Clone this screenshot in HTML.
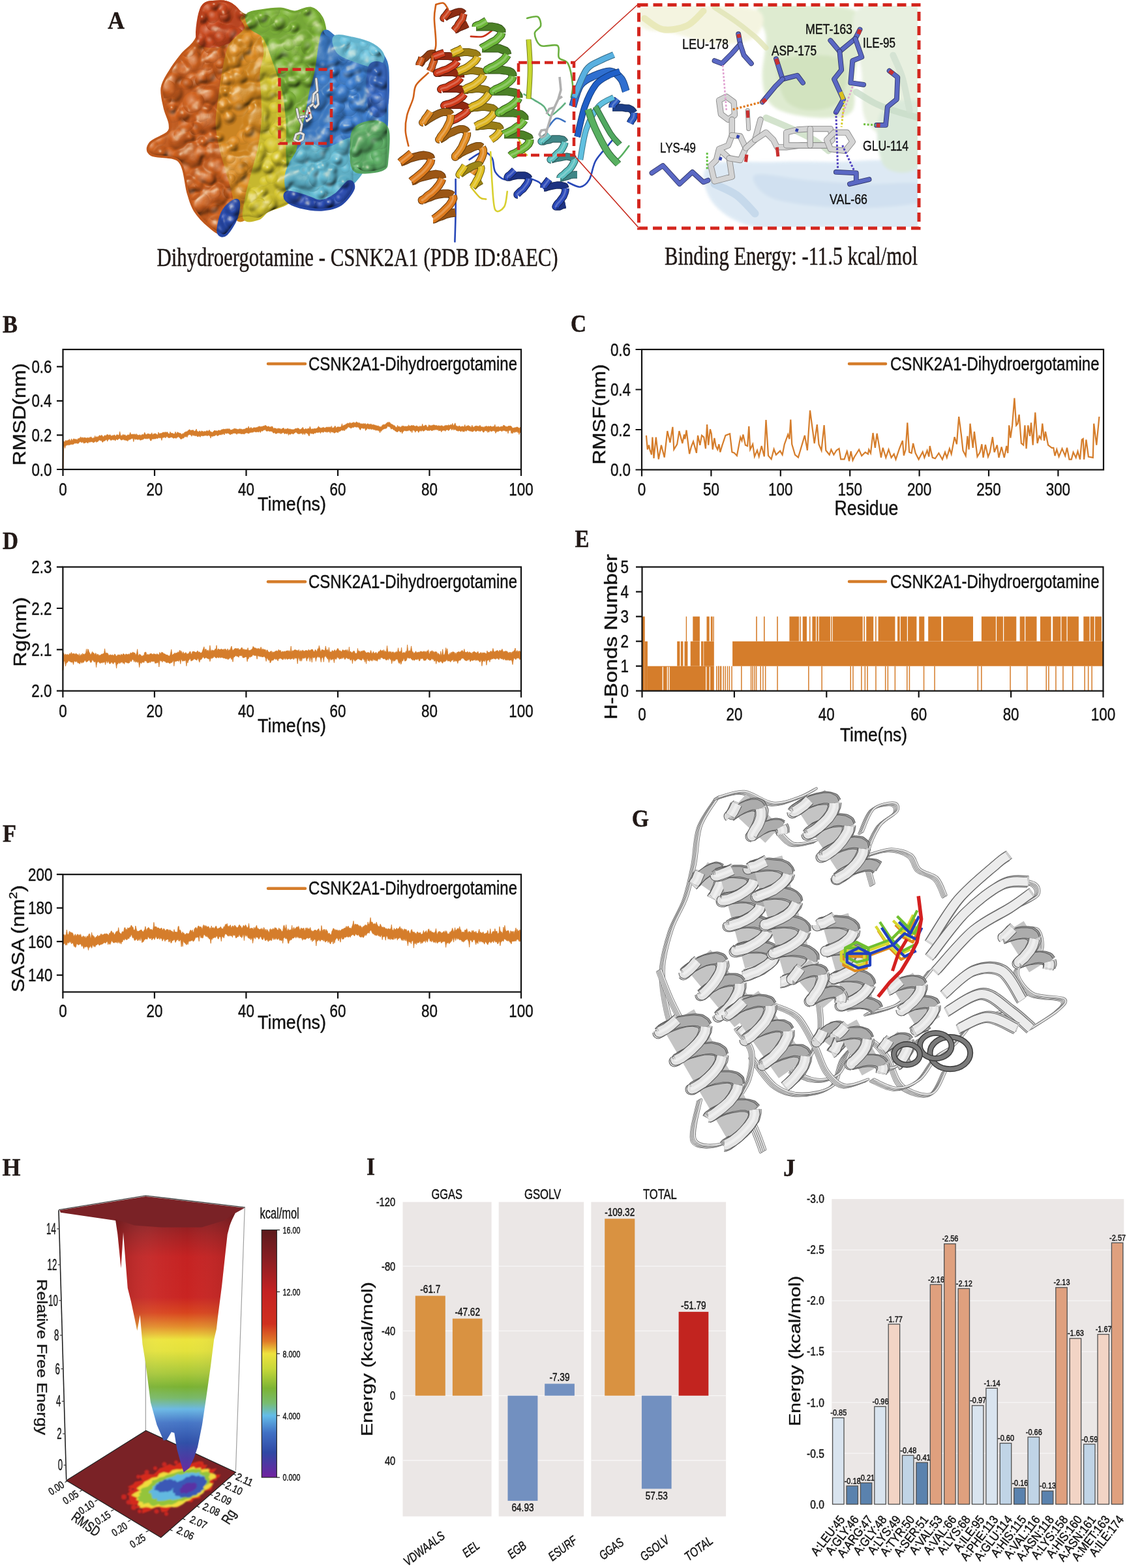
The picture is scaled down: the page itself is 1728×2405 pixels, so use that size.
<!DOCTYPE html>
<html><head><meta charset="utf-8"><title>Figure</title><style>html,body{margin:0;padding:0;background:#fff}svg{display:block}text{stroke:#151515;stroke-width:0.45px;stroke-linejoin:round}</style></head><body>
<svg width="1728" height="2405" viewBox="0 0 1728 2405">
<rect width="1728" height="2405" fill="#fff"/>
<text x="4.0" y="510.0" font-size="38" font-family="'Liberation Serif', 'Times New Roman', serif" fill="#231815" font-weight="bold" textLength="23.0" lengthAdjust="spacingAndGlyphs">B</text>
<path d="M97.6 676.7 98.6 677.7 99.6 677.4 100.6 675.3 101.6 676.4 102.6 675.5 103.6 676.0 104.6 675.1 105.6 675.1 106.6 673.6 107.6 676.5 108.6 676.1 109.6 672.9 110.6 675.2 111.6 675.4 112.6 673.1 113.6 673.1 114.6 673.8 115.6 674.1 116.6 673.3 117.6 674.4 118.6 674.5 119.6 672.6 120.6 673.1 121.6 672.0 122.6 672.2 123.6 669.9 124.6 672.8 125.6 670.8 126.6 671.0 127.6 672.5 128.6 670.9 129.6 671.3 130.6 671.6 131.6 671.4 132.6 672.1 133.6 671.7 134.6 671.2 135.6 671.6 136.6 672.2 137.6 670.6 138.6 671.3 139.6 669.8 140.6 672.0 141.6 671.8 142.6 672.7 143.6 671.1 144.7 671.9 145.7 668.4 146.7 671.3 147.7 670.3 148.7 669.4 149.7 670.9 150.7 669.6 151.7 668.6 152.7 667.7 153.7 668.3 154.7 668.7 155.7 667.3 156.7 668.1 157.7 669.6 158.7 670.2 159.7 668.6 160.7 667.7 161.7 668.3 162.7 668.2 163.7 666.7 164.7 666.7 165.7 666.7 166.7 668.2 167.7 667.2 168.7 666.6 169.7 668.2 170.7 668.4 171.7 668.8 172.7 667.5 173.7 668.4 174.7 667.1 175.7 667.0 176.7 669.1 177.7 668.8 178.7 666.9 179.7 666.8 180.7 667.1 181.7 667.9 182.7 666.8 183.7 661.9 184.7 667.0 185.7 668.9 186.7 667.7 187.7 668.2 188.7 666.1 189.7 667.4 190.7 667.3 191.7 666.7 192.8 668.5 193.8 668.4 194.8 667.9 195.8 667.0 196.8 666.8 197.8 667.8 198.8 666.1 199.8 663.3 200.8 667.1 201.8 666.1 202.8 666.1 203.8 666.2 204.8 666.5 205.8 665.4 206.8 666.8 207.8 666.9 208.8 665.2 209.8 667.7 210.8 666.6 211.8 667.8 212.8 667.6 213.8 667.2 214.8 666.7 215.8 668.6 216.8 667.4 217.8 666.3 218.8 666.5 219.8 666.9 220.8 665.7 221.8 663.2 222.8 665.5 223.8 666.4 224.8 666.8 225.8 665.5 226.8 665.3 227.8 665.4 228.8 665.8 229.8 666.2 230.8 666.0 231.8 666.1 232.8 663.7 233.8 667.0 234.8 666.4 235.8 665.3 236.8 665.5 237.8 664.9 238.8 665.2 239.8 666.0 240.8 666.5 241.9 667.3 242.9 662.9 243.9 665.8 244.9 664.7 245.9 664.7 246.9 665.0 247.9 664.3 248.9 664.1 249.9 662.9 250.9 663.1 251.9 664.1 252.9 662.5 253.9 663.0 254.9 663.4 255.9 662.7 256.9 662.9 257.9 665.0 258.9 665.3 259.9 665.7 260.9 662.3 261.9 664.4 262.9 664.3 263.9 664.5 264.9 664.8 265.9 665.2 266.9 665.8 267.9 665.3 268.9 662.2 269.9 664.8 270.9 665.3 271.9 662.6 272.9 663.8 273.9 663.6 274.9 664.4 275.9 664.5 276.9 664.6 277.9 666.0 278.9 666.2 279.9 665.4 280.9 664.6 281.9 665.5 282.9 662.9 283.9 663.2 284.9 662.0 285.9 662.3 286.9 661.8 287.9 661.0 288.9 660.0 290.0 658.9 291.0 659.1 292.0 660.6 293.0 659.9 294.0 660.1 295.0 660.1 296.0 659.5 297.0 660.4 298.0 662.1 299.0 660.8 300.0 660.9 301.0 658.0 302.0 661.5 303.0 661.4 304.0 663.0 305.0 661.5 306.0 660.9 307.0 661.6 308.0 662.7 309.0 660.7 310.0 661.9 311.0 661.3 312.0 662.9 313.0 661.4 314.0 661.7 315.0 662.2 316.0 661.4 317.0 660.7 318.0 660.6 319.0 661.9 320.0 660.5 321.0 659.4 322.0 661.2 323.0 662.6 324.0 662.1 325.0 663.5 326.0 663.1 327.0 662.1 328.0 661.1 329.0 660.0 330.0 661.0 331.0 660.8 332.0 660.9 333.0 661.1 334.0 661.2 335.0 659.9 336.0 659.9 337.0 660.7 338.0 660.2 339.1 659.5 340.1 658.8 341.1 659.1 342.1 658.3 343.1 658.2 344.1 658.6 345.1 658.5 346.1 657.9 347.1 658.4 348.1 657.6 349.1 658.3 350.1 657.6 351.1 658.4 352.1 657.5 353.1 659.8 354.1 659.6 355.1 659.3 356.1 659.6 357.1 658.1 358.1 658.9 359.1 657.0 360.1 657.9 361.1 657.5 362.1 658.0 363.1 658.2 364.1 658.5 365.1 659.0 366.1 658.2 367.1 657.9 368.1 657.9 369.1 658.2 370.1 658.1 371.1 658.8 372.1 658.9 373.1 658.5 374.1 658.3 375.1 658.1 376.1 658.3 377.1 656.5 378.1 657.1 379.1 656.4 380.1 657.2 381.1 653.9 382.1 656.4 383.1 657.5 384.1 656.1 385.1 655.4 386.1 657.3 387.2 657.1 388.2 656.5 389.2 655.7 390.2 656.1 391.2 656.0 392.2 656.0 393.2 655.9 394.2 655.0 395.2 656.3 396.2 654.0 397.2 654.6 398.2 653.6 399.2 654.7 400.2 655.1 401.2 653.9 402.2 654.4 403.2 653.7 404.2 653.5 405.2 653.4 406.2 652.4 407.2 652.5 408.2 653.2 409.2 653.8 410.2 654.8 411.2 653.8 412.2 654.0 413.2 655.4 414.2 654.5 415.2 655.3 416.2 654.2 417.2 653.8 418.2 655.1 419.2 657.6 420.2 656.6 421.2 657.0 422.2 657.1 423.2 656.9 424.2 657.9 425.2 658.3 426.2 656.7 427.2 657.4 428.2 657.7 429.2 657.0 430.2 658.4 431.2 658.2 432.2 658.1 433.2 657.0 434.2 656.8 435.3 656.7 436.3 658.7 437.3 659.0 438.3 657.4 439.3 658.6 440.3 657.6 441.3 656.8 442.3 658.1 443.3 658.5 444.3 657.7 445.3 658.4 446.3 658.7 447.3 658.8 448.3 658.9 449.3 658.9 450.3 658.9 451.3 658.6 452.3 657.6 453.3 657.6 454.3 657.2 455.3 657.4 456.3 656.6 457.3 657.1 458.3 657.2 459.3 658.7 460.3 658.7 461.3 658.2 462.3 657.4 463.3 657.2 464.3 655.2 465.3 658.0 466.3 658.3 467.3 659.0 468.3 657.4 469.3 657.6 470.3 658.5 471.3 658.1 472.3 657.0 473.3 657.5 474.3 657.4 475.3 654.1 476.3 657.1 477.3 658.5 478.3 658.1 479.3 657.8 480.3 658.3 481.3 657.3 482.3 657.6 483.3 657.5 484.4 657.5 485.4 657.2 486.4 656.4 487.4 655.9 488.4 653.7 489.4 655.9 490.4 655.6 491.4 656.6 492.4 656.8 493.4 656.1 494.4 656.3 495.4 655.2 496.4 655.8 497.4 656.2 498.4 656.6 499.4 656.0 500.4 654.9 501.4 655.6 502.4 655.2 503.4 654.9 504.4 655.7 505.4 655.1 506.4 654.7 507.4 656.5 508.4 653.4 509.4 656.5 510.4 656.5 511.4 655.8 512.4 655.9 513.4 653.4 514.4 653.8 515.4 657.2 516.4 655.3 517.4 654.9 518.4 654.8 519.4 654.9 520.4 655.0 521.4 655.1 522.4 654.7 523.4 653.9 524.4 649.8 525.4 654.1 526.4 652.8 527.4 652.1 528.4 652.0 529.4 651.9 530.4 650.3 531.4 650.9 532.5 648.9 533.5 649.4 534.5 649.2 535.5 649.6 536.5 647.9 537.5 648.8 538.5 649.8 539.5 648.5 540.5 648.4 541.5 648.5 542.5 647.3 543.5 648.9 544.5 648.8 545.5 648.2 546.5 646.8 547.5 648.0 548.5 648.0 549.5 649.4 550.5 647.9 551.5 649.5 552.5 649.3 553.5 650.6 554.5 649.8 555.5 650.0 556.5 650.7 557.5 649.2 558.5 650.4 559.5 649.8 560.5 649.7 561.5 651.9 562.5 650.4 563.5 649.9 564.5 650.1 565.5 650.9 566.5 650.7 567.5 651.2 568.5 649.9 569.5 651.0 570.5 651.7 571.5 651.5 572.5 651.2 573.5 651.7 574.5 652.0 575.5 652.2 576.5 652.7 577.5 652.8 578.5 653.4 579.5 653.1 580.5 653.2 581.6 654.9 582.6 654.0 583.6 654.9 584.6 654.8 585.6 652.9 586.6 651.9 587.6 651.0 588.6 651.7 589.6 651.1 590.6 651.3 591.6 649.9 592.6 649.1 593.6 648.4 594.6 647.4 595.6 648.2 596.6 647.2 597.6 648.0 598.6 649.1 599.6 650.5 600.6 650.5 601.6 651.2 602.6 651.4 603.6 652.9 604.6 652.5 605.6 653.3 606.6 655.5 607.6 655.0 608.6 655.9 609.6 652.3 610.6 654.6 611.6 654.4 612.6 653.9 613.6 655.7 614.6 654.8 615.6 654.7 616.6 652.8 617.6 654.2 618.6 652.9 619.6 654.2 620.6 654.2 621.6 653.7 622.6 654.3 623.6 654.0 624.6 653.8 625.6 654.3 626.6 651.7 627.6 654.1 628.6 653.3 629.7 653.4 630.7 652.6 631.7 652.6 632.7 653.2 633.7 652.1 634.7 653.3 635.7 653.4 636.7 653.9 637.7 653.7 638.7 653.0 639.7 653.2 640.7 655.1 641.7 654.1 642.7 655.3 643.7 653.1 644.7 654.6 645.7 653.6 646.7 654.5 647.7 650.2 648.7 653.7 649.7 653.6 650.7 653.5 651.7 652.0 652.7 652.2 653.7 652.2 654.7 654.9 655.7 655.2 656.7 654.3 657.7 651.5 658.7 652.9 659.7 652.6 660.7 653.1 661.7 652.8 662.7 652.4 663.7 652.2 664.7 651.7 665.7 652.0 666.7 652.0 667.7 653.0 668.7 652.4 669.7 652.4 670.7 653.9 671.7 652.7 672.7 652.9 673.7 653.5 674.7 652.8 675.7 654.1 676.7 652.6 677.8 653.1 678.8 653.4 679.8 654.2 680.8 653.7 681.8 653.1 682.8 652.2 683.8 653.1 684.8 652.2 685.8 652.6 686.8 653.0 687.8 651.4 688.8 652.4 689.8 652.5 690.8 651.4 691.8 651.0 692.8 653.2 693.8 649.3 694.8 652.3 695.8 652.8 696.8 650.8 697.8 648.8 698.8 652.1 699.8 653.8 700.8 653.4 701.8 654.1 702.8 654.4 703.8 653.1 704.8 653.3 705.8 654.9 706.8 654.5 707.8 654.0 708.8 654.3 709.8 653.7 710.8 654.9 711.8 653.9 712.8 651.4 713.8 655.1 714.8 654.0 715.8 653.0 716.8 654.1 717.8 652.2 718.8 653.3 719.8 654.0 720.8 653.7 721.8 655.7 722.8 655.0 723.8 652.1 724.8 655.1 725.8 654.8 726.9 655.4 727.9 653.8 728.9 653.5 729.9 653.4 730.9 653.1 731.9 654.0 732.9 653.8 733.9 653.9 734.9 654.1 735.9 652.1 736.9 654.0 737.9 654.8 738.9 655.0 739.9 654.5 740.9 656.1 741.9 654.4 742.9 655.7 743.9 653.7 744.9 654.6 745.9 653.1 746.9 655.2 747.9 654.2 748.9 653.4 749.9 654.6 750.9 654.1 751.9 653.6 752.9 653.9 753.9 654.5 754.9 654.9 755.9 654.0 756.9 654.2 757.9 653.9 758.9 651.2 759.9 656.0 760.9 654.3 761.9 655.1 762.9 655.0 763.9 653.7 764.9 654.7 765.9 655.5 766.9 654.8 767.9 654.8 768.9 653.8 769.9 654.6 770.9 654.3 771.9 652.0 772.9 652.7 773.9 652.9 775.0 653.7 776.0 654.7 777.0 654.3 778.0 655.1 779.0 653.7 780.0 653.4 781.0 653.5 782.0 653.4 783.0 653.4 784.0 654.0 785.0 655.4 786.0 656.4 787.0 657.1 788.0 655.8 789.0 656.3 790.0 656.0 791.0 655.4 792.0 655.3 793.0 655.1 794.0 655.3 795.0 656.2 796.0 656.9 797.0 656.6 798.0 655.0 799.0 656.1 799.0 662.6 798.0 663.4 797.0 663.2 796.0 666.5 795.0 662.4 794.0 663.7 793.0 661.5 792.0 662.2 791.0 663.0 790.0 661.2 789.0 663.7 788.0 661.9 787.0 663.1 786.0 665.0 785.0 663.0 784.0 664.7 783.0 659.1 782.0 660.7 781.0 659.7 780.0 660.8 779.0 664.8 778.0 660.6 777.0 661.3 776.0 661.4 775.0 661.2 773.9 660.1 772.9 660.8 771.9 660.2 770.9 659.9 769.9 661.7 768.9 661.5 767.9 660.3 766.9 660.5 765.9 660.5 764.9 661.3 763.9 661.8 762.9 661.8 761.9 661.7 760.9 662.6 759.9 664.5 758.9 660.6 757.9 661.5 756.9 660.4 755.9 660.6 754.9 661.2 753.9 661.2 752.9 662.0 751.9 660.5 750.9 659.9 749.9 662.9 748.9 660.6 747.9 663.4 746.9 660.2 745.9 661.6 744.9 660.5 743.9 660.2 742.9 661.3 741.9 662.9 740.9 663.0 739.9 661.3 738.9 660.3 737.9 659.8 736.9 661.6 735.9 661.5 734.9 660.6 733.9 661.4 732.9 660.4 731.9 659.9 730.9 661.4 729.9 661.6 728.9 661.8 727.9 659.7 726.9 660.6 725.8 661.4 724.8 661.9 723.8 662.1 722.8 661.4 721.8 660.8 720.8 661.6 719.8 660.6 718.8 660.5 717.8 660.0 716.8 659.2 715.8 660.6 714.8 661.4 713.8 660.8 712.8 659.7 711.8 662.4 710.8 661.3 709.8 662.4 708.8 660.4 707.8 660.5 706.8 662.2 705.8 661.2 704.8 660.7 703.8 660.4 702.8 661.4 701.8 660.8 700.8 660.5 699.8 660.4 698.8 659.0 697.8 658.8 696.8 658.6 695.8 659.9 694.8 657.6 693.8 658.2 692.8 659.9 691.8 657.4 690.8 657.4 689.8 658.6 688.8 659.2 687.8 660.7 686.8 659.5 685.8 658.9 684.8 659.4 683.8 659.6 682.8 661.4 681.8 660.1 680.8 660.0 679.8 660.1 678.8 660.1 677.8 660.8 676.7 662.7 675.7 659.2 674.7 661.0 673.7 659.7 672.7 661.1 671.7 658.8 670.7 659.4 669.7 659.2 668.7 658.4 667.7 659.6 666.7 658.4 665.7 659.9 664.7 659.3 663.7 660.1 662.7 660.4 661.7 660.6 660.7 659.8 659.7 659.5 658.7 660.5 657.7 660.2 656.7 660.1 655.7 660.6 654.7 659.9 653.7 659.6 652.7 659.0 651.7 659.7 650.7 660.8 649.7 660.9 648.7 661.4 647.7 659.7 646.7 660.3 645.7 661.7 644.7 660.2 643.7 660.2 642.7 661.9 641.7 663.4 640.7 661.0 639.7 660.4 638.7 660.9 637.7 661.0 636.7 663.2 635.7 660.1 634.7 660.7 633.7 659.6 632.7 660.0 631.7 663.7 630.7 660.3 629.7 661.8 628.6 660.4 627.6 659.8 626.6 660.1 625.6 661.0 624.6 660.4 623.6 661.1 622.6 660.9 621.6 660.7 620.6 660.6 619.6 659.9 618.6 662.0 617.6 662.4 616.6 665.1 615.6 661.2 614.6 662.7 613.6 662.7 612.6 661.0 611.6 660.7 610.6 661.4 609.6 662.4 608.6 662.4 607.6 662.1 606.6 661.0 605.6 661.0 604.6 658.9 603.6 659.6 602.6 658.6 601.6 657.3 600.6 657.7 599.6 658.2 598.6 655.5 597.6 655.2 596.6 653.9 595.6 654.6 594.6 653.6 593.6 654.9 592.6 657.0 591.6 657.0 590.6 657.7 589.6 657.2 588.6 658.2 587.6 658.0 586.6 659.3 585.6 659.4 584.6 661.6 583.6 660.3 582.6 663.9 581.6 660.8 580.5 660.8 579.5 660.1 578.5 660.2 577.5 659.2 576.5 660.5 575.5 659.5 574.5 658.8 573.5 659.6 572.5 658.0 571.5 658.7 570.5 657.5 569.5 658.9 568.5 658.3 567.5 656.9 566.5 658.4 565.5 657.8 564.5 657.9 563.5 656.2 562.5 658.5 561.5 658.8 560.5 660.5 559.5 656.4 558.5 657.1 557.5 657.1 556.5 657.6 555.5 656.3 554.5 656.5 553.5 657.5 552.5 659.5 551.5 658.5 550.5 656.2 549.5 655.7 548.5 654.2 547.5 655.6 546.5 655.0 545.5 654.8 544.5 654.9 543.5 654.3 542.5 655.4 541.5 655.8 540.5 655.3 539.5 656.1 538.5 656.7 537.5 656.8 536.5 655.8 535.5 655.6 534.5 654.8 533.5 655.1 532.5 656.8 531.4 657.3 530.4 658.8 529.4 657.5 528.4 661.0 527.4 659.0 526.4 660.3 525.4 660.1 524.4 659.9 523.4 659.5 522.4 661.0 521.4 661.3 520.4 661.9 519.4 661.4 518.4 663.8 517.4 663.0 516.4 663.0 515.4 662.2 514.4 663.5 513.4 663.5 512.4 664.4 511.4 663.5 510.4 662.4 509.4 663.0 508.4 662.7 507.4 661.5 506.4 664.4 505.4 661.3 504.4 662.8 503.4 661.9 502.4 662.2 501.4 663.4 500.4 661.9 499.4 662.3 498.4 662.6 497.4 661.5 496.4 662.8 495.4 663.6 494.4 662.5 493.4 662.7 492.4 662.5 491.4 664.7 490.4 662.2 489.4 662.9 488.4 663.2 487.4 663.2 486.4 663.6 485.4 663.0 484.4 663.8 483.3 664.5 482.3 664.0 481.3 664.7 480.3 666.0 479.3 665.0 478.3 664.4 477.3 665.5 476.3 663.8 475.3 664.2 474.3 668.5 473.3 668.2 472.3 665.3 471.3 665.3 470.3 664.0 469.3 664.1 468.3 664.1 467.3 666.7 466.3 664.5 465.3 664.6 464.3 666.7 463.3 663.9 462.3 664.9 461.3 664.6 460.3 664.2 459.3 666.0 458.3 664.0 457.3 666.0 456.3 664.2 455.3 664.2 454.3 662.8 453.3 662.8 452.3 663.9 451.3 664.1 450.3 665.4 449.3 665.7 448.3 665.2 447.3 664.7 446.3 665.5 445.3 666.1 444.3 666.3 443.3 664.9 442.3 667.6 441.3 663.5 440.3 665.2 439.3 665.4 438.3 664.8 437.3 664.7 436.3 665.7 435.3 663.8 434.2 663.4 433.2 664.1 432.2 663.9 431.2 665.3 430.2 665.2 429.2 663.5 428.2 664.4 427.2 663.9 426.2 663.8 425.2 664.2 424.2 665.1 423.2 665.0 422.2 665.1 421.2 663.1 420.2 664.1 419.2 664.2 418.2 663.0 417.2 661.5 416.2 661.7 415.2 661.3 414.2 661.3 413.2 661.7 412.2 661.0 411.2 660.7 410.2 661.2 409.2 661.2 408.2 661.1 407.2 659.6 406.2 658.8 405.2 659.8 404.2 659.2 403.2 660.9 402.2 661.3 401.2 660.6 400.2 661.8 399.2 663.5 398.2 660.5 397.2 662.3 396.2 663.0 395.2 661.9 394.2 662.2 393.2 663.0 392.2 662.0 391.2 662.9 390.2 661.4 389.2 662.4 388.2 662.8 387.2 663.3 386.1 662.7 385.1 663.5 384.1 663.1 383.1 663.4 382.1 664.5 381.1 665.1 380.1 664.1 379.1 664.2 378.1 663.7 377.1 664.0 376.1 664.4 375.1 665.4 374.1 666.0 373.1 664.9 372.1 665.3 371.1 665.6 370.1 665.0 369.1 665.7 368.1 664.0 367.1 665.0 366.1 664.8 365.1 664.5 364.1 664.8 363.1 666.3 362.1 664.8 361.1 664.8 360.1 664.4 359.1 664.1 358.1 664.7 357.1 664.2 356.1 665.8 355.1 665.7 354.1 665.3 353.1 667.0 352.1 665.8 351.1 665.1 350.1 664.7 349.1 664.1 348.1 664.5 347.1 665.1 346.1 664.6 345.1 663.8 344.1 667.0 343.1 664.8 342.1 665.6 341.1 666.5 340.1 665.5 339.1 667.2 338.0 666.5 337.0 666.5 336.0 667.1 335.0 667.7 334.0 668.1 333.0 668.6 332.0 666.6 331.0 667.1 330.0 668.0 329.0 668.2 328.0 668.8 327.0 668.5 326.0 669.6 325.0 668.9 324.0 668.9 323.0 672.1 322.0 668.4 321.0 668.5 320.0 667.3 319.0 668.1 318.0 668.2 317.0 668.3 316.0 667.6 315.0 668.0 314.0 667.9 313.0 667.9 312.0 669.0 311.0 667.5 310.0 669.1 309.0 667.8 308.0 668.2 307.0 670.4 306.0 669.2 305.0 668.3 304.0 669.8 303.0 669.7 302.0 669.1 301.0 667.3 300.0 669.0 299.0 667.4 298.0 668.6 297.0 667.6 296.0 667.9 295.0 666.3 294.0 669.3 293.0 667.3 292.0 666.9 291.0 666.6 290.0 666.2 288.9 667.6 287.9 667.8 286.9 670.8 285.9 668.5 284.9 670.2 283.9 669.8 282.9 669.5 281.9 671.8 280.9 672.1 279.9 671.8 278.9 673.1 277.9 673.2 276.9 673.4 275.9 671.7 274.9 670.9 273.9 669.8 272.9 670.1 271.9 671.1 270.9 670.9 269.9 672.6 268.9 671.4 267.9 671.4 266.9 672.1 265.9 672.2 264.9 671.4 263.9 670.7 262.9 670.7 261.9 670.0 260.9 671.4 259.9 671.4 258.9 670.9 257.9 671.7 256.9 669.7 255.9 669.7 254.9 669.8 253.9 672.0 252.9 669.7 251.9 671.1 250.9 670.8 249.9 671.2 248.9 671.2 247.9 675.4 246.9 671.2 245.9 671.5 244.9 672.0 243.9 671.2 242.9 671.2 241.9 672.7 240.8 672.3 239.8 671.9 238.8 673.1 237.8 672.9 236.8 673.0 235.8 673.3 234.8 673.1 233.8 673.5 232.8 672.9 231.8 676.0 230.8 675.9 229.8 673.7 228.8 672.0 227.8 672.4 226.8 672.5 225.8 673.2 224.8 672.6 223.8 673.1 222.8 673.0 221.8 671.9 220.8 673.0 219.8 673.7 218.8 673.9 217.8 674.6 216.8 674.5 215.8 674.9 214.8 675.2 213.8 673.8 212.8 673.6 211.8 674.6 210.8 674.0 209.8 673.8 208.8 673.2 207.8 674.4 206.8 673.1 205.8 672.8 204.8 677.5 203.8 672.1 202.8 672.7 201.8 672.7 200.8 673.1 199.8 674.1 198.8 673.9 197.8 674.8 196.8 674.2 195.8 676.8 194.8 675.1 193.8 675.5 192.8 675.4 191.7 674.5 190.7 675.2 189.7 674.3 188.7 673.7 187.7 674.7 186.7 674.8 185.7 675.1 184.7 673.9 183.7 672.2 182.7 673.0 181.7 672.9 180.7 674.4 179.7 674.7 178.7 673.5 177.7 674.2 176.7 676.2 175.7 674.1 174.7 674.7 173.7 674.8 172.7 674.1 171.7 674.8 170.7 675.1 169.7 675.4 168.7 674.1 167.7 673.1 166.7 674.2 165.7 674.2 164.7 677.1 163.7 674.3 162.7 674.3 161.7 675.4 160.7 676.1 159.7 676.4 158.7 676.0 157.7 678.3 156.7 678.0 155.7 675.0 154.7 676.3 153.7 675.2 152.7 675.0 151.7 675.0 150.7 676.6 149.7 677.7 148.7 677.2 147.7 678.5 146.7 676.5 145.7 677.4 144.7 678.1 143.6 678.8 142.6 678.7 141.6 677.5 140.6 678.1 139.6 677.0 138.6 678.0 137.6 678.4 136.6 677.5 135.6 678.7 134.6 680.0 133.6 678.7 132.6 678.2 131.6 678.5 130.6 679.5 129.6 679.0 128.6 680.2 127.6 678.5 126.6 677.3 125.6 679.2 124.6 678.0 123.6 677.8 122.6 677.6 121.6 678.5 120.6 679.8 119.6 680.3 118.6 680.1 117.6 679.8 116.6 679.7 115.6 680.1 114.6 679.5 113.6 680.8 112.6 681.3 111.6 681.2 110.6 681.9 109.6 681.3 108.6 681.6 107.6 682.1 106.6 682.6 105.6 682.1 104.6 682.9 103.6 682.2 102.6 682.8 101.6 683.3 100.6 683.2 99.6 687.5 98.6 683.9 97.6 684.2Z" fill="#d57d2b" stroke="#d57d2b" stroke-width="0.8" stroke-linejoin="round"/>
<path d="M96.5 720.0 96.9 699.0 97.2 685.8 97.9 680.6" fill="none" stroke="#d57d2b" stroke-width="2.0" stroke-linejoin="round"/>
<rect x="96.5" y="536.0" width="702.5" height="184.0" fill="none" stroke="#111" stroke-width="2.2"/>
<path d="M96.5 720.0V730.0M237.0 720.0V730.0M377.5 720.0V730.0M518.0 720.0V730.0M658.5 720.0V730.0M799.0 720.0V730.0M96.5 720.0H87.0M96.5 667.4H87.0M96.5 614.9H87.0M96.5 562.3H87.0" stroke="#111" stroke-width="2.2" fill="none"/>
<text x="96.5" y="760.0" font-size="28" font-family="'Liberation Sans', Arial, sans-serif" fill="#111" text-anchor="middle" textLength="12.5" lengthAdjust="spacingAndGlyphs">0</text>
<text x="237.0" y="760.0" font-size="28" font-family="'Liberation Sans', Arial, sans-serif" fill="#111" text-anchor="middle" textLength="24.9" lengthAdjust="spacingAndGlyphs">20</text>
<text x="377.5" y="760.0" font-size="28" font-family="'Liberation Sans', Arial, sans-serif" fill="#111" text-anchor="middle" textLength="24.9" lengthAdjust="spacingAndGlyphs">40</text>
<text x="518.0" y="760.0" font-size="28" font-family="'Liberation Sans', Arial, sans-serif" fill="#111" text-anchor="middle" textLength="24.9" lengthAdjust="spacingAndGlyphs">60</text>
<text x="658.5" y="760.0" font-size="28" font-family="'Liberation Sans', Arial, sans-serif" fill="#111" text-anchor="middle" textLength="24.9" lengthAdjust="spacingAndGlyphs">80</text>
<text x="799.0" y="760.0" font-size="28" font-family="'Liberation Sans', Arial, sans-serif" fill="#111" text-anchor="middle" textLength="37.4" lengthAdjust="spacingAndGlyphs">100</text>
<text x="79.5" y="729.5" font-size="28" font-family="'Liberation Sans', Arial, sans-serif" fill="#111" text-anchor="end" textLength="31.1" lengthAdjust="spacingAndGlyphs">0.0</text>
<text x="79.5" y="676.9" font-size="28" font-family="'Liberation Sans', Arial, sans-serif" fill="#111" text-anchor="end" textLength="31.1" lengthAdjust="spacingAndGlyphs">0.2</text>
<text x="79.5" y="624.4" font-size="28" font-family="'Liberation Sans', Arial, sans-serif" fill="#111" text-anchor="end" textLength="31.1" lengthAdjust="spacingAndGlyphs">0.4</text>
<text x="79.5" y="571.8" font-size="28" font-family="'Liberation Sans', Arial, sans-serif" fill="#111" text-anchor="end" textLength="31.1" lengthAdjust="spacingAndGlyphs">0.6</text>
<line x1="411" y1="558" x2="468" y2="558" stroke="#d57d2b" stroke-width="4.5" stroke-linecap="round"/>
<text x="473.0" y="568.0" font-size="29" font-family="'Liberation Sans', Arial, sans-serif" fill="#111" textLength="320.0" lengthAdjust="spacingAndGlyphs">CSNK2A1-Dihydroergotamine</text>
<text x="395.0" y="783.0" font-size="29.5" font-family="'Liberation Sans', Arial, sans-serif" fill="#111" textLength="105.0" lengthAdjust="spacingAndGlyphs">Time(ns)</text>
<text font-size="31" font-family="'Liberation Sans', Arial, sans-serif" fill="#111" text-anchor="middle" textLength="157.0" lengthAdjust="spacingAndGlyphs" transform="translate(39.0 635.5) rotate(-90) scale(1 0.87)">RMSD(nm)</text>
<text x="875.0" y="508.6" font-size="38" font-family="'Liberation Serif', 'Times New Roman', serif" fill="#231815" font-weight="bold" textLength="24.0" lengthAdjust="spacingAndGlyphs">C</text>
<path d="M990.9 667.9 992.8 689.5 995.0 682.7 996.3 689.5 999.0 697.5 1000.4 670.6 1002.5 702.9 1005.8 670.6 1009.8 704.3 1013.9 682.7 1018.7 701.6 1023.3 661.1 1027.4 678.7 1031.4 654.9 1033.3 689.5 1038.2 681.4 1041.4 661.1 1046.3 680.0 1049.0 666.5 1050.3 673.3 1052.5 659.8 1057.1 696.2 1059.8 685.4 1063.0 677.3 1067.9 694.8 1070.0 667.9 1073.3 682.7 1076.0 667.9 1079.2 670.6 1081.9 688.1 1084.1 651.1 1086.2 682.7 1088.9 658.4 1090.8 665.2 1092.7 689.5 1095.4 671.9 1097.5 684.1 1100.2 689.5 1102.4 681.4 1104.3 693.5 1107.0 684.1 1112.4 667.9 1119.1 665.2 1122.4 693.5 1125.9 694.8 1129.9 698.9 1135.3 670.6 1137.5 676.0 1139.4 666.5 1142.9 682.7 1146.1 684.1 1148.3 653.8 1150.2 689.5 1154.2 681.4 1156.9 700.2 1161.0 690.8 1163.7 700.2 1167.7 684.1 1171.8 700.2 1174.5 644.1 1178.0 698.9 1182.6 704.3 1186.6 688.9 1189.9 697.5 1196.1 691.6 1199.6 697.5 1202.8 681.4 1208.2 666.5 1210.4 673.3 1212.3 643.6 1214.2 681.4 1219.0 697.5 1223.9 701.6 1233.9 667.9 1237.9 690.8 1242.0 629.5 1248.7 680.0 1252.8 651.1 1255.5 681.4 1259.5 690.8 1263.6 652.2 1266.3 690.8 1271.7 697.5 1274.4 689.5 1278.4 697.5 1282.5 690.8 1286.5 688.1 1289.2 704.3 1294.6 704.3 1298.7 692.2 1299.2 693.6 1302.0 707.4 1304.7 692.3 1307.5 706.0 1310.2 700.5 1317.1 689.5 1321.2 699.1 1326.7 693.6 1330.9 696.4 1332.2 689.5 1335.0 695.0 1338.5 664.0 1341.8 686.8 1344.6 664.8 1348.7 688.1 1350.9 701.9 1353.7 686.8 1358.3 701.9 1362.5 689.5 1366.6 701.9 1370.7 696.4 1373.5 704.6 1379.0 688.1 1383.9 675.8 1385.8 698.6 1388.6 689.5 1391.3 648.3 1394.1 693.6 1397.6 695.0 1400.1 679.9 1403.7 695.0 1408.6 704.6 1414.7 693.1 1417.4 701.9 1421.6 690.9 1424.3 700.5 1425.7 684.0 1429.8 701.9 1433.9 703.3 1439.4 695.0 1444.9 704.6 1449.0 693.6 1451.8 701.9 1455.9 688.1 1458.7 696.4 1463.6 670.3 1466.9 681.3 1470.2 639.2 1473.8 666.2 1476.5 690.9 1480.7 699.1 1483.4 668.9 1485.6 689.5 1487.5 649.7 1491.7 686.8 1493.9 662.0 1498.5 700.5 1502.6 693.6 1505.4 681.3 1507.6 701.9 1510.9 682.1 1515.0 700.5 1517.8 693.6 1521.9 670.3 1524.6 693.6 1528.8 682.6 1531.5 701.9 1535.6 685.4 1539.8 701.9 1543.3 684.0 1545.3 695.0 1547.2 652.4 1549.4 671.7 1552.1 652.4 1555.4 610.6 1558.2 652.4 1560.4 649.7 1562.6 635.9 1565.9 679.9 1569.2 682.6 1571.4 652.4 1573.6 688.1 1576.3 652.4 1579.1 668.9 1581.0 648.3 1583.7 682.6 1587.3 632.6 1590.6 679.9 1593.4 668.9 1596.1 673.0 1598.3 649.7 1601.1 675.8 1603.0 662.0 1607.1 682.6 1612.6 686.8 1615.3 686.8 1617.5 699.1 1620.3 689.5 1623.6 700.5 1628.5 688.1 1633.2 699.1 1636.0 686.8 1639.5 704.6 1642.8 704.6 1645.6 693.6 1649.7 701.9 1652.5 692.3 1656.0 704.6 1658.8 674.4 1660.7 673.0 1662.1 704.6 1665.4 674.4 1668.9 700.5 1675.8 701.9 1677.2 649.7 1681.3 682.6 1685.4 639.2" fill="none" stroke="#d57d2b" stroke-width="2.2" stroke-linejoin="miter"/>
<rect x="984.0" y="536.0" width="708.0" height="184.5" fill="none" stroke="#111" stroke-width="2.2"/>
<path d="M984.0 720.5V730.5M1090.4 720.5V730.5M1196.8 720.5V730.5M1303.2 720.5V730.5M1409.6 720.5V730.5M1516.0 720.5V730.5M1622.4 720.5V730.5M984.0 720.5H974.5M984.0 659.0H974.5M984.0 597.5H974.5M984.0 536.0H974.5" stroke="#111" stroke-width="2.2" fill="none"/>
<text x="984.0" y="760.0" font-size="28" font-family="'Liberation Sans', Arial, sans-serif" fill="#111" text-anchor="middle" textLength="12.5" lengthAdjust="spacingAndGlyphs">0</text>
<text x="1090.4" y="760.0" font-size="28" font-family="'Liberation Sans', Arial, sans-serif" fill="#111" text-anchor="middle" textLength="24.9" lengthAdjust="spacingAndGlyphs">50</text>
<text x="1196.8" y="760.0" font-size="28" font-family="'Liberation Sans', Arial, sans-serif" fill="#111" text-anchor="middle" textLength="37.4" lengthAdjust="spacingAndGlyphs">100</text>
<text x="1303.2" y="760.0" font-size="28" font-family="'Liberation Sans', Arial, sans-serif" fill="#111" text-anchor="middle" textLength="37.4" lengthAdjust="spacingAndGlyphs">150</text>
<text x="1409.6" y="760.0" font-size="28" font-family="'Liberation Sans', Arial, sans-serif" fill="#111" text-anchor="middle" textLength="37.4" lengthAdjust="spacingAndGlyphs">200</text>
<text x="1516.0" y="760.0" font-size="28" font-family="'Liberation Sans', Arial, sans-serif" fill="#111" text-anchor="middle" textLength="37.4" lengthAdjust="spacingAndGlyphs">250</text>
<text x="1622.4" y="760.0" font-size="28" font-family="'Liberation Sans', Arial, sans-serif" fill="#111" text-anchor="middle" textLength="37.4" lengthAdjust="spacingAndGlyphs">300</text>
<text x="967.0" y="730.0" font-size="28" font-family="'Liberation Sans', Arial, sans-serif" fill="#111" text-anchor="end" textLength="31.1" lengthAdjust="spacingAndGlyphs">0.0</text>
<text x="967.0" y="668.5" font-size="28" font-family="'Liberation Sans', Arial, sans-serif" fill="#111" text-anchor="end" textLength="31.1" lengthAdjust="spacingAndGlyphs">0.2</text>
<text x="967.0" y="607.0" font-size="28" font-family="'Liberation Sans', Arial, sans-serif" fill="#111" text-anchor="end" textLength="31.1" lengthAdjust="spacingAndGlyphs">0.4</text>
<text x="967.0" y="545.5" font-size="28" font-family="'Liberation Sans', Arial, sans-serif" fill="#111" text-anchor="end" textLength="31.1" lengthAdjust="spacingAndGlyphs">0.6</text>
<line x1="1302" y1="558" x2="1358" y2="558" stroke="#d57d2b" stroke-width="4.5" stroke-linecap="round"/>
<text x="1365.0" y="567.5" font-size="29" font-family="'Liberation Sans', Arial, sans-serif" fill="#111" textLength="320.5" lengthAdjust="spacingAndGlyphs">CSNK2A1-Dihydroergotamine</text>
<text x="1279.6" y="789.9" font-size="31" font-family="'Liberation Sans', Arial, sans-serif" fill="#111" textLength="97.7" lengthAdjust="spacingAndGlyphs">Residue</text>
<text font-size="31" font-family="'Liberation Sans', Arial, sans-serif" fill="#111" text-anchor="middle" textLength="154.0" lengthAdjust="spacingAndGlyphs" transform="translate(928.0 635.5) rotate(-90) scale(1 0.87)">RMSF(nm)</text>
<text x="4.0" y="841.8" font-size="38" font-family="'Liberation Serif', 'Times New Roman', serif" fill="#231815" font-weight="bold" textLength="24.0" lengthAdjust="spacingAndGlyphs">D</text>
<path d="M97.5 1001.5 98.5 1003.8 99.5 1005.4 100.5 1003.0 101.5 1003.8 102.5 1005.2 103.5 1003.2 104.5 1004.6 105.5 1004.9 106.5 1002.2 107.5 1003.7 108.5 1002.0 109.5 1000.5 110.5 1004.4 111.5 1002.3 112.5 1002.8 113.5 1002.2 114.5 1003.3 115.5 1004.0 116.5 1001.8 117.5 1003.6 118.5 1003.7 119.5 1004.1 120.5 1006.2 121.5 1002.5 122.5 1006.7 123.5 1005.1 124.5 1003.4 125.5 1005.9 126.5 1001.9 127.5 1003.9 128.5 1003.0 129.5 1004.3 130.5 1002.4 131.5 1002.2 132.5 995.5 133.5 1002.9 134.5 995.5 135.5 996.2 136.5 1000.2 137.5 1000.9 138.5 1004.3 139.5 1003.4 140.5 1002.0 141.6 999.5 142.6 1001.7 143.6 1001.3 144.6 1002.8 145.6 1004.5 146.6 1001.6 147.6 1002.9 148.6 1005.5 149.6 1003.2 150.6 1003.7 151.6 1005.7 152.6 1004.9 153.6 1005.1 154.6 1004.5 155.6 1003.2 156.6 1003.4 157.6 1002.9 158.6 1002.6 159.6 1001.8 160.6 994.9 161.6 1002.0 162.6 1001.5 163.6 1001.7 164.6 1001.7 165.6 1002.5 166.6 1005.6 167.6 1004.8 168.6 1004.8 169.6 1003.9 170.6 1005.0 171.6 1004.9 172.6 1004.2 173.6 1004.9 174.6 1005.9 175.6 1003.3 176.6 1003.5 177.6 1006.0 178.6 1006.3 179.6 1006.1 180.6 1004.1 181.6 1004.9 182.6 1003.9 183.6 1004.6 184.6 1005.8 185.6 1003.2 186.7 1004.0 187.7 1005.2 188.7 1002.7 189.7 1002.9 190.7 1003.6 191.7 1005.6 192.7 1003.2 193.7 1003.2 194.7 1003.7 195.7 1004.0 196.7 1003.5 197.7 1002.9 198.7 1004.4 199.7 1001.8 200.7 1001.1 201.7 1002.0 202.7 1001.5 203.7 999.9 204.7 1000.9 205.7 1001.5 206.7 1001.1 207.7 1004.4 208.7 1004.1 209.7 1001.3 210.7 995.7 211.7 1004.9 212.7 1005.6 213.7 1003.2 214.7 1004.1 215.7 1004.2 216.7 1006.5 217.7 1006.0 218.7 1006.2 219.7 1005.0 220.7 1005.5 221.7 1000.8 222.7 1000.4 223.7 1000.1 224.7 1003.5 225.7 1004.7 226.7 1003.2 227.7 1004.3 228.7 1004.5 229.7 1002.8 230.7 1003.1 231.7 1002.0 232.8 1003.6 233.8 1003.4 234.8 1004.0 235.8 1002.4 236.8 1003.2 237.8 1003.5 238.8 1003.4 239.8 1004.2 240.8 1002.5 241.8 1003.7 242.8 1004.1 243.8 1004.5 244.8 1000.6 245.8 1002.6 246.8 1002.2 247.8 1000.3 248.8 1000.7 249.8 1001.1 250.8 1002.5 251.8 1002.8 252.8 1003.1 253.8 1003.5 254.8 1004.5 255.8 1004.5 256.8 1004.5 257.8 1006.1 258.8 1005.8 259.8 1006.3 260.8 1005.1 261.8 1000.7 262.8 996.1 263.8 1004.4 264.8 1004.6 265.8 1003.1 266.8 1003.2 267.8 1001.3 268.8 1002.8 269.8 1001.4 270.8 1001.8 271.8 1001.5 272.8 999.7 273.8 1001.6 274.8 999.3 275.8 997.1 276.8 1000.4 277.9 998.5 278.9 1001.0 279.9 1002.9 280.9 999.7 281.9 1003.0 282.9 1001.6 283.9 1002.5 284.9 1000.6 285.9 1002.2 286.9 1003.6 287.9 1002.5 288.9 1003.1 289.9 1001.2 290.9 999.5 291.9 999.2 292.9 1003.0 293.9 1003.2 294.9 999.8 295.9 999.1 296.9 999.4 297.9 999.6 298.9 1000.0 299.9 1000.7 300.9 1000.4 301.9 1000.0 302.9 998.0 303.9 1000.0 304.9 1000.4 305.9 999.9 306.9 1000.6 307.9 1001.8 308.9 1001.3 309.9 1000.0 310.9 997.1 311.9 994.5 312.9 991.9 313.9 998.7 314.9 995.7 315.9 995.5 316.9 998.0 317.9 998.2 318.9 996.8 319.9 1000.1 320.9 997.4 321.9 989.9 323.0 997.3 324.0 999.2 325.0 996.7 326.0 997.7 327.0 997.9 328.0 997.8 329.0 997.4 330.0 995.1 331.0 996.2 332.0 989.8 333.0 998.4 334.0 996.0 335.0 994.9 336.0 996.6 337.0 996.1 338.0 996.6 339.0 995.2 340.0 995.9 341.0 996.3 342.0 996.7 343.0 995.5 344.0 997.8 345.0 995.0 346.0 995.7 347.0 996.7 348.0 998.5 349.0 995.0 350.0 997.3 351.0 998.3 352.0 996.2 353.0 997.2 354.0 993.4 355.0 991.1 356.0 996.0 357.0 998.1 358.0 996.5 359.0 996.0 360.0 994.6 361.0 995.2 362.0 994.3 363.0 995.2 364.0 995.5 365.0 994.0 366.0 996.3 367.0 996.3 368.1 996.2 369.1 995.7 370.1 993.5 371.1 993.3 372.1 995.4 373.1 996.8 374.1 995.3 375.1 997.0 376.1 996.8 377.1 996.3 378.1 996.9 379.1 996.8 380.1 993.6 381.1 997.8 382.1 997.8 383.1 997.4 384.1 997.3 385.1 996.4 386.1 996.0 387.1 994.6 388.1 991.4 389.1 992.7 390.1 993.6 391.1 994.3 392.1 993.7 393.1 994.7 394.1 995.5 395.1 994.4 396.1 995.3 397.1 994.4 398.1 996.3 399.1 995.0 400.1 992.4 401.1 995.3 402.1 997.2 403.1 994.9 404.1 996.5 405.1 996.0 406.1 996.5 407.1 996.4 408.1 1000.5 409.1 996.9 410.1 997.0 411.1 999.8 412.1 999.7 413.1 1000.8 414.2 999.4 415.2 998.9 416.2 998.6 417.2 1001.9 418.2 999.5 419.2 1000.8 420.2 1000.2 421.2 999.5 422.2 998.9 423.2 998.4 424.2 998.2 425.2 998.4 426.2 999.4 427.2 996.2 428.2 997.9 429.2 998.1 430.2 997.4 431.2 1001.1 432.2 999.4 433.2 998.9 434.2 1000.2 435.2 999.1 436.2 998.9 437.2 999.7 438.2 998.5 439.2 998.8 440.2 998.0 441.2 997.9 442.2 999.8 443.2 997.6 444.2 999.4 445.2 998.8 446.2 991.1 447.2 1001.0 448.2 997.9 449.2 998.2 450.2 998.3 451.2 996.9 452.2 996.8 453.2 996.7 454.2 997.4 455.2 997.7 456.2 997.5 457.2 999.1 458.2 996.3 459.3 999.4 460.3 998.7 461.3 997.4 462.3 999.8 463.3 997.8 464.3 996.9 465.3 998.5 466.3 998.7 467.3 999.1 468.3 997.5 469.3 997.8 470.3 997.7 471.3 998.1 472.3 998.8 473.3 996.0 474.3 997.9 475.3 998.0 476.3 997.0 477.3 996.2 478.3 996.3 479.3 996.1 480.3 998.3 481.3 999.5 482.3 999.3 483.3 996.3 484.3 997.3 485.3 999.8 486.3 997.9 487.3 994.7 488.3 996.1 489.3 990.2 490.3 994.2 491.3 998.8 492.3 999.3 493.3 996.6 494.3 996.6 495.3 996.9 496.3 997.2 497.3 997.8 498.3 997.3 499.3 990.9 500.3 996.5 501.3 997.6 502.3 996.1 503.3 1000.5 504.4 992.9 505.4 999.8 506.4 1000.0 507.4 999.7 508.4 1000.6 509.4 997.4 510.4 998.4 511.4 999.3 512.4 997.4 513.4 996.5 514.4 999.4 515.4 997.8 516.4 997.0 517.4 994.7 518.4 994.7 519.4 996.9 520.4 998.2 521.4 997.9 522.4 998.4 523.4 999.7 524.4 998.5 525.4 996.6 526.4 997.2 527.4 997.7 528.4 997.8 529.4 997.2 530.4 996.6 531.4 999.3 532.4 996.2 533.4 998.7 534.4 1000.4 535.4 992.2 536.4 1000.9 537.4 999.0 538.4 1000.1 539.4 1001.2 540.4 1000.4 541.4 999.2 542.4 998.4 543.4 998.8 544.4 1001.8 545.4 1002.3 546.4 1002.0 547.4 1002.3 548.4 994.5 549.5 1000.1 550.5 997.9 551.5 999.2 552.5 1000.7 553.5 998.4 554.5 999.1 555.5 999.1 556.5 997.7 557.5 998.4 558.5 997.6 559.5 999.0 560.5 1000.2 561.5 1001.0 562.5 1001.6 563.5 1000.7 564.5 1000.5 565.5 1001.0 566.5 1001.7 567.5 1001.4 568.5 997.5 569.5 1000.4 570.5 1003.1 571.5 1001.2 572.5 999.2 573.5 1002.2 574.5 1001.8 575.5 1002.1 576.5 1000.0 577.5 1002.4 578.5 1002.6 579.5 1001.1 580.5 999.3 581.5 999.3 582.5 998.5 583.5 996.6 584.5 998.3 585.5 998.6 586.5 997.2 587.5 999.6 588.5 996.4 589.5 1000.7 590.5 998.2 591.5 1000.0 592.5 999.5 593.5 990.4 594.5 997.8 595.6 1000.8 596.6 1000.2 597.6 998.8 598.6 1001.0 599.6 999.3 600.6 1002.2 601.6 1000.1 602.6 999.7 603.6 1000.4 604.6 1002.6 605.6 1000.2 606.6 1001.6 607.6 999.1 608.6 1000.4 609.6 999.4 610.6 993.7 611.6 1000.2 612.6 999.9 613.6 998.8 614.6 1000.6 615.6 993.2 616.6 1002.6 617.6 1001.3 618.6 1000.9 619.6 1000.6 620.6 1001.4 621.6 1000.9 622.6 998.5 623.6 1000.8 624.6 988.9 625.6 997.9 626.6 999.4 627.6 997.6 628.6 999.2 629.6 997.1 630.6 990.9 631.6 997.8 632.6 1000.5 633.6 999.9 634.6 1003.1 635.6 1001.1 636.6 1000.4 637.6 998.7 638.6 1001.5 639.6 1000.4 640.7 1001.0 641.7 999.8 642.7 1000.9 643.7 999.9 644.7 998.7 645.7 999.7 646.7 999.1 647.7 1000.0 648.7 1000.0 649.7 998.8 650.7 998.9 651.7 1000.9 652.7 998.8 653.7 1001.4 654.7 998.4 655.7 999.0 656.7 996.6 657.7 1002.2 658.7 1003.1 659.7 998.9 660.7 999.8 661.7 998.4 662.7 997.8 663.7 1000.6 664.7 998.9 665.7 1001.4 666.7 999.8 667.7 999.8 668.7 999.7 669.7 1000.1 670.7 1004.4 671.7 1001.6 672.7 1002.9 673.7 1004.0 674.7 1005.5 675.7 998.9 676.7 1005.9 677.7 1003.8 678.7 995.8 679.7 1003.3 680.7 1004.6 681.7 1004.0 682.7 1000.1 683.7 993.6 684.7 1000.3 685.8 994.9 686.8 1002.8 687.8 1004.6 688.8 1003.9 689.8 1001.4 690.8 1003.8 691.8 1000.2 692.8 1001.4 693.8 999.9 694.8 999.5 695.8 1000.6 696.8 1000.6 697.8 1003.9 698.8 1001.2 699.8 1003.9 700.8 1000.4 701.8 1000.4 702.8 999.8 703.8 999.4 704.8 1000.8 705.8 999.5 706.8 999.8 707.8 998.0 708.8 997.5 709.8 999.3 710.8 1000.3 711.8 995.5 712.8 1000.1 713.8 1000.6 714.8 1000.6 715.8 1000.7 716.8 999.1 717.8 1001.5 718.8 1000.9 719.8 999.7 720.8 1000.7 721.8 1001.6 722.8 1001.2 723.8 1003.4 724.8 1000.0 725.8 1000.7 726.8 998.9 727.8 1000.1 728.8 1000.6 729.8 1000.9 730.8 1001.8 731.9 1000.3 732.9 999.2 733.9 1002.6 734.9 1002.6 735.9 1001.6 736.9 1001.0 737.9 1000.7 738.9 1003.2 739.9 1001.1 740.9 1001.0 741.9 1001.8 742.9 1000.9 743.9 1001.6 744.9 1002.5 745.9 1003.0 746.9 998.2 747.9 1000.7 748.9 1000.4 749.9 1000.4 750.9 1000.9 751.9 999.0 752.9 998.5 753.9 1000.4 754.9 998.4 755.9 994.5 756.9 998.1 757.9 1000.1 758.9 999.9 759.9 998.6 760.9 998.5 761.9 998.0 762.9 997.5 763.9 999.3 764.9 999.8 765.9 997.1 766.9 999.5 767.9 997.5 768.9 998.1 769.9 995.4 770.9 998.1 771.9 1000.7 772.9 999.0 773.9 999.6 774.9 998.3 775.9 999.3 777.0 998.7 778.0 999.5 779.0 1001.0 780.0 1002.3 781.0 1000.0 782.0 1002.2 783.0 1000.0 784.0 1003.0 785.0 1000.4 786.0 999.4 787.0 1000.0 788.0 998.0 789.0 997.5 790.0 994.0 791.0 1000.2 792.0 999.1 793.0 997.6 794.0 1000.4 795.0 999.0 796.0 998.4 797.0 999.1 798.0 999.4 799.0 1000.8 799.0 1011.6 798.0 1010.5 797.0 1011.8 796.0 1010.2 795.0 1008.8 794.0 1009.3 793.0 1009.5 792.0 1009.2 791.0 1011.8 790.0 1010.8 789.0 1009.6 788.0 1009.6 787.0 1013.2 786.0 1019.4 785.0 1014.1 784.0 1012.3 783.0 1012.0 782.0 1013.0 781.0 1013.0 780.0 1011.5 779.0 1012.8 778.0 1010.9 777.0 1013.0 775.9 1011.6 774.9 1012.7 773.9 1010.9 772.9 1009.7 771.9 1012.3 770.9 1011.1 769.9 1009.6 768.9 1010.9 767.9 1010.3 766.9 1008.8 765.9 1009.6 764.9 1011.9 763.9 1010.6 762.9 1009.4 761.9 1010.5 760.9 1008.7 759.9 1011.3 758.9 1010.7 757.9 1010.2 756.9 1009.5 755.9 1010.8 754.9 1010.5 753.9 1010.1 752.9 1012.0 751.9 1011.0 750.9 1015.4 749.9 1011.7 748.9 1012.4 747.9 1012.9 746.9 1012.9 745.9 1020.2 744.9 1012.6 743.9 1011.8 742.9 1014.9 741.9 1012.9 740.9 1013.7 739.9 1015.4 738.9 1021.5 737.9 1011.6 736.9 1013.5 735.9 1015.5 734.9 1014.4 733.9 1012.2 732.9 1013.4 731.9 1012.1 730.8 1011.9 729.8 1013.6 728.8 1011.6 727.8 1012.3 726.8 1012.2 725.8 1012.5 724.8 1013.4 723.8 1013.0 722.8 1011.7 721.8 1014.3 720.8 1014.6 719.8 1011.2 718.8 1011.3 717.8 1012.8 716.8 1011.6 715.8 1013.7 714.8 1013.1 713.8 1013.2 712.8 1012.4 711.8 1011.6 710.8 1009.7 709.8 1010.1 708.8 1009.3 707.8 1010.3 706.8 1011.1 705.8 1013.1 704.8 1012.4 703.8 1013.2 702.8 1013.4 701.8 1017.5 700.8 1013.8 699.8 1013.4 698.8 1014.5 697.8 1012.4 696.8 1013.9 695.8 1015.2 694.8 1011.2 693.8 1012.7 692.8 1013.0 691.8 1013.3 690.8 1015.5 689.8 1014.0 688.8 1013.7 687.8 1013.4 686.8 1014.3 685.8 1012.7 684.7 1011.1 683.7 1014.0 682.7 1013.7 681.7 1015.3 680.7 1014.0 679.7 1015.0 678.7 1017.2 677.7 1016.5 676.7 1014.4 675.7 1014.5 674.7 1013.8 673.7 1016.1 672.7 1015.8 671.7 1014.9 670.7 1013.5 669.7 1013.5 668.7 1018.3 667.7 1012.2 666.7 1013.8 665.7 1014.2 664.7 1010.4 663.7 1011.9 662.7 1010.2 661.7 1009.9 660.7 1012.5 659.7 1012.2 658.7 1013.2 657.7 1010.9 656.7 1012.0 655.7 1009.8 654.7 1009.9 653.7 1011.3 652.7 1012.9 651.7 1012.7 650.7 1013.2 649.7 1012.8 648.7 1010.4 647.7 1009.8 646.7 1010.4 645.7 1010.3 644.7 1009.8 643.7 1013.4 642.7 1013.7 641.7 1010.7 640.7 1010.4 639.6 1011.9 638.6 1011.6 637.6 1011.0 636.6 1011.8 635.6 1012.7 634.6 1012.9 633.6 1010.7 632.6 1013.0 631.6 1011.3 630.6 1010.9 629.6 1009.1 628.6 1008.9 627.6 1010.2 626.6 1008.9 625.6 1009.2 624.6 1008.1 623.6 1011.5 622.6 1013.4 621.6 1013.8 620.6 1014.0 619.6 1010.1 618.6 1010.6 617.6 1013.9 616.6 1012.0 615.6 1017.0 614.6 1019.1 613.6 1013.8 612.6 1017.5 611.6 1017.1 610.6 1014.6 609.6 1011.0 608.6 1010.9 607.6 1011.3 606.6 1011.1 605.6 1013.7 604.6 1012.8 603.6 1014.5 602.6 1011.4 601.6 1014.3 600.6 1018.1 599.6 1011.1 598.6 1011.8 597.6 1010.2 596.6 1008.9 595.6 1012.4 594.5 1010.0 593.5 1012.3 592.5 1012.2 591.5 1012.3 590.5 1010.3 589.5 1010.3 588.5 1010.4 587.5 1010.6 586.5 1009.4 585.5 1008.4 584.5 1009.0 583.5 1008.6 582.5 1011.9 581.5 1009.5 580.5 1011.1 579.5 1010.9 578.5 1014.3 577.5 1011.7 576.5 1013.9 575.5 1012.2 574.5 1011.4 573.5 1013.2 572.5 1010.5 571.5 1011.9 570.5 1014.2 569.5 1012.3 568.5 1013.1 567.5 1011.1 566.5 1014.5 565.5 1012.3 564.5 1013.8 563.5 1010.2 562.5 1011.2 561.5 1018.2 560.5 1010.4 559.5 1015.5 558.5 1011.1 557.5 1012.0 556.5 1009.3 555.5 1010.5 554.5 1012.9 553.5 1012.3 552.5 1012.1 551.5 1011.8 550.5 1010.5 549.5 1010.8 548.4 1010.2 547.4 1011.5 546.4 1012.3 545.4 1012.7 544.4 1014.3 543.4 1012.8 542.4 1011.3 541.4 1011.0 540.4 1017.8 539.4 1010.3 538.4 1012.0 537.4 1012.9 536.4 1011.5 535.4 1009.4 534.4 1010.6 533.4 1010.5 532.4 1009.7 531.4 1008.8 530.4 1008.9 529.4 1011.2 528.4 1011.2 527.4 1008.3 526.4 1008.1 525.4 1010.3 524.4 1007.8 523.4 1010.5 522.4 1010.0 521.4 1010.4 520.4 1011.3 519.4 1008.3 518.4 1009.4 517.4 1006.9 516.4 1009.3 515.4 1011.4 514.4 1010.7 513.4 1009.4 512.4 1016.6 511.4 1011.6 510.4 1010.2 509.4 1011.8 508.4 1010.9 507.4 1012.7 506.4 1009.3 505.4 1011.4 504.4 1016.2 503.3 1009.1 502.3 1011.2 501.3 1008.5 500.3 1008.3 499.3 1005.3 498.3 1007.3 497.3 1007.4 496.3 1015.3 495.3 1008.0 494.3 1008.7 493.3 1008.9 492.3 1015.6 491.3 1010.4 490.3 1007.5 489.3 1007.8 488.3 1008.3 487.3 1006.1 486.3 1008.2 485.3 1009.4 484.3 1014.4 483.3 1007.2 482.3 1008.5 481.3 1009.1 480.3 1008.8 479.3 1007.3 478.3 1015.9 477.3 1009.8 476.3 1008.4 475.3 1014.6 474.3 1009.2 473.3 1006.8 472.3 1010.3 471.3 1009.1 470.3 1014.1 469.3 1009.6 468.3 1007.7 467.3 1009.6 466.3 1008.9 465.3 1010.3 464.3 1008.4 463.3 1010.5 462.3 1014.2 461.3 1009.3 460.3 1014.2 459.3 1011.8 458.2 1008.2 457.2 1009.8 456.2 1018.1 455.2 1009.7 454.2 1009.0 453.2 1010.2 452.2 1007.9 451.2 1010.2 450.2 1011.7 449.2 1008.5 448.2 1010.6 447.2 1010.1 446.2 1010.8 445.2 1011.5 444.2 1009.3 443.2 1010.8 442.2 1010.2 441.2 1011.0 440.2 1011.5 439.2 1009.5 438.2 1009.9 437.2 1011.7 436.2 1009.2 435.2 1010.1 434.2 1011.6 433.2 1012.0 432.2 1009.9 431.2 1010.6 430.2 1009.8 429.2 1009.3 428.2 1010.7 427.2 1010.2 426.2 1013.8 425.2 1012.3 424.2 1010.1 423.2 1011.4 422.2 1011.3 421.2 1009.4 420.2 1011.0 419.2 1012.4 418.2 1013.0 417.2 1012.6 416.2 1012.9 415.2 1015.5 414.2 1016.9 413.1 1010.9 412.1 1013.0 411.1 1011.6 410.1 1009.6 409.1 1009.5 408.1 1014.4 407.1 1009.3 406.1 1008.0 405.1 1006.4 404.1 1007.5 403.1 1007.8 402.1 1007.3 401.1 1007.8 400.1 1006.3 399.1 1007.4 398.1 1006.8 397.1 1005.9 396.1 1006.4 395.1 1004.8 394.1 1011.0 393.1 1005.0 392.1 1006.1 391.1 1004.7 390.1 1005.7 389.1 1004.9 388.1 1003.9 387.1 1005.3 386.1 1007.0 385.1 1006.9 384.1 1007.6 383.1 1008.2 382.1 1006.5 381.1 1010.4 380.1 1010.0 379.1 1014.7 378.1 1008.3 377.1 1007.2 376.1 1007.7 375.1 1008.3 374.1 1008.6 373.1 1008.9 372.1 1008.5 371.1 1004.3 370.1 1006.2 369.1 1005.6 368.1 1005.4 367.0 1005.4 366.0 1008.3 365.0 1007.0 364.0 1006.3 363.0 1006.9 362.0 1005.2 361.0 1006.0 360.0 1007.1 359.0 1007.7 358.0 1008.6 357.0 1015.2 356.0 1009.1 355.0 1011.6 354.0 1009.4 353.0 1007.6 352.0 1009.9 351.0 1010.1 350.0 1011.5 349.0 1011.3 348.0 1009.2 347.0 1010.8 346.0 1010.1 345.0 1009.7 344.0 1009.2 343.0 1009.1 342.0 1009.4 341.0 1008.1 340.0 1008.6 339.0 1007.8 338.0 1009.3 337.0 1006.9 336.0 1008.7 335.0 1009.2 334.0 1008.1 333.0 1007.7 332.0 1009.4 331.0 1008.8 330.0 1008.5 329.0 1007.5 328.0 1006.5 327.0 1009.0 326.0 1008.4 325.0 1010.2 324.0 1008.3 323.0 1010.4 321.9 1014.6 320.9 1009.6 319.9 1011.1 318.9 1009.9 317.9 1009.8 316.9 1009.4 315.9 1008.0 314.9 1009.2 313.9 1010.1 312.9 1009.5 311.9 1007.3 310.9 1008.4 309.9 1009.6 308.9 1011.1 307.9 1012.0 306.9 1011.4 305.9 1015.8 304.9 1013.2 303.9 1010.0 302.9 1009.9 301.9 1012.8 300.9 1012.0 299.9 1011.7 298.9 1010.9 297.9 1010.5 296.9 1011.3 295.9 1012.6 294.9 1012.7 293.9 1013.6 292.9 1013.8 291.9 1010.6 290.9 1009.9 289.9 1012.5 288.9 1012.9 287.9 1016.7 286.9 1013.1 285.9 1021.6 284.9 1013.5 283.9 1012.3 282.9 1014.0 281.9 1013.0 280.9 1013.7 279.9 1014.3 278.9 1012.4 277.9 1010.8 276.8 1018.3 275.8 1012.9 274.8 1012.0 273.8 1014.6 272.8 1013.5 271.8 1013.5 270.8 1014.2 269.8 1014.1 268.8 1014.8 267.8 1013.7 266.8 1021.7 265.8 1012.5 264.8 1014.4 263.8 1016.0 262.8 1016.4 261.8 1016.2 260.8 1017.8 259.8 1017.2 258.8 1016.8 257.8 1015.7 256.8 1016.6 255.8 1016.0 254.8 1016.6 253.8 1014.9 252.8 1014.5 251.8 1014.1 250.8 1013.9 249.8 1013.3 248.8 1015.8 247.8 1013.0 246.8 1014.2 245.8 1011.7 244.8 1014.7 243.8 1023.0 242.8 1014.1 241.8 1016.8 240.8 1015.7 239.8 1017.2 238.8 1016.8 237.8 1017.4 236.8 1014.1 235.8 1014.5 234.8 1014.2 233.8 1014.7 232.8 1014.3 231.7 1014.1 230.7 1016.4 229.7 1014.0 228.7 1016.4 227.7 1016.2 226.7 1016.6 225.7 1016.8 224.7 1014.3 223.7 1013.7 222.7 1014.1 221.7 1013.1 220.7 1016.5 219.7 1014.9 218.7 1016.2 217.7 1015.2 216.7 1017.8 215.7 1015.8 214.7 1017.5 213.7 1023.6 212.7 1016.5 211.7 1014.5 210.7 1016.4 209.7 1014.2 208.7 1015.1 207.7 1015.8 206.7 1011.9 205.7 1015.3 204.7 1012.3 203.7 1011.7 202.7 1011.0 201.7 1014.4 200.7 1014.6 199.7 1012.3 198.7 1016.4 197.7 1016.7 196.7 1017.3 195.7 1016.6 194.7 1016.8 193.7 1015.9 192.7 1015.8 191.7 1014.4 190.7 1018.7 189.7 1016.1 188.7 1017.4 187.7 1015.8 186.7 1015.0 185.6 1016.5 184.6 1015.3 183.6 1018.1 182.6 1016.3 181.6 1016.6 180.6 1018.8 179.6 1017.1 178.6 1025.1 177.6 1017.8 176.6 1015.5 175.6 1015.6 174.6 1016.5 173.6 1018.4 172.6 1016.9 171.6 1016.1 170.6 1015.4 169.6 1017.3 168.6 1018.2 167.6 1017.5 166.6 1014.8 165.6 1014.2 164.6 1017.1 163.6 1013.8 162.6 1014.2 161.6 1019.6 160.6 1014.8 159.6 1015.5 158.6 1016.4 157.6 1014.9 156.6 1017.2 155.6 1016.0 154.6 1016.2 153.6 1017.8 152.6 1016.2 151.6 1015.8 150.6 1014.1 149.6 1016.0 148.6 1016.6 147.6 1023.6 146.6 1014.9 145.6 1014.8 144.6 1015.8 143.6 1014.2 142.6 1012.9 141.6 1011.4 140.5 1015.0 139.5 1016.3 138.5 1015.8 137.5 1013.1 136.5 1012.5 135.5 1013.2 134.5 1014.5 133.5 1014.2 132.5 1015.8 131.5 1014.1 130.5 1012.7 129.5 1013.5 128.5 1015.4 127.5 1016.4 126.5 1015.0 125.5 1017.3 124.5 1015.7 123.5 1015.1 122.5 1018.3 121.5 1017.7 120.5 1016.6 119.5 1017.1 118.5 1015.6 117.5 1013.6 116.5 1015.3 115.5 1014.9 114.5 1013.9 113.5 1014.4 112.5 1019.4 111.5 1015.6 110.5 1015.5 109.5 1015.9 108.5 1015.4 107.5 1014.6 106.5 1014.3 105.5 1013.6 104.5 1014.1 103.5 1015.9 102.5 1016.6 101.5 1017.4 100.5 1021.9 99.5 1014.0 98.5 1014.2 97.5 1013.0Z" fill="#d57d2b" stroke="#d57d2b" stroke-width="0.8" stroke-linejoin="round"/>
<path d="M96.4 1028.0 97.5 1012.2" fill="none" stroke="#d57d2b" stroke-width="2.0" stroke-linejoin="round"/>
<rect x="96.4" y="869.6" width="702.6" height="190.1" fill="none" stroke="#111" stroke-width="2.2"/>
<path d="M96.4 1059.7V1069.7M236.9 1059.7V1069.7M377.4 1059.7V1069.7M518.0 1059.7V1069.7M658.5 1059.7V1069.7M799.0 1059.7V1069.7M96.4 1059.7H86.9M96.4 996.3H86.9M96.4 933.0H86.9M96.4 869.6H86.9" stroke="#111" stroke-width="2.2" fill="none"/>
<text x="96.4" y="1099.7" font-size="28" font-family="'Liberation Sans', Arial, sans-serif" fill="#111" text-anchor="middle" textLength="12.5" lengthAdjust="spacingAndGlyphs">0</text>
<text x="236.9" y="1099.7" font-size="28" font-family="'Liberation Sans', Arial, sans-serif" fill="#111" text-anchor="middle" textLength="24.9" lengthAdjust="spacingAndGlyphs">20</text>
<text x="377.4" y="1099.7" font-size="28" font-family="'Liberation Sans', Arial, sans-serif" fill="#111" text-anchor="middle" textLength="24.9" lengthAdjust="spacingAndGlyphs">40</text>
<text x="518.0" y="1099.7" font-size="28" font-family="'Liberation Sans', Arial, sans-serif" fill="#111" text-anchor="middle" textLength="24.9" lengthAdjust="spacingAndGlyphs">60</text>
<text x="658.5" y="1099.7" font-size="28" font-family="'Liberation Sans', Arial, sans-serif" fill="#111" text-anchor="middle" textLength="24.9" lengthAdjust="spacingAndGlyphs">80</text>
<text x="799.0" y="1099.7" font-size="28" font-family="'Liberation Sans', Arial, sans-serif" fill="#111" text-anchor="middle" textLength="37.4" lengthAdjust="spacingAndGlyphs">100</text>
<text x="79.4" y="1069.2" font-size="28" font-family="'Liberation Sans', Arial, sans-serif" fill="#111" text-anchor="end" textLength="31.1" lengthAdjust="spacingAndGlyphs">2.0</text>
<text x="79.4" y="1005.8" font-size="28" font-family="'Liberation Sans', Arial, sans-serif" fill="#111" text-anchor="end" textLength="31.1" lengthAdjust="spacingAndGlyphs">2.1</text>
<text x="79.4" y="942.5" font-size="28" font-family="'Liberation Sans', Arial, sans-serif" fill="#111" text-anchor="end" textLength="31.1" lengthAdjust="spacingAndGlyphs">2.2</text>
<text x="79.4" y="879.1" font-size="28" font-family="'Liberation Sans', Arial, sans-serif" fill="#111" text-anchor="end" textLength="31.1" lengthAdjust="spacingAndGlyphs">2.3</text>
<line x1="411" y1="892.3" x2="468" y2="892.3" stroke="#d57d2b" stroke-width="4.5" stroke-linecap="round"/>
<text x="473.0" y="902.3" font-size="29" font-family="'Liberation Sans', Arial, sans-serif" fill="#111" textLength="320.0" lengthAdjust="spacingAndGlyphs">CSNK2A1-Dihydroergotamine</text>
<text x="395.0" y="1122.7" font-size="29.5" font-family="'Liberation Sans', Arial, sans-serif" fill="#111" textLength="105.0" lengthAdjust="spacingAndGlyphs">Time(ns)</text>
<text font-size="31" font-family="'Liberation Sans', Arial, sans-serif" fill="#111" text-anchor="middle" textLength="106.7" lengthAdjust="spacingAndGlyphs" transform="translate(40.0 969.3) rotate(-90) scale(1 0.87)">Rg(nm)</text>
<text x="881.6" y="839.0" font-size="38" font-family="'Liberation Serif', 'Times New Roman', serif" fill="#231815" font-weight="bold" textLength="22.0" lengthAdjust="spacingAndGlyphs">E</text>
<g fill="#d57d2b"><rect x="984.5" y="945.6" width="4.2" height="114.1"/><rect x="988.7" y="983.7" width="4.2" height="76.0"/><rect x="993.0" y="1021.7" width="101.8" height="38.0"/><rect x="1123.1" y="983.7" width="568.4" height="38.0"/><rect x="1038.2" y="983.7" width="4.2" height="38.0"/><rect x="1043.9" y="983.7" width="3.5" height="38.0"/><rect x="1051.7" y="945.6" width="1.4" height="38.0"/><rect x="1049.5" y="983.7" width="4.9" height="38.0"/><rect x="1058.7" y="983.7" width="14.1" height="38.0"/><rect x="1062.3" y="945.6" width="10.6" height="38.0"/><rect x="1075.0" y="983.7" width="3.5" height="38.0"/><rect x="1079.2" y="983.7" width="15.6" height="38.0"/><rect x="1083.5" y="945.6" width="4.2" height="38.0"/><rect x="1089.8" y="945.6" width="2.8" height="38.0"/><rect x="1093.4" y="945.6" width="1.4" height="38.0"/><rect x="1098.2" y="1021.7" width="1.6" height="38.0"/><rect x="1101.1" y="1021.7" width="1.6" height="38.0"/><rect x="1103.9" y="1021.7" width="1.6" height="38.0"/><rect x="1159.2" y="945.6" width="1.6" height="38.0"/><rect x="1171.0" y="945.6" width="1.6" height="38.0"/><rect x="1191.2" y="945.6" width="1.6" height="38.0"/><rect x="1226.2" y="945.6" width="1.6" height="38.0"/><rect x="1240.9" y="945.6" width="1.6" height="38.0"/><rect x="1274.0" y="945.6" width="1.6" height="38.0"/><rect x="1324.4" y="945.6" width="1.6" height="38.0"/><rect x="1342.1" y="945.6" width="1.6" height="38.0"/><rect x="1210.4" y="945.6" width="14.7" height="38.0"/><rect x="1230.7" y="945.6" width="6.3" height="38.0"/><rect x="1245.4" y="945.6" width="27.6" height="38.0"/><rect x="1276.7" y="945.6" width="46.0" height="38.0"/><rect x="1328.2" y="945.6" width="11.0" height="38.0"/><rect x="1346.6" y="945.6" width="25.8" height="38.0"/><rect x="1376.0" y="945.6" width="29.4" height="38.0"/><rect x="1409.2" y="945.6" width="8.1" height="38.0"/><rect x="1423.2" y="945.6" width="19.9" height="38.0"/><rect x="1446.0" y="945.6" width="46.0" height="38.0"/><rect x="1504.9" y="945.6" width="53.4" height="38.0"/><rect x="1563.7" y="945.6" width="25.8" height="38.0"/><rect x="1595.0" y="945.6" width="16.6" height="38.0"/><rect x="1614.2" y="945.6" width="39.7" height="38.0"/><rect x="1661.3" y="945.6" width="27.6" height="38.0"/><rect x="1121.3" y="1021.7" width="1.5" height="38.0"/><rect x="1136.1" y="1021.7" width="1.5" height="38.0"/><rect x="1150.8" y="1021.7" width="1.5" height="38.0"/><rect x="1153.4" y="1021.7" width="1.5" height="38.0"/><rect x="1156.3" y="1021.7" width="1.5" height="38.0"/><rect x="1158.9" y="1021.7" width="1.5" height="38.0"/><rect x="1165.5" y="1021.7" width="1.5" height="38.0"/><rect x="1169.2" y="1021.7" width="1.5" height="38.0"/><rect x="1172.9" y="1021.7" width="1.5" height="38.0"/><rect x="1191.3" y="1021.7" width="1.5" height="38.0"/><rect x="1239.1" y="1021.7" width="1.5" height="38.0"/><rect x="1259.4" y="1021.7" width="1.5" height="38.0"/><rect x="1303.5" y="1021.7" width="1.5" height="38.0"/><rect x="1307.2" y="1021.7" width="1.5" height="38.0"/><rect x="1320.1" y="1021.7" width="1.5" height="38.0"/><rect x="1325.6" y="1021.7" width="1.5" height="38.0"/><rect x="1329.3" y="1021.7" width="1.5" height="38.0"/><rect x="1342.2" y="1021.7" width="1.5" height="38.0"/><rect x="1356.9" y="1021.7" width="1.5" height="38.0"/><rect x="1360.6" y="1021.7" width="1.5" height="38.0"/><rect x="1371.6" y="1021.7" width="1.5" height="38.0"/><rect x="1390.0" y="1021.7" width="1.5" height="38.0"/><rect x="1393.7" y="1021.7" width="1.5" height="38.0"/><rect x="1415.8" y="1021.7" width="1.5" height="38.0"/><rect x="1432.3" y="1021.7" width="1.5" height="38.0"/><rect x="1498.6" y="1021.7" width="1.5" height="38.0"/><rect x="1504.1" y="1021.7" width="1.5" height="38.0"/><rect x="1548.3" y="1021.7" width="1.5" height="38.0"/><rect x="1574.0" y="1021.7" width="1.5" height="38.0"/><rect x="1603.5" y="1021.7" width="1.5" height="38.0"/><rect x="1607.2" y="1021.7" width="1.5" height="38.0"/><rect x="1618.2" y="1021.7" width="1.5" height="38.0"/><rect x="1629.2" y="1021.7" width="1.5" height="38.0"/><rect x="1644.0" y="1021.7" width="1.5" height="38.0"/><rect x="1662.4" y="1021.7" width="1.5" height="38.0"/><rect x="1667.9" y="1021.7" width="1.5" height="38.0"/><rect x="1673.4" y="1021.7" width="1.5" height="38.0"/><rect x="1101.1" y="1021.7" width="1.5" height="38.0"/><rect x="1104.8" y="1021.7" width="1.5" height="38.0"/><rect x="1108.5" y="1021.7" width="1.5" height="38.0"/><rect x="1111.4" y="1021.7" width="1.5" height="38.0"/><rect x="1114.7" y="1021.7" width="1.5" height="38.0"/><rect x="1117.7" y="1021.7" width="1.5" height="38.0"/></g>
<g fill="#fff"><rect x="1250.9" y="945.1" width="1.2" height="38.3"/><rect x="1254.6" y="945.1" width="1.2" height="38.3"/><rect x="1379.7" y="945.1" width="1.2" height="38.3"/><rect x="1390.8" y="945.1" width="1.2" height="38.3"/><rect x="1526.9" y="945.1" width="1.2" height="38.3"/><rect x="1538.0" y="945.1" width="1.2" height="38.3"/><rect x="1571.1" y="945.1" width="1.2" height="38.3"/><rect x="1626.3" y="945.1" width="1.2" height="38.3"/><rect x="1635.5" y="945.1" width="1.2" height="38.3"/><rect x="1670.5" y="945.1" width="1.2" height="38.3"/><rect x="1677.8" y="945.1" width="1.2" height="38.3"/></g>
<g fill="#fff"><rect x="1015.6" y="1022.7" width="1.3" height="36.0"/><rect x="1022.7" y="1022.7" width="1.3" height="36.0"/><rect x="1025.5" y="1022.7" width="1.3" height="36.0"/><rect x="1082.1" y="1022.7" width="1.3" height="36.0"/><rect x="1087.7" y="1022.7" width="1.3" height="36.0"/></g>
<rect x="984.5" y="869.6" width="707.0" height="190.1" fill="none" stroke="#111" stroke-width="2.2"/>
<path d="M984.5 1059.7V1069.7M1125.9 1059.7V1069.7M1267.3 1059.7V1069.7M1408.7 1059.7V1069.7M1550.1 1059.7V1069.7M1691.5 1059.7V1069.7M984.5 1059.7H975.0M984.5 1021.7H975.0M984.5 983.7H975.0M984.5 945.6H975.0M984.5 907.6H975.0M984.5 869.6H975.0" stroke="#111" stroke-width="2.2" fill="none"/>
<text x="984.5" y="1104.7" font-size="28" font-family="'Liberation Sans', Arial, sans-serif" fill="#111" text-anchor="middle" textLength="12.5" lengthAdjust="spacingAndGlyphs">0</text>
<text x="1125.9" y="1104.7" font-size="28" font-family="'Liberation Sans', Arial, sans-serif" fill="#111" text-anchor="middle" textLength="24.9" lengthAdjust="spacingAndGlyphs">20</text>
<text x="1267.3" y="1104.7" font-size="28" font-family="'Liberation Sans', Arial, sans-serif" fill="#111" text-anchor="middle" textLength="24.9" lengthAdjust="spacingAndGlyphs">40</text>
<text x="1408.7" y="1104.7" font-size="28" font-family="'Liberation Sans', Arial, sans-serif" fill="#111" text-anchor="middle" textLength="24.9" lengthAdjust="spacingAndGlyphs">60</text>
<text x="1550.1" y="1104.7" font-size="28" font-family="'Liberation Sans', Arial, sans-serif" fill="#111" text-anchor="middle" textLength="24.9" lengthAdjust="spacingAndGlyphs">80</text>
<text x="1691.5" y="1104.7" font-size="28" font-family="'Liberation Sans', Arial, sans-serif" fill="#111" text-anchor="middle" textLength="37.4" lengthAdjust="spacingAndGlyphs">100</text>
<text x="964.0" y="1069.2" font-size="28" font-family="'Liberation Sans', Arial, sans-serif" fill="#111" text-anchor="end" textLength="12.5" lengthAdjust="spacingAndGlyphs">0</text>
<text x="964.0" y="1031.2" font-size="28" font-family="'Liberation Sans', Arial, sans-serif" fill="#111" text-anchor="end" textLength="12.5" lengthAdjust="spacingAndGlyphs">1</text>
<text x="964.0" y="993.2" font-size="28" font-family="'Liberation Sans', Arial, sans-serif" fill="#111" text-anchor="end" textLength="12.5" lengthAdjust="spacingAndGlyphs">2</text>
<text x="964.0" y="955.1" font-size="28" font-family="'Liberation Sans', Arial, sans-serif" fill="#111" text-anchor="end" textLength="12.5" lengthAdjust="spacingAndGlyphs">3</text>
<text x="964.0" y="917.1" font-size="28" font-family="'Liberation Sans', Arial, sans-serif" fill="#111" text-anchor="end" textLength="12.5" lengthAdjust="spacingAndGlyphs">4</text>
<text x="964.0" y="879.1" font-size="28" font-family="'Liberation Sans', Arial, sans-serif" fill="#111" text-anchor="end" textLength="12.5" lengthAdjust="spacingAndGlyphs">5</text>
<line x1="1302" y1="892" x2="1358" y2="892" stroke="#d57d2b" stroke-width="4.5" stroke-linecap="round"/>
<text x="1365.0" y="901.5" font-size="29" font-family="'Liberation Sans', Arial, sans-serif" fill="#111" textLength="320.5" lengthAdjust="spacingAndGlyphs">CSNK2A1-Dihydroergotamine</text>
<text x="1288.0" y="1136.7" font-size="29.5" font-family="'Liberation Sans', Arial, sans-serif" fill="#111" textLength="103.0" lengthAdjust="spacingAndGlyphs">Time(ns)</text>
<text font-size="31" font-family="'Liberation Sans', Arial, sans-serif" fill="#111" text-anchor="middle" textLength="253.7" lengthAdjust="spacingAndGlyphs" transform="translate(946.0 977.0) rotate(-90) scale(1 0.87)">H-Bonds Number</text>
<text x="4.0" y="1291.0" font-size="38" font-family="'Liberation Serif', 'Times New Roman', serif" fill="#231815" font-weight="bold" textLength="21.0" lengthAdjust="spacingAndGlyphs">F</text>
<path d="M96.4 1433.2 97.4 1434.0 98.4 1433.1 99.4 1435.5 100.4 1434.2 101.4 1432.5 102.4 1426.0 103.4 1432.5 104.4 1434.0 105.4 1432.3 106.4 1428.2 107.4 1430.4 108.4 1429.4 109.4 1430.9 110.5 1430.5 111.5 1431.2 112.5 1434.0 113.5 1436.4 114.5 1434.1 115.5 1432.7 116.5 1436.1 117.5 1435.1 118.5 1432.9 119.5 1433.0 120.5 1435.6 121.5 1433.5 122.5 1435.3 123.5 1432.7 124.5 1436.1 125.5 1437.5 126.5 1437.2 127.5 1435.3 128.5 1436.1 129.5 1438.5 130.5 1435.8 131.5 1439.3 132.5 1437.7 133.5 1435.5 134.5 1436.7 135.5 1434.9 136.5 1432.4 137.6 1432.4 138.6 1439.3 139.6 1437.7 140.6 1430.2 141.6 1436.0 142.6 1434.5 143.6 1436.7 144.6 1436.5 145.6 1439.5 146.6 1437.9 147.6 1436.6 148.6 1437.1 149.6 1434.1 150.6 1436.6 151.6 1435.8 152.6 1435.1 153.6 1435.3 154.6 1432.5 155.6 1432.6 156.6 1434.8 157.6 1433.3 158.6 1433.9 159.6 1432.5 160.6 1432.0 161.6 1433.2 162.6 1431.8 163.6 1432.4 164.7 1432.5 165.7 1434.0 166.7 1434.7 167.7 1431.2 168.7 1432.1 169.7 1429.6 170.7 1427.7 171.7 1429.0 172.7 1432.1 173.7 1430.1 174.7 1432.6 175.7 1433.5 176.7 1432.1 177.7 1429.5 178.7 1429.1 179.7 1427.8 180.7 1429.7 181.7 1422.7 182.7 1429.2 183.7 1431.1 184.7 1431.7 185.7 1432.7 186.7 1430.4 187.7 1428.6 188.7 1429.3 189.7 1428.8 190.7 1423.2 191.8 1422.6 192.8 1427.2 193.8 1424.8 194.8 1427.2 195.8 1422.8 196.8 1424.2 197.8 1423.5 198.8 1422.6 199.8 1423.1 200.8 1419.7 201.8 1419.4 202.8 1422.5 203.8 1421.8 204.8 1425.7 205.8 1426.6 206.8 1426.6 207.8 1420.0 208.8 1423.9 209.8 1428.5 210.8 1427.9 211.8 1428.6 212.8 1428.3 213.8 1427.5 214.8 1427.1 215.8 1426.3 216.8 1426.0 217.8 1428.1 218.9 1428.7 219.9 1429.3 220.9 1426.8 221.9 1425.7 222.9 1420.9 223.9 1425.0 224.9 1428.1 225.9 1424.2 226.9 1423.3 227.9 1422.4 228.9 1423.8 229.9 1426.0 230.9 1425.7 231.9 1425.1 232.9 1426.3 233.9 1427.2 234.9 1423.7 235.9 1414.6 236.9 1422.0 237.9 1421.3 238.9 1421.3 239.9 1421.6 240.9 1423.7 241.9 1423.1 242.9 1423.1 243.9 1423.7 244.9 1424.7 246.0 1424.8 247.0 1423.4 248.0 1423.5 249.0 1426.7 250.0 1426.1 251.0 1424.0 252.0 1425.1 253.0 1426.8 254.0 1428.3 255.0 1425.8 256.0 1425.6 257.0 1426.0 258.0 1425.8 259.0 1429.4 260.0 1425.9 261.0 1426.7 262.0 1427.2 263.0 1428.6 264.0 1428.2 265.0 1429.5 266.0 1430.4 267.0 1425.6 268.0 1429.5 269.0 1429.4 270.0 1429.6 271.0 1430.0 272.1 1429.5 273.1 1421.2 274.1 1420.5 275.1 1428.2 276.1 1426.0 277.1 1427.9 278.1 1431.0 279.1 1432.3 280.1 1429.2 281.1 1431.5 282.1 1431.1 283.1 1433.7 284.1 1432.8 285.1 1433.2 286.1 1431.4 287.1 1431.3 288.1 1433.2 289.1 1431.7 290.1 1431.4 291.1 1428.3 292.1 1426.3 293.1 1427.3 294.1 1429.3 295.1 1426.3 296.1 1429.6 297.1 1430.2 298.1 1424.4 299.2 1423.8 300.2 1422.2 301.2 1423.6 302.2 1425.8 303.2 1421.8 304.2 1420.0 305.2 1420.6 306.2 1422.2 307.2 1421.5 308.2 1421.6 309.2 1423.3 310.2 1426.2 311.2 1420.5 312.2 1418.5 313.2 1421.7 314.2 1419.2 315.2 1421.8 316.2 1419.8 317.2 1422.0 318.2 1421.7 319.2 1420.9 320.2 1421.5 321.2 1425.5 322.2 1422.8 323.2 1426.2 324.2 1420.0 325.2 1424.0 326.3 1422.7 327.3 1422.7 328.3 1424.9 329.3 1423.0 330.3 1421.6 331.3 1420.0 332.3 1422.6 333.3 1424.8 334.3 1424.6 335.3 1423.4 336.3 1423.6 337.3 1422.7 338.3 1421.3 339.3 1423.2 340.3 1424.8 341.3 1424.3 342.3 1424.6 343.3 1420.9 344.3 1422.8 345.3 1418.4 346.3 1417.3 347.3 1418.7 348.3 1416.5 349.3 1421.2 350.3 1420.5 351.3 1421.5 352.3 1419.6 353.4 1418.7 354.4 1422.9 355.4 1422.5 356.4 1420.0 357.4 1420.3 358.4 1423.1 359.4 1419.3 360.4 1419.5 361.4 1421.0 362.4 1421.8 363.4 1423.2 364.4 1422.2 365.4 1421.9 366.4 1418.9 367.4 1418.5 368.4 1420.5 369.4 1420.7 370.4 1423.6 371.4 1423.4 372.4 1421.4 373.4 1419.1 374.4 1420.9 375.4 1420.9 376.4 1418.4 377.4 1419.9 378.4 1422.3 379.4 1422.7 380.5 1422.2 381.5 1416.4 382.5 1423.7 383.5 1424.8 384.5 1423.5 385.5 1423.6 386.5 1424.0 387.5 1423.7 388.5 1426.9 389.5 1422.0 390.5 1424.9 391.5 1423.1 392.5 1421.2 393.5 1419.2 394.5 1424.2 395.5 1423.9 396.5 1424.5 397.5 1425.4 398.5 1425.8 399.5 1424.5 400.5 1425.7 401.5 1423.5 402.5 1425.8 403.5 1426.6 404.5 1422.4 405.5 1424.5 406.5 1427.9 407.6 1425.0 408.6 1429.0 409.6 1425.6 410.6 1427.2 411.6 1429.0 412.6 1430.8 413.6 1426.1 414.6 1424.3 415.6 1427.2 416.6 1425.3 417.6 1426.2 418.6 1423.8 419.6 1425.9 420.6 1424.6 421.6 1422.5 422.6 1423.7 423.6 1423.4 424.6 1425.7 425.6 1426.3 426.6 1426.9 427.6 1423.1 428.6 1425.4 429.6 1424.9 430.6 1425.7 431.6 1428.5 432.6 1428.5 433.6 1428.3 434.7 1420.7 435.7 1418.8 436.7 1422.9 437.7 1425.2 438.7 1418.4 439.7 1426.1 440.7 1428.3 441.7 1424.4 442.7 1426.8 443.7 1426.8 444.7 1426.0 445.7 1426.4 446.7 1425.7 447.7 1419.3 448.7 1427.9 449.7 1424.2 450.7 1422.2 451.7 1426.2 452.7 1424.0 453.7 1423.2 454.7 1421.9 455.7 1421.5 456.7 1423.1 457.7 1420.4 458.7 1423.3 459.7 1426.5 460.7 1425.7 461.8 1423.0 462.8 1424.5 463.8 1424.5 464.8 1424.1 465.8 1423.2 466.8 1427.3 467.8 1427.2 468.8 1423.0 469.8 1426.1 470.8 1422.8 471.8 1424.5 472.8 1425.2 473.8 1423.8 474.8 1426.4 475.8 1422.5 476.8 1427.2 477.8 1427.2 478.8 1428.8 479.8 1427.9 480.8 1428.4 481.8 1426.8 482.8 1426.5 483.8 1426.6 484.8 1427.1 485.8 1428.2 486.8 1426.0 487.8 1425.1 488.9 1424.5 489.9 1430.5 490.9 1427.6 491.9 1429.4 492.9 1419.6 493.9 1425.6 494.9 1428.9 495.9 1426.1 496.9 1425.1 497.9 1426.0 498.9 1429.6 499.9 1425.3 500.9 1427.8 501.9 1427.6 502.9 1432.2 503.9 1432.0 504.9 1430.9 505.9 1432.9 506.9 1433.7 507.9 1433.2 508.9 1428.4 509.9 1426.7 510.9 1424.1 511.9 1424.1 512.9 1427.4 513.9 1425.4 514.9 1427.2 516.0 1426.5 517.0 1426.0 518.0 1427.8 519.0 1428.1 520.0 1426.2 521.0 1428.4 522.0 1427.0 523.0 1427.1 524.0 1425.3 525.0 1425.0 526.0 1425.5 527.0 1424.1 528.0 1423.9 529.0 1423.2 530.0 1423.2 531.0 1420.5 532.0 1423.8 533.0 1421.3 534.0 1420.3 535.0 1422.5 536.0 1423.9 537.0 1422.9 538.0 1424.6 539.0 1423.3 540.0 1420.4 541.0 1417.5 542.0 1412.5 543.1 1420.8 544.1 1417.5 545.1 1417.2 546.1 1418.6 547.1 1417.5 548.1 1418.2 549.1 1418.5 550.1 1419.7 551.1 1421.8 552.1 1419.5 553.1 1420.8 554.1 1421.6 555.1 1424.4 556.1 1421.5 557.1 1421.7 558.1 1419.9 559.1 1420.6 560.1 1418.2 561.1 1420.0 562.1 1418.7 563.1 1421.0 564.1 1414.2 565.1 1417.7 566.1 1417.5 567.1 1413.6 568.1 1407.4 569.1 1415.1 570.2 1414.1 571.2 1414.7 572.2 1418.3 573.2 1416.7 574.2 1417.2 575.2 1416.5 576.2 1418.9 577.2 1414.3 578.2 1417.8 579.2 1419.6 580.2 1421.1 581.2 1420.9 582.2 1421.3 583.2 1417.2 584.2 1419.6 585.2 1421.5 586.2 1422.8 587.2 1421.6 588.2 1423.4 589.2 1421.8 590.2 1422.9 591.2 1425.0 592.2 1424.1 593.2 1424.5 594.2 1425.9 595.2 1424.0 596.2 1424.6 597.3 1425.3 598.3 1424.6 599.3 1424.9 600.3 1418.2 601.3 1425.8 602.3 1426.6 603.3 1427.5 604.3 1423.6 605.3 1425.9 606.3 1425.7 607.3 1425.1 608.3 1423.3 609.3 1426.0 610.3 1424.3 611.3 1424.5 612.3 1422.6 613.3 1421.0 614.3 1425.7 615.3 1423.5 616.3 1426.5 617.3 1424.7 618.3 1428.4 619.3 1426.0 620.3 1424.6 621.3 1426.5 622.3 1425.1 623.3 1426.3 624.4 1429.6 625.4 1427.4 626.4 1427.0 627.4 1429.4 628.4 1432.1 629.4 1430.9 630.4 1426.6 631.4 1425.5 632.4 1429.5 633.4 1429.3 634.4 1430.0 635.4 1429.4 636.4 1431.8 637.4 1431.2 638.4 1433.5 639.4 1429.6 640.4 1429.2 641.4 1431.2 642.4 1430.9 643.4 1430.9 644.4 1430.0 645.4 1432.8 646.4 1433.1 647.4 1432.6 648.4 1431.4 649.4 1427.2 650.5 1431.5 651.5 1429.7 652.5 1429.1 653.5 1427.4 654.5 1431.1 655.5 1430.6 656.5 1425.7 657.5 1424.7 658.5 1427.7 659.5 1429.2 660.5 1427.2 661.5 1429.6 662.5 1429.7 663.5 1430.1 664.5 1430.0 665.5 1431.8 666.5 1429.8 667.5 1428.7 668.5 1424.2 669.5 1430.9 670.5 1433.7 671.5 1429.9 672.5 1429.4 673.5 1428.0 674.5 1430.1 675.5 1428.9 676.5 1431.9 677.6 1430.4 678.6 1430.9 679.6 1429.1 680.6 1428.4 681.6 1431.5 682.6 1427.5 683.6 1431.0 684.6 1427.7 685.6 1431.1 686.6 1432.8 687.6 1431.9 688.6 1433.0 689.6 1429.5 690.6 1430.2 691.6 1427.9 692.6 1427.7 693.6 1423.5 694.6 1426.1 695.6 1429.6 696.6 1427.9 697.6 1422.8 698.6 1428.4 699.6 1426.2 700.6 1425.9 701.6 1424.0 702.6 1423.8 703.6 1426.6 704.7 1421.1 705.7 1425.6 706.7 1426.1 707.7 1430.6 708.7 1429.5 709.7 1429.5 710.7 1429.6 711.7 1430.5 712.7 1426.4 713.7 1426.8 714.7 1426.6 715.7 1424.4 716.7 1428.2 717.7 1431.8 718.7 1428.9 719.7 1428.4 720.7 1429.5 721.7 1430.0 722.7 1430.9 723.7 1427.0 724.7 1429.8 725.7 1426.8 726.7 1431.1 727.7 1429.1 728.7 1431.2 729.7 1428.2 730.7 1431.4 731.8 1431.1 732.8 1432.2 733.8 1428.6 734.8 1425.3 735.8 1432.2 736.8 1429.6 737.8 1430.3 738.8 1432.0 739.8 1430.4 740.8 1429.2 741.8 1432.5 742.8 1431.9 743.8 1432.3 744.8 1431.5 745.8 1430.8 746.8 1431.5 747.8 1427.1 748.8 1431.7 749.8 1432.7 750.8 1431.3 751.8 1424.6 752.8 1432.5 753.8 1432.8 754.8 1429.9 755.8 1428.5 756.8 1428.5 757.8 1429.4 758.9 1424.4 759.9 1428.5 760.9 1429.0 761.9 1427.9 762.9 1433.1 763.9 1431.2 764.9 1431.4 765.9 1421.2 766.9 1427.2 767.9 1429.4 768.9 1429.0 769.9 1431.7 770.9 1430.2 771.9 1422.0 772.9 1428.2 773.9 1419.4 774.9 1425.6 775.9 1428.9 776.9 1427.8 777.9 1428.1 778.9 1427.1 779.9 1427.5 780.9 1432.4 781.9 1431.9 782.9 1427.5 783.9 1430.1 784.9 1428.3 786.0 1429.9 787.0 1428.2 788.0 1432.7 789.0 1428.7 790.0 1427.0 791.0 1423.2 792.0 1430.2 793.0 1425.3 794.0 1427.7 795.0 1428.2 796.0 1427.6 797.0 1425.9 798.0 1429.3 799.0 1427.0 799.0 1440.5 798.0 1443.2 797.0 1444.1 796.0 1443.9 795.0 1441.9 794.0 1440.4 793.0 1441.0 792.0 1441.2 791.0 1443.8 790.0 1442.1 789.0 1443.9 788.0 1443.1 787.0 1444.2 786.0 1443.2 784.9 1444.4 783.9 1447.9 782.9 1445.3 781.9 1445.3 780.9 1443.6 779.9 1442.3 778.9 1443.6 777.9 1442.6 776.9 1443.1 775.9 1441.1 774.9 1441.3 773.9 1440.1 772.9 1439.9 771.9 1444.1 770.9 1442.8 769.9 1442.8 768.9 1444.6 767.9 1445.1 766.9 1450.6 765.9 1443.9 764.9 1444.0 763.9 1447.1 762.9 1447.8 761.9 1444.6 760.9 1444.5 759.9 1445.3 758.9 1443.0 757.8 1442.6 756.8 1446.1 755.8 1442.8 754.8 1444.5 753.8 1443.9 752.8 1446.5 751.8 1445.3 750.8 1443.8 749.8 1445.1 748.8 1446.6 747.8 1449.2 746.8 1447.4 745.8 1446.1 744.8 1444.2 743.8 1444.9 742.8 1448.2 741.8 1446.1 740.8 1445.3 739.8 1444.6 738.8 1445.1 737.8 1443.5 736.8 1443.2 735.8 1445.3 734.8 1443.3 733.8 1441.6 732.8 1447.5 731.8 1445.8 730.7 1444.9 729.7 1448.9 728.7 1444.8 727.7 1440.8 726.7 1441.9 725.7 1440.6 724.7 1444.2 723.7 1445.2 722.7 1442.1 721.7 1442.4 720.7 1441.1 719.7 1452.8 718.7 1444.5 717.7 1442.7 716.7 1440.3 715.7 1440.0 714.7 1441.9 713.7 1440.8 712.7 1443.2 711.7 1443.2 710.7 1445.2 709.7 1442.8 708.7 1444.5 707.7 1442.3 706.7 1442.0 705.7 1440.7 704.7 1442.1 703.6 1440.2 702.6 1439.0 701.6 1441.0 700.6 1438.3 699.6 1439.8 698.6 1442.6 697.6 1438.6 696.6 1438.4 695.6 1445.1 694.6 1439.6 693.6 1439.0 692.6 1443.5 691.6 1443.5 690.6 1445.7 689.6 1445.7 688.6 1447.9 687.6 1445.2 686.6 1446.2 685.6 1446.8 684.6 1446.3 683.6 1453.2 682.6 1444.4 681.6 1444.1 680.6 1444.1 679.6 1444.3 678.6 1444.1 677.6 1445.9 676.5 1446.5 675.5 1443.1 674.5 1444.3 673.5 1444.5 672.5 1444.8 671.5 1445.1 670.5 1447.1 669.5 1445.2 668.5 1443.1 667.5 1446.4 666.5 1444.5 665.5 1445.1 664.5 1445.3 663.5 1442.6 662.5 1442.6 661.5 1444.9 660.5 1441.9 659.5 1444.0 658.5 1439.7 657.5 1439.4 656.5 1440.1 655.5 1445.2 654.5 1443.0 653.5 1441.0 652.5 1445.7 651.5 1441.6 650.5 1444.1 649.4 1443.3 648.4 1445.2 647.4 1446.7 646.4 1444.2 645.4 1447.6 644.4 1443.9 643.4 1443.7 642.4 1446.0 641.4 1445.5 640.4 1446.6 639.4 1444.6 638.4 1448.8 637.4 1445.0 636.4 1447.7 635.4 1444.4 634.4 1454.1 633.4 1443.3 632.4 1442.9 631.4 1443.4 630.4 1447.7 629.4 1444.2 628.4 1445.4 627.4 1444.2 626.4 1443.4 625.4 1450.6 624.4 1443.9 623.3 1443.1 622.3 1439.1 621.3 1443.2 620.3 1441.0 619.3 1439.8 618.3 1443.0 617.3 1439.7 616.3 1442.5 615.3 1440.9 614.3 1439.0 613.3 1437.9 612.3 1438.5 611.3 1440.1 610.3 1438.8 609.3 1442.1 608.3 1437.7 607.3 1438.8 606.3 1439.0 605.3 1440.7 604.3 1436.5 603.3 1440.9 602.3 1441.2 601.3 1440.0 600.3 1440.7 599.3 1438.5 598.3 1441.4 597.3 1440.4 596.2 1438.9 595.2 1440.7 594.2 1437.3 593.2 1435.2 592.2 1436.5 591.2 1442.2 590.2 1436.2 589.2 1436.3 588.2 1437.3 587.2 1435.7 586.2 1441.4 585.2 1434.1 584.2 1434.9 583.2 1437.2 582.2 1436.2 581.2 1434.4 580.2 1435.7 579.2 1432.4 578.2 1434.6 577.2 1434.8 576.2 1434.9 575.2 1433.7 574.2 1434.2 573.2 1431.5 572.2 1432.7 571.2 1431.6 570.2 1429.6 569.1 1426.9 568.1 1426.8 567.1 1428.0 566.1 1431.6 565.1 1430.6 564.1 1430.7 563.1 1431.7 562.1 1433.3 561.1 1435.2 560.1 1432.2 559.1 1434.9 558.1 1436.5 557.1 1438.3 556.1 1437.4 555.1 1435.9 554.1 1437.6 553.1 1437.1 552.1 1437.1 551.1 1436.1 550.1 1434.0 549.1 1433.6 548.1 1434.7 547.1 1434.2 546.1 1433.2 545.1 1431.8 544.1 1435.1 543.1 1435.5 542.0 1433.4 541.0 1433.9 540.0 1433.4 539.0 1434.9 538.0 1435.2 537.0 1437.7 536.0 1435.8 535.0 1436.8 534.0 1437.5 533.0 1437.2 532.0 1435.4 531.0 1437.3 530.0 1437.4 529.0 1437.6 528.0 1437.2 527.0 1440.3 526.0 1439.9 525.0 1440.8 524.0 1437.6 523.0 1438.9 522.0 1445.2 521.0 1439.0 520.0 1440.0 519.0 1443.2 518.0 1440.4 517.0 1438.4 516.0 1439.1 514.9 1440.6 513.9 1441.9 512.9 1446.4 511.9 1440.9 510.9 1448.0 509.9 1441.5 508.9 1445.1 507.9 1443.5 506.9 1447.9 505.9 1447.1 504.9 1444.8 503.9 1442.8 502.9 1445.7 501.9 1441.9 500.9 1443.5 499.9 1443.4 498.9 1445.2 497.9 1443.4 496.9 1440.6 495.9 1443.5 494.9 1440.9 493.9 1442.0 492.9 1440.7 491.9 1441.9 490.9 1443.8 489.9 1442.3 488.9 1441.1 487.8 1442.6 486.8 1443.7 485.8 1441.5 484.8 1450.8 483.8 1441.6 482.8 1440.9 481.8 1440.5 480.8 1442.9 479.8 1441.0 478.8 1444.4 477.8 1439.6 476.8 1442.3 475.8 1436.8 474.8 1438.9 473.8 1437.9 472.8 1439.8 471.8 1438.3 470.8 1438.7 469.8 1439.0 468.8 1440.7 467.8 1441.1 466.8 1440.2 465.8 1441.0 464.8 1438.5 463.8 1442.3 462.8 1439.6 461.8 1438.6 460.7 1438.4 459.7 1438.3 458.7 1439.2 457.7 1436.5 456.7 1438.4 455.7 1436.2 454.7 1437.1 453.7 1439.1 452.7 1436.4 451.7 1437.1 450.7 1438.8 449.7 1438.9 448.7 1438.9 447.7 1439.5 446.7 1441.9 445.7 1440.5 444.7 1442.7 443.7 1441.2 442.7 1447.1 441.7 1446.8 440.7 1441.5 439.7 1440.0 438.7 1438.7 437.7 1440.1 436.7 1437.6 435.7 1438.6 434.7 1439.1 433.6 1447.0 432.6 1440.3 431.6 1442.7 430.6 1442.6 429.6 1441.2 428.6 1442.5 427.6 1439.0 426.6 1439.8 425.6 1441.1 424.6 1441.0 423.6 1438.5 422.6 1439.7 421.6 1441.3 420.6 1438.3 419.6 1441.4 418.6 1438.5 417.6 1438.0 416.6 1442.6 415.6 1442.4 414.6 1441.1 413.6 1442.7 412.6 1441.5 411.6 1444.3 410.6 1443.2 409.6 1440.7 408.6 1441.6 407.6 1442.5 406.5 1442.7 405.5 1438.9 404.5 1437.0 403.5 1440.7 402.5 1441.4 401.5 1440.5 400.5 1437.8 399.5 1436.6 398.5 1437.2 397.5 1439.9 396.5 1440.4 395.5 1437.9 394.5 1437.5 393.5 1438.0 392.5 1435.7 391.5 1440.3 390.5 1438.5 389.5 1437.0 388.5 1440.7 387.5 1446.8 386.5 1438.4 385.5 1439.3 384.5 1441.6 383.5 1438.1 382.5 1440.1 381.5 1438.5 380.5 1438.6 379.4 1436.2 378.4 1433.5 377.4 1436.4 376.4 1434.1 375.4 1433.8 374.4 1442.7 373.4 1432.9 372.4 1434.0 371.4 1437.3 370.4 1438.5 369.4 1435.5 368.4 1437.0 367.4 1433.4 366.4 1434.1 365.4 1437.0 364.4 1436.2 363.4 1437.7 362.4 1438.5 361.4 1438.6 360.4 1433.6 359.4 1434.7 358.4 1434.6 357.4 1433.6 356.4 1437.8 355.4 1434.4 354.4 1435.9 353.4 1433.8 352.3 1436.1 351.3 1433.6 350.3 1436.0 349.3 1435.7 348.3 1434.3 347.3 1433.0 346.3 1432.5 345.3 1432.5 344.3 1434.7 343.3 1438.8 342.3 1437.6 341.3 1436.7 340.3 1436.3 339.3 1443.9 338.3 1437.0 337.3 1437.0 336.3 1436.0 335.3 1439.8 334.3 1440.2 333.3 1437.1 332.3 1435.1 331.3 1436.7 330.3 1438.5 329.3 1437.6 328.3 1437.9 327.3 1439.1 326.3 1438.2 325.2 1441.3 324.2 1438.9 323.2 1447.1 322.2 1440.5 321.2 1440.1 320.2 1439.4 319.2 1437.1 318.2 1437.5 317.2 1434.4 316.2 1436.8 315.2 1435.5 314.2 1434.7 313.2 1433.1 312.2 1434.5 311.2 1438.6 310.2 1438.9 309.2 1437.2 308.2 1438.7 307.2 1435.2 306.2 1434.8 305.2 1443.9 304.2 1438.0 303.2 1437.3 302.2 1437.2 301.2 1438.4 300.2 1437.1 299.2 1439.5 298.1 1442.0 297.1 1443.6 296.1 1444.0 295.1 1442.1 294.1 1442.3 293.1 1443.2 292.1 1442.8 291.1 1444.2 290.1 1442.6 289.1 1444.7 288.1 1448.7 287.1 1445.1 286.1 1449.3 285.1 1448.4 284.1 1446.5 283.1 1446.3 282.1 1445.1 281.1 1442.0 280.1 1451.7 279.1 1443.9 278.1 1452.1 277.1 1442.1 276.1 1441.4 275.1 1443.6 274.1 1443.2 273.1 1439.7 272.1 1441.9 271.0 1441.5 270.0 1443.4 269.0 1445.5 268.0 1442.0 267.0 1440.5 266.0 1442.1 265.0 1442.8 264.0 1442.4 263.0 1445.9 262.0 1446.5 261.0 1440.3 260.0 1444.3 259.0 1445.0 258.0 1440.7 257.0 1440.3 256.0 1440.7 255.0 1441.9 254.0 1440.8 253.0 1443.9 252.0 1441.3 251.0 1439.1 250.0 1441.0 249.0 1443.3 248.0 1439.8 247.0 1439.3 246.0 1438.5 244.9 1441.0 243.9 1437.4 242.9 1439.2 241.9 1439.9 240.9 1440.0 239.9 1437.5 238.9 1436.3 237.9 1439.1 236.9 1441.3 235.9 1437.9 234.9 1439.6 233.9 1439.7 232.9 1442.0 231.9 1438.3 230.9 1439.4 229.9 1440.1 228.9 1438.8 227.9 1437.8 226.9 1436.2 225.9 1440.6 224.9 1440.4 223.9 1439.7 222.9 1440.4 221.9 1441.1 220.9 1442.0 219.9 1444.6 218.9 1443.8 217.8 1445.9 216.8 1440.0 215.8 1437.3 214.8 1443.1 213.8 1439.6 212.8 1441.3 211.8 1442.7 210.8 1442.7 209.8 1439.1 208.8 1441.1 207.8 1441.2 206.8 1442.8 205.8 1441.4 204.8 1437.3 203.8 1439.0 202.8 1436.9 201.8 1433.5 200.8 1434.4 199.8 1437.2 198.8 1435.9 197.8 1439.8 196.8 1439.2 195.8 1439.6 194.8 1441.5 193.8 1441.3 192.8 1440.6 191.8 1439.2 190.7 1442.3 189.7 1441.1 188.7 1441.3 187.7 1444.9 186.7 1443.9 185.7 1448.1 184.7 1444.0 183.7 1447.2 182.7 1444.8 181.7 1444.3 180.7 1446.7 179.7 1443.2 178.7 1446.2 177.7 1444.9 176.7 1445.1 175.7 1445.8 174.7 1446.2 173.7 1445.7 172.7 1444.9 171.7 1442.4 170.7 1444.1 169.7 1446.5 168.7 1448.7 167.7 1447.9 166.7 1445.4 165.7 1449.0 164.7 1443.8 163.6 1444.5 162.6 1445.6 161.6 1447.0 160.6 1445.7 159.6 1445.8 158.6 1446.8 157.6 1447.7 156.6 1447.9 155.6 1448.5 154.6 1448.4 153.6 1449.0 152.6 1450.1 151.6 1449.5 150.6 1447.5 149.6 1447.9 148.6 1449.3 147.6 1449.2 146.6 1450.5 145.6 1452.7 144.6 1450.8 143.6 1451.9 142.6 1448.4 141.6 1451.3 140.6 1454.3 139.6 1451.9 138.6 1450.2 137.6 1453.3 136.5 1452.1 135.5 1457.4 134.5 1452.0 133.5 1452.4 132.5 1451.1 131.5 1453.0 130.5 1452.2 129.5 1451.9 128.5 1455.3 127.5 1452.4 126.5 1449.1 125.5 1451.9 124.5 1449.0 123.5 1448.1 122.5 1447.7 121.5 1449.0 120.5 1449.6 119.5 1448.4 118.5 1448.2 117.5 1447.0 116.5 1452.1 115.5 1453.3 114.5 1451.2 113.5 1451.7 112.5 1448.3 111.5 1446.0 110.5 1446.3 109.4 1447.9 108.4 1442.9 107.4 1445.7 106.4 1443.0 105.4 1446.9 104.4 1445.3 103.4 1446.3 102.4 1449.9 101.4 1447.5 100.4 1449.9 99.4 1446.2 98.4 1447.4 97.4 1448.3 96.4 1447.9Z" fill="#d57d2b" stroke="#d57d2b" stroke-width="0.8" stroke-linejoin="round"/>
<rect x="96.4" y="1341.2" width="702.6" height="180.3" fill="none" stroke="#111" stroke-width="2.2"/>
<path d="M96.4 1521.5V1531.5M236.9 1521.5V1531.5M377.4 1521.5V1531.5M518.0 1521.5V1531.5M658.5 1521.5V1531.5M799.0 1521.5V1531.5M96.4 1495.7H86.9M96.4 1444.2H86.9M96.4 1392.7H86.9M96.4 1341.2H86.9" stroke="#111" stroke-width="2.2" fill="none"/>
<text x="96.4" y="1560.0" font-size="28" font-family="'Liberation Sans', Arial, sans-serif" fill="#111" text-anchor="middle" textLength="12.5" lengthAdjust="spacingAndGlyphs">0</text>
<text x="236.9" y="1560.0" font-size="28" font-family="'Liberation Sans', Arial, sans-serif" fill="#111" text-anchor="middle" textLength="24.9" lengthAdjust="spacingAndGlyphs">20</text>
<text x="377.4" y="1560.0" font-size="28" font-family="'Liberation Sans', Arial, sans-serif" fill="#111" text-anchor="middle" textLength="24.9" lengthAdjust="spacingAndGlyphs">40</text>
<text x="518.0" y="1560.0" font-size="28" font-family="'Liberation Sans', Arial, sans-serif" fill="#111" text-anchor="middle" textLength="24.9" lengthAdjust="spacingAndGlyphs">60</text>
<text x="658.5" y="1560.0" font-size="28" font-family="'Liberation Sans', Arial, sans-serif" fill="#111" text-anchor="middle" textLength="24.9" lengthAdjust="spacingAndGlyphs">80</text>
<text x="799.0" y="1560.0" font-size="28" font-family="'Liberation Sans', Arial, sans-serif" fill="#111" text-anchor="middle" textLength="37.4" lengthAdjust="spacingAndGlyphs">100</text>
<text x="80.4" y="1505.2" font-size="28" font-family="'Liberation Sans', Arial, sans-serif" fill="#111" text-anchor="end" textLength="37.4" lengthAdjust="spacingAndGlyphs">140</text>
<text x="80.4" y="1453.7" font-size="28" font-family="'Liberation Sans', Arial, sans-serif" fill="#111" text-anchor="end" textLength="37.4" lengthAdjust="spacingAndGlyphs">160</text>
<text x="80.4" y="1402.2" font-size="28" font-family="'Liberation Sans', Arial, sans-serif" fill="#111" text-anchor="end" textLength="37.4" lengthAdjust="spacingAndGlyphs">180</text>
<text x="80.4" y="1350.7" font-size="28" font-family="'Liberation Sans', Arial, sans-serif" fill="#111" text-anchor="end" textLength="37.4" lengthAdjust="spacingAndGlyphs">200</text>
<line x1="411" y1="1362.7" x2="468" y2="1362.7" stroke="#d57d2b" stroke-width="4.5" stroke-linecap="round"/>
<text x="473.0" y="1371.8" font-size="29" font-family="'Liberation Sans', Arial, sans-serif" fill="#111" textLength="320.0" lengthAdjust="spacingAndGlyphs">CSNK2A1-Dihydroergotamine</text>
<text x="395.0" y="1578.0" font-size="29.5" font-family="'Liberation Sans', Arial, sans-serif" fill="#111" textLength="105.0" lengthAdjust="spacingAndGlyphs">Time(ns)</text>
<text font-size="31" font-family="'Liberation Sans', Arial, sans-serif" fill="#111" transform="translate(36.5 1522) rotate(-90) scale(1 0.87)">SASA (nm<tspan font-size="20" dy="-12">2</tspan><tspan dy="12">)</tspan></text>
<text x="562.0" y="1802.0" font-size="38" font-family="'Liberation Serif', 'Times New Roman', serif" fill="#231815" font-weight="bold" textLength="13.0" lengthAdjust="spacingAndGlyphs">I</text>
<rect x="617.5" y="1843.6" width="136.1" height="482.2" fill="#ebe7e6"/>
<line x1="617.5" x2="753.6" y1="1942.1" y2="1942.1" stroke="#f7f6f6" stroke-width="1.3"/>
<line x1="617.5" x2="753.6" y1="2041.4" y2="2041.4" stroke="#f7f6f6" stroke-width="1.3"/>
<line x1="617.5" x2="753.6" y1="2140.7" y2="2140.7" stroke="#f7f6f6" stroke-width="1.3"/>
<line x1="617.5" x2="753.6" y1="2240.0" y2="2240.0" stroke="#f7f6f6" stroke-width="1.3"/>
<text x="661.5" y="1839.2" font-size="22.5" font-family="'Liberation Sans', Arial, sans-serif" fill="#111" textLength="47.5" lengthAdjust="spacingAndGlyphs">GGAS</text>
<rect x="764.7" y="1843.6" width="130.5" height="482.2" fill="#ebe7e6"/>
<line x1="764.7" x2="895.2" y1="1942.1" y2="1942.1" stroke="#f7f6f6" stroke-width="1.3"/>
<line x1="764.7" x2="895.2" y1="2041.4" y2="2041.4" stroke="#f7f6f6" stroke-width="1.3"/>
<line x1="764.7" x2="895.2" y1="2140.7" y2="2140.7" stroke="#f7f6f6" stroke-width="1.3"/>
<line x1="764.7" x2="895.2" y1="2240.0" y2="2240.0" stroke="#f7f6f6" stroke-width="1.3"/>
<text x="803.9" y="1839.2" font-size="22.5" font-family="'Liberation Sans', Arial, sans-serif" fill="#111" textLength="56.3" lengthAdjust="spacingAndGlyphs">GSOLV</text>
<rect x="906.3" y="1843.6" width="206.8" height="482.2" fill="#ebe7e6"/>
<line x1="906.3" x2="1113.1" y1="1942.1" y2="1942.1" stroke="#f7f6f6" stroke-width="1.3"/>
<line x1="906.3" x2="1113.1" y1="2041.4" y2="2041.4" stroke="#f7f6f6" stroke-width="1.3"/>
<line x1="906.3" x2="1113.1" y1="2140.7" y2="2140.7" stroke="#f7f6f6" stroke-width="1.3"/>
<line x1="906.3" x2="1113.1" y1="2240.0" y2="2240.0" stroke="#f7f6f6" stroke-width="1.3"/>
<text x="986.0" y="1839.2" font-size="22.5" font-family="'Liberation Sans', Arial, sans-serif" fill="#111" textLength="51.7" lengthAdjust="spacingAndGlyphs">TOTAL</text>
<rect x="636.8" y="1987.5" width="46.0" height="153.2" fill="#d99241"/>
<text x="659.8" y="1983.2" font-size="17" font-family="'Liberation Sans', Arial, sans-serif" fill="#111" text-anchor="middle" textLength="31.0" lengthAdjust="spacingAndGlyphs">-61.7</text>
<rect x="693.9" y="2022.5" width="45.6" height="118.2" fill="#d99241"/>
<text x="716.7" y="2018.2" font-size="17" font-family="'Liberation Sans', Arial, sans-serif" fill="#111" text-anchor="middle" textLength="38.6" lengthAdjust="spacingAndGlyphs">-47.62</text>
<rect x="778.5" y="2140.7" width="45.9" height="161.2" fill="#7290c0"/>
<text x="801.5" y="2318.4" font-size="17" font-family="'Liberation Sans', Arial, sans-serif" fill="#111" text-anchor="middle" textLength="34.0" lengthAdjust="spacingAndGlyphs">64.93</text>
<rect x="835.2" y="2122.4" width="45.7" height="18.3" fill="#7290c0"/>
<text x="858.0" y="2118.1" font-size="17" font-family="'Liberation Sans', Arial, sans-serif" fill="#111" text-anchor="middle" textLength="31.0" lengthAdjust="spacingAndGlyphs">-7.39</text>
<rect x="927.2" y="1869.3" width="46.1" height="271.4" fill="#d99241"/>
<text x="950.2" y="1865.0" font-size="17" font-family="'Liberation Sans', Arial, sans-serif" fill="#111" text-anchor="middle" textLength="46.1" lengthAdjust="spacingAndGlyphs">-109.32</text>
<rect x="983.9" y="2140.7" width="45.7" height="142.8" fill="#7290c0"/>
<text x="1006.8" y="2300.0" font-size="17" font-family="'Liberation Sans', Arial, sans-serif" fill="#111" text-anchor="middle" textLength="34.0" lengthAdjust="spacingAndGlyphs">57.53</text>
<rect x="1040.6" y="2012.1" width="45.7" height="128.6" fill="#c2241f"/>
<text x="1063.4" y="2007.8" font-size="17" font-family="'Liberation Sans', Arial, sans-serif" fill="#111" text-anchor="middle" textLength="38.6" lengthAdjust="spacingAndGlyphs">-51.79</text>
<text x="606.3" y="1850.1" font-size="18.7" font-family="'Liberation Sans', Arial, sans-serif" fill="#111" text-anchor="end" textLength="29.6" lengthAdjust="spacingAndGlyphs">-120</text>
<text x="606.3" y="1948.6" font-size="18.7" font-family="'Liberation Sans', Arial, sans-serif" fill="#111" text-anchor="end" textLength="21.3" lengthAdjust="spacingAndGlyphs">-80</text>
<text x="606.3" y="2047.9" font-size="18.7" font-family="'Liberation Sans', Arial, sans-serif" fill="#111" text-anchor="end" textLength="21.3" lengthAdjust="spacingAndGlyphs">-40</text>
<text x="606.3" y="2147.2" font-size="18.7" font-family="'Liberation Sans', Arial, sans-serif" fill="#111" text-anchor="end" textLength="8.2" lengthAdjust="spacingAndGlyphs">0</text>
<text x="606.3" y="2246.5" font-size="18.7" font-family="'Liberation Sans', Arial, sans-serif" fill="#111" text-anchor="end" textLength="16.4" lengthAdjust="spacingAndGlyphs">40</text>
<text font-size="30" font-family="'Liberation Sans', Arial, sans-serif" fill="#111" text-anchor="middle" textLength="237.0" lengthAdjust="spacingAndGlyphs" transform="translate(570.5 2084.5) rotate(-90) scale(1 0.78)">Energy (kcal/mol)</text>
<text x="625.1" y="2402.5" font-size="19.5" font-family="'Liberation Sans', Arial, sans-serif" font-style="italic" fill="#111" textLength="73" lengthAdjust="spacingAndGlyphs" transform="rotate(-37 625.1 2402.5)">VDWAALS</text>
<text x="715.3" y="2389.5" font-size="19.5" font-family="'Liberation Sans', Arial, sans-serif" font-style="italic" fill="#111" textLength="27" lengthAdjust="spacingAndGlyphs" transform="rotate(-37 715.3 2389.5)">EEL</text>
<text x="784.5" y="2391.5" font-size="19.5" font-family="'Liberation Sans', Arial, sans-serif" font-style="italic" fill="#111" textLength="30" lengthAdjust="spacingAndGlyphs" transform="rotate(-37 784.5 2391.5)">EGB</text>
<text x="847.0" y="2395.1" font-size="19.5" font-family="'Liberation Sans', Arial, sans-serif" font-style="italic" fill="#111" textLength="48.8" lengthAdjust="spacingAndGlyphs" transform="rotate(-37 847.0 2395.1)">ESURF</text>
<text x="925.0" y="2393.3" font-size="19.5" font-family="'Liberation Sans', Arial, sans-serif" font-style="italic" fill="#111" textLength="41" lengthAdjust="spacingAndGlyphs" transform="rotate(-37 925.0 2393.3)">GGAS</text>
<text x="987.7" y="2395.1" font-size="19.5" font-family="'Liberation Sans', Arial, sans-serif" font-style="italic" fill="#111" textLength="50" lengthAdjust="spacingAndGlyphs" transform="rotate(-37 987.7 2395.1)">GSOLV</text>
<text x="1055.8" y="2395.1" font-size="19.5" font-family="'Liberation Sans', Arial, sans-serif" font-style="italic" fill="#111" textLength="48.6" lengthAdjust="spacingAndGlyphs" transform="rotate(-37 1055.8 2395.1)">TOTAL</text>
<text x="1201.0" y="1803.5" font-size="38" font-family="'Liberation Serif', 'Times New Roman', serif" fill="#231815" font-weight="bold" textLength="18.5" lengthAdjust="spacingAndGlyphs">J</text>
<rect x="1275.3" y="1839.1" width="448.0" height="468.1" fill="#ebe7e6"/>
<line x1="1275.3" x2="1723.3" y1="2229.2" y2="2229.2" stroke="#f7f6f6" stroke-width="1.3"/>
<line x1="1275.3" x2="1723.3" y1="2151.2" y2="2151.2" stroke="#f7f6f6" stroke-width="1.3"/>
<line x1="1275.3" x2="1723.3" y1="2073.1" y2="2073.1" stroke="#f7f6f6" stroke-width="1.3"/>
<line x1="1275.3" x2="1723.3" y1="1995.1" y2="1995.1" stroke="#f7f6f6" stroke-width="1.3"/>
<line x1="1275.3" x2="1723.3" y1="1917.1" y2="1917.1" stroke="#f7f6f6" stroke-width="1.3"/>
<rect x="1276.6" y="2174.6" width="17.4" height="132.6" fill="#d9e4ef" stroke="#505050" stroke-width="1.3"/>
<text x="1285.8" y="2171.1" font-size="12.6" font-family="'Liberation Sans', Arial, sans-serif" fill="#111" text-anchor="middle" textLength="25.0" lengthAdjust="spacingAndGlyphs">-0.85</text>
<text x="1296.3" y="2331" font-size="19" font-family="'Liberation Sans', Arial, sans-serif" fill="#111" text-anchor="end" textLength="71.6" lengthAdjust="spacingAndGlyphs" transform="rotate(-52 1296.3 2331)">A:LEU:45</text>
<rect x="1298.0" y="2279.1" width="17.4" height="28.1" fill="#5a82ae" stroke="#505050" stroke-width="1.3"/>
<text x="1307.2" y="2275.6" font-size="12.6" font-family="'Liberation Sans', Arial, sans-serif" fill="#111" text-anchor="middle" textLength="25.0" lengthAdjust="spacingAndGlyphs">-0.18</text>
<text x="1317.7" y="2331" font-size="19" font-family="'Liberation Sans', Arial, sans-serif" fill="#111" text-anchor="end" textLength="70.3" lengthAdjust="spacingAndGlyphs" transform="rotate(-52 1317.7 2331)">A:GLY:46</text>
<rect x="1319.4" y="2274.4" width="17.4" height="32.8" fill="#5a82ae" stroke="#505050" stroke-width="1.3"/>
<text x="1328.6" y="2270.9" font-size="12.6" font-family="'Liberation Sans', Arial, sans-serif" fill="#111" text-anchor="middle" textLength="25.0" lengthAdjust="spacingAndGlyphs">-0.21</text>
<text x="1339.1" y="2331" font-size="19" font-family="'Liberation Sans', Arial, sans-serif" fill="#111" text-anchor="end" textLength="75.3" lengthAdjust="spacingAndGlyphs" transform="rotate(-52 1339.1 2331)">A:ARG:47</text>
<rect x="1340.8" y="2157.4" width="17.4" height="149.8" fill="#d9e4ef" stroke="#505050" stroke-width="1.3"/>
<text x="1350.0" y="2153.9" font-size="12.6" font-family="'Liberation Sans', Arial, sans-serif" fill="#111" text-anchor="middle" textLength="25.0" lengthAdjust="spacingAndGlyphs">-0.96</text>
<text x="1360.5" y="2331" font-size="19" font-family="'Liberation Sans', Arial, sans-serif" fill="#111" text-anchor="end" textLength="70.3" lengthAdjust="spacingAndGlyphs" transform="rotate(-52 1360.5 2331)">A:GLY:48</text>
<rect x="1362.2" y="2031.0" width="17.4" height="276.2" fill="#f2d4c5" stroke="#505050" stroke-width="1.3"/>
<text x="1371.4" y="2027.5" font-size="12.6" font-family="'Liberation Sans', Arial, sans-serif" fill="#111" text-anchor="middle" textLength="25.0" lengthAdjust="spacingAndGlyphs">-1.77</text>
<text x="1381.9" y="2331" font-size="19" font-family="'Liberation Sans', Arial, sans-serif" fill="#111" text-anchor="end" textLength="69.4" lengthAdjust="spacingAndGlyphs" transform="rotate(-52 1381.9 2331)">A:LYS:49</text>
<rect x="1383.5" y="2232.3" width="17.4" height="74.9" fill="#c0d4e6" stroke="#505050" stroke-width="1.3"/>
<text x="1392.8" y="2228.8" font-size="12.6" font-family="'Liberation Sans', Arial, sans-serif" fill="#111" text-anchor="middle" textLength="25.0" lengthAdjust="spacingAndGlyphs">-0.48</text>
<text x="1403.2" y="2331" font-size="19" font-family="'Liberation Sans', Arial, sans-serif" fill="#111" text-anchor="end" textLength="72.5" lengthAdjust="spacingAndGlyphs" transform="rotate(-52 1403.2 2331)">A:TYR:50</text>
<rect x="1404.9" y="2243.2" width="17.4" height="64.0" fill="#5a82ae" stroke="#505050" stroke-width="1.3"/>
<text x="1414.1" y="2239.7" font-size="12.6" font-family="'Liberation Sans', Arial, sans-serif" fill="#111" text-anchor="middle" textLength="25.0" lengthAdjust="spacingAndGlyphs">-0.41</text>
<text x="1424.6" y="2331" font-size="19" font-family="'Liberation Sans', Arial, sans-serif" fill="#111" text-anchor="end" textLength="73.4" lengthAdjust="spacingAndGlyphs" transform="rotate(-52 1424.6 2331)">A:SER:51</text>
<rect x="1426.3" y="1970.2" width="17.4" height="337.0" fill="#dfa07e" stroke="#505050" stroke-width="1.3"/>
<text x="1435.5" y="1966.7" font-size="12.6" font-family="'Liberation Sans', Arial, sans-serif" fill="#111" text-anchor="middle" textLength="25.0" lengthAdjust="spacingAndGlyphs">-2.16</text>
<text x="1446.0" y="2331" font-size="19" font-family="'Liberation Sans', Arial, sans-serif" fill="#111" text-anchor="end" textLength="69.4" lengthAdjust="spacingAndGlyphs" transform="rotate(-52 1446.0 2331)">A:VAL:53</text>
<rect x="1447.7" y="1907.8" width="17.4" height="399.4" fill="#dfa07e" stroke="#505050" stroke-width="1.3"/>
<text x="1456.9" y="1904.3" font-size="12.6" font-family="'Liberation Sans', Arial, sans-serif" fill="#111" text-anchor="middle" textLength="25.0" lengthAdjust="spacingAndGlyphs">-2.56</text>
<text x="1467.4" y="2331" font-size="19" font-family="'Liberation Sans', Arial, sans-serif" fill="#111" text-anchor="end" textLength="69.4" lengthAdjust="spacingAndGlyphs" transform="rotate(-52 1467.4 2331)">A:VAL:66</text>
<rect x="1469.1" y="1976.4" width="17.4" height="330.8" fill="#dfa07e" stroke="#505050" stroke-width="1.3"/>
<text x="1478.3" y="1972.9" font-size="12.6" font-family="'Liberation Sans', Arial, sans-serif" fill="#111" text-anchor="middle" textLength="25.0" lengthAdjust="spacingAndGlyphs">-2.12</text>
<text x="1488.8" y="2331" font-size="19" font-family="'Liberation Sans', Arial, sans-serif" fill="#111" text-anchor="end" textLength="69.4" lengthAdjust="spacingAndGlyphs" transform="rotate(-52 1488.8 2331)">A:LYS:68</text>
<rect x="1490.5" y="2155.8" width="17.4" height="151.4" fill="#d9e4ef" stroke="#505050" stroke-width="1.3"/>
<text x="1499.7" y="2152.3" font-size="12.6" font-family="'Liberation Sans', Arial, sans-serif" fill="#111" text-anchor="middle" textLength="25.0" lengthAdjust="spacingAndGlyphs">-0.97</text>
<text x="1510.2" y="2331" font-size="19" font-family="'Liberation Sans', Arial, sans-serif" fill="#111" text-anchor="end" textLength="64.1" lengthAdjust="spacingAndGlyphs" transform="rotate(-52 1510.2 2331)">A:ILE:95</text>
<rect x="1511.9" y="2129.3" width="17.4" height="177.9" fill="#d9e4ef" stroke="#505050" stroke-width="1.3"/>
<text x="1521.1" y="2125.8" font-size="12.6" font-family="'Liberation Sans', Arial, sans-serif" fill="#111" text-anchor="middle" textLength="25.0" lengthAdjust="spacingAndGlyphs">-1.14</text>
<text x="1531.6" y="2331" font-size="19" font-family="'Liberation Sans', Arial, sans-serif" fill="#111" text-anchor="end" textLength="81.5" lengthAdjust="spacingAndGlyphs" transform="rotate(-52 1531.6 2331)">A:PHE:113</text>
<rect x="1533.3" y="2213.6" width="17.4" height="93.6" fill="#c0d4e6" stroke="#505050" stroke-width="1.3"/>
<text x="1542.5" y="2210.1" font-size="12.6" font-family="'Liberation Sans', Arial, sans-serif" fill="#111" text-anchor="middle" textLength="25.0" lengthAdjust="spacingAndGlyphs">-0.60</text>
<text x="1553.0" y="2331" font-size="19" font-family="'Liberation Sans', Arial, sans-serif" fill="#111" text-anchor="end" textLength="81.5" lengthAdjust="spacingAndGlyphs" transform="rotate(-52 1553.0 2331)">A:GLU:114</text>
<rect x="1554.7" y="2282.2" width="17.4" height="25.0" fill="#5a82ae" stroke="#505050" stroke-width="1.3"/>
<text x="1563.9" y="2278.7" font-size="12.6" font-family="'Liberation Sans', Arial, sans-serif" fill="#111" text-anchor="middle" textLength="25.0" lengthAdjust="spacingAndGlyphs">-0.16</text>
<text x="1574.4" y="2331" font-size="19" font-family="'Liberation Sans', Arial, sans-serif" fill="#111" text-anchor="end" textLength="75.0" lengthAdjust="spacingAndGlyphs" transform="rotate(-52 1574.4 2331)">A:HIS:115</text>
<rect x="1576.1" y="2204.2" width="17.4" height="103.0" fill="#c0d4e6" stroke="#505050" stroke-width="1.3"/>
<text x="1585.3" y="2200.7" font-size="12.6" font-family="'Liberation Sans', Arial, sans-serif" fill="#111" text-anchor="middle" textLength="25.0" lengthAdjust="spacingAndGlyphs">-0.66</text>
<text x="1595.8" y="2331" font-size="19" font-family="'Liberation Sans', Arial, sans-serif" fill="#111" text-anchor="end" textLength="77.5" lengthAdjust="spacingAndGlyphs" transform="rotate(-52 1595.8 2331)">A:VAL:116</text>
<rect x="1597.4" y="2286.9" width="17.4" height="20.3" fill="#5a82ae" stroke="#505050" stroke-width="1.3"/>
<text x="1606.6" y="2283.4" font-size="12.6" font-family="'Liberation Sans', Arial, sans-serif" fill="#111" text-anchor="middle" textLength="25.0" lengthAdjust="spacingAndGlyphs">-0.13</text>
<text x="1617.1" y="2331" font-size="19" font-family="'Liberation Sans', Arial, sans-serif" fill="#111" text-anchor="end" textLength="81.5" lengthAdjust="spacingAndGlyphs" transform="rotate(-52 1617.1 2331)">A:ASN:118</text>
<rect x="1618.8" y="1974.8" width="17.4" height="332.4" fill="#dfa07e" stroke="#505050" stroke-width="1.3"/>
<text x="1628.0" y="1971.3" font-size="12.6" font-family="'Liberation Sans', Arial, sans-serif" fill="#111" text-anchor="middle" textLength="25.0" lengthAdjust="spacingAndGlyphs">-2.13</text>
<text x="1638.5" y="2331" font-size="19" font-family="'Liberation Sans', Arial, sans-serif" fill="#111" text-anchor="end" textLength="78.7" lengthAdjust="spacingAndGlyphs" transform="rotate(-52 1638.5 2331)">A:LYS:158</text>
<rect x="1640.2" y="2052.9" width="17.4" height="254.3" fill="#f2d4c5" stroke="#505050" stroke-width="1.3"/>
<text x="1649.4" y="2049.4" font-size="12.6" font-family="'Liberation Sans', Arial, sans-serif" fill="#111" text-anchor="middle" textLength="25.0" lengthAdjust="spacingAndGlyphs">-1.63</text>
<text x="1659.9" y="2331" font-size="19" font-family="'Liberation Sans', Arial, sans-serif" fill="#111" text-anchor="end" textLength="76.2" lengthAdjust="spacingAndGlyphs" transform="rotate(-52 1659.9 2331)">A:HIS:160</text>
<rect x="1661.6" y="2215.1" width="17.4" height="92.1" fill="#c0d4e6" stroke="#505050" stroke-width="1.3"/>
<text x="1670.8" y="2211.6" font-size="12.6" font-family="'Liberation Sans', Arial, sans-serif" fill="#111" text-anchor="middle" textLength="25.0" lengthAdjust="spacingAndGlyphs">-0.59</text>
<text x="1681.3" y="2331" font-size="19" font-family="'Liberation Sans', Arial, sans-serif" fill="#111" text-anchor="end" textLength="82.7" lengthAdjust="spacingAndGlyphs" transform="rotate(-52 1681.3 2331)">A:ASN:161</text>
<rect x="1683.0" y="2046.6" width="17.4" height="260.6" fill="#f2d4c5" stroke="#505050" stroke-width="1.3"/>
<text x="1692.2" y="2043.1" font-size="12.6" font-family="'Liberation Sans', Arial, sans-serif" fill="#111" text-anchor="middle" textLength="25.0" lengthAdjust="spacingAndGlyphs">-1.67</text>
<text x="1702.7" y="2331" font-size="19" font-family="'Liberation Sans', Arial, sans-serif" fill="#111" text-anchor="end" textLength="81.8" lengthAdjust="spacingAndGlyphs" transform="rotate(-52 1702.7 2331)">A:MET:163</text>
<rect x="1704.4" y="1906.2" width="17.4" height="401.0" fill="#dfa07e" stroke="#505050" stroke-width="1.3"/>
<text x="1713.6" y="1902.7" font-size="12.6" font-family="'Liberation Sans', Arial, sans-serif" fill="#111" text-anchor="middle" textLength="25.0" lengthAdjust="spacingAndGlyphs">-2.57</text>
<text x="1724.1" y="2331" font-size="19" font-family="'Liberation Sans', Arial, sans-serif" fill="#111" text-anchor="end" textLength="73.4" lengthAdjust="spacingAndGlyphs" transform="rotate(-52 1724.1 2331)">A:ILE:174</text>
<text x="1263.8" y="2313.5" font-size="18.3" font-family="'Liberation Sans', Arial, sans-serif" fill="#111" text-anchor="end" textLength="21.6" lengthAdjust="spacingAndGlyphs">0.0</text>
<text x="1263.8" y="2235.5" font-size="18.3" font-family="'Liberation Sans', Arial, sans-serif" fill="#111" text-anchor="end" textLength="26.8" lengthAdjust="spacingAndGlyphs">-0.5</text>
<text x="1263.8" y="2157.5" font-size="18.3" font-family="'Liberation Sans', Arial, sans-serif" fill="#111" text-anchor="end" textLength="26.8" lengthAdjust="spacingAndGlyphs">-1.0</text>
<text x="1263.8" y="2079.4" font-size="18.3" font-family="'Liberation Sans', Arial, sans-serif" fill="#111" text-anchor="end" textLength="26.8" lengthAdjust="spacingAndGlyphs">-1.5</text>
<text x="1263.8" y="2001.4" font-size="18.3" font-family="'Liberation Sans', Arial, sans-serif" fill="#111" text-anchor="end" textLength="26.8" lengthAdjust="spacingAndGlyphs">-2.0</text>
<text x="1263.8" y="1923.4" font-size="18.3" font-family="'Liberation Sans', Arial, sans-serif" fill="#111" text-anchor="end" textLength="26.8" lengthAdjust="spacingAndGlyphs">-2.5</text>
<text x="1263.8" y="1845.4" font-size="18.3" font-family="'Liberation Sans', Arial, sans-serif" fill="#111" text-anchor="end" textLength="26.8" lengthAdjust="spacingAndGlyphs">-3.0</text>
<text font-size="29" font-family="'Liberation Sans', Arial, sans-serif" fill="#111" text-anchor="middle" textLength="230.8" lengthAdjust="spacingAndGlyphs" transform="translate(1226.5 2072.2) rotate(-90) scale(1 0.8)">Energy (kcal/mol)</text>
<text x="165.2" y="43.9" font-size="38" font-family="'Liberation Serif', 'Times New Roman', serif" fill="#231815" font-weight="bold" textLength="25.7" lengthAdjust="spacingAndGlyphs">A</text>
<defs><radialGradient id="gsr" cx="0.4" cy="0.35" r="0.65"><stop offset="0" stop-color="#dd8d5d"/><stop offset="0.45" stop-color="#d0601e"/><stop offset="0.9" stop-color="#b7541a"/><stop offset="1" stop-color="#d0601e" stop-opacity="0"/></radialGradient><radialGradient id="gst" cx="0.4" cy="0.35" r="0.65"><stop offset="0" stop-color="#d77a5c"/><stop offset="0.45" stop-color="#c8461c"/><stop offset="0.9" stop-color="#b03e19"/><stop offset="1" stop-color="#c8461c" stop-opacity="0"/></radialGradient><radialGradient id="gso" cx="0.4" cy="0.35" r="0.65"><stop offset="0" stop-color="#e7ac60"/><stop offset="0.45" stop-color="#de8c22"/><stop offset="0.9" stop-color="#c37b1e"/><stop offset="1" stop-color="#de8c22" stop-opacity="0"/></radialGradient><radialGradient id="gsy" cx="0.4" cy="0.35" r="0.65"><stop offset="0" stop-color="#e3d769"/><stop offset="0.45" stop-color="#d8c82e"/><stop offset="0.9" stop-color="#beb028"/><stop offset="1" stop-color="#d8c82e" stop-opacity="0"/></radialGradient><radialGradient id="gsg" cx="0.4" cy="0.35" r="0.65"><stop offset="0" stop-color="#a1c96e"/><stop offset="0.45" stop-color="#7cb436"/><stop offset="0.9" stop-color="#6d9e30"/><stop offset="1" stop-color="#7cb436" stop-opacity="0"/></radialGradient><radialGradient id="gsb" cx="0.4" cy="0.35" r="0.65"><stop offset="0" stop-color="#73a2dd"/><stop offset="0.45" stop-color="#3c7ed0"/><stop offset="0.9" stop-color="#356fb7"/><stop offset="1" stop-color="#3c7ed0" stop-opacity="0"/></radialGradient><radialGradient id="gsc" cx="0.4" cy="0.35" r="0.65"><stop offset="0" stop-color="#8ecfe1"/><stop offset="0.45" stop-color="#62bcd6"/><stop offset="0.9" stop-color="#56a5bc"/><stop offset="1" stop-color="#62bcd6" stop-opacity="0"/></radialGradient><radialGradient id="gsc2" cx="0.4" cy="0.35" r="0.65"><stop offset="0" stop-color="#95d5e9"/><stop offset="0.45" stop-color="#6cc4e0"/><stop offset="0.9" stop-color="#5facc5"/><stop offset="1" stop-color="#6cc4e0" stop-opacity="0"/></radialGradient><radialGradient id="gsgr" cx="0.4" cy="0.35" r="0.65"><stop offset="0" stop-color="#8ac691"/><stop offset="0.45" stop-color="#5cb066"/><stop offset="0.9" stop-color="#519b5a"/><stop offset="1" stop-color="#5cb066" stop-opacity="0"/></radialGradient><radialGradient id="gsdb" cx="0.4" cy="0.35" r="0.65"><stop offset="0" stop-color="#667ec9"/><stop offset="0.45" stop-color="#2a4cb4"/><stop offset="0.9" stop-color="#25439e"/><stop offset="1" stop-color="#2a4cb4" stop-opacity="0"/></radialGradient><radialGradient id="gsdb2" cx="0.4" cy="0.35" r="0.65"><stop offset="0" stop-color="#667ec9"/><stop offset="0.45" stop-color="#2a4cb4"/><stop offset="0.9" stop-color="#25439e"/><stop offset="1" stop-color="#2a4cb4" stop-opacity="0"/></radialGradient><radialGradient id="gsdb3" cx="0.4" cy="0.35" r="0.65"><stop offset="0" stop-color="#7195d7"/><stop offset="0.45" stop-color="#3a6cc8"/><stop offset="0.9" stop-color="#335fb0"/><stop offset="1" stop-color="#3a6cc8" stop-opacity="0"/></radialGradient><filter id="soft" x="-5%" y="-5%" width="110%" height="110%"><feGaussianBlur stdDeviation="0.7"/></filter></defs>
<path d="M311.0 12.0 C316.2 2.8 326.5 4.7 334.0 4.0 C341.5 3.3 348.7 5.0 356.0 8.0 C363.3 11.0 370.7 20.3 378.0 22.0 C385.3 23.7 391.3 19.2 400.0 18.0 C408.7 16.8 421.3 14.7 430.0 15.0 C438.7 15.3 444.3 20.2 452.0 20.0 C459.7 19.8 469.3 12.7 476.0 14.0 C482.7 15.3 488.3 21.7 492.0 28.0 C495.7 34.3 494.3 47.0 498.0 52.0 C501.7 57.0 507.0 56.0 514.0 58.0 C521.0 60.0 530.5 61.8 540.0 64.0 C549.5 66.2 563.3 67.3 571.0 71.0 C578.7 74.7 582.3 79.8 586.0 86.0 C589.7 92.2 591.8 95.7 593.0 108.0 C594.2 120.3 593.0 137.2 593.0 160.0 C593.0 182.8 594.0 228.7 593.0 245.0 C592.0 261.3 592.5 255.0 587.0 258.0 C581.5 261.0 567.3 263.0 560.0 263.0 C552.7 263.0 546.3 253.5 543.0 258.0 C539.7 262.5 543.5 281.0 540.0 290.0 C536.5 299.0 529.5 307.0 522.0 312.0 C514.5 317.0 505.3 319.3 495.0 320.0 C484.7 320.7 468.5 317.3 460.0 316.0 C451.5 314.7 448.7 312.0 444.0 312.0 C439.3 312.0 437.7 313.7 432.0 316.0 C426.3 318.3 416.0 323.0 410.0 326.0 C404.0 329.0 401.0 333.0 396.0 334.0 C391.0 335.0 385.3 331.7 380.0 332.0 C374.7 332.3 369.7 331.7 364.0 336.0 C358.3 340.3 350.7 354.7 346.0 358.0 C341.3 361.3 340.0 358.0 336.0 356.0 C332.0 354.0 328.0 351.7 322.0 346.0 C316.0 340.3 305.3 330.3 300.0 322.0 C294.7 313.7 294.0 308.7 290.0 296.0 C286.0 283.3 285.5 256.0 276.0 246.0 C266.5 236.0 240.3 240.3 233.0 236.0 C225.7 231.7 227.8 225.2 232.0 220.0 C236.2 214.8 253.0 210.0 258.0 205.0 C263.0 200.0 262.7 196.7 262.0 190.0 C261.3 183.3 256.0 174.2 254.0 165.0 C252.0 155.8 248.7 144.2 250.0 135.0 C251.3 125.8 257.0 118.3 262.0 110.0 C267.0 101.7 273.2 93.5 280.0 85.0 C286.8 76.5 297.8 71.2 303.0 59.0 C308.2 46.8 305.8 21.2 311.0 12.0 Z" fill="#a9782a"/>
<g filter="url(#soft)">
<clipPath id="csr"><path d="M303.0 59.0 C308.2 46.8 305.8 21.2 311.0 12.0 C316.2 2.8 326.8 4.7 334.0 4.0 C341.2 3.3 347.7 4.0 354.0 8.0 C360.3 12.0 368.0 21.8 372.0 28.0 C376.0 34.2 380.7 38.0 378.0 45.0 C375.3 52.0 361.3 59.2 356.0 70.0 C350.7 80.8 348.7 96.7 346.0 110.0 C343.3 123.3 341.7 136.7 340.0 150.0 C338.3 163.3 335.0 176.7 336.0 190.0 C337.0 203.3 342.7 217.0 346.0 230.0 C349.3 243.0 352.7 256.3 356.0 268.0 C359.3 279.7 365.3 289.7 366.0 300.0 C366.7 310.3 364.0 320.7 360.0 330.0 C356.0 339.3 348.3 353.3 342.0 356.0 C335.7 358.7 329.0 351.7 322.0 346.0 C315.0 340.3 305.3 330.3 300.0 322.0 C294.7 313.7 294.0 308.7 290.0 296.0 C286.0 283.3 285.5 256.0 276.0 246.0 C266.5 236.0 240.3 240.3 233.0 236.0 C225.7 231.7 227.8 225.2 232.0 220.0 C236.2 214.8 253.0 210.0 258.0 205.0 C263.0 200.0 262.7 196.7 262.0 190.0 C261.3 183.3 256.0 174.2 254.0 165.0 C252.0 155.8 248.7 144.2 250.0 135.0 C251.3 125.8 257.0 118.3 262.0 110.0 C267.0 101.7 273.2 93.5 280.0 85.0 C286.8 76.5 297.8 71.2 303.0 59.0 Z"/></clipPath>
<path d="M303.0 59.0 C308.2 46.8 305.8 21.2 311.0 12.0 C316.2 2.8 326.8 4.7 334.0 4.0 C341.2 3.3 347.7 4.0 354.0 8.0 C360.3 12.0 368.0 21.8 372.0 28.0 C376.0 34.2 380.7 38.0 378.0 45.0 C375.3 52.0 361.3 59.2 356.0 70.0 C350.7 80.8 348.7 96.7 346.0 110.0 C343.3 123.3 341.7 136.7 340.0 150.0 C338.3 163.3 335.0 176.7 336.0 190.0 C337.0 203.3 342.7 217.0 346.0 230.0 C349.3 243.0 352.7 256.3 356.0 268.0 C359.3 279.7 365.3 289.7 366.0 300.0 C366.7 310.3 364.0 320.7 360.0 330.0 C356.0 339.3 348.3 353.3 342.0 356.0 C335.7 358.7 329.0 351.7 322.0 346.0 C315.0 340.3 305.3 330.3 300.0 322.0 C294.7 313.7 294.0 308.7 290.0 296.0 C286.0 283.3 285.5 256.0 276.0 246.0 C266.5 236.0 240.3 240.3 233.0 236.0 C225.7 231.7 227.8 225.2 232.0 220.0 C236.2 214.8 253.0 210.0 258.0 205.0 C263.0 200.0 262.7 196.7 262.0 190.0 C261.3 183.3 256.0 174.2 254.0 165.0 C252.0 155.8 248.7 144.2 250.0 135.0 C251.3 125.8 257.0 118.3 262.0 110.0 C267.0 101.7 273.2 93.5 280.0 85.0 C286.8 76.5 297.8 71.2 303.0 59.0 Z" fill="#bf581c" stroke="#bf581c" stroke-width="7" stroke-linejoin="round"/>
<g clip-path="url(#csr)" fill="url(#gsr)"><circle cx="344.1" cy="273.5" r="9.3"/><circle cx="354.2" cy="71.6" r="16.2"/><circle cx="316.6" cy="117.9" r="15.7"/><circle cx="323.5" cy="47.3" r="13.2"/><circle cx="310.5" cy="170.9" r="9.7"/><circle cx="323.6" cy="158.4" r="8.9"/><circle cx="265.7" cy="126.9" r="16.0"/><circle cx="312.7" cy="92.6" r="15.7"/><circle cx="354.1" cy="27.3" r="11.9"/><circle cx="245.2" cy="215.8" r="10.7"/><circle cx="320.8" cy="161.3" r="13.2"/><circle cx="354.2" cy="269.5" r="14.3"/><circle cx="304.5" cy="170.2" r="8.3"/><circle cx="305.4" cy="327.2" r="16.3"/><circle cx="336.3" cy="111.6" r="9.5"/><circle cx="314.2" cy="175.7" r="14.5"/><circle cx="265.6" cy="159.7" r="10.7"/><circle cx="305.3" cy="133.3" r="10.1"/><circle cx="296.3" cy="154.8" r="9.3"/><circle cx="251.6" cy="136.5" r="14.7"/><circle cx="302.8" cy="300.0" r="14.9"/><circle cx="255.9" cy="132.1" r="10.1"/><circle cx="313.0" cy="183.2" r="13.5"/><circle cx="316.3" cy="81.7" r="13.9"/><circle cx="252.9" cy="152.5" r="10.4"/><circle cx="297.6" cy="202.4" r="15.4"/><circle cx="302.9" cy="216.7" r="9.1"/><circle cx="278.2" cy="128.6" r="9.9"/><circle cx="335.8" cy="259.7" r="16.9"/><circle cx="353.4" cy="296.4" r="14.2"/><circle cx="342.2" cy="215.1" r="11.4"/><circle cx="298.4" cy="205.6" r="11.7"/><circle cx="324.8" cy="218.6" r="15.9"/><circle cx="353.3" cy="289.0" r="11.3"/><circle cx="322.9" cy="111.4" r="10.8"/><circle cx="286.1" cy="261.3" r="15.5"/><circle cx="337.1" cy="51.6" r="13.5"/><circle cx="329.3" cy="80.2" r="15.5"/><circle cx="335.0" cy="121.2" r="14.3"/><circle cx="351.2" cy="28.4" r="11.3"/><circle cx="285.4" cy="166.2" r="11.6"/><circle cx="295.6" cy="124.4" r="13.4"/><circle cx="256.6" cy="137.6" r="14.4"/><circle cx="329.8" cy="123.2" r="13.2"/><circle cx="291.1" cy="86.6" r="14.7"/><circle cx="302.2" cy="294.6" r="14.9"/><circle cx="348.6" cy="268.4" r="8.8"/><circle cx="318.6" cy="97.6" r="11.8"/><circle cx="340.9" cy="103.8" r="14.9"/><circle cx="301.3" cy="129.1" r="12.9"/><circle cx="267.8" cy="209.8" r="10.6"/><circle cx="274.5" cy="206.3" r="8.3"/><circle cx="306.3" cy="188.6" r="11.5"/><circle cx="331.3" cy="345.7" r="14.7"/><circle cx="301.0" cy="197.7" r="10.1"/><circle cx="349.5" cy="300.3" r="15.9"/><circle cx="285.3" cy="191.5" r="12.4"/><circle cx="321.5" cy="290.8" r="13.2"/><circle cx="303.0" cy="317.7" r="11.7"/><circle cx="342.0" cy="111.1" r="13.2"/><circle cx="286.6" cy="129.3" r="9.8"/><circle cx="313.9" cy="160.2" r="15.0"/><circle cx="351.1" cy="73.0" r="9.8"/><circle cx="319.4" cy="151.3" r="15.8"/><circle cx="293.5" cy="173.0" r="16.4"/><circle cx="299.2" cy="95.8" r="15.1"/><circle cx="316.1" cy="304.4" r="12.3"/><circle cx="308.6" cy="123.8" r="9.6"/><circle cx="337.9" cy="98.0" r="8.1"/><circle cx="306.5" cy="310.1" r="15.5"/><circle cx="289.8" cy="76.9" r="11.9"/><circle cx="323.4" cy="226.5" r="9.0"/><circle cx="282.4" cy="105.3" r="11.7"/><circle cx="356.4" cy="320.0" r="11.7"/><circle cx="321.9" cy="57.7" r="8.7"/><circle cx="320.6" cy="85.3" r="12.2"/><circle cx="353.1" cy="47.3" r="15.3"/><circle cx="310.5" cy="177.5" r="10.3"/><circle cx="352.9" cy="295.2" r="10.5"/><circle cx="329.9" cy="297.0" r="9.2"/><circle cx="261.4" cy="240.4" r="14.9"/><circle cx="313.4" cy="277.8" r="16.3"/><circle cx="327.8" cy="62.5" r="16.5"/><circle cx="336.7" cy="66.4" r="8.9"/><circle cx="267.3" cy="176.7" r="13.1"/><circle cx="310.8" cy="63.5" r="9.9"/><circle cx="334.6" cy="324.5" r="15.4"/><circle cx="296.9" cy="157.8" r="17.0"/><circle cx="324.1" cy="69.6" r="13.6"/><circle cx="234.1" cy="225.7" r="9.6"/><circle cx="351.0" cy="276.3" r="12.9"/><circle cx="325.8" cy="88.9" r="8.9"/><circle cx="361.8" cy="317.5" r="9.8"/><circle cx="296.7" cy="297.2" r="11.0"/><circle cx="331.6" cy="326.3" r="12.9"/><circle cx="310.5" cy="236.4" r="13.7"/></g>
<clipPath id="cst"><path d="M304.0 58.0 C302.2 48.3 306.0 21.0 311.0 12.0 C316.0 3.0 326.8 4.7 334.0 4.0 C341.2 3.3 347.7 4.0 354.0 8.0 C360.3 12.0 368.0 21.8 372.0 28.0 C376.0 34.2 381.3 39.3 378.0 45.0 C374.7 50.7 361.3 57.8 352.0 62.0 C342.7 66.2 330.0 70.7 322.0 70.0 C314.0 69.3 305.8 67.7 304.0 58.0 Z"/></clipPath>
<path d="M304.0 58.0 C302.2 48.3 306.0 21.0 311.0 12.0 C316.0 3.0 326.8 4.7 334.0 4.0 C341.2 3.3 347.7 4.0 354.0 8.0 C360.3 12.0 368.0 21.8 372.0 28.0 C376.0 34.2 381.3 39.3 378.0 45.0 C374.7 50.7 361.3 57.8 352.0 62.0 C342.7 66.2 330.0 70.7 322.0 70.0 C314.0 69.3 305.8 67.7 304.0 58.0 Z" fill="#b8401a" stroke="#b8401a" stroke-width="7" stroke-linejoin="round"/>
<g clip-path="url(#cst)" fill="url(#gst)"><circle cx="336.3" cy="59.5" r="9.0"/><circle cx="321.9" cy="18.7" r="11.9"/><circle cx="343.9" cy="25.4" r="15.0"/><circle cx="319.3" cy="49.5" r="14.6"/><circle cx="343.3" cy="10.7" r="14.3"/><circle cx="323.4" cy="68.2" r="9.8"/><circle cx="320.6" cy="14.4" r="10.8"/><circle cx="342.8" cy="58.6" r="7.2"/><circle cx="328.0" cy="35.6" r="12.6"/><circle cx="372.1" cy="47.4" r="8.9"/><circle cx="308.9" cy="58.9" r="7.6"/><circle cx="360.0" cy="56.7" r="14.9"/><circle cx="322.7" cy="63.3" r="9.1"/><circle cx="336.8" cy="57.7" r="9.4"/><circle cx="339.9" cy="13.3" r="9.0"/><circle cx="326.9" cy="25.7" r="10.7"/></g>
<clipPath id="cso"><path d="M372.0 28.0 C373.3 27.8 380.7 40.0 386.0 44.0 C391.3 48.0 400.0 45.7 404.0 52.0 C408.0 58.3 410.0 70.7 410.0 82.0 C410.0 93.3 404.0 107.0 404.0 120.0 C404.0 133.0 408.7 146.7 410.0 160.0 C411.3 173.3 413.0 186.7 412.0 200.0 C411.0 213.3 406.3 226.7 404.0 240.0 C401.7 253.3 400.3 268.7 398.0 280.0 C395.7 291.3 393.3 299.3 390.0 308.0 C386.7 316.7 382.3 327.7 378.0 332.0 C373.7 336.3 367.0 339.3 364.0 334.0 C361.0 328.7 362.3 311.7 360.0 300.0 C357.7 288.3 353.3 276.0 350.0 264.0 C346.7 252.0 342.7 240.3 340.0 228.0 C337.3 215.7 334.3 203.0 334.0 190.0 C333.7 177.0 336.3 163.3 338.0 150.0 C339.7 136.7 341.3 123.3 344.0 110.0 C346.7 96.7 348.3 80.8 354.0 70.0 C359.7 59.2 375.0 52.0 378.0 45.0 C381.0 38.0 370.7 28.2 372.0 28.0 Z"/></clipPath>
<path d="M372.0 28.0 C373.3 27.8 380.7 40.0 386.0 44.0 C391.3 48.0 400.0 45.7 404.0 52.0 C408.0 58.3 410.0 70.7 410.0 82.0 C410.0 93.3 404.0 107.0 404.0 120.0 C404.0 133.0 408.7 146.7 410.0 160.0 C411.3 173.3 413.0 186.7 412.0 200.0 C411.0 213.3 406.3 226.7 404.0 240.0 C401.7 253.3 400.3 268.7 398.0 280.0 C395.7 291.3 393.3 299.3 390.0 308.0 C386.7 316.7 382.3 327.7 378.0 332.0 C373.7 336.3 367.0 339.3 364.0 334.0 C361.0 328.7 362.3 311.7 360.0 300.0 C357.7 288.3 353.3 276.0 350.0 264.0 C346.7 252.0 342.7 240.3 340.0 228.0 C337.3 215.7 334.3 203.0 334.0 190.0 C333.7 177.0 336.3 163.3 338.0 150.0 C339.7 136.7 341.3 123.3 344.0 110.0 C346.7 96.7 348.3 80.8 354.0 70.0 C359.7 59.2 375.0 52.0 378.0 45.0 C381.0 38.0 370.7 28.2 372.0 28.0 Z" fill="#cc811f" stroke="#cc811f" stroke-width="7" stroke-linejoin="round"/>
<g clip-path="url(#cso)" fill="url(#gso)"><circle cx="359.9" cy="251.0" r="11.6"/><circle cx="362.7" cy="157.2" r="9.2"/><circle cx="378.7" cy="262.8" r="10.4"/><circle cx="378.7" cy="250.8" r="10.4"/><circle cx="362.7" cy="140.2" r="8.2"/><circle cx="406.7" cy="101.8" r="10.3"/><circle cx="374.3" cy="210.7" r="12.4"/><circle cx="387.3" cy="207.0" r="13.7"/><circle cx="352.4" cy="182.9" r="11.0"/><circle cx="370.8" cy="161.4" r="9.0"/><circle cx="381.2" cy="61.7" r="11.7"/><circle cx="384.1" cy="168.2" r="7.9"/><circle cx="357.8" cy="74.5" r="7.4"/><circle cx="356.4" cy="275.3" r="14.2"/><circle cx="344.7" cy="232.1" r="12.5"/><circle cx="377.3" cy="305.4" r="8.7"/><circle cx="382.8" cy="208.6" r="11.8"/><circle cx="351.2" cy="115.5" r="8.1"/><circle cx="342.6" cy="159.1" r="8.8"/><circle cx="384.6" cy="201.5" r="10.1"/><circle cx="361.4" cy="78.6" r="9.8"/><circle cx="403.5" cy="123.9" r="13.3"/><circle cx="392.5" cy="80.5" r="11.0"/><circle cx="361.9" cy="154.2" r="11.7"/><circle cx="392.0" cy="240.1" r="8.1"/><circle cx="369.1" cy="327.0" r="10.5"/><circle cx="359.0" cy="217.7" r="9.3"/><circle cx="390.8" cy="210.0" r="14.9"/><circle cx="388.8" cy="275.1" r="13.4"/><circle cx="374.3" cy="91.8" r="11.2"/><circle cx="405.5" cy="187.2" r="8.8"/><circle cx="376.4" cy="293.7" r="13.1"/><circle cx="386.3" cy="84.8" r="13.2"/><circle cx="379.2" cy="281.3" r="14.8"/><circle cx="365.7" cy="110.1" r="8.5"/><circle cx="370.6" cy="258.9" r="11.0"/><circle cx="394.7" cy="52.6" r="9.9"/><circle cx="368.6" cy="167.9" r="12.9"/><circle cx="407.1" cy="162.4" r="8.0"/><circle cx="354.1" cy="274.0" r="7.4"/><circle cx="401.6" cy="97.1" r="10.1"/><circle cx="353.8" cy="244.1" r="7.5"/><circle cx="390.4" cy="277.2" r="8.5"/><circle cx="346.6" cy="125.1" r="14.0"/></g>
<clipPath id="csy"><path d="M404.0 52.0 C406.0 52.0 415.3 70.0 420.0 80.0 C424.7 90.0 428.3 100.0 432.0 112.0 C435.7 124.0 439.7 137.3 442.0 152.0 C444.3 166.7 443.7 184.0 446.0 200.0 C448.3 216.0 455.0 233.0 456.0 248.0 C457.0 263.0 454.7 279.7 452.0 290.0 C449.3 300.3 447.0 304.7 440.0 310.0 C433.0 315.3 417.3 318.0 410.0 322.0 C402.7 326.0 401.7 332.0 396.0 334.0 C390.3 336.0 378.7 339.7 376.0 334.0 C373.3 328.3 378.0 311.0 380.0 300.0 C382.0 289.0 385.0 279.7 388.0 268.0 C391.0 256.3 395.3 243.0 398.0 230.0 C400.7 217.0 403.0 203.3 404.0 190.0 C405.0 176.7 404.3 163.0 404.0 150.0 C403.7 137.0 401.3 123.7 402.0 112.0 C402.7 100.3 407.7 90.0 408.0 80.0 C408.3 70.0 402.0 52.0 404.0 52.0 Z"/></clipPath>
<path d="M404.0 52.0 C406.0 52.0 415.3 70.0 420.0 80.0 C424.7 90.0 428.3 100.0 432.0 112.0 C435.7 124.0 439.7 137.3 442.0 152.0 C444.3 166.7 443.7 184.0 446.0 200.0 C448.3 216.0 455.0 233.0 456.0 248.0 C457.0 263.0 454.7 279.7 452.0 290.0 C449.3 300.3 447.0 304.7 440.0 310.0 C433.0 315.3 417.3 318.0 410.0 322.0 C402.7 326.0 401.7 332.0 396.0 334.0 C390.3 336.0 378.7 339.7 376.0 334.0 C373.3 328.3 378.0 311.0 380.0 300.0 C382.0 289.0 385.0 279.7 388.0 268.0 C391.0 256.3 395.3 243.0 398.0 230.0 C400.7 217.0 403.0 203.3 404.0 190.0 C405.0 176.7 404.3 163.0 404.0 150.0 C403.7 137.0 401.3 123.7 402.0 112.0 C402.7 100.3 407.7 90.0 408.0 80.0 C408.3 70.0 402.0 52.0 404.0 52.0 Z" fill="#c7b82a" stroke="#c7b82a" stroke-width="7" stroke-linejoin="round"/>
<g clip-path="url(#csy)" fill="url(#gsy)"><circle cx="412.5" cy="204.6" r="13.9"/><circle cx="406.7" cy="187.8" r="15.3"/><circle cx="391.9" cy="300.0" r="13.3"/><circle cx="400.2" cy="227.7" r="8.5"/><circle cx="419.5" cy="148.1" r="9.9"/><circle cx="405.9" cy="278.7" r="8.8"/><circle cx="428.9" cy="296.4" r="9.0"/><circle cx="438.3" cy="218.7" r="13.2"/><circle cx="439.2" cy="191.8" r="13.3"/><circle cx="436.7" cy="177.0" r="13.2"/><circle cx="421.1" cy="199.0" r="8.2"/><circle cx="416.1" cy="316.7" r="8.2"/><circle cx="392.1" cy="308.4" r="11.9"/><circle cx="422.7" cy="124.1" r="13.6"/><circle cx="426.5" cy="197.2" r="10.2"/><circle cx="394.1" cy="297.8" r="10.0"/><circle cx="400.8" cy="317.8" r="11.1"/><circle cx="420.5" cy="200.1" r="7.9"/><circle cx="406.9" cy="307.2" r="11.3"/><circle cx="413.7" cy="236.9" r="7.4"/><circle cx="437.3" cy="168.8" r="13.3"/><circle cx="448.8" cy="269.9" r="8.2"/><circle cx="399.0" cy="310.9" r="7.5"/><circle cx="416.8" cy="273.4" r="9.6"/><circle cx="441.5" cy="198.3" r="13.3"/><circle cx="405.2" cy="184.8" r="13.8"/><circle cx="443.2" cy="257.0" r="11.4"/><circle cx="440.7" cy="261.8" r="12.0"/><circle cx="412.2" cy="87.5" r="14.5"/><circle cx="384.1" cy="301.7" r="10.8"/><circle cx="429.6" cy="207.0" r="12.0"/><circle cx="412.9" cy="253.2" r="13.5"/><circle cx="395.5" cy="240.6" r="10.1"/><circle cx="433.0" cy="301.4" r="8.6"/><circle cx="428.6" cy="145.0" r="7.4"/><circle cx="421.1" cy="165.7" r="9.4"/><circle cx="391.0" cy="322.1" r="12.7"/><circle cx="417.3" cy="223.2" r="12.7"/><circle cx="396.1" cy="319.8" r="13.3"/><circle cx="425.6" cy="242.2" r="10.1"/></g>
<clipPath id="csg"><path d="M380.0 24.0 C382.3 20.0 391.7 19.5 400.0 18.0 C408.3 16.5 421.3 14.7 430.0 15.0 C438.7 15.3 444.3 20.2 452.0 20.0 C459.7 19.8 469.3 12.7 476.0 14.0 C482.7 15.3 488.3 21.7 492.0 28.0 C495.7 34.3 496.7 43.3 498.0 52.0 C499.3 60.7 501.7 70.0 500.0 80.0 C498.3 90.0 493.0 100.3 488.0 112.0 C483.0 123.7 474.0 135.3 470.0 150.0 C466.0 164.7 466.3 183.7 464.0 200.0 C461.7 216.3 459.0 236.7 456.0 248.0 C453.0 259.3 448.3 269.7 446.0 268.0 C443.7 266.3 442.7 251.0 442.0 238.0 C441.3 225.0 443.0 206.3 442.0 190.0 C441.0 173.7 439.7 156.7 436.0 140.0 C432.3 123.3 425.0 104.0 420.0 90.0 C415.0 76.0 411.7 64.0 406.0 56.0 C400.3 48.0 390.3 47.3 386.0 42.0 C381.7 36.7 377.7 28.0 380.0 24.0 Z"/></clipPath>
<path d="M380.0 24.0 C382.3 20.0 391.7 19.5 400.0 18.0 C408.3 16.5 421.3 14.7 430.0 15.0 C438.7 15.3 444.3 20.2 452.0 20.0 C459.7 19.8 469.3 12.7 476.0 14.0 C482.7 15.3 488.3 21.7 492.0 28.0 C495.7 34.3 496.7 43.3 498.0 52.0 C499.3 60.7 501.7 70.0 500.0 80.0 C498.3 90.0 493.0 100.3 488.0 112.0 C483.0 123.7 474.0 135.3 470.0 150.0 C466.0 164.7 466.3 183.7 464.0 200.0 C461.7 216.3 459.0 236.7 456.0 248.0 C453.0 259.3 448.3 269.7 446.0 268.0 C443.7 266.3 442.7 251.0 442.0 238.0 C441.3 225.0 443.0 206.3 442.0 190.0 C441.0 173.7 439.7 156.7 436.0 140.0 C432.3 123.3 425.0 104.0 420.0 90.0 C415.0 76.0 411.7 64.0 406.0 56.0 C400.3 48.0 390.3 47.3 386.0 42.0 C381.7 36.7 377.7 28.0 380.0 24.0 Z" fill="#72a632" stroke="#72a632" stroke-width="7" stroke-linejoin="round"/>
<g clip-path="url(#csg)" fill="url(#gsg)"><circle cx="465.6" cy="186.7" r="14.8"/><circle cx="492.6" cy="86.5" r="14.5"/><circle cx="471.6" cy="22.4" r="9.2"/><circle cx="456.1" cy="150.4" r="11.8"/><circle cx="461.6" cy="108.8" r="9.6"/><circle cx="458.7" cy="69.7" r="13.0"/><circle cx="403.1" cy="38.7" r="12.8"/><circle cx="454.8" cy="145.2" r="14.8"/><circle cx="429.9" cy="23.1" r="12.8"/><circle cx="479.6" cy="27.9" r="15.5"/><circle cx="424.0" cy="45.3" r="9.9"/><circle cx="470.0" cy="77.0" r="13.5"/><circle cx="439.0" cy="154.5" r="15.7"/><circle cx="421.0" cy="72.4" r="13.3"/><circle cx="458.5" cy="61.5" r="10.5"/><circle cx="402.5" cy="36.3" r="16.6"/><circle cx="452.4" cy="92.6" r="9.0"/><circle cx="429.5" cy="21.1" r="9.4"/><circle cx="440.1" cy="74.0" r="11.0"/><circle cx="447.4" cy="241.9" r="8.7"/><circle cx="436.3" cy="118.2" r="14.1"/><circle cx="476.0" cy="107.7" r="12.5"/><circle cx="439.1" cy="86.7" r="16.4"/><circle cx="495.6" cy="85.2" r="16.2"/><circle cx="472.9" cy="124.9" r="11.3"/><circle cx="406.9" cy="25.6" r="12.3"/><circle cx="492.5" cy="63.3" r="14.2"/><circle cx="462.5" cy="169.6" r="8.9"/><circle cx="413.9" cy="17.1" r="16.2"/><circle cx="464.0" cy="115.6" r="9.6"/><circle cx="426.4" cy="105.5" r="9.7"/><circle cx="443.4" cy="22.1" r="14.7"/><circle cx="422.2" cy="39.3" r="9.9"/><circle cx="448.1" cy="254.6" r="15.8"/><circle cx="496.4" cy="71.3" r="8.4"/><circle cx="447.3" cy="47.0" r="10.7"/><circle cx="491.9" cy="50.3" r="15.4"/><circle cx="441.7" cy="186.4" r="9.3"/><circle cx="431.5" cy="101.9" r="13.0"/><circle cx="439.8" cy="42.5" r="8.1"/><circle cx="474.4" cy="72.2" r="13.0"/><circle cx="455.2" cy="93.5" r="8.9"/><circle cx="462.6" cy="111.4" r="14.6"/><circle cx="412.8" cy="25.5" r="14.0"/><circle cx="447.4" cy="203.6" r="9.3"/><circle cx="432.9" cy="33.7" r="11.8"/><circle cx="407.3" cy="33.2" r="10.1"/><circle cx="443.7" cy="68.8" r="10.0"/></g>
<clipPath id="csb"><path d="M496.0 52.0 C500.7 43.3 506.7 55.8 514.0 58.0 C521.3 60.2 530.5 62.7 540.0 65.0 C549.5 67.3 563.3 68.5 571.0 72.0 C578.7 75.5 582.3 80.0 586.0 86.0 C589.7 92.0 592.0 95.7 593.0 108.0 C594.0 120.3 592.5 144.7 592.0 160.0 C591.5 175.3 592.8 191.7 590.0 200.0 C587.2 208.3 581.7 207.5 575.0 210.0 C568.3 212.5 557.5 210.0 550.0 215.0 C542.5 220.0 535.0 230.8 530.0 240.0 C525.0 249.2 525.8 262.3 520.0 270.0 C514.2 277.7 503.3 284.0 495.0 286.0 C486.7 288.0 476.8 285.3 470.0 282.0 C463.2 278.7 456.0 274.7 454.0 266.0 C452.0 257.3 455.3 244.0 458.0 230.0 C460.7 216.0 466.7 197.0 470.0 182.0 C473.3 167.0 475.3 152.0 478.0 140.0 C480.7 128.0 483.0 124.7 486.0 110.0 C489.0 95.3 491.3 60.7 496.0 52.0 Z"/></clipPath>
<path d="M496.0 52.0 C500.7 43.3 506.7 55.8 514.0 58.0 C521.3 60.2 530.5 62.7 540.0 65.0 C549.5 67.3 563.3 68.5 571.0 72.0 C578.7 75.5 582.3 80.0 586.0 86.0 C589.7 92.0 592.0 95.7 593.0 108.0 C594.0 120.3 592.5 144.7 592.0 160.0 C591.5 175.3 592.8 191.7 590.0 200.0 C587.2 208.3 581.7 207.5 575.0 210.0 C568.3 212.5 557.5 210.0 550.0 215.0 C542.5 220.0 535.0 230.8 530.0 240.0 C525.0 249.2 525.8 262.3 520.0 270.0 C514.2 277.7 503.3 284.0 495.0 286.0 C486.7 288.0 476.8 285.3 470.0 282.0 C463.2 278.7 456.0 274.7 454.0 266.0 C452.0 257.3 455.3 244.0 458.0 230.0 C460.7 216.0 466.7 197.0 470.0 182.0 C473.3 167.0 475.3 152.0 478.0 140.0 C480.7 128.0 483.0 124.7 486.0 110.0 C489.0 95.3 491.3 60.7 496.0 52.0 Z" fill="#3774bf" stroke="#3774bf" stroke-width="7" stroke-linejoin="round"/>
<g clip-path="url(#csb)" fill="url(#gsb)"><circle cx="486.0" cy="127.7" r="12.8"/><circle cx="546.2" cy="97.7" r="10.1"/><circle cx="536.8" cy="226.7" r="9.2"/><circle cx="567.5" cy="98.0" r="8.7"/><circle cx="510.9" cy="229.2" r="8.4"/><circle cx="512.6" cy="127.4" r="8.9"/><circle cx="578.3" cy="170.5" r="10.0"/><circle cx="523.1" cy="170.5" r="9.6"/><circle cx="545.3" cy="153.7" r="12.4"/><circle cx="530.2" cy="169.6" r="13.3"/><circle cx="526.8" cy="141.4" r="12.6"/><circle cx="504.0" cy="235.3" r="12.5"/><circle cx="496.2" cy="123.4" r="9.0"/><circle cx="524.7" cy="118.7" r="10.7"/><circle cx="550.5" cy="122.1" r="8.6"/><circle cx="539.8" cy="179.5" r="12.8"/><circle cx="574.3" cy="159.5" r="11.1"/><circle cx="523.8" cy="251.4" r="10.9"/><circle cx="481.3" cy="153.8" r="11.4"/><circle cx="529.9" cy="78.0" r="14.2"/><circle cx="512.4" cy="231.0" r="10.8"/><circle cx="538.2" cy="94.3" r="10.2"/><circle cx="523.2" cy="220.1" r="13.5"/><circle cx="569.4" cy="176.5" r="14.7"/><circle cx="493.7" cy="248.7" r="11.1"/><circle cx="506.1" cy="199.2" r="11.1"/><circle cx="510.0" cy="234.0" r="12.3"/><circle cx="521.7" cy="261.6" r="12.2"/><circle cx="525.5" cy="92.8" r="8.0"/><circle cx="496.1" cy="101.1" r="7.8"/><circle cx="479.8" cy="171.9" r="13.4"/><circle cx="502.6" cy="269.2" r="8.1"/><circle cx="503.0" cy="211.8" r="9.8"/><circle cx="532.8" cy="205.5" r="11.0"/><circle cx="538.5" cy="200.6" r="13.9"/><circle cx="569.9" cy="181.6" r="13.1"/><circle cx="565.8" cy="163.6" r="7.8"/><circle cx="535.8" cy="167.1" r="13.3"/><circle cx="479.5" cy="253.1" r="8.4"/><circle cx="572.0" cy="93.5" r="10.5"/><circle cx="465.9" cy="246.2" r="10.0"/><circle cx="547.9" cy="101.9" r="12.6"/><circle cx="533.3" cy="118.0" r="13.8"/><circle cx="517.7" cy="164.3" r="11.6"/><circle cx="550.1" cy="115.2" r="12.0"/><circle cx="554.1" cy="72.9" r="15.2"/><circle cx="541.7" cy="139.7" r="7.7"/><circle cx="576.5" cy="97.4" r="9.5"/><circle cx="539.0" cy="129.1" r="9.6"/><circle cx="590.2" cy="152.3" r="8.2"/><circle cx="533.8" cy="192.3" r="14.5"/><circle cx="510.4" cy="105.8" r="13.8"/><circle cx="477.8" cy="175.8" r="14.6"/><circle cx="576.7" cy="182.9" r="15.0"/><circle cx="579.5" cy="187.6" r="13.4"/><circle cx="557.0" cy="69.3" r="11.2"/><circle cx="546.5" cy="159.7" r="11.9"/><circle cx="546.9" cy="185.7" r="9.2"/><circle cx="503.0" cy="207.9" r="11.9"/><circle cx="531.7" cy="80.5" r="14.8"/></g>
<clipPath id="csc"><path d="M452.0 242.0 C457.0 234.0 462.0 224.0 470.0 222.0 C478.0 220.0 488.3 231.3 500.0 230.0 C511.7 228.7 530.0 214.0 540.0 214.0 C550.0 214.0 557.5 222.3 560.0 230.0 C562.5 237.7 558.3 251.7 555.0 260.0 C551.7 268.3 545.8 273.3 540.0 280.0 C534.2 286.7 528.2 295.0 520.0 300.0 C511.8 305.0 499.3 309.7 491.0 310.0 C482.7 310.3 477.7 304.3 470.0 302.0 C462.3 299.7 450.0 301.3 445.0 296.0 C440.0 290.7 438.8 279.0 440.0 270.0 C441.2 261.0 447.0 250.0 452.0 242.0 Z"/></clipPath>
<path d="M452.0 242.0 C457.0 234.0 462.0 224.0 470.0 222.0 C478.0 220.0 488.3 231.3 500.0 230.0 C511.7 228.7 530.0 214.0 540.0 214.0 C550.0 214.0 557.5 222.3 560.0 230.0 C562.5 237.7 558.3 251.7 555.0 260.0 C551.7 268.3 545.8 273.3 540.0 280.0 C534.2 286.7 528.2 295.0 520.0 300.0 C511.8 305.0 499.3 309.7 491.0 310.0 C482.7 310.3 477.7 304.3 470.0 302.0 C462.3 299.7 450.0 301.3 445.0 296.0 C440.0 290.7 438.8 279.0 440.0 270.0 C441.2 261.0 447.0 250.0 452.0 242.0 Z" fill="#5aadc5" stroke="#5aadc5" stroke-width="7" stroke-linejoin="round"/>
<g clip-path="url(#csc)" fill="url(#gsc)"><circle cx="489.2" cy="253.7" r="7.3"/><circle cx="458.7" cy="238.1" r="12.7"/><circle cx="500.1" cy="302.0" r="8.0"/><circle cx="518.0" cy="290.3" r="10.4"/><circle cx="494.7" cy="275.9" r="13.1"/><circle cx="445.0" cy="295.1" r="11.6"/><circle cx="538.9" cy="241.4" r="7.3"/><circle cx="507.0" cy="287.3" r="11.0"/><circle cx="530.2" cy="258.7" r="7.8"/><circle cx="491.2" cy="232.2" r="8.5"/><circle cx="519.2" cy="290.2" r="10.1"/><circle cx="481.2" cy="293.5" r="8.1"/><circle cx="486.9" cy="296.7" r="12.1"/><circle cx="555.8" cy="235.7" r="7.7"/><circle cx="480.6" cy="283.3" r="12.1"/><circle cx="521.1" cy="244.2" r="14.6"/><circle cx="484.4" cy="226.0" r="8.5"/><circle cx="491.0" cy="259.2" r="7.8"/><circle cx="471.8" cy="251.7" r="7.5"/><circle cx="496.6" cy="238.7" r="11.3"/><circle cx="545.7" cy="260.3" r="9.8"/><circle cx="488.6" cy="273.5" r="15.1"/><circle cx="467.6" cy="262.6" r="8.1"/><circle cx="520.6" cy="291.2" r="12.1"/></g>
<clipPath id="csc2"><path d="M514.0 58.0 C517.3 54.7 530.5 58.0 540.0 60.0 C549.5 62.0 563.3 65.7 571.0 70.0 C578.7 74.3 585.2 81.0 586.0 86.0 C586.8 91.0 582.8 99.0 576.0 100.0 C569.2 101.0 554.3 95.3 545.0 92.0 C535.7 88.7 525.2 85.7 520.0 80.0 C514.8 74.3 510.7 61.3 514.0 58.0 Z"/></clipPath>
<path d="M514.0 58.0 C517.3 54.7 530.5 58.0 540.0 60.0 C549.5 62.0 563.3 65.7 571.0 70.0 C578.7 74.3 585.2 81.0 586.0 86.0 C586.8 91.0 582.8 99.0 576.0 100.0 C569.2 101.0 554.3 95.3 545.0 92.0 C535.7 88.7 525.2 85.7 520.0 80.0 C514.8 74.3 510.7 61.3 514.0 58.0 Z" fill="#63b4ce" stroke="#63b4ce" stroke-width="7" stroke-linejoin="round"/>
<g clip-path="url(#csc2)" fill="url(#gsc2)"><circle cx="535.9" cy="80.4" r="8.4"/><circle cx="538.2" cy="74.8" r="10.6"/><circle cx="557.9" cy="67.3" r="6.8"/><circle cx="561.7" cy="86.5" r="10.3"/><circle cx="574.5" cy="93.6" r="10.1"/><circle cx="575.4" cy="76.5" r="10.5"/><circle cx="538.9" cy="83.5" r="8.9"/><circle cx="529.6" cy="63.1" r="9.2"/></g>
<clipPath id="csgr"><path d="M545.0 198.0 C550.8 191.0 567.0 187.7 575.0 188.0 C583.0 188.3 590.2 190.5 593.0 200.0 C595.8 209.5 593.0 235.3 592.0 245.0 C591.0 254.7 592.3 255.0 587.0 258.0 C581.7 261.0 567.3 263.0 560.0 263.0 C552.7 263.0 546.3 263.5 543.0 258.0 C539.7 252.5 539.7 240.0 540.0 230.0 C540.3 220.0 539.2 205.0 545.0 198.0 Z"/></clipPath>
<path d="M545.0 198.0 C550.8 191.0 567.0 187.7 575.0 188.0 C583.0 188.3 590.2 190.5 593.0 200.0 C595.8 209.5 593.0 235.3 592.0 245.0 C591.0 254.7 592.3 255.0 587.0 258.0 C581.7 261.0 567.3 263.0 560.0 263.0 C552.7 263.0 546.3 263.5 543.0 258.0 C539.7 252.5 539.7 240.0 540.0 230.0 C540.3 220.0 539.2 205.0 545.0 198.0 Z" fill="#55a25e" stroke="#55a25e" stroke-width="7" stroke-linejoin="round"/>
<g clip-path="url(#csgr)" fill="url(#gsgr)"><circle cx="561.5" cy="198.4" r="12.1"/><circle cx="587.8" cy="224.1" r="15.0"/><circle cx="581.3" cy="196.1" r="9.0"/><circle cx="585.9" cy="219.6" r="10.4"/><circle cx="547.9" cy="258.4" r="10.2"/><circle cx="556.8" cy="196.0" r="13.1"/><circle cx="572.6" cy="244.0" r="12.1"/><circle cx="577.4" cy="238.4" r="8.7"/><circle cx="580.0" cy="246.7" r="8.2"/><circle cx="544.0" cy="240.7" r="13.4"/><circle cx="545.8" cy="233.0" r="9.4"/><circle cx="575.3" cy="219.3" r="12.5"/></g>
<clipPath id="csdb"><path d="M442.0 296.0 C447.0 295.5 461.8 300.7 470.0 303.0 C478.2 305.3 483.5 310.5 491.0 310.0 C498.5 309.5 507.7 305.0 515.0 300.0 C522.3 295.0 530.8 281.7 535.0 280.0 C539.2 278.3 542.2 284.7 540.0 290.0 C537.8 295.3 529.5 307.0 522.0 312.0 C514.5 317.0 505.3 319.3 495.0 320.0 C484.7 320.7 469.2 318.3 460.0 316.0 C450.8 313.7 443.0 309.3 440.0 306.0 C437.0 302.7 437.0 296.5 442.0 296.0 Z"/></clipPath>
<path d="M442.0 296.0 C447.0 295.5 461.8 300.7 470.0 303.0 C478.2 305.3 483.5 310.5 491.0 310.0 C498.5 309.5 507.7 305.0 515.0 300.0 C522.3 295.0 530.8 281.7 535.0 280.0 C539.2 278.3 542.2 284.7 540.0 290.0 C537.8 295.3 529.5 307.0 522.0 312.0 C514.5 317.0 505.3 319.3 495.0 320.0 C484.7 320.7 469.2 318.3 460.0 316.0 C450.8 313.7 443.0 309.3 440.0 306.0 C437.0 302.7 437.0 296.5 442.0 296.0 Z" fill="#2746a6" stroke="#2746a6" stroke-width="7" stroke-linejoin="round"/>
<g clip-path="url(#csdb)" fill="url(#gsdb)"><circle cx="494.6" cy="312.3" r="7.0"/><circle cx="523.4" cy="294.3" r="10.9"/><circle cx="485.3" cy="312.3" r="7.4"/><circle cx="515.5" cy="312.1" r="10.6"/><circle cx="519.8" cy="311.1" r="11.6"/><circle cx="519.9" cy="303.9" r="6.4"/><circle cx="462.8" cy="309.5" r="11.6"/><circle cx="491.4" cy="314.9" r="9.0"/><circle cx="471.5" cy="306.4" r="5.7"/><circle cx="506.6" cy="311.3" r="6.6"/></g>
<clipPath id="csdb2"><path d="M350.0 316.0 C354.0 312.2 362.2 306.0 364.0 309.0 C365.8 312.0 364.0 325.8 361.0 334.0 C358.0 342.2 350.2 354.3 346.0 358.0 C341.8 361.7 337.0 360.3 336.0 356.0 C335.0 351.7 337.7 338.7 340.0 332.0 C342.3 325.3 346.0 319.8 350.0 316.0 Z"/></clipPath>
<path d="M350.0 316.0 C354.0 312.2 362.2 306.0 364.0 309.0 C365.8 312.0 364.0 325.8 361.0 334.0 C358.0 342.2 350.2 354.3 346.0 358.0 C341.8 361.7 337.0 360.3 336.0 356.0 C335.0 351.7 337.7 338.7 340.0 332.0 C342.3 325.3 346.0 319.8 350.0 316.0 Z" fill="#2746a6" stroke="#2746a6" stroke-width="7" stroke-linejoin="round"/>
<g clip-path="url(#csdb2)" fill="url(#gsdb2)"><circle cx="341.5" cy="333.4" r="7.8"/><circle cx="356.7" cy="338.8" r="7.7"/><circle cx="357.2" cy="321.8" r="7.3"/><circle cx="352.9" cy="315.2" r="9.9"/></g>
<clipPath id="csdb3"><path d="M570.0 100.0 C574.2 95.8 586.2 96.7 590.0 105.0 C593.8 113.3 593.8 138.3 593.0 150.0 C592.2 161.7 588.8 171.7 585.0 175.0 C581.2 178.3 573.3 177.5 570.0 170.0 C566.7 162.5 565.0 141.7 565.0 130.0 C565.0 118.3 565.8 104.2 570.0 100.0 Z"/></clipPath>
<path d="M570.0 100.0 C574.2 95.8 586.2 96.7 590.0 105.0 C593.8 113.3 593.8 138.3 593.0 150.0 C592.2 161.7 588.8 171.7 585.0 175.0 C581.2 178.3 573.3 177.5 570.0 170.0 C566.7 162.5 565.0 141.7 565.0 130.0 C565.0 118.3 565.8 104.2 570.0 100.0 Z" fill="#3563b8" stroke="#3563b8" stroke-width="7" stroke-linejoin="round"/>
<g clip-path="url(#csdb3)" fill="url(#gsdb3)"><circle cx="585.6" cy="163.2" r="11.2"/><circle cx="572.3" cy="139.5" r="9.7"/><circle cx="570.4" cy="155.6" r="7.3"/><circle cx="584.0" cy="148.3" r="7.5"/><circle cx="576.9" cy="151.3" r="9.1"/><circle cx="573.5" cy="170.4" r="7.8"/></g>
</g>
<defs><clipPath id="silclip"><path d="M311.0 12.0 C316.2 2.8 326.5 4.7 334.0 4.0 C341.5 3.3 348.7 5.0 356.0 8.0 C363.3 11.0 370.7 20.3 378.0 22.0 C385.3 23.7 391.3 19.2 400.0 18.0 C408.7 16.8 421.3 14.7 430.0 15.0 C438.7 15.3 444.3 20.2 452.0 20.0 C459.7 19.8 469.3 12.7 476.0 14.0 C482.7 15.3 488.3 21.7 492.0 28.0 C495.7 34.3 494.3 47.0 498.0 52.0 C501.7 57.0 507.0 56.0 514.0 58.0 C521.0 60.0 530.5 61.8 540.0 64.0 C549.5 66.2 563.3 67.3 571.0 71.0 C578.7 74.7 582.3 79.8 586.0 86.0 C589.7 92.2 591.8 95.7 593.0 108.0 C594.2 120.3 593.0 137.2 593.0 160.0 C593.0 182.8 594.0 228.7 593.0 245.0 C592.0 261.3 592.5 255.0 587.0 258.0 C581.5 261.0 567.3 263.0 560.0 263.0 C552.7 263.0 546.3 253.5 543.0 258.0 C539.7 262.5 543.5 281.0 540.0 290.0 C536.5 299.0 529.5 307.0 522.0 312.0 C514.5 317.0 505.3 319.3 495.0 320.0 C484.7 320.7 468.5 317.3 460.0 316.0 C451.5 314.7 448.7 312.0 444.0 312.0 C439.3 312.0 437.7 313.7 432.0 316.0 C426.3 318.3 416.0 323.0 410.0 326.0 C404.0 329.0 401.0 333.0 396.0 334.0 C391.0 335.0 385.3 331.7 380.0 332.0 C374.7 332.3 369.7 331.7 364.0 336.0 C358.3 340.3 350.7 354.7 346.0 358.0 C341.3 361.3 340.0 358.0 336.0 356.0 C332.0 354.0 328.0 351.7 322.0 346.0 C316.0 340.3 305.3 330.3 300.0 322.0 C294.7 313.7 294.0 308.7 290.0 296.0 C286.0 283.3 285.5 256.0 276.0 246.0 C266.5 236.0 240.3 240.3 233.0 236.0 C225.7 231.7 227.8 225.2 232.0 220.0 C236.2 214.8 253.0 210.0 258.0 205.0 C263.0 200.0 262.7 196.7 262.0 190.0 C261.3 183.3 256.0 174.2 254.0 165.0 C252.0 155.8 248.7 144.2 250.0 135.0 C251.3 125.8 257.0 118.3 262.0 110.0 C267.0 101.7 273.2 93.5 280.0 85.0 C286.8 76.5 297.8 71.2 303.0 59.0 C308.2 46.8 305.8 21.2 311.0 12.0 Z"/></clipPath><radialGradient id="hgt"><stop offset="0" stop-color="#fff" stop-opacity="1"/><stop offset="0.7" stop-color="#fff" stop-opacity="0.55"/><stop offset="1" stop-color="#fff" stop-opacity="0"/></radialGradient><filter id="sdiff" x="220" y="0" width="385" height="370" filterUnits="userSpaceOnUse"><feGaussianBlur in="SourceAlpha" stdDeviation="2.2" result="b"/><feDiffuseLighting in="b" surfaceScale="5.5" diffuseConstant="1.2" lighting-color="#fff" result="d"><feDistantLight azimuth="235" elevation="55"/></feDiffuseLighting></filter><filter id="sspec" x="220" y="0" width="385" height="370" filterUnits="userSpaceOnUse"><feGaussianBlur in="SourceAlpha" stdDeviation="2.2" result="b"/><feSpecularLighting in="b" surfaceScale="5.5" specularConstant="0.9" specularExponent="25" lighting-color="#fff8e0" result="s"><feDistantLight azimuth="235" elevation="50"/></feSpecularLighting><feComposite in="s" in2="SourceAlpha" operator="in"/></filter></defs>
<g clip-path="url(#silclip)" style="mix-blend-mode:multiply"><g filter="url(#sdiff)"><path d="M311.0 12.0 C316.2 2.8 326.5 4.7 334.0 4.0 C341.5 3.3 348.7 5.0 356.0 8.0 C363.3 11.0 370.7 20.3 378.0 22.0 C385.3 23.7 391.3 19.2 400.0 18.0 C408.7 16.8 421.3 14.7 430.0 15.0 C438.7 15.3 444.3 20.2 452.0 20.0 C459.7 19.8 469.3 12.7 476.0 14.0 C482.7 15.3 488.3 21.7 492.0 28.0 C495.7 34.3 494.3 47.0 498.0 52.0 C501.7 57.0 507.0 56.0 514.0 58.0 C521.0 60.0 530.5 61.8 540.0 64.0 C549.5 66.2 563.3 67.3 571.0 71.0 C578.7 74.7 582.3 79.8 586.0 86.0 C589.7 92.2 591.8 95.7 593.0 108.0 C594.2 120.3 593.0 137.2 593.0 160.0 C593.0 182.8 594.0 228.7 593.0 245.0 C592.0 261.3 592.5 255.0 587.0 258.0 C581.5 261.0 567.3 263.0 560.0 263.0 C552.7 263.0 546.3 253.5 543.0 258.0 C539.7 262.5 543.5 281.0 540.0 290.0 C536.5 299.0 529.5 307.0 522.0 312.0 C514.5 317.0 505.3 319.3 495.0 320.0 C484.7 320.7 468.5 317.3 460.0 316.0 C451.5 314.7 448.7 312.0 444.0 312.0 C439.3 312.0 437.7 313.7 432.0 316.0 C426.3 318.3 416.0 323.0 410.0 326.0 C404.0 329.0 401.0 333.0 396.0 334.0 C391.0 335.0 385.3 331.7 380.0 332.0 C374.7 332.3 369.7 331.7 364.0 336.0 C358.3 340.3 350.7 354.7 346.0 358.0 C341.3 361.3 340.0 358.0 336.0 356.0 C332.0 354.0 328.0 351.7 322.0 346.0 C316.0 340.3 305.3 330.3 300.0 322.0 C294.7 313.7 294.0 308.7 290.0 296.0 C286.0 283.3 285.5 256.0 276.0 246.0 C266.5 236.0 240.3 240.3 233.0 236.0 C225.7 231.7 227.8 225.2 232.0 220.0 C236.2 214.8 253.0 210.0 258.0 205.0 C263.0 200.0 262.7 196.7 262.0 190.0 C261.3 183.3 256.0 174.2 254.0 165.0 C252.0 155.8 248.7 144.2 250.0 135.0 C251.3 125.8 257.0 118.3 262.0 110.0 C267.0 101.7 273.2 93.5 280.0 85.0 C286.8 76.5 297.8 71.2 303.0 59.0 C308.2 46.8 305.8 21.2 311.0 12.0 Z" fill="#fff" fill-opacity="0.25"/><g fill="url(#hgt)"><circle cx="378" cy="75" r="9"/><circle cx="322" cy="273" r="10"/><circle cx="370" cy="246" r="12"/><circle cx="571" cy="177" r="11"/><circle cx="453" cy="81" r="16"/><circle cx="367" cy="141" r="14"/><circle cx="287" cy="238" r="15"/><circle cx="354" cy="339" r="12"/><circle cx="512" cy="170" r="11"/><circle cx="329" cy="7" r="9"/><circle cx="589" cy="193" r="12"/><circle cx="557" cy="218" r="17"/><circle cx="361" cy="80" r="16"/><circle cx="290" cy="284" r="13"/><circle cx="470" cy="17" r="7"/><circle cx="403" cy="294" r="8"/><circle cx="386" cy="34" r="10"/><circle cx="421" cy="75" r="15"/><circle cx="325" cy="147" r="15"/><circle cx="360" cy="250" r="16"/><circle cx="448" cy="269" r="13"/><circle cx="379" cy="38" r="8"/><circle cx="435" cy="277" r="15"/><circle cx="529" cy="70" r="8"/><circle cx="336" cy="211" r="7"/><circle cx="310" cy="145" r="15"/><circle cx="376" cy="151" r="11"/><circle cx="565" cy="259" r="11"/><circle cx="392" cy="114" r="14"/><circle cx="468" cy="114" r="16"/><circle cx="492" cy="81" r="15"/><circle cx="475" cy="92" r="10"/><circle cx="324" cy="182" r="16"/><circle cx="325" cy="316" r="11"/><circle cx="470" cy="220" r="10"/><circle cx="477" cy="218" r="17"/><circle cx="473" cy="160" r="11"/><circle cx="552" cy="126" r="14"/><circle cx="302" cy="239" r="9"/><circle cx="463" cy="237" r="14"/><circle cx="545" cy="86" r="16"/><circle cx="357" cy="146" r="8"/><circle cx="344" cy="242" r="14"/><circle cx="292" cy="282" r="11"/><circle cx="306" cy="269" r="14"/><circle cx="401" cy="192" r="13"/><circle cx="460" cy="275" r="15"/><circle cx="270" cy="113" r="13"/><circle cx="579" cy="152" r="11"/><circle cx="444" cy="108" r="15"/><circle cx="376" cy="65" r="12"/><circle cx="393" cy="305" r="14"/><circle cx="297" cy="93" r="10"/><circle cx="370" cy="297" r="16"/><circle cx="405" cy="320" r="16"/><circle cx="404" cy="64" r="8"/><circle cx="318" cy="167" r="7"/><circle cx="351" cy="179" r="10"/><circle cx="497" cy="206" r="12"/><circle cx="461" cy="210" r="11"/><circle cx="292" cy="212" r="7"/><circle cx="315" cy="271" r="9"/><circle cx="391" cy="250" r="11"/><circle cx="294" cy="102" r="11"/><circle cx="434" cy="74" r="13"/><circle cx="485" cy="235" r="15"/><circle cx="494" cy="296" r="9"/><circle cx="465" cy="63" r="16"/><circle cx="491" cy="222" r="15"/><circle cx="453" cy="124" r="8"/><circle cx="356" cy="225" r="9"/><circle cx="368" cy="245" r="8"/><circle cx="519" cy="87" r="11"/><circle cx="511" cy="136" r="10"/><circle cx="341" cy="60" r="16"/><circle cx="339" cy="48" r="11"/><circle cx="258" cy="129" r="13"/><circle cx="347" cy="122" r="10"/><circle cx="526" cy="220" r="12"/><circle cx="544" cy="106" r="11"/><circle cx="314" cy="190" r="17"/><circle cx="309" cy="233" r="9"/><circle cx="437" cy="158" r="13"/><circle cx="340" cy="354" r="10"/><circle cx="441" cy="156" r="7"/><circle cx="464" cy="182" r="16"/><circle cx="444" cy="125" r="8"/><circle cx="413" cy="86" r="13"/><circle cx="307" cy="307" r="11"/><circle cx="305" cy="287" r="8"/><circle cx="498" cy="92" r="15"/><circle cx="325" cy="235" r="14"/><circle cx="414" cy="312" r="12"/><circle cx="317" cy="190" r="14"/><circle cx="384" cy="190" r="8"/><circle cx="322" cy="276" r="10"/><circle cx="300" cy="285" r="7"/><circle cx="338" cy="99" r="16"/><circle cx="324" cy="208" r="10"/><circle cx="494" cy="44" r="10"/><circle cx="283" cy="112" r="10"/><circle cx="452" cy="300" r="11"/><circle cx="362" cy="117" r="11"/><circle cx="426" cy="280" r="7"/><circle cx="296" cy="83" r="13"/><circle cx="389" cy="249" r="17"/><circle cx="365" cy="154" r="16"/><circle cx="327" cy="256" r="15"/><circle cx="331" cy="90" r="16"/><circle cx="311" cy="119" r="8"/><circle cx="548" cy="224" r="9"/><circle cx="392" cy="161" r="7"/><circle cx="370" cy="265" r="10"/><circle cx="486" cy="155" r="16"/><circle cx="450" cy="193" r="16"/><circle cx="270" cy="105" r="15"/><circle cx="396" cy="177" r="17"/><circle cx="435" cy="229" r="16"/><circle cx="301" cy="317" r="14"/><circle cx="521" cy="81" r="14"/><circle cx="336" cy="301" r="15"/><circle cx="487" cy="41" r="15"/><circle cx="503" cy="141" r="8"/><circle cx="329" cy="190" r="10"/><circle cx="331" cy="48" r="14"/><circle cx="531" cy="93" r="11"/><circle cx="553" cy="216" r="9"/><circle cx="343" cy="163" r="12"/><circle cx="461" cy="167" r="8"/><circle cx="351" cy="50" r="12"/><circle cx="454" cy="217" r="8"/><circle cx="433" cy="281" r="13"/><circle cx="354" cy="282" r="11"/><circle cx="264" cy="166" r="8"/><circle cx="512" cy="110" r="8"/><circle cx="496" cy="255" r="9"/><circle cx="432" cy="231" r="8"/><circle cx="534" cy="109" r="10"/><circle cx="247" cy="234" r="10"/><circle cx="428" cy="128" r="10"/><circle cx="525" cy="226" r="13"/><circle cx="450" cy="201" r="14"/><circle cx="537" cy="193" r="7"/><circle cx="451" cy="126" r="8"/><circle cx="577" cy="202" r="15"/><circle cx="294" cy="120" r="17"/><circle cx="481" cy="261" r="10"/><circle cx="473" cy="125" r="9"/><circle cx="265" cy="142" r="16"/><circle cx="429" cy="136" r="13"/><circle cx="565" cy="96" r="16"/><circle cx="586" cy="129" r="8"/><circle cx="365" cy="115" r="9"/><circle cx="277" cy="239" r="10"/><circle cx="569" cy="148" r="8"/><circle cx="471" cy="276" r="16"/><circle cx="430" cy="193" r="8"/><circle cx="380" cy="200" r="10"/><circle cx="389" cy="140" r="15"/><circle cx="357" cy="321" r="9"/><circle cx="467" cy="181" r="10"/><circle cx="257" cy="130" r="17"/><circle cx="360" cy="266" r="17"/><circle cx="395" cy="232" r="15"/><circle cx="411" cy="258" r="9"/><circle cx="588" cy="157" r="16"/><circle cx="430" cy="106" r="13"/><circle cx="510" cy="260" r="7"/><circle cx="322" cy="143" r="11"/><circle cx="506" cy="275" r="10"/><circle cx="358" cy="319" r="14"/><circle cx="529" cy="194" r="9"/><circle cx="382" cy="244" r="9"/><circle cx="324" cy="302" r="11"/><circle cx="578" cy="111" r="7"/><circle cx="486" cy="86" r="16"/><circle cx="549" cy="256" r="7"/><circle cx="423" cy="83" r="10"/><circle cx="374" cy="146" r="16"/><circle cx="367" cy="63" r="9"/><circle cx="399" cy="102" r="15"/><circle cx="459" cy="263" r="9"/><circle cx="437" cy="249" r="7"/><circle cx="376" cy="241" r="9"/><circle cx="578" cy="79" r="8"/><circle cx="511" cy="192" r="10"/><circle cx="310" cy="27" r="9"/><circle cx="459" cy="92" r="17"/><circle cx="289" cy="91" r="11"/><circle cx="576" cy="125" r="9"/><circle cx="402" cy="80" r="17"/><circle cx="390" cy="183" r="17"/><circle cx="387" cy="313" r="11"/><circle cx="332" cy="344" r="13"/><circle cx="284" cy="205" r="14"/><circle cx="281" cy="175" r="11"/><circle cx="298" cy="247" r="12"/><circle cx="447" cy="194" r="13"/><circle cx="513" cy="175" r="17"/><circle cx="558" cy="165" r="8"/><circle cx="409" cy="139" r="16"/><circle cx="345" cy="25" r="9"/><circle cx="560" cy="156" r="12"/><circle cx="504" cy="311" r="8"/><circle cx="445" cy="71" r="17"/><circle cx="510" cy="94" r="10"/><circle cx="311" cy="218" r="9"/><circle cx="399" cy="173" r="15"/><circle cx="357" cy="323" r="9"/><circle cx="309" cy="314" r="16"/><circle cx="334" cy="292" r="11"/><circle cx="299" cy="243" r="10"/><circle cx="341" cy="232" r="13"/><circle cx="425" cy="36" r="8"/><circle cx="364" cy="124" r="10"/><circle cx="347" cy="267" r="16"/><circle cx="565" cy="142" r="13"/><circle cx="315" cy="113" r="16"/><circle cx="426" cy="35" r="12"/><circle cx="517" cy="245" r="8"/><circle cx="372" cy="118" r="9"/><circle cx="321" cy="301" r="13"/><circle cx="522" cy="144" r="15"/><circle cx="301" cy="99" r="14"/><circle cx="401" cy="25" r="10"/><circle cx="360" cy="96" r="10"/><circle cx="318" cy="92" r="11"/><circle cx="273" cy="216" r="15"/><circle cx="296" cy="230" r="14"/><circle cx="346" cy="140" r="8"/><circle cx="512" cy="80" r="11"/><circle cx="416" cy="103" r="17"/><circle cx="549" cy="162" r="9"/><circle cx="504" cy="188" r="14"/><circle cx="515" cy="77" r="13"/><circle cx="491" cy="66" r="17"/><circle cx="330" cy="304" r="7"/><circle cx="527" cy="280" r="9"/><circle cx="371" cy="21" r="9"/><circle cx="303" cy="168" r="16"/><circle cx="360" cy="248" r="14"/><circle cx="343" cy="19" r="9"/><circle cx="304" cy="186" r="10"/><circle cx="467" cy="221" r="8"/><circle cx="542" cy="151" r="9"/><circle cx="305" cy="65" r="11"/><circle cx="319" cy="299" r="15"/><circle cx="425" cy="244" r="11"/><circle cx="452" cy="223" r="14"/><circle cx="583" cy="188" r="8"/><circle cx="503" cy="270" r="15"/><circle cx="451" cy="42" r="8"/><circle cx="545" cy="231" r="9"/><circle cx="317" cy="314" r="8"/><circle cx="443" cy="273" r="10"/><circle cx="474" cy="315" r="13"/><circle cx="416" cy="93" r="8"/><circle cx="288" cy="280" r="10"/><circle cx="356" cy="242" r="9"/><circle cx="332" cy="83" r="12"/></g></g></g>
<g clip-path="url(#silclip)" opacity="0.7"><g filter="url(#sspec)"><path d="M311.0 12.0 C316.2 2.8 326.5 4.7 334.0 4.0 C341.5 3.3 348.7 5.0 356.0 8.0 C363.3 11.0 370.7 20.3 378.0 22.0 C385.3 23.7 391.3 19.2 400.0 18.0 C408.7 16.8 421.3 14.7 430.0 15.0 C438.7 15.3 444.3 20.2 452.0 20.0 C459.7 19.8 469.3 12.7 476.0 14.0 C482.7 15.3 488.3 21.7 492.0 28.0 C495.7 34.3 494.3 47.0 498.0 52.0 C501.7 57.0 507.0 56.0 514.0 58.0 C521.0 60.0 530.5 61.8 540.0 64.0 C549.5 66.2 563.3 67.3 571.0 71.0 C578.7 74.7 582.3 79.8 586.0 86.0 C589.7 92.2 591.8 95.7 593.0 108.0 C594.2 120.3 593.0 137.2 593.0 160.0 C593.0 182.8 594.0 228.7 593.0 245.0 C592.0 261.3 592.5 255.0 587.0 258.0 C581.5 261.0 567.3 263.0 560.0 263.0 C552.7 263.0 546.3 253.5 543.0 258.0 C539.7 262.5 543.5 281.0 540.0 290.0 C536.5 299.0 529.5 307.0 522.0 312.0 C514.5 317.0 505.3 319.3 495.0 320.0 C484.7 320.7 468.5 317.3 460.0 316.0 C451.5 314.7 448.7 312.0 444.0 312.0 C439.3 312.0 437.7 313.7 432.0 316.0 C426.3 318.3 416.0 323.0 410.0 326.0 C404.0 329.0 401.0 333.0 396.0 334.0 C391.0 335.0 385.3 331.7 380.0 332.0 C374.7 332.3 369.7 331.7 364.0 336.0 C358.3 340.3 350.7 354.7 346.0 358.0 C341.3 361.3 340.0 358.0 336.0 356.0 C332.0 354.0 328.0 351.7 322.0 346.0 C316.0 340.3 305.3 330.3 300.0 322.0 C294.7 313.7 294.0 308.7 290.0 296.0 C286.0 283.3 285.5 256.0 276.0 246.0 C266.5 236.0 240.3 240.3 233.0 236.0 C225.7 231.7 227.8 225.2 232.0 220.0 C236.2 214.8 253.0 210.0 258.0 205.0 C263.0 200.0 262.7 196.7 262.0 190.0 C261.3 183.3 256.0 174.2 254.0 165.0 C252.0 155.8 248.7 144.2 250.0 135.0 C251.3 125.8 257.0 118.3 262.0 110.0 C267.0 101.7 273.2 93.5 280.0 85.0 C286.8 76.5 297.8 71.2 303.0 59.0 C308.2 46.8 305.8 21.2 311.0 12.0 Z" fill="#fff" fill-opacity="0.25"/><g fill="url(#hgt)"><circle cx="378" cy="75" r="9"/><circle cx="322" cy="273" r="10"/><circle cx="370" cy="246" r="12"/><circle cx="571" cy="177" r="11"/><circle cx="453" cy="81" r="16"/><circle cx="367" cy="141" r="14"/><circle cx="287" cy="238" r="15"/><circle cx="354" cy="339" r="12"/><circle cx="512" cy="170" r="11"/><circle cx="329" cy="7" r="9"/><circle cx="589" cy="193" r="12"/><circle cx="557" cy="218" r="17"/><circle cx="361" cy="80" r="16"/><circle cx="290" cy="284" r="13"/><circle cx="470" cy="17" r="7"/><circle cx="403" cy="294" r="8"/><circle cx="386" cy="34" r="10"/><circle cx="421" cy="75" r="15"/><circle cx="325" cy="147" r="15"/><circle cx="360" cy="250" r="16"/><circle cx="448" cy="269" r="13"/><circle cx="379" cy="38" r="8"/><circle cx="435" cy="277" r="15"/><circle cx="529" cy="70" r="8"/><circle cx="336" cy="211" r="7"/><circle cx="310" cy="145" r="15"/><circle cx="376" cy="151" r="11"/><circle cx="565" cy="259" r="11"/><circle cx="392" cy="114" r="14"/><circle cx="468" cy="114" r="16"/><circle cx="492" cy="81" r="15"/><circle cx="475" cy="92" r="10"/><circle cx="324" cy="182" r="16"/><circle cx="325" cy="316" r="11"/><circle cx="470" cy="220" r="10"/><circle cx="477" cy="218" r="17"/><circle cx="473" cy="160" r="11"/><circle cx="552" cy="126" r="14"/><circle cx="302" cy="239" r="9"/><circle cx="463" cy="237" r="14"/><circle cx="545" cy="86" r="16"/><circle cx="357" cy="146" r="8"/><circle cx="344" cy="242" r="14"/><circle cx="292" cy="282" r="11"/><circle cx="306" cy="269" r="14"/><circle cx="401" cy="192" r="13"/><circle cx="460" cy="275" r="15"/><circle cx="270" cy="113" r="13"/><circle cx="579" cy="152" r="11"/><circle cx="444" cy="108" r="15"/><circle cx="376" cy="65" r="12"/><circle cx="393" cy="305" r="14"/><circle cx="297" cy="93" r="10"/><circle cx="370" cy="297" r="16"/><circle cx="405" cy="320" r="16"/><circle cx="404" cy="64" r="8"/><circle cx="318" cy="167" r="7"/><circle cx="351" cy="179" r="10"/><circle cx="497" cy="206" r="12"/><circle cx="461" cy="210" r="11"/><circle cx="292" cy="212" r="7"/><circle cx="315" cy="271" r="9"/><circle cx="391" cy="250" r="11"/><circle cx="294" cy="102" r="11"/><circle cx="434" cy="74" r="13"/><circle cx="485" cy="235" r="15"/><circle cx="494" cy="296" r="9"/><circle cx="465" cy="63" r="16"/><circle cx="491" cy="222" r="15"/><circle cx="453" cy="124" r="8"/><circle cx="356" cy="225" r="9"/><circle cx="368" cy="245" r="8"/><circle cx="519" cy="87" r="11"/><circle cx="511" cy="136" r="10"/><circle cx="341" cy="60" r="16"/><circle cx="339" cy="48" r="11"/><circle cx="258" cy="129" r="13"/><circle cx="347" cy="122" r="10"/><circle cx="526" cy="220" r="12"/><circle cx="544" cy="106" r="11"/><circle cx="314" cy="190" r="17"/><circle cx="309" cy="233" r="9"/><circle cx="437" cy="158" r="13"/><circle cx="340" cy="354" r="10"/><circle cx="441" cy="156" r="7"/><circle cx="464" cy="182" r="16"/><circle cx="444" cy="125" r="8"/><circle cx="413" cy="86" r="13"/><circle cx="307" cy="307" r="11"/><circle cx="305" cy="287" r="8"/><circle cx="498" cy="92" r="15"/><circle cx="325" cy="235" r="14"/><circle cx="414" cy="312" r="12"/><circle cx="317" cy="190" r="14"/><circle cx="384" cy="190" r="8"/><circle cx="322" cy="276" r="10"/><circle cx="300" cy="285" r="7"/><circle cx="338" cy="99" r="16"/><circle cx="324" cy="208" r="10"/><circle cx="494" cy="44" r="10"/><circle cx="283" cy="112" r="10"/><circle cx="452" cy="300" r="11"/><circle cx="362" cy="117" r="11"/><circle cx="426" cy="280" r="7"/><circle cx="296" cy="83" r="13"/><circle cx="389" cy="249" r="17"/><circle cx="365" cy="154" r="16"/><circle cx="327" cy="256" r="15"/><circle cx="331" cy="90" r="16"/><circle cx="311" cy="119" r="8"/><circle cx="548" cy="224" r="9"/><circle cx="392" cy="161" r="7"/><circle cx="370" cy="265" r="10"/><circle cx="486" cy="155" r="16"/><circle cx="450" cy="193" r="16"/><circle cx="270" cy="105" r="15"/><circle cx="396" cy="177" r="17"/><circle cx="435" cy="229" r="16"/><circle cx="301" cy="317" r="14"/><circle cx="521" cy="81" r="14"/><circle cx="336" cy="301" r="15"/><circle cx="487" cy="41" r="15"/><circle cx="503" cy="141" r="8"/><circle cx="329" cy="190" r="10"/><circle cx="331" cy="48" r="14"/><circle cx="531" cy="93" r="11"/><circle cx="553" cy="216" r="9"/><circle cx="343" cy="163" r="12"/><circle cx="461" cy="167" r="8"/><circle cx="351" cy="50" r="12"/><circle cx="454" cy="217" r="8"/><circle cx="433" cy="281" r="13"/><circle cx="354" cy="282" r="11"/><circle cx="264" cy="166" r="8"/><circle cx="512" cy="110" r="8"/><circle cx="496" cy="255" r="9"/><circle cx="432" cy="231" r="8"/><circle cx="534" cy="109" r="10"/><circle cx="247" cy="234" r="10"/><circle cx="428" cy="128" r="10"/><circle cx="525" cy="226" r="13"/><circle cx="450" cy="201" r="14"/><circle cx="537" cy="193" r="7"/><circle cx="451" cy="126" r="8"/><circle cx="577" cy="202" r="15"/><circle cx="294" cy="120" r="17"/><circle cx="481" cy="261" r="10"/><circle cx="473" cy="125" r="9"/><circle cx="265" cy="142" r="16"/><circle cx="429" cy="136" r="13"/><circle cx="565" cy="96" r="16"/><circle cx="586" cy="129" r="8"/><circle cx="365" cy="115" r="9"/><circle cx="277" cy="239" r="10"/><circle cx="569" cy="148" r="8"/><circle cx="471" cy="276" r="16"/><circle cx="430" cy="193" r="8"/><circle cx="380" cy="200" r="10"/><circle cx="389" cy="140" r="15"/><circle cx="357" cy="321" r="9"/><circle cx="467" cy="181" r="10"/><circle cx="257" cy="130" r="17"/><circle cx="360" cy="266" r="17"/><circle cx="395" cy="232" r="15"/><circle cx="411" cy="258" r="9"/><circle cx="588" cy="157" r="16"/><circle cx="430" cy="106" r="13"/><circle cx="510" cy="260" r="7"/><circle cx="322" cy="143" r="11"/><circle cx="506" cy="275" r="10"/><circle cx="358" cy="319" r="14"/><circle cx="529" cy="194" r="9"/><circle cx="382" cy="244" r="9"/><circle cx="324" cy="302" r="11"/><circle cx="578" cy="111" r="7"/><circle cx="486" cy="86" r="16"/><circle cx="549" cy="256" r="7"/><circle cx="423" cy="83" r="10"/><circle cx="374" cy="146" r="16"/><circle cx="367" cy="63" r="9"/><circle cx="399" cy="102" r="15"/><circle cx="459" cy="263" r="9"/><circle cx="437" cy="249" r="7"/><circle cx="376" cy="241" r="9"/><circle cx="578" cy="79" r="8"/><circle cx="511" cy="192" r="10"/><circle cx="310" cy="27" r="9"/><circle cx="459" cy="92" r="17"/><circle cx="289" cy="91" r="11"/><circle cx="576" cy="125" r="9"/><circle cx="402" cy="80" r="17"/><circle cx="390" cy="183" r="17"/><circle cx="387" cy="313" r="11"/><circle cx="332" cy="344" r="13"/><circle cx="284" cy="205" r="14"/><circle cx="281" cy="175" r="11"/><circle cx="298" cy="247" r="12"/><circle cx="447" cy="194" r="13"/><circle cx="513" cy="175" r="17"/><circle cx="558" cy="165" r="8"/><circle cx="409" cy="139" r="16"/><circle cx="345" cy="25" r="9"/><circle cx="560" cy="156" r="12"/><circle cx="504" cy="311" r="8"/><circle cx="445" cy="71" r="17"/><circle cx="510" cy="94" r="10"/><circle cx="311" cy="218" r="9"/><circle cx="399" cy="173" r="15"/><circle cx="357" cy="323" r="9"/><circle cx="309" cy="314" r="16"/><circle cx="334" cy="292" r="11"/><circle cx="299" cy="243" r="10"/><circle cx="341" cy="232" r="13"/><circle cx="425" cy="36" r="8"/><circle cx="364" cy="124" r="10"/><circle cx="347" cy="267" r="16"/><circle cx="565" cy="142" r="13"/><circle cx="315" cy="113" r="16"/><circle cx="426" cy="35" r="12"/><circle cx="517" cy="245" r="8"/><circle cx="372" cy="118" r="9"/><circle cx="321" cy="301" r="13"/><circle cx="522" cy="144" r="15"/><circle cx="301" cy="99" r="14"/><circle cx="401" cy="25" r="10"/><circle cx="360" cy="96" r="10"/><circle cx="318" cy="92" r="11"/><circle cx="273" cy="216" r="15"/><circle cx="296" cy="230" r="14"/><circle cx="346" cy="140" r="8"/><circle cx="512" cy="80" r="11"/><circle cx="416" cy="103" r="17"/><circle cx="549" cy="162" r="9"/><circle cx="504" cy="188" r="14"/><circle cx="515" cy="77" r="13"/><circle cx="491" cy="66" r="17"/><circle cx="330" cy="304" r="7"/><circle cx="527" cy="280" r="9"/><circle cx="371" cy="21" r="9"/><circle cx="303" cy="168" r="16"/><circle cx="360" cy="248" r="14"/><circle cx="343" cy="19" r="9"/><circle cx="304" cy="186" r="10"/><circle cx="467" cy="221" r="8"/><circle cx="542" cy="151" r="9"/><circle cx="305" cy="65" r="11"/><circle cx="319" cy="299" r="15"/><circle cx="425" cy="244" r="11"/><circle cx="452" cy="223" r="14"/><circle cx="583" cy="188" r="8"/><circle cx="503" cy="270" r="15"/><circle cx="451" cy="42" r="8"/><circle cx="545" cy="231" r="9"/><circle cx="317" cy="314" r="8"/><circle cx="443" cy="273" r="10"/><circle cx="474" cy="315" r="13"/><circle cx="416" cy="93" r="8"/><circle cx="288" cy="280" r="10"/><circle cx="356" cy="242" r="9"/><circle cx="332" cy="83" r="12"/></g></g></g>
<path d="M484.8 121.1 L486.6 139.2 L480.9 144.3 L479.6 159.8 L483.5 164.9 L488.1 159.8 L486.6 144.3" fill="none" stroke="#6a6a6a" stroke-width="4.6" stroke-linejoin="round" stroke-linecap="round"/>
<path d="M484.8 121.1 L486.6 139.2 L480.9 144.3 L479.6 159.8 L483.5 164.9 L488.1 159.8 L486.6 144.3" fill="none" stroke="#e2e2e2" stroke-width="3.0" stroke-linejoin="round" stroke-linecap="round"/>
<path d="M479.6 159.8 L473.2 164.9 L469.3 177.8 L457.7 180.4 L462.9 190.7 L460.3 203.6" fill="none" stroke="#6a6a6a" stroke-width="4.6" stroke-linejoin="round" stroke-linecap="round"/>
<path d="M479.6 159.8 L473.2 164.9 L469.3 177.8 L457.7 180.4 L462.9 190.7 L460.3 203.6" fill="none" stroke="#e2e2e2" stroke-width="3.0" stroke-linejoin="round" stroke-linecap="round"/>
<path d="M473.2 164.9 L477.1 180.4 L470.6 185.6 L469.3 177.8" fill="none" stroke="#6a6a6a" stroke-width="4.6" stroke-linejoin="round" stroke-linecap="round"/>
<path d="M473.2 164.9 L477.1 180.4 L470.6 185.6 L469.3 177.8" fill="none" stroke="#e2e2e2" stroke-width="3.0" stroke-linejoin="round" stroke-linecap="round"/>
<path d="M460.3 203.6 L453.9 206.2 L451.3 213.9 L457.7 217.8 L464.2 213.9 L465.5 206.2 L460.3 203.6" fill="none" stroke="#6a6a6a" stroke-width="4.6" stroke-linejoin="round" stroke-linecap="round"/>
<path d="M460.3 203.6 L453.9 206.2 L451.3 213.9 L457.7 217.8 L464.2 213.9 L465.5 206.2 L460.3 203.6" fill="none" stroke="#e2e2e2" stroke-width="3.0" stroke-linejoin="round" stroke-linecap="round"/>
<path d="M457.7 180.4 L455.2 167.5" fill="none" stroke="#6a6a6a" stroke-width="4.6" stroke-linejoin="round" stroke-linecap="round"/>
<path d="M457.7 180.4 L455.2 167.5" fill="none" stroke="#e2e2e2" stroke-width="3.0" stroke-linejoin="round" stroke-linecap="round"/>
<circle cx="470.1" cy="181.7" r="1.6" fill="#2838c0"/><circle cx="465.5" cy="170.6" r="1.6" fill="#d02020"/><circle cx="474.5" cy="173.2" r="1.5" fill="#d02020"/>
<rect x="428.5" y="106.5" width="79.5" height="113.5" fill="none" stroke="#d4261e" stroke-width="4.5" stroke-dasharray="13 7"/>
<path d="M668.3 7.0 C670.2 6.6 676.8 3.5 679.9 4.7 C683.0 5.8 685.8 12.4 686.9 14.0" fill="none" stroke="#d06018" stroke-width="2.6" stroke-linecap="round"/>
<path d="M668.3 7.0 C667.9 10.5 665.9 17.5 665.9 28.0 C665.9 38.5 669.1 59.8 668.3 69.9 C667.5 80.0 662.4 85.5 661.3 88.6" fill="none" stroke="#d06018" stroke-width="2.6" stroke-linecap="round"/>
<path d="M656.6 111.9 C653.5 115.0 641.9 123.9 638.0 130.5 C634.1 137.1 635.6 143.7 633.3 151.5 C631.0 159.3 625.9 169.0 624.0 177.2 C622.0 185.3 621.3 192.7 621.7 200.5 C622.0 208.2 625.5 219.9 626.3 223.8" fill="none" stroke="#d06018" stroke-width="2.6" stroke-linecap="round"/>
<path d="M721.9 55.9 C725.0 55.9 735.1 57.5 740.5 55.9 C746.0 54.4 752.2 48.2 754.5 46.6" fill="none" stroke="#c83018" stroke-width="2.6" stroke-linecap="round"/>
<path d="M698.6 275.1 C698.6 283.6 698.8 310.4 698.6 326.3 C698.4 342.3 697.6 363.2 697.4 370.6" fill="none" stroke="#2848b8" stroke-width="2.6" stroke-linecap="round"/>
<path d="M719.6 244.8 C723.1 242.8 734.7 233.5 740.5 233.1 C746.4 232.7 751.4 237.4 754.5 242.4 C757.6 247.5 756.1 258.0 759.2 263.4 C762.3 268.8 768.5 274.3 773.2 275.1 C777.8 275.8 784.8 269.2 787.2 268.1" fill="none" stroke="#2848b8" stroke-width="2.6" stroke-linecap="round"/>
<path d="M810.5 272.7 C813.2 273.9 822.9 277.0 826.8 279.7 C830.7 282.4 832.6 287.5 833.8 289.0" fill="none" stroke="#2848b8" stroke-width="2.6" stroke-linecap="round"/>
<path d="M871.1 279.7 C874.2 280.9 884.3 287.5 889.7 286.7 C895.2 285.9 899.8 281.7 903.7 275.1 C907.6 268.5 908.4 255.6 913.0 247.1 C917.7 238.5 926.6 230.0 931.7 223.8 C936.7 217.6 941.4 212.1 943.3 209.8" fill="none" stroke="#2848b8" stroke-width="2.6" stroke-linecap="round"/>
<path d="M721.9 286.7 C724.2 289.4 732.0 299.9 735.9 303.0 C739.8 306.1 743.6 305.0 745.2 305.4" fill="none" stroke="#d8c828" stroke-width="2.6" stroke-linecap="round"/>
<path d="M752.2 233.1 C752.6 240.9 753.4 265.0 754.5 279.7 C755.7 294.5 756.1 315.5 759.2 321.7 C762.3 327.9 770.1 321.7 773.2 317.0 C776.3 312.4 777.1 297.6 777.8 293.7" fill="none" stroke="#d8d030" stroke-width="2.6" stroke-linecap="round"/>
<path d="M773.2 200.5 C776.3 201.6 786.8 202.0 791.8 207.5 C796.9 212.9 800.8 228.0 803.5 233.1 C806.2 238.2 807.4 237.0 808.1 237.8" fill="none" stroke="#d8d030" stroke-width="2.6" stroke-linecap="round"/>
<path d="M808.1 28.0 C810.9 27.6 821.0 23.7 824.5 25.6 C827.9 27.6 829.9 35.4 829.1 39.6 C828.3 43.9 819.8 46.2 819.8 51.3 C819.8 56.3 823.3 66.8 829.1 69.9 C834.9 73.0 850.1 66.8 854.8 69.9 C859.4 73.0 854.4 83.9 857.1 88.6 C859.8 93.2 867.6 90.9 871.1 97.9 C874.6 104.9 877.3 122.0 878.1 130.5 C878.8 139.1 876.1 146.1 875.7 149.2" fill="none" stroke="#6cb040" stroke-width="2.6" stroke-linecap="round"/>
<path d="M803.5 144.5 C806.2 146.1 814.7 150.7 819.8 153.8 C824.8 157.0 829.9 159.3 833.8 163.2 C837.7 167.1 839.2 176.4 843.1 177.2 C847.0 177.9 853.2 170.9 857.1 167.8 C861.0 164.7 864.9 160.1 866.4 158.5" fill="none" stroke="#60b080" stroke-width="2.6" stroke-linecap="round"/>
<path d="M838.4 198.1 C840.8 195.4 847.8 183.8 852.4 181.8 C857.1 179.9 864.1 185.7 866.4 186.5" fill="none" stroke="#3a70c0" stroke-width="2.6" stroke-linecap="round"/>
<path d="M931.7 233.1 C934.0 235.0 940.2 246.3 945.7 244.8 C951.1 243.2 961.2 227.3 964.3 223.8" fill="none" stroke="#58b060" stroke-width="2.6" stroke-linecap="round"/>
<path d="M681 28 L682 27 L685 25 L689 23 L694 21 L699 19 L703 18 L707 18 L709 19 L711 21" fill="none" stroke="#5a1d0d" stroke-width="11.4" stroke-linejoin="round" stroke-linecap="butt"/>
<path d="M681 28 L682 27 L685 25 L689 23 L694 21 L699 19 L703 18 L707 18 L709 19 L711 21" fill="none" stroke="#8c2d14" stroke-width="9.4" stroke-linejoin="round" stroke-linecap="butt"/>
<path d="M696 47 L697 46 L700 45 L703 43 L708 41 L713 39 L717 37" fill="none" stroke="#5a1d0d" stroke-width="11.4" stroke-linejoin="round" stroke-linecap="butt"/>
<path d="M696 47 L697 46 L700 45 L703 43 L708 41 L713 39 L717 37" fill="none" stroke="#8c2d14" stroke-width="9.4" stroke-linejoin="round" stroke-linecap="butt"/>
<path d="M689 16 L686 20 L683 24 L681 26 L680 28 L681 28" fill="none" stroke="#5a1d0d" stroke-width="11.4" stroke-linejoin="round" stroke-linecap="butt"/>
<path d="M689 16 L686 20 L683 24 L681 26 L680 28 L681 28" fill="none" stroke="#c8401c" stroke-width="9.4" stroke-linejoin="round" stroke-linecap="butt"/>
<path d="M689 16 L686 20 L683 24 L681 26 L680 28 L681 28" fill="none" stroke="#de8c77" stroke-width="2.8" stroke-linejoin="round" opacity="0.6"/>
<path d="M711 21 L710 25 L709 29 L706 33 L703 37 L701 41 L698 44 L697 46 L696 47" fill="none" stroke="#5a1d0d" stroke-width="11.4" stroke-linejoin="round" stroke-linecap="butt"/>
<path d="M711 21 L710 25 L709 29 L706 33 L703 37 L701 41 L698 44 L697 46 L696 47" fill="none" stroke="#c8401c" stroke-width="9.4" stroke-linejoin="round" stroke-linecap="butt"/>
<path d="M711 21 L710 25 L709 29 L706 33 L703 37 L701 41 L698 44 L697 46 L696 47" fill="none" stroke="#de8c77" stroke-width="2.8" stroke-linejoin="round" opacity="0.6"/>
<path d="M643 100 L644 98 L646 96 L648 92 L652 89 L655 86 L658 83 L661 82 L664 82 L665 84" fill="none" stroke="#5e280c" stroke-width="11.4" stroke-linejoin="round" stroke-linecap="butt"/>
<path d="M643 100 L644 98 L646 96 L648 92 L652 89 L655 86 L658 83 L661 82 L664 82 L665 84" fill="none" stroke="#923e12" stroke-width="9.4" stroke-linejoin="round" stroke-linecap="butt"/>
<path d="M647 88 L646 92 L644 96 L643 98 L643 100 L643 100" fill="none" stroke="#5e280c" stroke-width="11.4" stroke-linejoin="round" stroke-linecap="butt"/>
<path d="M647 88 L646 92 L644 96 L643 98 L643 100 L643 100" fill="none" stroke="#d0581a" stroke-width="9.4" stroke-linejoin="round" stroke-linecap="butt"/>
<path d="M647 88 L646 92 L644 96 L643 98 L643 100 L643 100" fill="none" stroke="#e39b76" stroke-width="2.8" stroke-linejoin="round" opacity="0.6"/>
<path d="M665 84 L666 87 L666 91 L665 95 L663 100 L662 104 L660 107 L659 109" fill="none" stroke="#5e280c" stroke-width="11.4" stroke-linejoin="round" stroke-linecap="butt"/>
<path d="M665 84 L666 87 L666 91 L665 95 L663 100 L662 104 L660 107 L659 109" fill="none" stroke="#d0581a" stroke-width="9.4" stroke-linejoin="round" stroke-linecap="butt"/>
<path d="M665 84 L666 87 L666 91 L665 95 L663 100 L662 104 L660 107 L659 109" fill="none" stroke="#e39b76" stroke-width="2.8" stroke-linejoin="round" opacity="0.6"/>
<path d="M665 87 L667 87 L671 86 L676 86 L682 86 L688 86 L694 87 L698 89 L700 91 L701 94" fill="none" stroke="#5d1a0c" stroke-width="12.2" stroke-linejoin="round" stroke-linecap="butt"/>
<path d="M665 87 L667 87 L671 86 L676 86 L682 86 L688 86 L694 87 L698 89 L700 91 L701 94" fill="none" stroke="#912912" stroke-width="10.2" stroke-linejoin="round" stroke-linecap="butt"/>
<path d="M671 112 L673 112 L677 111 L683 111 L689 111 L695 111 L700 112 L704 114 L706 116 L706 119" fill="none" stroke="#5d1a0c" stroke-width="12.2" stroke-linejoin="round" stroke-linecap="butt"/>
<path d="M671 112 L673 112 L677 111 L683 111 L689 111 L695 111 L700 112 L704 114 L706 116 L706 119" fill="none" stroke="#912912" stroke-width="10.2" stroke-linejoin="round" stroke-linecap="butt"/>
<path d="M677 137 L679 136 L684 136 L689 136 L695 136 L701 136 L706 137 L710 139 L712 142 L712 144" fill="none" stroke="#5d1a0c" stroke-width="12.2" stroke-linejoin="round" stroke-linecap="butt"/>
<path d="M677 137 L679 136 L684 136 L689 136 L695 136 L701 136 L706 137 L710 139 L712 142 L712 144" fill="none" stroke="#912912" stroke-width="10.2" stroke-linejoin="round" stroke-linecap="butt"/>
<path d="M682 162 L685 161 L690 161 L695 161 L702 161 L707 161 L712 163 L716 165 L717 167" fill="none" stroke="#5d1a0c" stroke-width="12.2" stroke-linejoin="round" stroke-linecap="butt"/>
<path d="M682 162 L685 161 L690 161 L695 161 L702 161 L707 161 L712 163 L716 165 L717 167" fill="none" stroke="#912912" stroke-width="10.2" stroke-linejoin="round" stroke-linecap="butt"/>
<path d="M681 81 L675 83 L670 85 L667 86 L665 87 L665 87" fill="none" stroke="#5d1a0c" stroke-width="12.2" stroke-linejoin="round" stroke-linecap="butt"/>
<path d="M681 81 L675 83 L670 85 L667 86 L665 87 L665 87" fill="none" stroke="#cf3a1a" stroke-width="10.2" stroke-linejoin="round" stroke-linecap="butt"/>
<path d="M681 81 L675 83 L670 85 L667 86 L665 87 L665 87" fill="none" stroke="#e28976" stroke-width="3.0" stroke-linejoin="round" opacity="0.6"/>
<path d="M701 94 L699 97 L696 100 L691 103 L686 106 L680 108 L675 110 L672 111 L670 112 L671 112" fill="none" stroke="#5d1a0c" stroke-width="12.2" stroke-linejoin="round" stroke-linecap="butt"/>
<path d="M701 94 L699 97 L696 100 L691 103 L686 106 L680 108 L675 110 L672 111 L670 112 L671 112" fill="none" stroke="#cf3a1a" stroke-width="10.2" stroke-linejoin="round" stroke-linecap="butt"/>
<path d="M701 94 L699 97 L696 100 L691 103 L686 106 L680 108 L675 110 L672 111 L670 112 L671 112" fill="none" stroke="#e28976" stroke-width="3.0" stroke-linejoin="round" opacity="0.6"/>
<path d="M706 119 L704 122 L701 125 L696 128 L690 131 L685 134 L680 135 L677 136 L676 137 L677 137" fill="none" stroke="#5d1a0c" stroke-width="12.2" stroke-linejoin="round" stroke-linecap="butt"/>
<path d="M706 119 L704 122 L701 125 L696 128 L690 131 L685 134 L680 135 L677 136 L676 137 L677 137" fill="none" stroke="#cf3a1a" stroke-width="10.2" stroke-linejoin="round" stroke-linecap="butt"/>
<path d="M706 119 L704 122 L701 125 L696 128 L690 131 L685 134 L680 135 L677 136 L676 137 L677 137" fill="none" stroke="#e28976" stroke-width="3.0" stroke-linejoin="round" opacity="0.6"/>
<path d="M712 144 L709 148 L705 151 L701 154 L695 157 L690 159 L685 160 L682 161 L681 162 L682 162" fill="none" stroke="#5d1a0c" stroke-width="12.2" stroke-linejoin="round" stroke-linecap="butt"/>
<path d="M712 144 L709 148 L705 151 L701 154 L695 157 L690 159 L685 160 L682 161 L681 162 L682 162" fill="none" stroke="#cf3a1a" stroke-width="10.2" stroke-linejoin="round" stroke-linecap="butt"/>
<path d="M712 144 L709 148 L705 151 L701 154 L695 157 L690 159 L685 160 L682 161 L681 162 L682 162" fill="none" stroke="#e28976" stroke-width="3.0" stroke-linejoin="round" opacity="0.6"/>
<path d="M717 167 L717 170 L714 173 L710 176 L705 179 L700 182 L695 184 L690 186 L688 186" fill="none" stroke="#5d1a0c" stroke-width="12.2" stroke-linejoin="round" stroke-linecap="butt"/>
<path d="M717 167 L717 170 L714 173 L710 176 L705 179 L700 182 L695 184 L690 186 L688 186" fill="none" stroke="#cf3a1a" stroke-width="10.2" stroke-linejoin="round" stroke-linecap="butt"/>
<path d="M717 167 L717 170 L714 173 L710 176 L705 179 L700 182 L695 184 L690 186 L688 186" fill="none" stroke="#e28976" stroke-width="3.0" stroke-linejoin="round" opacity="0.6"/>
<path d="M693 82 L695 82 L699 81 L705 81 L711 80 L718 80 L723 81 L728 82 L731 84 L732 87" fill="none" stroke="#63510e" stroke-width="12.2" stroke-linejoin="round" stroke-linecap="butt"/>
<path d="M693 82 L695 82 L699 81 L705 81 L711 80 L718 80 L723 81 L728 82 L731 84 L732 87" fill="none" stroke="#9a7e16" stroke-width="10.2" stroke-linejoin="round" stroke-linecap="butt"/>
<path d="M702 110 L704 110 L708 109 L714 109 L720 108 L726 108 L732 109 L737 110 L740 112 L741 115" fill="none" stroke="#63510e" stroke-width="12.2" stroke-linejoin="round" stroke-linecap="butt"/>
<path d="M702 110 L704 110 L708 109 L714 109 L720 108 L726 108 L732 109 L737 110 L740 112 L741 115" fill="none" stroke="#9a7e16" stroke-width="10.2" stroke-linejoin="round" stroke-linecap="butt"/>
<path d="M711 138 L713 138 L717 137 L723 137 L729 136 L735 136 L741 137 L746 138 L749 140 L750 143" fill="none" stroke="#63510e" stroke-width="12.2" stroke-linejoin="round" stroke-linecap="butt"/>
<path d="M711 138 L713 138 L717 137 L723 137 L729 136 L735 136 L741 137 L746 138 L749 140 L750 143" fill="none" stroke="#9a7e16" stroke-width="10.2" stroke-linejoin="round" stroke-linecap="butt"/>
<path d="M720 166 L722 166 L726 165 L731 165 L738 164 L744 164 L750 165 L755 166 L758 168 L758 171" fill="none" stroke="#63510e" stroke-width="12.2" stroke-linejoin="round" stroke-linecap="butt"/>
<path d="M720 166 L722 166 L726 165 L731 165 L738 164 L744 164 L750 165 L755 166 L758 168 L758 171" fill="none" stroke="#9a7e16" stroke-width="10.2" stroke-linejoin="round" stroke-linecap="butt"/>
<path d="M729 194 L731 194 L735 193 L740 193 L747 192 L753 192 L759 193 L764 194 L766 196 L767 199" fill="none" stroke="#63510e" stroke-width="12.2" stroke-linejoin="round" stroke-linecap="butt"/>
<path d="M729 194 L731 194 L735 193 L740 193 L747 192 L753 192 L759 193 L764 194 L766 196 L767 199" fill="none" stroke="#9a7e16" stroke-width="10.2" stroke-linejoin="round" stroke-linecap="butt"/>
<path d="M709 74 L704 77 L699 79 L695 81 L693 82 L693 82" fill="none" stroke="#63510e" stroke-width="12.2" stroke-linejoin="round" stroke-linecap="butt"/>
<path d="M709 74 L704 77 L699 79 L695 81 L693 82 L693 82" fill="none" stroke="#dcb420" stroke-width="10.2" stroke-linejoin="round" stroke-linecap="butt"/>
<path d="M709 74 L704 77 L699 79 L695 81 L693 82 L693 82" fill="none" stroke="#ead279" stroke-width="3.0" stroke-linejoin="round" opacity="0.6"/>
<path d="M732 87 L731 90 L728 94 L723 98 L718 102 L713 105 L708 107 L704 109 L702 110 L702 110" fill="none" stroke="#63510e" stroke-width="12.2" stroke-linejoin="round" stroke-linecap="butt"/>
<path d="M732 87 L731 90 L728 94 L723 98 L718 102 L713 105 L708 107 L704 109 L702 110 L702 110" fill="none" stroke="#dcb420" stroke-width="10.2" stroke-linejoin="round" stroke-linecap="butt"/>
<path d="M732 87 L731 90 L728 94 L723 98 L718 102 L713 105 L708 107 L704 109 L702 110 L702 110" fill="none" stroke="#ead279" stroke-width="3.0" stroke-linejoin="round" opacity="0.6"/>
<path d="M741 115 L740 118 L737 122 L732 126 L727 130 L721 133 L716 135 L713 137 L711 138 L711 138" fill="none" stroke="#63510e" stroke-width="12.2" stroke-linejoin="round" stroke-linecap="butt"/>
<path d="M741 115 L740 118 L737 122 L732 126 L727 130 L721 133 L716 135 L713 137 L711 138 L711 138" fill="none" stroke="#dcb420" stroke-width="10.2" stroke-linejoin="round" stroke-linecap="butt"/>
<path d="M741 115 L740 118 L737 122 L732 126 L727 130 L721 133 L716 135 L713 137 L711 138 L711 138" fill="none" stroke="#ead279" stroke-width="3.0" stroke-linejoin="round" opacity="0.6"/>
<path d="M750 143 L748 146 L745 150 L741 154 L736 158 L730 161 L725 163 L722 165 L720 166 L720 166" fill="none" stroke="#63510e" stroke-width="12.2" stroke-linejoin="round" stroke-linecap="butt"/>
<path d="M750 143 L748 146 L745 150 L741 154 L736 158 L730 161 L725 163 L722 165 L720 166 L720 166" fill="none" stroke="#dcb420" stroke-width="10.2" stroke-linejoin="round" stroke-linecap="butt"/>
<path d="M750 143 L748 146 L745 150 L741 154 L736 158 L730 161 L725 163 L722 165 L720 166 L720 166" fill="none" stroke="#ead279" stroke-width="3.0" stroke-linejoin="round" opacity="0.6"/>
<path d="M758 171 L757 174 L754 178 L750 182 L745 186 L739 189 L734 191 L731 193 L729 194 L729 194" fill="none" stroke="#63510e" stroke-width="12.2" stroke-linejoin="round" stroke-linecap="butt"/>
<path d="M758 171 L757 174 L754 178 L750 182 L745 186 L739 189 L734 191 L731 193 L729 194 L729 194" fill="none" stroke="#dcb420" stroke-width="10.2" stroke-linejoin="round" stroke-linecap="butt"/>
<path d="M758 171 L757 174 L754 178 L750 182 L745 186 L739 189 L734 191 L731 193 L729 194 L729 194" fill="none" stroke="#ead279" stroke-width="3.0" stroke-linejoin="round" opacity="0.6"/>
<path d="M767 199 L766 202 L763 206 L759 210 L753 214" fill="none" stroke="#63510e" stroke-width="12.2" stroke-linejoin="round" stroke-linecap="butt"/>
<path d="M767 199 L766 202 L763 206 L759 210 L753 214" fill="none" stroke="#dcb420" stroke-width="10.2" stroke-linejoin="round" stroke-linecap="butt"/>
<path d="M767 199 L766 202 L763 206 L759 210 L753 214" fill="none" stroke="#ead279" stroke-width="3.0" stroke-linejoin="round" opacity="0.6"/>
<path d="M730 41 L733 41 L737 41 L742 41 L749 41 L755 41 L761 42 L766 44 L769 47 L769 50" fill="none" stroke="#315319" stroke-width="12.9" stroke-linejoin="round" stroke-linecap="butt"/>
<path d="M730 41 L733 41 L737 41 L742 41 L749 41 L755 41 L761 42 L766 44 L769 47 L769 50" fill="none" stroke="#4c8127" stroke-width="10.9" stroke-linejoin="round" stroke-linecap="butt"/>
<path d="M739 74 L742 74 L746 74 L752 74 L758 74 L765 74 L770 76 L775 78 L777 80 L778 84" fill="none" stroke="#315319" stroke-width="12.9" stroke-linejoin="round" stroke-linecap="butt"/>
<path d="M739 74 L742 74 L746 74 L752 74 L758 74 L765 74 L770 76 L775 78 L777 80 L778 84" fill="none" stroke="#4c8127" stroke-width="10.9" stroke-linejoin="round" stroke-linecap="butt"/>
<path d="M748 107 L751 107 L755 107 L761 107 L767 107 L774 108 L780 109 L784 111 L786 114 L786 117" fill="none" stroke="#315319" stroke-width="12.9" stroke-linejoin="round" stroke-linecap="butt"/>
<path d="M748 107 L751 107 L755 107 L761 107 L767 107 L774 108 L780 109 L784 111 L786 114 L786 117" fill="none" stroke="#4c8127" stroke-width="10.9" stroke-linejoin="round" stroke-linecap="butt"/>
<path d="M757 140 L760 140 L764 140 L770 140 L777 140 L783 141 L789 142 L793 144 L795 147 L795 150" fill="none" stroke="#315319" stroke-width="12.9" stroke-linejoin="round" stroke-linecap="butt"/>
<path d="M757 140 L760 140 L764 140 L770 140 L777 140 L783 141 L789 142 L793 144 L795 147 L795 150" fill="none" stroke="#4c8127" stroke-width="10.9" stroke-linejoin="round" stroke-linecap="butt"/>
<path d="M766 173 L769 173 L773 173 L779 173 L786 173 L792 174 L798 175 L802 178 L804 180 L804 184" fill="none" stroke="#315319" stroke-width="12.9" stroke-linejoin="round" stroke-linecap="butt"/>
<path d="M766 173 L769 173 L773 173 L779 173 L786 173 L792 174 L798 175 L802 178 L804 180 L804 184" fill="none" stroke="#4c8127" stroke-width="10.9" stroke-linejoin="round" stroke-linecap="butt"/>
<path d="M773 206 L774 206 L778 206 L783 206 L789 206 L795 206 L802 207 L807 209 L811 211 L812 214" fill="none" stroke="#315319" stroke-width="12.9" stroke-linejoin="round" stroke-linecap="butt"/>
<path d="M773 206 L774 206 L778 206 L783 206 L789 206 L795 206 L802 207 L807 209 L811 211 L812 214" fill="none" stroke="#4c8127" stroke-width="10.9" stroke-linejoin="round" stroke-linecap="butt"/>
<path d="M746 32 L741 35 L736 38 L732 39 L730 40 L730 41" fill="none" stroke="#315319" stroke-width="12.9" stroke-linejoin="round" stroke-linecap="butt"/>
<path d="M746 32 L741 35 L736 38 L732 39 L730 40 L730 41" fill="none" stroke="#6cb838" stroke-width="10.9" stroke-linejoin="round" stroke-linecap="butt"/>
<path d="M746 32 L741 35 L736 38 L732 39 L730 40 L730 41" fill="none" stroke="#a7d488" stroke-width="3.3" stroke-linejoin="round" opacity="0.6"/>
<path d="M769 50 L768 54 L764 58 L760 62 L754 65 L749 68 L744 71 L740 73 L739 74 L739 74" fill="none" stroke="#315319" stroke-width="12.9" stroke-linejoin="round" stroke-linecap="butt"/>
<path d="M769 50 L768 54 L764 58 L760 62 L754 65 L749 68 L744 71 L740 73 L739 74 L739 74" fill="none" stroke="#6cb838" stroke-width="10.9" stroke-linejoin="round" stroke-linecap="butt"/>
<path d="M769 50 L768 54 L764 58 L760 62 L754 65 L749 68 L744 71 L740 73 L739 74 L739 74" fill="none" stroke="#a7d488" stroke-width="3.3" stroke-linejoin="round" opacity="0.6"/>
<path d="M778 84 L776 87 L773 91 L768 95 L762 99 L757 102 L752 104 L749 106 L747 107 L748 107" fill="none" stroke="#315319" stroke-width="12.9" stroke-linejoin="round" stroke-linecap="butt"/>
<path d="M778 84 L776 87 L773 91 L768 95 L762 99 L757 102 L752 104 L749 106 L747 107 L748 107" fill="none" stroke="#6cb838" stroke-width="10.9" stroke-linejoin="round" stroke-linecap="butt"/>
<path d="M778 84 L776 87 L773 91 L768 95 L762 99 L757 102 L752 104 L749 106 L747 107 L748 107" fill="none" stroke="#a7d488" stroke-width="3.3" stroke-linejoin="round" opacity="0.6"/>
<path d="M786 117 L785 121 L781 125 L776 129 L771 132 L765 135 L760 137 L757 139 L756 140 L757 140" fill="none" stroke="#315319" stroke-width="12.9" stroke-linejoin="round" stroke-linecap="butt"/>
<path d="M786 117 L785 121 L781 125 L776 129 L771 132 L765 135 L760 137 L757 139 L756 140 L757 140" fill="none" stroke="#6cb838" stroke-width="10.9" stroke-linejoin="round" stroke-linecap="butt"/>
<path d="M786 117 L785 121 L781 125 L776 129 L771 132 L765 135 L760 137 L757 139 L756 140 L757 140" fill="none" stroke="#a7d488" stroke-width="3.3" stroke-linejoin="round" opacity="0.6"/>
<path d="M795 150 L793 154 L789 158 L784 162 L779 165 L773 168 L769 171 L766 172 L765 173 L766 173" fill="none" stroke="#315319" stroke-width="12.9" stroke-linejoin="round" stroke-linecap="butt"/>
<path d="M795 150 L793 154 L789 158 L784 162 L779 165 L773 168 L769 171 L766 172 L765 173 L766 173" fill="none" stroke="#6cb838" stroke-width="10.9" stroke-linejoin="round" stroke-linecap="butt"/>
<path d="M795 150 L793 154 L789 158 L784 162 L779 165 L773 168 L769 171 L766 172 L765 173 L766 173" fill="none" stroke="#a7d488" stroke-width="3.3" stroke-linejoin="round" opacity="0.6"/>
<path d="M804 184 L801 188 L797 192 L792 195 L787 199 L781 202 L777 204 L774 205 L773 206" fill="none" stroke="#315319" stroke-width="12.9" stroke-linejoin="round" stroke-linecap="butt"/>
<path d="M804 184 L801 188 L797 192 L792 195 L787 199 L781 202 L777 204 L774 205 L773 206" fill="none" stroke="#6cb838" stroke-width="10.9" stroke-linejoin="round" stroke-linecap="butt"/>
<path d="M804 184 L801 188 L797 192 L792 195 L787 199 L781 202 L777 204 L774 205 L773 206" fill="none" stroke="#a7d488" stroke-width="3.3" stroke-linejoin="round" opacity="0.6"/>
<path d="M812 214 L812 217 L810 221 L806 225 L800 229 L795 232 L790 235 L785 237 L783 239" fill="none" stroke="#315319" stroke-width="12.9" stroke-linejoin="round" stroke-linecap="butt"/>
<path d="M812 214 L812 217 L810 221 L806 225 L800 229 L795 232 L790 235 L785 237 L783 239" fill="none" stroke="#6cb838" stroke-width="10.9" stroke-linejoin="round" stroke-linecap="butt"/>
<path d="M812 214 L812 217 L810 221 L806 225 L800 229 L795 232 L790 235 L785 237 L783 239" fill="none" stroke="#a7d488" stroke-width="3.3" stroke-linejoin="round" opacity="0.6"/>
<path d="M649 188 L651 187 L655 184 L660 181 L667 177 L673 174 L679 172 L685 172 L689 173 L691 176" fill="none" stroke="#653e0e" stroke-width="12.2" stroke-linejoin="round" stroke-linecap="butt"/>
<path d="M649 188 L651 187 L655 184 L660 181 L667 177 L673 174 L679 172 L685 172 L689 173 L691 176" fill="none" stroke="#9d6116" stroke-width="10.2" stroke-linejoin="round" stroke-linecap="butt"/>
<path d="M674 214 L676 213 L681 210 L686 206 L693 203 L699 200 L705 198 L710 198 L714 200 L716 203" fill="none" stroke="#653e0e" stroke-width="12.2" stroke-linejoin="round" stroke-linecap="butt"/>
<path d="M674 214 L676 213 L681 210 L686 206 L693 203 L699 200 L705 198 L710 198 L714 200 L716 203" fill="none" stroke="#9d6116" stroke-width="10.2" stroke-linejoin="round" stroke-linecap="butt"/>
<path d="M699 240 L702 238 L706 235 L712 232 L719 229 L725 226 L731 224 L736 224 L739 226" fill="none" stroke="#653e0e" stroke-width="12.2" stroke-linejoin="round" stroke-linecap="butt"/>
<path d="M699 240 L702 238 L706 235 L712 232 L719 229 L725 226 L731 224 L736 224 L739 226" fill="none" stroke="#9d6116" stroke-width="10.2" stroke-linejoin="round" stroke-linecap="butt"/>
<path d="M660 171 L656 177 L652 182 L650 186 L648 188 L649 188" fill="none" stroke="#653e0e" stroke-width="12.2" stroke-linejoin="round" stroke-linecap="butt"/>
<path d="M660 171 L656 177 L652 182 L650 186 L648 188 L649 188" fill="none" stroke="#e08a20" stroke-width="10.2" stroke-linejoin="round" stroke-linecap="butt"/>
<path d="M660 171 L656 177 L652 182 L650 186 L648 188 L649 188" fill="none" stroke="#ecb979" stroke-width="3.0" stroke-linejoin="round" opacity="0.6"/>
<path d="M691 176 L691 180 L690 186 L687 192 L684 198 L680 204 L676 209 L674 213 L673 214 L674 214" fill="none" stroke="#653e0e" stroke-width="12.2" stroke-linejoin="round" stroke-linecap="butt"/>
<path d="M691 176 L691 180 L690 186 L687 192 L684 198 L680 204 L676 209 L674 213 L673 214 L674 214" fill="none" stroke="#e08a20" stroke-width="10.2" stroke-linejoin="round" stroke-linecap="butt"/>
<path d="M691 176 L691 180 L690 186 L687 192 L684 198 L680 204 L676 209 L674 213 L673 214 L674 214" fill="none" stroke="#ecb979" stroke-width="3.0" stroke-linejoin="round" opacity="0.6"/>
<path d="M716 203 L716 207 L714 213 L711 219 L708 226 L704 232 L701 236 L698 239 L698 241 L699 240" fill="none" stroke="#653e0e" stroke-width="12.2" stroke-linejoin="round" stroke-linecap="butt"/>
<path d="M716 203 L716 207 L714 213 L711 219 L708 226 L704 232 L701 236 L698 239 L698 241 L699 240" fill="none" stroke="#e08a20" stroke-width="10.2" stroke-linejoin="round" stroke-linecap="butt"/>
<path d="M716 203 L716 207 L714 213 L711 219 L708 226 L704 232 L701 236 L698 239 L698 241 L699 240" fill="none" stroke="#ecb979" stroke-width="3.0" stroke-linejoin="round" opacity="0.6"/>
<path d="M739 226 L741 230 L741 235 L739 241 L736 247 L732 253 L728 259 L725 263 L723 266" fill="none" stroke="#653e0e" stroke-width="12.2" stroke-linejoin="round" stroke-linecap="butt"/>
<path d="M739 226 L741 230 L741 235 L739 241 L736 247 L732 253 L728 259 L725 263 L723 266" fill="none" stroke="#e08a20" stroke-width="10.2" stroke-linejoin="round" stroke-linecap="butt"/>
<path d="M739 226 L741 230 L741 235 L739 241 L736 247 L732 253 L728 259 L725 263 L723 266" fill="none" stroke="#ecb979" stroke-width="3.0" stroke-linejoin="round" opacity="0.6"/>
<path d="M614 249 L617 248 L622 246 L628 243 L635 241 L643 239 L650 238 L656 239 L660 241 L661 244" fill="none" stroke="#64370d" stroke-width="12.9" stroke-linejoin="round" stroke-linecap="butt"/>
<path d="M614 249 L617 248 L622 246 L628 243 L635 241 L643 239 L650 238 L656 239 L660 241 L661 244" fill="none" stroke="#9b5514" stroke-width="10.9" stroke-linejoin="round" stroke-linecap="butt"/>
<path d="M631 278 L635 277 L640 274 L646 272 L654 270 L662 268 L668 267 L674 268 L677 270 L678 274" fill="none" stroke="#64370d" stroke-width="12.9" stroke-linejoin="round" stroke-linecap="butt"/>
<path d="M631 278 L635 277 L640 274 L646 272 L654 270 L662 268 L668 267 L674 268 L677 270 L678 274" fill="none" stroke="#9b5514" stroke-width="10.9" stroke-linejoin="round" stroke-linecap="butt"/>
<path d="M649 307 L652 305 L658 303 L665 300 L673 298 L680 297 L687 297 L691 298 L694 300" fill="none" stroke="#64370d" stroke-width="12.9" stroke-linejoin="round" stroke-linecap="butt"/>
<path d="M649 307 L652 305 L658 303 L665 300 L673 298 L680 297 L687 297 L691 298 L694 300" fill="none" stroke="#9b5514" stroke-width="10.9" stroke-linejoin="round" stroke-linecap="butt"/>
<path d="M664 336 L666 336 L670 334 L676 332 L683 329 L691 327 L698 326" fill="none" stroke="#64370d" stroke-width="12.9" stroke-linejoin="round" stroke-linecap="butt"/>
<path d="M664 336 L666 336 L670 334 L676 332 L683 329 L691 327 L698 326" fill="none" stroke="#9b5514" stroke-width="10.9" stroke-linejoin="round" stroke-linecap="butt"/>
<path d="M631 235 L625 240 L620 244 L616 247 L614 249 L614 249" fill="none" stroke="#64370d" stroke-width="12.9" stroke-linejoin="round" stroke-linecap="butt"/>
<path d="M631 235 L625 240 L620 244 L616 247 L614 249 L614 249" fill="none" stroke="#de7a1c" stroke-width="10.9" stroke-linejoin="round" stroke-linecap="butt"/>
<path d="M631 235 L625 240 L620 244 L616 247 L614 249 L614 249" fill="none" stroke="#ebaf77" stroke-width="3.3" stroke-linejoin="round" opacity="0.6"/>
<path d="M661 244 L660 249 L657 254 L652 260 L647 265 L641 270 L636 274 L632 277 L631 278 L631 278" fill="none" stroke="#64370d" stroke-width="12.9" stroke-linejoin="round" stroke-linecap="butt"/>
<path d="M661 244 L660 249 L657 254 L652 260 L647 265 L641 270 L636 274 L632 277 L631 278 L631 278" fill="none" stroke="#de7a1c" stroke-width="10.9" stroke-linejoin="round" stroke-linecap="butt"/>
<path d="M661 244 L660 249 L657 254 L652 260 L647 265 L641 270 L636 274 L632 277 L631 278 L631 278" fill="none" stroke="#ebaf77" stroke-width="3.3" stroke-linejoin="round" opacity="0.6"/>
<path d="M678 274 L676 279 L673 284 L668 290 L662 296 L656 300 L652 304 L649 306 L647 307 L649 307" fill="none" stroke="#64370d" stroke-width="12.9" stroke-linejoin="round" stroke-linecap="butt"/>
<path d="M678 274 L676 279 L673 284 L668 290 L662 296 L656 300 L652 304 L649 306 L647 307 L649 307" fill="none" stroke="#de7a1c" stroke-width="10.9" stroke-linejoin="round" stroke-linecap="butt"/>
<path d="M678 274 L676 279 L673 284 L668 290 L662 296 L656 300 L652 304 L649 306 L647 307 L649 307" fill="none" stroke="#ebaf77" stroke-width="3.3" stroke-linejoin="round" opacity="0.6"/>
<path d="M694 300 L695 304 L693 309 L689 315 L683 321 L678 326 L672 331 L668 334 L665 336 L664 336" fill="none" stroke="#64370d" stroke-width="12.9" stroke-linejoin="round" stroke-linecap="butt"/>
<path d="M694 300 L695 304 L693 309 L689 315 L683 321 L678 326 L672 331 L668 334 L665 336 L664 336" fill="none" stroke="#de7a1c" stroke-width="10.9" stroke-linejoin="round" stroke-linecap="butt"/>
<path d="M694 300 L695 304 L693 309 L689 315 L683 321 L678 326 L672 331 L668 334 L665 336 L664 336" fill="none" stroke="#ebaf77" stroke-width="3.3" stroke-linejoin="round" opacity="0.6"/>
<path d="M705 268 L706 267 L709 265 L713 262 L718 259 L723 256 L728 254 L732 253 L735 253 L737 255" fill="none" stroke="#65560e" stroke-width="11.4" stroke-linejoin="round" stroke-linecap="butt"/>
<path d="M705 268 L706 267 L709 265 L713 262 L718 259 L723 256 L728 254 L732 253 L735 253 L737 255" fill="none" stroke="#9d8616" stroke-width="9.4" stroke-linejoin="round" stroke-linecap="butt"/>
<path d="M725 287 L726 286 L729 283 L733 280 L738 277" fill="none" stroke="#65560e" stroke-width="11.4" stroke-linejoin="round" stroke-linecap="butt"/>
<path d="M725 287 L726 286 L729 283 L733 280 L738 277" fill="none" stroke="#9d8616" stroke-width="9.4" stroke-linejoin="round" stroke-linecap="butt"/>
<path d="M713 254 L710 259 L707 263 L705 266 L704 268 L705 268" fill="none" stroke="#65560e" stroke-width="11.4" stroke-linejoin="round" stroke-linecap="butt"/>
<path d="M713 254 L710 259 L707 263 L705 266 L704 268 L705 268" fill="none" stroke="#e0c020" stroke-width="9.4" stroke-linejoin="round" stroke-linecap="butt"/>
<path d="M713 254 L710 259 L707 263 L705 266 L704 268 L705 268" fill="none" stroke="#ecd979" stroke-width="2.8" stroke-linejoin="round" opacity="0.6"/>
<path d="M737 255 L738 258 L737 263 L735 268 L733 273 L730 278 L728 282 L726 285 L725 287 L725 287" fill="none" stroke="#65560e" stroke-width="11.4" stroke-linejoin="round" stroke-linecap="butt"/>
<path d="M737 255 L738 258 L737 263 L735 268 L733 273 L730 278 L728 282 L726 285 L725 287 L725 287" fill="none" stroke="#e0c020" stroke-width="9.4" stroke-linejoin="round" stroke-linecap="butt"/>
<path d="M737 255 L738 258 L737 263 L735 268 L733 273 L730 278 L728 282 L726 285 L725 287 L725 287" fill="none" stroke="#ecd979" stroke-width="2.8" stroke-linejoin="round" opacity="0.6"/>
<path d="M779 272 L781 272 L784 271 L789 270 L794 269 L799 269 L804 269 L807 270 L810 272 L811 274" fill="none" stroke="#132053" stroke-width="11.4" stroke-linejoin="round" stroke-linecap="butt"/>
<path d="M779 272 L781 272 L784 271 L789 270 L794 269 L799 269 L804 269 L807 270 L810 272 L811 274" fill="none" stroke="#1d3281" stroke-width="9.4" stroke-linejoin="round" stroke-linecap="butt"/>
<path d="M794 299" fill="none" stroke="#132053" stroke-width="11.4" stroke-linejoin="round" stroke-linecap="butt"/>
<path d="M794 299" fill="none" stroke="#1d3281" stroke-width="9.4" stroke-linejoin="round" stroke-linecap="butt"/>
<path d="M789 261 L785 265 L782 268 L779 270 L778 272 L779 272" fill="none" stroke="#132053" stroke-width="11.4" stroke-linejoin="round" stroke-linecap="butt"/>
<path d="M789 261 L785 265 L782 268 L779 270 L778 272 L779 272" fill="none" stroke="#2a48b8" stroke-width="9.4" stroke-linejoin="round" stroke-linecap="butt"/>
<path d="M789 261 L785 265 L782 268 L779 270 L778 272 L779 272" fill="none" stroke="#7f91d4" stroke-width="2.8" stroke-linejoin="round" opacity="0.6"/>
<path d="M811 274 L810 278 L808 282 L805 286 L802 290 L798 293 L795 296 L793 298 L793 299 L794 299" fill="none" stroke="#132053" stroke-width="11.4" stroke-linejoin="round" stroke-linecap="butt"/>
<path d="M811 274 L810 278 L808 282 L805 286 L802 290 L798 293 L795 296 L793 298 L793 299 L794 299" fill="none" stroke="#2a48b8" stroke-width="9.4" stroke-linejoin="round" stroke-linecap="butt"/>
<path d="M811 274 L810 278 L808 282 L805 286 L802 290 L798 293 L795 296 L793 298 L793 299 L794 299" fill="none" stroke="#7f91d4" stroke-width="2.8" stroke-linejoin="round" opacity="0.6"/>
<path d="M834 288 L836 288 L839 287 L843 286 L848 285 L854 284 L859 284 L863 285 L866 286 L867 289" fill="none" stroke="#132053" stroke-width="11.4" stroke-linejoin="round" stroke-linecap="butt"/>
<path d="M834 288 L836 288 L839 287 L843 286 L848 285 L854 284 L859 284 L863 285 L866 286 L867 289" fill="none" stroke="#1d3281" stroke-width="9.4" stroke-linejoin="round" stroke-linecap="butt"/>
<path d="M853 317 L855 317 L858 317 L862 315 L867 314" fill="none" stroke="#132053" stroke-width="11.4" stroke-linejoin="round" stroke-linecap="butt"/>
<path d="M853 317 L855 317 L858 317 L862 315 L867 314" fill="none" stroke="#1d3281" stroke-width="9.4" stroke-linejoin="round" stroke-linecap="butt"/>
<path d="M842 275 L839 279 L836 283 L834 285 L834 287 L834 288" fill="none" stroke="#132053" stroke-width="11.4" stroke-linejoin="round" stroke-linecap="butt"/>
<path d="M842 275 L839 279 L836 283 L834 285 L834 287 L834 288" fill="none" stroke="#2a48b8" stroke-width="9.4" stroke-linejoin="round" stroke-linecap="butt"/>
<path d="M842 275 L839 279 L836 283 L834 285 L834 287 L834 288" fill="none" stroke="#7f91d4" stroke-width="2.8" stroke-linejoin="round" opacity="0.6"/>
<path d="M867 289 L867 292 L866 296 L864 301 L861 305 L858 309 L855 312 L853 315 L852 317 L853 317" fill="none" stroke="#132053" stroke-width="11.4" stroke-linejoin="round" stroke-linecap="butt"/>
<path d="M867 289 L867 292 L866 296 L864 301 L861 305 L858 309 L855 312 L853 315 L852 317 L853 317" fill="none" stroke="#2a48b8" stroke-width="9.4" stroke-linejoin="round" stroke-linecap="butt"/>
<path d="M867 289 L867 292 L866 296 L864 301 L861 305 L858 309 L855 312 L853 315 L852 317 L853 317" fill="none" stroke="#7f91d4" stroke-width="2.8" stroke-linejoin="round" opacity="0.6"/>
<path d="M831 217 L833 217 L836 216 L842 215 L847 213 L853 213 L858 213 L863 214 L865 216 L866 218" fill="none" stroke="#295656" stroke-width="11.4" stroke-linejoin="round" stroke-linecap="butt"/>
<path d="M831 217 L833 217 L836 216 L842 215 L847 213 L853 213 L858 213 L863 214 L865 216 L866 218" fill="none" stroke="#408686" stroke-width="9.4" stroke-linejoin="round" stroke-linecap="butt"/>
<path d="M845 245 L848 244 L852 243 L858 242 L863 241 L869 240 L874 241 L878 242 L880 244" fill="none" stroke="#295656" stroke-width="11.4" stroke-linejoin="round" stroke-linecap="butt"/>
<path d="M845 245 L848 244 L852 243 L858 242 L863 241 L869 240 L874 241 L878 242 L880 244" fill="none" stroke="#408686" stroke-width="9.4" stroke-linejoin="round" stroke-linecap="butt"/>
<path d="M859 273 L860 273 L864 272 L868 271 L874 269 L880 268 L885 268" fill="none" stroke="#295656" stroke-width="11.4" stroke-linejoin="round" stroke-linecap="butt"/>
<path d="M859 273 L860 273 L864 272 L868 271 L874 269 L880 268 L885 268" fill="none" stroke="#408686" stroke-width="9.4" stroke-linejoin="round" stroke-linecap="butt"/>
<path d="M842 206 L838 210 L834 213 L832 215 L830 217 L831 217" fill="none" stroke="#295656" stroke-width="11.4" stroke-linejoin="round" stroke-linecap="butt"/>
<path d="M842 206 L838 210 L834 213 L832 215 L830 217 L831 217" fill="none" stroke="#5cc0c0" stroke-width="9.4" stroke-linejoin="round" stroke-linecap="butt"/>
<path d="M842 206 L838 210 L834 213 L832 215 L830 217 L831 217" fill="none" stroke="#9dd9d9" stroke-width="2.8" stroke-linejoin="round" opacity="0.6"/>
<path d="M866 218 L865 222 L863 226 L860 231 L855 235 L851 239 L848 242 L845 244 L844 245 L845 245" fill="none" stroke="#295656" stroke-width="11.4" stroke-linejoin="round" stroke-linecap="butt"/>
<path d="M866 218 L865 222 L863 226 L860 231 L855 235 L851 239 L848 242 L845 244 L844 245 L845 245" fill="none" stroke="#5cc0c0" stroke-width="9.4" stroke-linejoin="round" stroke-linecap="butt"/>
<path d="M866 218 L865 222 L863 226 L860 231 L855 235 L851 239 L848 242 L845 244 L844 245 L845 245" fill="none" stroke="#9dd9d9" stroke-width="2.8" stroke-linejoin="round" opacity="0.6"/>
<path d="M880 244 L881 247 L879 251 L876 256 L873 260 L868 264 L864 268 L861 270 L859 272 L859 273" fill="none" stroke="#295656" stroke-width="11.4" stroke-linejoin="round" stroke-linecap="butt"/>
<path d="M880 244 L881 247 L879 251 L876 256 L873 260 L868 264 L864 268 L861 270 L859 272 L859 273" fill="none" stroke="#5cc0c0" stroke-width="9.4" stroke-linejoin="round" stroke-linecap="butt"/>
<path d="M880 244 L881 247 L879 251 L876 256 L873 260 L868 264 L864 268 L861 270 L859 272 L859 273" fill="none" stroke="#9dd9d9" stroke-width="2.8" stroke-linejoin="round" opacity="0.6"/>
<path d="M939 165 L941 165 L944 165 L949 165 L954 165 L959 166 L964 166 L968 168 L970 170 L972 173" fill="none" stroke="#132856" stroke-width="11.4" stroke-linejoin="round" stroke-linecap="butt"/>
<path d="M939 165 L941 165 L944 165 L949 165 L954 165 L959 166 L964 166 L968 168 L970 170 L972 173" fill="none" stroke="#1d3e86" stroke-width="9.4" stroke-linejoin="round" stroke-linecap="butt"/>
<path d="M947 152 L944 156 L941 159 L939 162 L939 164 L939 165" fill="none" stroke="#132856" stroke-width="11.4" stroke-linejoin="round" stroke-linecap="butt"/>
<path d="M947 152 L944 156 L941 159 L939 162 L939 164 L939 165" fill="none" stroke="#2a58c0" stroke-width="9.4" stroke-linejoin="round" stroke-linecap="butt"/>
<path d="M947 152 L944 156 L941 159 L939 162 L939 164 L939 165" fill="none" stroke="#7f9bd9" stroke-width="2.8" stroke-linejoin="round" opacity="0.6"/>
<path d="M972 173 L972 177 L971 181 L968 185 L966 189" fill="none" stroke="#132856" stroke-width="11.4" stroke-linejoin="round" stroke-linecap="butt"/>
<path d="M972 173 L972 177 L971 181 L968 185 L966 189" fill="none" stroke="#2a58c0" stroke-width="9.4" stroke-linejoin="round" stroke-linecap="butt"/>
<path d="M972 173 L972 177 L971 181 L968 185 L966 189" fill="none" stroke="#7f9bd9" stroke-width="2.8" stroke-linejoin="round" opacity="0.6"/>
<path d="M878.1 163.2 C880.0 157.7 884.3 138.3 889.7 130.5 C895.2 122.8 902.9 120.0 910.7 116.6 C918.5 113.1 929.3 108.8 936.3 109.6 C943.3 110.3 948.8 116.2 952.7 121.2 C956.5 126.3 958.5 136.8 959.7 139.9" fill="none" stroke="#1c437d" stroke-width="12" stroke-linecap="butt"/>
<path d="M878.1 163.2 C880.0 157.7 884.3 138.3 889.7 130.5 C895.2 122.8 902.9 120.0 910.7 116.6 C918.5 113.1 929.3 108.8 936.3 109.6 C943.3 110.3 948.8 116.2 952.7 121.2 C956.5 126.3 958.5 136.8 959.7 139.9" fill="none" stroke="#2f6fd0" stroke-width="10" stroke-linecap="butt"/>
<path d="M880.4 149.2 C883.5 142.2 892.4 116.6 899.0 107.2 C905.6 97.9 913.0 97.1 920.0 93.2 C927.0 89.4 937.5 85.5 941.0 83.9" fill="none" stroke="#356a86" stroke-width="10" stroke-linecap="butt"/>
<path d="M880.4 149.2 C883.5 142.2 892.4 116.6 899.0 107.2 C905.6 97.9 913.0 97.1 920.0 93.2 C927.0 89.4 937.5 85.5 941.0 83.9" fill="none" stroke="#58b0e0" stroke-width="8" stroke-linecap="butt"/>
<path d="M885.1 209.8 C887.0 202.0 892.1 176.4 896.7 163.2 C901.4 150.0 907.2 138.3 913.0 130.5 C918.9 122.8 925.5 120.0 931.7 116.6 C937.9 113.1 947.2 110.7 950.3 109.6" fill="none" stroke="#133a78" stroke-width="10" stroke-linecap="butt"/>
<path d="M885.1 209.8 C887.0 202.0 892.1 176.4 896.7 163.2 C901.4 150.0 907.2 138.3 913.0 130.5 C918.9 122.8 925.5 120.0 931.7 116.6 C937.9 113.1 947.2 110.7 950.3 109.6" fill="none" stroke="#2060c8" stroke-width="8" stroke-linecap="butt"/>
<path d="M889.7 244.8 C891.3 237.0 894.4 211.7 899.0 198.1 C903.7 184.5 910.7 171.3 917.7 163.2 C924.7 155.0 937.1 151.5 941.0 149.2" fill="none" stroke="#3a7386" stroke-width="9" stroke-linecap="butt"/>
<path d="M889.7 244.8 C891.3 237.0 894.4 211.7 899.0 198.1 C903.7 184.5 910.7 171.3 917.7 163.2 C924.7 155.0 937.1 151.5 941.0 149.2" fill="none" stroke="#60c0e0" stroke-width="7" stroke-linecap="butt"/>
<path d="M901.4 167.8 C903.3 172.9 908.0 187.3 913.0 198.1 C918.1 209.0 925.9 224.2 931.7 233.1 C937.5 242.0 945.3 248.6 948.0 251.7" fill="none" stroke="#356a3a" stroke-width="11" stroke-linecap="butt"/>
<path d="M901.4 167.8 C903.3 172.9 908.0 187.3 913.0 198.1 C918.1 209.0 925.9 224.2 931.7 233.1 C937.5 242.0 945.3 248.6 948.0 251.7" fill="none" stroke="#58b060" stroke-width="9" stroke-linecap="butt"/>
<path d="M913.0 163.2 C916.9 170.2 930.1 195.4 936.3 205.1 C942.6 214.8 948.0 218.7 950.3 221.4" fill="none" stroke="#30653a" stroke-width="9" stroke-linecap="butt"/>
<path d="M913.0 163.2 C916.9 170.2 930.1 195.4 936.3 205.1 C942.6 214.8 948.0 218.7 950.3 221.4" fill="none" stroke="#50a860" stroke-width="7" stroke-linecap="butt"/>
<path d="M810.5 60.6 C810.9 68.0 812.8 89.7 812.8 104.9 C812.8 120.0 810.9 143.7 810.5 151.5" fill="none" stroke="#78821d" stroke-width="8" stroke-linecap="butt"/>
<path d="M810.5 60.6 C810.9 68.0 812.8 89.7 812.8 104.9 C812.8 120.0 810.9 143.7 810.5 151.5" fill="none" stroke="#c8d830" stroke-width="6" stroke-linecap="butt"/>
<g stroke="#b0b0b0" stroke-width="3.6" fill="none" stroke-linejoin="round"><path d="M858 118 L860 138 L856 152 L850 165 L845 178 L840 195 L836 208 M836 208 l-6 3 l-3 -5 l3 -6 l6 -1 l3 5 M850 165 l-8 2 l-4 8 M856 152 l6 -4"/></g>
<rect x="795" y="96" width="85" height="142" fill="none" stroke="#d4261e" stroke-width="4.5" stroke-dasharray="13 7"/>
<path d="M880 96 L979 6 M880 238 L979 349" stroke="#c82a1e" stroke-width="1.6" fill="none"/>
<defs><clipPath id="zbclip"><rect x="981" y="9" width="426" height="339"/></clipPath><filter id="zblur"><feGaussianBlur stdDeviation="2.2"/></filter></defs>
<g clip-path="url(#zbclip)">
<g filter="url(#zblur)" opacity="0.78">
<path d="M1163.2 11.3 C1174.5 3.3 1217.3 7.5 1242.2 8.5 C1267.2 9.4 1299.6 8.9 1312.8 16.9 C1326.0 24.9 1321.7 39.5 1321.3 56.4 C1320.8 73.4 1312.3 99.7 1310.0 118.5 C1307.6 137.4 1313.7 159.0 1307.2 169.3 C1300.6 179.7 1286.0 179.7 1270.5 180.6 C1254.9 181.6 1229.1 178.8 1214.0 175.0 C1199.0 171.2 1187.7 167.5 1180.2 158.1 C1172.6 148.6 1169.8 135.5 1168.9 118.5 C1167.9 101.6 1175.4 74.3 1174.5 56.4 C1173.6 38.6 1151.9 19.3 1163.2 11.3 Z" fill="#d6e6c4"/>
<path d="M1194.3 93.1 C1202.3 86.1 1226.7 85.1 1242.2 84.7 C1257.8 84.2 1278.0 84.7 1287.4 90.3 C1296.8 96.0 1299.2 107.3 1298.7 118.5 C1298.2 129.8 1294.0 149.6 1284.6 158.1 C1275.2 166.5 1254.9 169.3 1242.2 169.3 C1229.5 169.3 1216.4 165.1 1208.4 158.1 C1200.4 151.0 1196.6 137.8 1194.3 127.0 C1191.9 116.2 1186.3 100.2 1194.3 93.1 Z" fill="#c6dcae"/>
<path d="M1312.8 16.9 C1327.4 -0.0 1392.8 -18.8 1408.8 11.3 C1424.8 41.4 1415.4 163.7 1408.8 197.6 C1402.2 231.4 1382.9 216.9 1369.3 214.5 C1355.6 212.2 1334.9 200.4 1326.9 183.5 C1318.9 166.5 1323.6 140.7 1321.3 112.9 C1318.9 85.1 1298.2 33.9 1312.8 16.9 Z" fill="#e2ecd8"/>
<path d="M1087.0 254.0 C1102.5 243.7 1155.2 249.3 1185.8 248.4 C1216.4 247.4 1233.3 247.4 1270.5 248.4 C1307.6 249.3 1385.7 237.6 1408.8 254.0 C1431.8 270.5 1431.8 331.4 1408.8 347.2 C1385.7 362.9 1312.3 348.3 1270.5 348.6 C1228.6 348.8 1187.2 354.9 1157.6 348.6 C1127.9 342.2 1104.4 326.2 1092.7 310.5 C1080.9 294.7 1071.5 264.4 1087.0 254.0 Z" fill="#d4e4f2"/>
<path d="M1157.6 268.1 C1167.0 263.4 1214.0 274.2 1242.2 276.6 C1270.5 279.0 1299.2 281.3 1326.9 282.2 C1354.7 283.2 1395.1 277.5 1408.8 282.2 C1422.4 287.0 1427.1 304.4 1408.8 310.5 C1390.4 316.6 1335.9 319.9 1298.7 318.9 C1261.5 318.0 1209.3 313.3 1185.8 304.8 C1162.3 296.4 1148.2 272.8 1157.6 268.1 Z" fill="#c4d8ec"/>
<path d="M982.6 11.3 C997.2 5.6 1042.8 7.5 1072.9 8.5 C1103.0 9.4 1149.1 8.9 1163.2 16.9 C1177.3 24.9 1167.9 48.0 1157.6 56.4 C1147.2 64.9 1122.3 68.7 1101.1 67.7 C1080.0 66.8 1049.8 55.0 1030.6 50.8 C1011.3 46.6 993.4 48.9 985.4 42.3 C977.4 35.8 968.0 16.9 982.6 11.3 Z" fill="#f2f2d8"/>
<path d="M1349.5 175.0 C1358.4 159.0 1398.9 144.9 1408.8 158.1 C1418.7 171.2 1417.7 238.0 1408.8 254.0 C1399.8 270.0 1365.0 267.2 1355.1 254.0 C1345.3 240.9 1340.6 191.0 1349.5 175.0 Z" fill="#d0e4d0"/>
</g>
<path d="M988.2 28.2 C992.9 31.0 1005.6 43.3 1016.4 45.2 C1027.3 47.0 1042.8 44.2 1053.1 39.5 C1063.5 34.8 1074.3 20.7 1078.5 16.9" fill="none" stroke="#e6e6b0" stroke-width="10" stroke-linecap="round" opacity="0.8"/>
<path d="M1095.5 11.3 C1101.1 15.1 1119.0 26.3 1129.3 33.9 C1139.7 41.4 1150.0 49.9 1157.6 56.4 C1165.1 63.0 1171.7 70.6 1174.5 73.4" fill="none" stroke="#e0e4b4" stroke-width="8" stroke-linecap="round" opacity="0.8"/>
<path d="M1174.5 180.6 C1181.1 183.5 1201.8 191.9 1214.0 197.6 C1226.3 203.2 1238.5 208.9 1247.9 214.5 C1257.3 220.2 1266.7 228.6 1270.5 231.4" fill="none" stroke="#c8dcc0" stroke-width="10" stroke-linecap="round" opacity="0.8"/>
<path d="M1095.5 282.2 C1101.1 285.1 1119.0 291.7 1129.3 299.2 C1139.7 306.7 1152.9 322.7 1157.6 327.4" fill="none" stroke="#c0d4e8" stroke-width="12" stroke-linecap="round" opacity="0.8"/>
<path d="M1312.8 141.1 C1317.5 143.9 1331.6 153.4 1341.0 158.1 C1350.4 162.8 1358.0 165.6 1369.3 169.3 C1380.5 173.1 1402.2 178.8 1408.8 180.6" fill="none" stroke="#c8dcc8" stroke-width="10" stroke-linecap="round" opacity="0.8"/>
<path d="M1369.3 84.7 C1371.6 90.3 1379.1 104.4 1383.4 118.5 C1387.6 132.7 1392.8 160.9 1394.7 169.3" fill="none" stroke="#d0e0d0" stroke-width="10" stroke-linecap="round" opacity="0.8"/>
<path d="M1095.5 93.1 L1106.8 97.4 L1122.3 81.9 L1135.0 67.7 L1132.2 52.2" fill="none" stroke="#32396c" stroke-width="7.8" stroke-linejoin="round" stroke-linecap="round"/>
<path d="M1095.5 93.1 L1106.8 97.4 L1122.3 81.9 L1135.0 67.7 L1132.2 52.2" fill="none" stroke="#5a68c4" stroke-width="6" stroke-linejoin="round" stroke-linecap="round"/>
<path d="M1135.0 67.7 L1140.6 84.7 L1151.9 97.4" fill="none" stroke="#32396c" stroke-width="7.8" stroke-linejoin="round" stroke-linecap="round"/>
<path d="M1135.0 67.7 L1140.6 84.7 L1151.9 97.4" fill="none" stroke="#5a68c4" stroke-width="6" stroke-linejoin="round" stroke-linecap="round"/>
<path d="M1190.0 90.3 L1199.9 121.4 L1222.5 115.7 L1231.0 127.0" fill="none" stroke="#32396c" stroke-width="7.8" stroke-linejoin="round" stroke-linecap="round"/>
<path d="M1190.0 90.3 L1199.9 121.4 L1222.5 115.7 L1231.0 127.0" fill="none" stroke="#5a68c4" stroke-width="6" stroke-linejoin="round" stroke-linecap="round"/>
<path d="M1199.9 121.4 L1188.6 132.7 L1168.9 156.6" fill="none" stroke="#32396c" stroke-width="7.8" stroke-linejoin="round" stroke-linecap="round"/>
<path d="M1199.9 121.4 L1188.6 132.7 L1168.9 156.6" fill="none" stroke="#5a68c4" stroke-width="6" stroke-linejoin="round" stroke-linecap="round"/>
<path d="M1273.3 62.1 L1287.4 79.0 L1311.4 59.3 L1318.5 45.2" fill="none" stroke="#32396c" stroke-width="7.8" stroke-linejoin="round" stroke-linecap="round"/>
<path d="M1273.3 62.1 L1287.4 79.0 L1311.4 59.3 L1318.5 45.2" fill="none" stroke="#5a68c4" stroke-width="6" stroke-linejoin="round" stroke-linecap="round"/>
<path d="M1287.4 79.0 L1290.2 107.3 L1278.9 121.4 L1293.1 152.4 L1281.8 172.2" fill="none" stroke="#32396c" stroke-width="7.8" stroke-linejoin="round" stroke-linecap="round"/>
<path d="M1287.4 79.0 L1290.2 107.3 L1278.9 121.4 L1293.1 152.4 L1281.8 172.2" fill="none" stroke="#5a68c4" stroke-width="6" stroke-linejoin="round" stroke-linecap="round"/>
<path d="M1311.4 59.3 L1321.3 87.5 L1307.2 93.1 L1304.3 127.0 L1324.1 129.8" fill="none" stroke="#32396c" stroke-width="7.8" stroke-linejoin="round" stroke-linecap="round"/>
<path d="M1311.4 59.3 L1321.3 87.5 L1307.2 93.1 L1304.3 127.0 L1324.1 129.8" fill="none" stroke="#5a68c4" stroke-width="6" stroke-linejoin="round" stroke-linecap="round"/>
<path d="M1363.6 108.7 L1376.3 118.5 L1374.9 152.4 L1360.8 163.7 L1358.0 191.9 L1343.9 191.9" fill="none" stroke="#32396c" stroke-width="7.8" stroke-linejoin="round" stroke-linecap="round"/>
<path d="M1363.6 108.7 L1376.3 118.5 L1374.9 152.4 L1360.8 163.7 L1358.0 191.9 L1343.9 191.9" fill="none" stroke="#5a68c4" stroke-width="6" stroke-linejoin="round" stroke-linecap="round"/>
<path d="M1281.8 263.9 L1312.8 265.3 L1312.8 279.4 L1302.9 282.2 L1332.6 275.2" fill="none" stroke="#32396c" stroke-width="7.8" stroke-linejoin="round" stroke-linecap="round"/>
<path d="M1281.8 263.9 L1312.8 265.3 L1312.8 279.4 L1302.9 282.2 L1332.6 275.2" fill="none" stroke="#5a68c4" stroke-width="6" stroke-linejoin="round" stroke-linecap="round"/>
<path d="M999.5 265.3 L1016.4 254.0 L1041.9 282.2 L1061.6 263.9 L1078.5 279.4 L1085.6 276.6" fill="none" stroke="#32396c" stroke-width="7.8" stroke-linejoin="round" stroke-linecap="round"/>
<path d="M999.5 265.3 L1016.4 254.0 L1041.9 282.2 L1061.6 263.9 L1078.5 279.4 L1085.6 276.6" fill="none" stroke="#5a68c4" stroke-width="6" stroke-linejoin="round" stroke-linecap="round"/>
<path d="M1168.9 156.6 L1174.5 152.4" stroke="#c83030" stroke-width="6"/>
<path d="M1190.0 90.3 L1192.9 98.8 M1132.2 52.2 L1133.6 57.9 M1318.5 45.2 L1316.2 52.2 M1363.6 108.7 L1369.3 112.9 M1343.9 191.9 L1349.5 192.5" stroke="#c83030" stroke-width="6"/>
<path d="M1293.1 152.4 L1288.8 141.1" stroke="#d8c020" stroke-width="6"/>
<path d="M1102.5 153.8 L1113.8 148.2 L1125.1 156.6 L1126.5 176.4 L1116.6 183.5 L1105.4 175.0 L1102.5 153.8" fill="none" stroke="#8a8a8a" stroke-width="9.3" stroke-linejoin="round" stroke-linecap="round"/>
<path d="M1102.5 153.8 L1113.8 148.2 L1125.1 156.6 L1126.5 176.4 L1116.6 183.5 L1105.4 175.0 L1102.5 153.8" fill="none" stroke="#d4d4d4" stroke-width="7.5" stroke-linejoin="round" stroke-linecap="round"/>
<path d="M1122.3 183.5 L1122.3 207.5 L1116.6 223.0 L1102.5 228.6 L1098.3 245.6 L1089.8 254.0 L1095.5 278.0 L1122.3 271.0 L1118.1 242.7 L1102.5 228.6" fill="none" stroke="#8a8a8a" stroke-width="9.3" stroke-linejoin="round" stroke-linecap="round"/>
<path d="M1122.3 183.5 L1122.3 207.5 L1116.6 223.0 L1102.5 228.6 L1098.3 245.6 L1089.8 254.0 L1095.5 278.0 L1122.3 271.0 L1118.1 242.7 L1102.5 228.6" fill="none" stroke="#d4d4d4" stroke-width="7.5" stroke-linejoin="round" stroke-linecap="round"/>
<path d="M1122.3 207.5 L1135.0 208.9 L1143.5 227.2 L1135.0 245.6 L1118.1 242.7" fill="none" stroke="#8a8a8a" stroke-width="9.3" stroke-linejoin="round" stroke-linecap="round"/>
<path d="M1122.3 207.5 L1135.0 208.9 L1143.5 227.2 L1135.0 245.6 L1118.1 242.7" fill="none" stroke="#d4d4d4" stroke-width="7.5" stroke-linejoin="round" stroke-linecap="round"/>
<path d="M1143.5 227.2 L1157.6 214.5 L1166.0 183.5" fill="none" stroke="#8a8a8a" stroke-width="9.3" stroke-linejoin="round" stroke-linecap="round"/>
<path d="M1143.5 227.2 L1157.6 214.5 L1166.0 183.5" fill="none" stroke="#d4d4d4" stroke-width="7.5" stroke-linejoin="round" stroke-linecap="round"/>
<path d="M1157.6 214.5 L1174.5 203.2 L1185.8 214.5 L1191.4 225.8 L1205.6 225.8 L1228.1 223.0 L1242.2 223.0 L1267.6 223.0" fill="none" stroke="#8a8a8a" stroke-width="9.3" stroke-linejoin="round" stroke-linecap="round"/>
<path d="M1157.6 214.5 L1174.5 203.2 L1185.8 214.5 L1191.4 225.8 L1205.6 225.8 L1228.1 223.0 L1242.2 223.0 L1267.6 223.0" fill="none" stroke="#d4d4d4" stroke-width="7.5" stroke-linejoin="round" stroke-linecap="round"/>
<path d="M1205.6 203.2 L1222.5 199.0 L1242.2 197.6 L1273.3 197.6 L1276.1 214.5 L1267.6 223.0 L1236.6 223.0 L1205.6 223.0 L1205.6 203.2" fill="none" stroke="#8a8a8a" stroke-width="9.3" stroke-linejoin="round" stroke-linecap="round"/>
<path d="M1205.6 203.2 L1222.5 199.0 L1242.2 197.6 L1273.3 197.6 L1276.1 214.5 L1267.6 223.0 L1236.6 223.0 L1205.6 223.0 L1205.6 203.2" fill="none" stroke="#d4d4d4" stroke-width="7.5" stroke-linejoin="round" stroke-linecap="round"/>
<path d="M1242.2 197.6 L1242.2 223.0" fill="none" stroke="#8a8a8a" stroke-width="9.3" stroke-linejoin="round" stroke-linecap="round"/>
<path d="M1242.2 197.6 L1242.2 223.0" fill="none" stroke="#d4d4d4" stroke-width="7.5" stroke-linejoin="round" stroke-linecap="round"/>
<path d="M1267.6 214.5 L1278.9 203.2 L1298.7 203.2 L1307.2 217.3 L1295.9 231.4 L1273.3 228.6 L1267.6 214.5" fill="none" stroke="#8a8a8a" stroke-width="9.3" stroke-linejoin="round" stroke-linecap="round"/>
<path d="M1267.6 214.5 L1278.9 203.2 L1298.7 203.2 L1307.2 217.3 L1295.9 231.4 L1273.3 228.6 L1267.6 214.5" fill="none" stroke="#d4d4d4" stroke-width="7.5" stroke-linejoin="round" stroke-linecap="round"/>
<path d="M1146.3 169.3 L1147.7 197.6" fill="none" stroke="#8a8a8a" stroke-width="6.8" stroke-linejoin="round" stroke-linecap="round"/>
<path d="M1146.3 169.3 L1147.7 197.6" fill="none" stroke="#d4d4d4" stroke-width="5" stroke-linejoin="round" stroke-linecap="round"/>
<path d="M1146.3 169.3 L1146.8 180.6 M1143.5 248.4 L1144.9 237.1 M1191.4 225.8 L1192.9 239.9" stroke="#c83030" stroke-width="5"/>
<path d="M1129.3 208.9 L1133.6 210.3 M1102.5 242.7 L1106.8 244.1 M1219.7 199.0 L1223.9 200.4" stroke="#3040b0" stroke-width="5"/>
<path d="M1108.2 100.2 L1113.8 169.3" fill="none" stroke="#e0a0d0" stroke-width="2.6" stroke-dasharray="3 2.5"/>
<path d="M1123.7 167.9 L1167.5 156.6" fill="none" stroke="#e07818" stroke-width="3.2" stroke-dasharray="3 2.5"/>
<path d="M1084.2 234.3 L1084.2 259.7" fill="none" stroke="#60c040" stroke-width="3" stroke-dasharray="3 2.5"/>
<path d="M1324.1 190.5 L1342.4 191.9" fill="none" stroke="#70c040" stroke-width="3" stroke-dasharray="3 2.5"/>
<path d="M1307.2 132.7 L1290.2 180.6" fill="none" stroke="#e0a0d0" stroke-width="2.6" stroke-dasharray="3 2.5"/>
<path d="M1294.5 155.2 L1290.2 194.8" fill="none" stroke="#d8d030" stroke-width="3" stroke-dasharray="3 2.5"/>
<path d="M1281.8 172.2 L1284.6 259.7" fill="none" stroke="#5040c0" stroke-width="3" stroke-dasharray="3 2.5"/>
<path d="M1291.6 223.0 L1310.0 262.5" fill="none" stroke="#5040c0" stroke-width="3" stroke-dasharray="3 2.5"/>
</g>
<rect x="979.5" y="7.5" width="429.5" height="342.5" fill="none" stroke="#d4261e" stroke-width="5" stroke-dasharray="14 8"/>
<text x="1046.0" y="75.0" font-size="22" font-family="'Liberation Sans', 'DejaVu Sans', sans-serif" fill="#111" textLength="71.0" lengthAdjust="spacingAndGlyphs">LEU-178</text>
<text x="1183.0" y="85.0" font-size="22" font-family="'Liberation Sans', 'DejaVu Sans', sans-serif" fill="#111" textLength="69.0" lengthAdjust="spacingAndGlyphs">ASP-175</text>
<text x="1235.0" y="52.0" font-size="22" font-family="'Liberation Sans', 'DejaVu Sans', sans-serif" fill="#111" textLength="72.0" lengthAdjust="spacingAndGlyphs">MET-163</text>
<text x="1323.0" y="73.0" font-size="22" font-family="'Liberation Sans', 'DejaVu Sans', sans-serif" fill="#111" textLength="50.0" lengthAdjust="spacingAndGlyphs">ILE-95</text>
<text x="1323.0" y="231.0" font-size="22" font-family="'Liberation Sans', 'DejaVu Sans', sans-serif" fill="#111" textLength="70.0" lengthAdjust="spacingAndGlyphs">GLU-114</text>
<text x="1012.0" y="234.0" font-size="22" font-family="'Liberation Sans', 'DejaVu Sans', sans-serif" fill="#111" textLength="55.0" lengthAdjust="spacingAndGlyphs">LYS-49</text>
<text x="1272.0" y="313.0" font-size="22" font-family="'Liberation Sans', 'DejaVu Sans', sans-serif" fill="#111" textLength="58.0" lengthAdjust="spacingAndGlyphs">VAL-66</text>
<text x="240.5" y="407.5" font-size="41" font-family="'Liberation Serif', 'Times New Roman', serif" fill="#231815" textLength="615.0" lengthAdjust="spacingAndGlyphs">Dihydroergotamine - CSNK2A1 (PDB ID:8AEC)</text>
<text x="1019.0" y="406.4" font-size="41" font-family="'Liberation Serif', 'Times New Roman', serif" fill="#231815" textLength="388.0" lengthAdjust="spacingAndGlyphs">Binding Energy: -11.5 kcal/mol</text>
<text x="3.4" y="1803.0" font-size="38" font-family="'Liberation Serif', 'Times New Roman', serif" fill="#231815" font-weight="bold" textLength="28.0" lengthAdjust="spacingAndGlyphs">H</text>
<path d="M223.3 1836.0 L223.3 2194.0 M375.2 1852.8 L361.4 2255.8" stroke="#a0a0a0" stroke-width="1.2" fill="none"/>
<path d="M90.0 1856.3 L101.7 2269.6" stroke="#222" stroke-width="1.6" fill="none"/>
<path d="M101.7 2270.7 L223.7 2194.2 L361.4 2258.2 L246.7 2358.3 Z" fill="#7a2226" stroke="#222" stroke-width="1.3"/>
<g filter="url(#hblur)">
<path d="M323.8 2262.1 L338.2 2261.4 L336.3 2265.5 L325.6 2270.9 L328.5 2273.8 L325.3 2277.6 L325.6 2281.4 L323.9 2285.5 L308.8 2288.0 L303.5 2291.1 L308.3 2297.6 L297.6 2299.2 L294.1 2304.3 L281.9 2302.2 L278.0 2307.9 L271.6 2312.5 L263.7 2310.3 L255.9 2318.5 L247.9 2319.6 L244.9 2312.0 L239.0 2312.4 L228.5 2317.8 L217.8 2321.6 L218.4 2315.3 L215.6 2312.7 L208.1 2313.3 L210.6 2308.2 L204.2 2307.9 L197.7 2307.3 L194.5 2305.0 L198.3 2300.5 L197.8 2297.5 L198.2 2294.3 L194.5 2291.7 L199.3 2287.8 L206.4 2284.0 L195.2 2280.6 L203.9 2276.7 L207.1 2272.7 L218.4 2270.4 L213.9 2263.8 L222.1 2260.6 L235.3 2261.6 L239.9 2257.5 L244.8 2252.0 L252.4 2249.6 L260.0 2245.4 L267.3 2248.4 L275.8 2243.1 L282.7 2243.7 L287.1 2246.8 L296.0 2243.8 L305.5 2241.0 L311.5 2242.1 L312.5 2246.5 L318.5 2247.1 L313.5 2253.8 L320.2 2253.9 L332.9 2252.0 L327.9 2257.5 Z" fill="#d42a1e"/>
<circle cx="190" cy="2296" r="4" fill="#c82620"/>
<circle cx="197" cy="2304" r="3.5" fill="#c82620"/>
<circle cx="205" cy="2312" r="4" fill="#c82620"/>
<circle cx="214" cy="2318" r="3" fill="#c82620"/>
<circle cx="200" cy="2285" r="3" fill="#c82620"/>
<circle cx="212" cy="2265" r="3" fill="#c82620"/>
<circle cx="225" cy="2258" r="3.5" fill="#c82620"/>
<circle cx="238" cy="2252" r="3" fill="#c82620"/>
<circle cx="252" cy="2246" r="3.5" fill="#c82620"/>
<circle cx="270" cy="2243" r="3" fill="#c82620"/>
<circle cx="288" cy="2244" r="3" fill="#c82620"/>
<circle cx="305" cy="2248" r="3" fill="#c82620"/>
<circle cx="320" cy="2254" r="3" fill="#c82620"/>
<circle cx="330" cy="2268" r="3" fill="#c82620"/>
<circle cx="240" cy="2318" r="3.5" fill="#c82620"/>
<circle cx="255" cy="2322" r="3" fill="#c82620"/>
<path d="M330.7 2263.2 L331.1 2266.2 L320.3 2271.6 L319.9 2274.2 L327.1 2276.1 L323.8 2279.6 L320.2 2282.9 L313.3 2286.0 L312.3 2289.5 L307.9 2292.7 L302.8 2295.7 L294.9 2297.3 L291.2 2300.8 L285.3 2303.1 L280.4 2306.9 L274.4 2310.3 L267.5 2312.0 L261.1 2311.3 L255.0 2311.9 L249.6 2311.7 L245.1 2310.8 L240.0 2310.9 L232.2 2313.4 L228.4 2312.0 L223.5 2311.6 L214.7 2313.3 L214.7 2309.8 L211.3 2308.2 L212.6 2304.7 L213.4 2301.7 L208.8 2300.5 L210.6 2297.3 L206.3 2295.6 L201.4 2293.5 L206.7 2289.7 L214.4 2286.1 L209.4 2283.1 L213.9 2279.6 L218.6 2276.4 L221.7 2272.8 L227.9 2269.9 L233.1 2266.8 L241.2 2265.5 L244.3 2260.5 L251.0 2258.1 L258.9 2259.8 L264.6 2255.0 L271.1 2253.7 L277.0 2254.0 L283.3 2252.7 L289.0 2252.5 L297.1 2249.6 L300.0 2252.4 L307.6 2250.9 L308.2 2254.6 L317.2 2252.7 L321.2 2254.2 L319.6 2258.3 L323.2 2259.8 L329.1 2260.6 Z" fill="#f0dc3e"/>
<path d="M319.3 2266.3 L322.3 2267.9 L320.6 2270.7 L321.8 2272.9 L320.6 2275.7 L314.2 2278.8 L311.5 2281.4 L314.6 2284.4 L307.2 2286.8 L303.2 2289.5 L303.0 2293.3 L295.7 2294.9 L292.0 2298.2 L285.5 2299.6 L280.4 2302.1 L274.2 2302.3 L269.0 2305.6 L263.0 2307.9 L257.7 2307.6 L251.6 2309.3 L246.3 2309.6 L243.7 2307.1 L235.8 2310.1 L232.1 2309.0 L229.8 2307.1 L228.1 2305.1 L219.0 2307.1 L219.3 2304.1 L215.2 2303.2 L212.2 2301.7 L212.6 2298.9 L210.4 2297.0 L215.2 2293.3 L212.5 2291.4 L216.9 2288.2 L214.9 2285.7 L217.9 2282.6 L226.6 2279.9 L229.6 2277.3 L232.9 2274.6 L233.1 2270.8 L240.5 2269.1 L244.7 2266.3 L251.0 2264.9 L255.8 2262.3 L261.5 2260.9 L267.1 2259.4 L272.8 2257.2 L278.4 2256.1 L284.8 2254.0 L289.7 2254.4 L296.0 2253.1 L300.7 2253.5 L306.2 2253.3 L308.5 2255.4 L308.8 2258.4 L316.9 2256.9 L320.5 2258.1 L322.3 2260.2 L321.2 2263.3 Z" fill="#94c43a"/>
<path d="M313.3 2267.7 L312.7 2269.7 L314.5 2271.0 L312.3 2273.3 L310.7 2275.4 L311.4 2277.3 L312.5 2279.4 L309.4 2281.7 L306.3 2284.0 L300.6 2285.7 L298.6 2288.1 L294.0 2289.7 L289.9 2291.3 L285.9 2292.8 L282.1 2294.6 L278.5 2297.9 L273.7 2298.9 L269.1 2300.0 L264.5 2300.8 L261.2 2299.5 L256.9 2300.3 L252.0 2301.5 L247.7 2301.8 L243.6 2301.9 L240.1 2301.5 L241.4 2298.2 L236.0 2298.9 L233.5 2297.9 L232.9 2296.1 L233.8 2293.8 L231.1 2292.8 L233.4 2290.3 L227.8 2289.7 L229.0 2287.5 L232.2 2285.0 L235.2 2282.7 L233.5 2280.6 L237.9 2278.3 L239.1 2275.9 L242.5 2273.7 L247.5 2271.9 L251.5 2270.1 L254.8 2267.9 L259.4 2266.5 L264.0 2265.5 L268.0 2263.8 L272.3 2261.1 L276.5 2262.3 L280.5 2261.6 L285.7 2259.1 L289.0 2259.8 L293.7 2258.8 L297.2 2259.1 L300.1 2259.8 L306.5 2258.1 L305.2 2261.4 L308.9 2261.7 L309.6 2263.4 L313.9 2263.6 L312.8 2266.0 Z" fill="#62b8e0"/>
<path d="M270.9 2274.5 L271.5 2275.8 L271.5 2277.4 L271.4 2279.0 L269.5 2280.6 L268.6 2282.3 L264.2 2282.9 L263.5 2284.7 L262.1 2286.6 L259.0 2287.2 L256.6 2288.5 L253.8 2287.4 L251.2 2288.6 L248.9 2288.2 L246.2 2288.7 L243.9 2288.4 L243.5 2286.7 L241.3 2286.3 L239.9 2285.5 L236.6 2285.3 L236.5 2283.7 L238.8 2281.7 L236.5 2280.6 L239.7 2279.0 L238.9 2277.4 L241.9 2276.2 L243.8 2275.1 L243.6 2272.7 L247.2 2272.6 L249.5 2271.6 L251.4 2269.3 L254.3 2268.9 L256.7 2269.9 L260.0 2268.2 L261.8 2269.3 L264.4 2269.3 L265.1 2270.9 L269.0 2270.3 L269.6 2271.8 L271.6 2272.7 Z" fill="#3a58b6"/>
<path d="M316.9 2270.6 L317.5 2273.0 L315.7 2275.9 L313.9 2278.5 L311.5 2281.0 L312.6 2283.8 L309.4 2286.1 L307.5 2289.0 L303.1 2290.4 L300.4 2293.2 L295.9 2293.5 L292.3 2296.2 L288.2 2296.9 L284.6 2296.3 L280.7 2296.8 L276.9 2296.8 L275.3 2294.5 L271.4 2294.5 L268.0 2293.6 L268.8 2290.5 L265.1 2289.4 L265.1 2286.8 L264.5 2284.4 L267.7 2281.5 L270.1 2279.0 L268.8 2276.1 L271.4 2273.4 L275.5 2271.6 L279.6 2270.2 L282.6 2268.2 L285.7 2265.5 L289.8 2265.3 L293.9 2262.4 L297.6 2263.1 L300.6 2264.4 L305.1 2263.2 L307.3 2265.0 L312.1 2264.4 L314.4 2266.1 L314.4 2269.0 Z" fill="#3a58b6"/>
<path d="M301.5 2277.5 L301.0 2278.8 L302.9 2279.5 L300.2 2281.1 L301.3 2282.3 L299.7 2283.5 L297.5 2284.5 L297.3 2286.1 L294.6 2286.5 L293.5 2288.1 L291.2 2288.1 L289.4 2288.8 L287.4 2290.0 L285.0 2291.3 L284.0 2289.6 L282.1 2289.7 L279.5 2290.3 L277.0 2290.5 L277.0 2288.9 L276.8 2287.7 L274.0 2287.5 L277.4 2285.1 L274.3 2284.6 L276.9 2283.0 L278.1 2281.8 L279.2 2280.6 L279.8 2279.3 L280.0 2277.5 L283.1 2277.3 L284.3 2275.6 L286.3 2274.7 L288.5 2274.6 L290.6 2273.7 L292.2 2274.7 L293.9 2274.6 L295.8 2274.4 L298.6 2273.5 L299.3 2274.7 L300.1 2275.6 L301.9 2276.0 Z" fill="#5a30a4"/>
</g>
<path d="M91.4 1856.3 L223.3 1835.0 L375.2 1852.8 L360.7 1860.7 L353.9 1874.5 L347.0 1883.1 L247.4 1884.8 L192.4 1883.1 L176.9 1872.1 L92.8 1859.7 Z" fill="#7a2226"/>
<path d="M90.0 1855.6 L223.3 1833.9 L375.9 1851.8" fill="none" stroke="#444" stroke-width="1.3"/>
<defs><linearGradient id="hfun" gradientUnits="userSpaceOnUse" x1="0" y1="1859.0" x2="0" y2="2259.3"><stop offset="0.000" stop-color="#7a1e22"/><stop offset="0.086" stop-color="#a32022"/><stop offset="0.172" stop-color="#c52222"/><stop offset="0.326" stop-color="#c92422"/><stop offset="0.386" stop-color="#d8441e"/><stop offset="0.438" stop-color="#e38a2a"/><stop offset="0.489" stop-color="#ece43c"/><stop offset="0.532" stop-color="#e4e23c"/><stop offset="0.618" stop-color="#a8c83a"/><stop offset="0.670" stop-color="#7ab232"/><stop offset="0.712" stop-color="#78b868"/><stop offset="0.755" stop-color="#6ab8e4"/><stop offset="0.807" stop-color="#4676c6"/><stop offset="0.884" stop-color="#3050a8"/><stop offset="0.944" stop-color="#4c3aa2"/><stop offset="1.000" stop-color="#6e2aa0"/></linearGradient><filter id="hblur" x="-10%" y="-10%" width="120%" height="120%"><feGaussianBlur stdDeviation="0.9"/></filter><linearGradient id="hshade" x1="0" y1="0" x2="1" y2="0"><stop offset="0" stop-color="#000" stop-opacity="0.18"/><stop offset="0.35" stop-color="#fff" stop-opacity="0.04"/><stop offset="0.6" stop-color="#fff" stop-opacity="0"/><stop offset="1" stop-color="#000" stop-opacity="0.12"/></linearGradient></defs>
<path d="M176.9 1870.0 L180.4 1893.4 L185.5 1944.9 L189.0 1889.9 L191.7 1924.3 L195.8 1975.8 L201.0 1996.4 L206.1 2020.5 L210.3 2041.1 L214.7 2017.1 L218.5 2061.7 L223.3 2090.9 L230.9 2151.0 L240.5 2185.4 L250.8 2209.4 L256.0 2208.1 L262.8 2196.4 L267.3 2197.8 L271.4 2223.2 L276.6 2242.1 L281.7 2258.2 L290.3 2251.4 L297.2 2236.9 L303.0 2219.8 L309.9 2185.4 L316.1 2144.2 L322.9 2096.1 L328.1 2054.8 L331.9 2038.4 L333.9 2020.5 L340.1 1972.4 L345.3 1924.3 L348.7 1893.4 L352.1 1880.3 L355.9 1870.0 L360.7 1859.7 L343.6 1872.1 L309.2 1882.4 L247.4 1882.4 L206.1 1879.6 Z" fill="url(#hfun)"/>
<path d="M176.9 1870.0 L180.4 1893.4 L185.5 1944.9 L189.0 1889.9 L191.7 1924.3 L195.8 1975.8 L201.0 1996.4 L206.1 2020.5 L210.3 2041.1 L214.7 2017.1 L218.5 2061.7 L223.3 2090.9 L230.9 2151.0 L240.5 2185.4 L250.8 2209.4 L256.0 2208.1 L262.8 2196.4 L267.3 2197.8 L271.4 2223.2 L276.6 2242.1 L281.7 2258.2 L290.3 2251.4 L297.2 2236.9 L303.0 2219.8 L309.9 2185.4 L316.1 2144.2 L322.9 2096.1 L328.1 2054.8 L331.9 2038.4 L333.9 2020.5 L340.1 1972.4 L345.3 1924.3 L348.7 1893.4 L352.1 1880.3 L355.9 1870.0 L360.7 1859.7 L343.6 1872.1 L309.2 1882.4 L247.4 1882.4 L206.1 1879.6 Z" fill="url(#hshade)"/>
<line x1="90.8" y1="1884.8" x2="87.3" y2="1884.8" stroke="#333" stroke-width="1.2"/>
<text x="85.8" y="1892.8" font-size="23" font-family="'Liberation Sans', Arial, sans-serif" fill="#1a1a1a" text-anchor="end" textLength="14.8" lengthAdjust="spacingAndGlyphs">14</text>
<line x1="92.4" y1="1939.8" x2="88.9" y2="1939.8" stroke="#333" stroke-width="1.2"/>
<text x="87.4" y="1947.8" font-size="23" font-family="'Liberation Sans', Arial, sans-serif" fill="#1a1a1a" text-anchor="end" textLength="14.8" lengthAdjust="spacingAndGlyphs">12</text>
<line x1="93.9" y1="1994.7" x2="90.4" y2="1994.7" stroke="#333" stroke-width="1.2"/>
<text x="88.9" y="2002.7" font-size="23" font-family="'Liberation Sans', Arial, sans-serif" fill="#1a1a1a" text-anchor="end" textLength="14.8" lengthAdjust="spacingAndGlyphs">10</text>
<line x1="95.4" y1="2048.0" x2="91.9" y2="2048.0" stroke="#333" stroke-width="1.2"/>
<text x="90.4" y="2056.0" font-size="23" font-family="'Liberation Sans', Arial, sans-serif" fill="#1a1a1a" text-anchor="end" textLength="7.4" lengthAdjust="spacingAndGlyphs">8</text>
<line x1="96.9" y1="2099.5" x2="93.4" y2="2099.5" stroke="#333" stroke-width="1.2"/>
<text x="91.9" y="2107.5" font-size="23" font-family="'Liberation Sans', Arial, sans-serif" fill="#1a1a1a" text-anchor="end" textLength="7.4" lengthAdjust="spacingAndGlyphs">6</text>
<line x1="98.3" y1="2149.3" x2="94.8" y2="2149.3" stroke="#333" stroke-width="1.2"/>
<text x="93.3" y="2157.3" font-size="23" font-family="'Liberation Sans', Arial, sans-serif" fill="#1a1a1a" text-anchor="end" textLength="7.4" lengthAdjust="spacingAndGlyphs">4</text>
<line x1="99.7" y1="2199.1" x2="96.2" y2="2199.1" stroke="#333" stroke-width="1.2"/>
<text x="94.7" y="2207.1" font-size="23" font-family="'Liberation Sans', Arial, sans-serif" fill="#1a1a1a" text-anchor="end" textLength="7.4" lengthAdjust="spacingAndGlyphs">2</text>
<line x1="101.1" y1="2247.2" x2="97.6" y2="2247.2" stroke="#333" stroke-width="1.2"/>
<text x="96.1" y="2255.2" font-size="23" font-family="'Liberation Sans', Arial, sans-serif" fill="#1a1a1a" text-anchor="end" textLength="7.4" lengthAdjust="spacingAndGlyphs">0</text>
<text font-size="24" font-family="'Liberation Sans', Arial, sans-serif" fill="#1a1a1a" text-anchor="middle" textLength="239" lengthAdjust="spacingAndGlyphs" transform="translate(57 2081.5) rotate(90) scale(1 0.9)">Relative Free Energy</text>
<defs><linearGradient id="hcb" x1="0" y1="0" x2="0" y2="1"><stop offset="0" stop-color="#5c1a1c"/><stop offset="0.12" stop-color="#8a1e22"/><stop offset="0.25" stop-color="#c42222"/><stop offset="0.38" stop-color="#d0301e"/><stop offset="0.45" stop-color="#e07a28"/><stop offset="0.5" stop-color="#eee23e"/><stop offset="0.56" stop-color="#c8d83a"/><stop offset="0.64" stop-color="#7cb434"/><stop offset="0.7" stop-color="#78bc70"/><stop offset="0.75" stop-color="#64bce8"/><stop offset="0.82" stop-color="#4070c4"/><stop offset="0.9" stop-color="#3048a4"/><stop offset="1.0" stop-color="#7222a0"/></linearGradient></defs>
<rect x="401.3" y="1886.5" width="23" height="379.5" fill="url(#hcb)" stroke="#222" stroke-width="1.2"/>
<line x1="424.3" y1="1886.5" x2="429" y2="1886.5" stroke="#222" stroke-width="1.2"/>
<text x="433.6" y="1891.8" font-size="14.5" font-family="'Liberation Sans', Arial, sans-serif" fill="#1a1a1a" textLength="26.8" lengthAdjust="spacingAndGlyphs">16.00</text>
<line x1="424.3" y1="1981.4" x2="429" y2="1981.4" stroke="#222" stroke-width="1.2"/>
<text x="433.6" y="1986.7" font-size="14.5" font-family="'Liberation Sans', Arial, sans-serif" fill="#1a1a1a" textLength="26.8" lengthAdjust="spacingAndGlyphs">12.00</text>
<line x1="424.3" y1="2076.3" x2="429" y2="2076.3" stroke="#222" stroke-width="1.2"/>
<text x="433.6" y="2081.6" font-size="14.5" font-family="'Liberation Sans', Arial, sans-serif" fill="#1a1a1a" textLength="26.8" lengthAdjust="spacingAndGlyphs">8.000</text>
<line x1="424.3" y1="2171.2" x2="429" y2="2171.2" stroke="#222" stroke-width="1.2"/>
<text x="433.6" y="2176.5" font-size="14.5" font-family="'Liberation Sans', Arial, sans-serif" fill="#1a1a1a" textLength="26.8" lengthAdjust="spacingAndGlyphs">4.000</text>
<line x1="424.3" y1="2266.1" x2="429" y2="2266.1" stroke="#222" stroke-width="1.2"/>
<text x="433.6" y="2271.4" font-size="14.5" font-family="'Liberation Sans', Arial, sans-serif" fill="#1a1a1a" textLength="26.8" lengthAdjust="spacingAndGlyphs">0.000</text>
<text x="398.5" y="1869.0" font-size="24" font-family="'Liberation Sans', Arial, sans-serif" fill="#1a1a1a" textLength="60.2" lengthAdjust="spacingAndGlyphs">kcal/mol</text>
<text x="86.3" y="2287.9" font-size="16" font-family="'Liberation Sans', Arial, sans-serif" fill="#1a1a1a" text-anchor="middle" textLength="25" lengthAdjust="spacingAndGlyphs" transform="rotate(-33 86.3 2282.4)">0.00</text>
<text x="108.3" y="2302.0" font-size="16" font-family="'Liberation Sans', Arial, sans-serif" fill="#1a1a1a" text-anchor="middle" textLength="25" lengthAdjust="spacingAndGlyphs" transform="rotate(-33 108.3 2296.5)">0.05</text>
<text x="132.6" y="2317.4" font-size="16" font-family="'Liberation Sans', Arial, sans-serif" fill="#1a1a1a" text-anchor="middle" textLength="25" lengthAdjust="spacingAndGlyphs" transform="rotate(-33 132.6 2311.9)">0.10</text>
<text x="157.5" y="2333.7" font-size="16" font-family="'Liberation Sans', Arial, sans-serif" fill="#1a1a1a" text-anchor="middle" textLength="25" lengthAdjust="spacingAndGlyphs" transform="rotate(-33 157.5 2328.2)">0.15</text>
<text x="183.2" y="2351.1" font-size="16" font-family="'Liberation Sans', Arial, sans-serif" fill="#1a1a1a" text-anchor="middle" textLength="25" lengthAdjust="spacingAndGlyphs" transform="rotate(-33 183.2 2345.6)">0.20</text>
<text x="211" y="2368.8" font-size="16" font-family="'Liberation Sans', Arial, sans-serif" fill="#1a1a1a" text-anchor="middle" textLength="25" lengthAdjust="spacingAndGlyphs" transform="rotate(-33 211 2363.3)">0.25</text>
<path d="M103.5 2271.5l-4 2M126.2 2285.5l-4 2M149.3 2300.9l-4 2M174.2 2315.8l-4 2M200.1 2331.8l-4 2M227.7 2347.8l-4 2" stroke="#222" stroke-width="1.2"/>
<text x="131" y="2345" font-size="22" font-family="'Liberation Sans', Arial, sans-serif" fill="#1a1a1a" text-anchor="middle" textLength="48" lengthAdjust="spacingAndGlyphs" transform="rotate(35 131 2339)">RMSD</text>
<text x="374.6" y="2275" font-size="16" font-family="'Liberation Sans', Arial, sans-serif" fill="#1a1a1a" text-anchor="middle" textLength="27" lengthAdjust="spacingAndGlyphs" transform="rotate(25 374.6 2270)">2.11</text>
<text x="358.7" y="2288.3" font-size="16" font-family="'Liberation Sans', Arial, sans-serif" fill="#1a1a1a" text-anchor="middle" textLength="27" lengthAdjust="spacingAndGlyphs" transform="rotate(25 358.7 2283.3)">2.10</text>
<text x="341.6" y="2303.9" font-size="16" font-family="'Liberation Sans', Arial, sans-serif" fill="#1a1a1a" text-anchor="middle" textLength="27" lengthAdjust="spacingAndGlyphs" transform="rotate(25 341.6 2298.9)">2.09</text>
<text x="323.9" y="2320.6" font-size="16" font-family="'Liberation Sans', Arial, sans-serif" fill="#1a1a1a" text-anchor="middle" textLength="27" lengthAdjust="spacingAndGlyphs" transform="rotate(25 323.9 2315.6)">2.08</text>
<text x="304" y="2340.4" font-size="16" font-family="'Liberation Sans', Arial, sans-serif" fill="#1a1a1a" text-anchor="middle" textLength="27" lengthAdjust="spacingAndGlyphs" transform="rotate(25 304 2335.4)">2.07</text>
<text x="284.2" y="2357" font-size="16" font-family="'Liberation Sans', Arial, sans-serif" fill="#1a1a1a" text-anchor="middle" textLength="27" lengthAdjust="spacingAndGlyphs" transform="rotate(25 284.2 2352)">2.06</text>
<path d="M358.0 2261.2l4 1.6M340.8 2276.2l4 1.6M322.4 2292.2l4 1.6M301.8 2310.3l4 1.6M280.0 2329.3l4 1.6M260.5 2346.3l4 1.6" stroke="#222" stroke-width="1.2"/>
<text x="352" y="2333" font-size="22" font-family="'Liberation Sans', Arial, sans-serif" fill="#1a1a1a" text-anchor="middle" textLength="22" lengthAdjust="spacingAndGlyphs" transform="rotate(-58 352 2327)">Rg</text>
<text x="968.7" y="1268.0" font-size="38" font-family="'Liberation Serif', 'Times New Roman', serif" fill="#231815" font-weight="bold" textLength="26.3" lengthAdjust="spacingAndGlyphs">G</text>
<path d="M1096.3 1225.8 C1091.9 1233.2 1075.7 1253.0 1069.8 1270.0 C1063.9 1286.9 1064.7 1309.0 1061.0 1327.4 C1057.3 1345.8 1053.6 1363.5 1047.7 1380.4 C1041.8 1397.3 1031.5 1410.6 1025.6 1429.0 C1019.7 1447.4 1013.1 1469.5 1012.4 1490.8 C1011.7 1512.2 1016.8 1538.7 1021.2 1557.1 C1025.6 1575.5 1035.9 1593.9 1038.9 1601.2" fill="none" stroke="#777" stroke-width="3.8000000000000003" stroke-linecap="round"/>
<path d="M1096.3 1225.8 C1091.9 1233.2 1075.7 1253.0 1069.8 1270.0 C1063.9 1286.9 1064.7 1309.0 1061.0 1327.4 C1057.3 1345.8 1053.6 1363.5 1047.7 1380.4 C1041.8 1397.3 1031.5 1410.6 1025.6 1429.0 C1019.7 1447.4 1013.1 1469.5 1012.4 1490.8 C1011.7 1512.2 1016.8 1538.7 1021.2 1557.1 C1025.6 1575.5 1035.9 1593.9 1038.9 1601.2" fill="none" stroke="#e4e4e4" stroke-width="2.2" stroke-linecap="round"/>
<path d="M1098.1 1224.7 C1093.7 1232.1 1077.5 1251.9 1071.6 1268.9 C1065.7 1285.8 1066.5 1307.9 1062.8 1326.3 C1059.1 1344.7 1055.4 1362.4 1049.5 1379.3 C1043.6 1396.2 1033.3 1409.5 1027.4 1427.9 C1021.5 1446.3 1014.9 1468.4 1014.2 1489.7 C1013.5 1511.1 1018.6 1537.6 1023.0 1556.0 C1027.4 1574.4 1037.7 1592.8 1040.7 1600.2" fill="none" stroke="#777" stroke-width="3.8000000000000003" stroke-linecap="round"/>
<path d="M1098.1 1224.7 C1093.7 1232.1 1077.5 1251.9 1071.6 1268.9 C1065.7 1285.8 1066.5 1307.9 1062.8 1326.3 C1059.1 1344.7 1055.4 1362.4 1049.5 1379.3 C1043.6 1396.2 1033.3 1409.5 1027.4 1427.9 C1021.5 1446.3 1014.9 1468.4 1014.2 1489.7 C1013.5 1511.1 1018.6 1537.6 1023.0 1556.0 C1027.4 1574.4 1037.7 1592.8 1040.7 1600.2" fill="none" stroke="#e4e4e4" stroke-width="2.2" stroke-linecap="round"/>
<path d="M1099.9 1223.6 C1095.5 1231.0 1079.3 1250.9 1073.4 1267.8 C1067.5 1284.7 1068.3 1306.8 1064.6 1325.2 C1060.9 1343.6 1057.2 1361.3 1051.3 1378.2 C1045.4 1395.2 1035.1 1408.4 1029.2 1426.8 C1023.3 1445.2 1016.7 1467.3 1016.0 1488.6 C1015.3 1510.0 1020.4 1536.5 1024.8 1554.9 C1029.2 1573.3 1039.5 1591.7 1042.5 1599.1" fill="none" stroke="#777" stroke-width="3.8000000000000003" stroke-linecap="round"/>
<path d="M1099.9 1223.6 C1095.5 1231.0 1079.3 1250.9 1073.4 1267.8 C1067.5 1284.7 1068.3 1306.8 1064.6 1325.2 C1060.9 1343.6 1057.2 1361.3 1051.3 1378.2 C1045.4 1395.2 1035.1 1408.4 1029.2 1426.8 C1023.3 1445.2 1016.7 1467.3 1016.0 1488.6 C1015.3 1510.0 1020.4 1536.5 1024.8 1554.9 C1029.2 1573.3 1039.5 1591.7 1042.5 1599.1" fill="none" stroke="#e4e4e4" stroke-width="2.2" stroke-linecap="round"/>
<path d="M1101.7 1222.5 C1097.3 1229.9 1081.1 1249.8 1075.2 1266.7 C1069.3 1283.7 1070.1 1305.7 1066.4 1324.1 C1062.7 1342.5 1059.0 1360.2 1053.1 1377.1 C1047.2 1394.1 1036.9 1407.3 1031.0 1425.7 C1025.1 1444.1 1018.5 1466.2 1017.8 1487.6 C1017.1 1508.9 1022.2 1535.4 1026.6 1553.8 C1031.0 1572.2 1041.3 1590.6 1044.3 1598.0" fill="none" stroke="#777" stroke-width="3.8000000000000003" stroke-linecap="round"/>
<path d="M1101.7 1222.5 C1097.3 1229.9 1081.1 1249.8 1075.2 1266.7 C1069.3 1283.7 1070.1 1305.7 1066.4 1324.1 C1062.7 1342.5 1059.0 1360.2 1053.1 1377.1 C1047.2 1394.1 1036.9 1407.3 1031.0 1425.7 C1025.1 1444.1 1018.5 1466.2 1017.8 1487.6 C1017.1 1508.9 1022.2 1535.4 1026.6 1553.8 C1031.0 1572.2 1041.3 1590.6 1044.3 1598.0" fill="none" stroke="#e4e4e4" stroke-width="2.2" stroke-linecap="round"/>
<path d="M1096.3 1225.8 C1102.9 1224.3 1122.1 1215.5 1136.1 1217.0 C1150.1 1218.4 1166.2 1233.2 1180.2 1234.6 C1194.2 1236.1 1208.9 1229.5 1220.0 1225.8 C1231.0 1222.1 1242.1 1214.7 1246.5 1212.5" fill="none" stroke="#777" stroke-width="3.8000000000000003" stroke-linecap="round"/>
<path d="M1096.3 1225.8 C1102.9 1224.3 1122.1 1215.5 1136.1 1217.0 C1150.1 1218.4 1166.2 1233.2 1180.2 1234.6 C1194.2 1236.1 1208.9 1229.5 1220.0 1225.8 C1231.0 1222.1 1242.1 1214.7 1246.5 1212.5" fill="none" stroke="#e4e4e4" stroke-width="2.2" stroke-linecap="round"/>
<path d="M1098.1 1224.7 C1104.7 1223.2 1123.9 1214.4 1137.9 1215.9 C1151.9 1217.3 1168.0 1232.1 1182.0 1233.5 C1196.0 1235.0 1210.7 1228.4 1221.8 1224.7 C1232.8 1221.0 1243.9 1213.7 1248.3 1211.5" fill="none" stroke="#777" stroke-width="3.8000000000000003" stroke-linecap="round"/>
<path d="M1098.1 1224.7 C1104.7 1223.2 1123.9 1214.4 1137.9 1215.9 C1151.9 1217.3 1168.0 1232.1 1182.0 1233.5 C1196.0 1235.0 1210.7 1228.4 1221.8 1224.7 C1232.8 1221.0 1243.9 1213.7 1248.3 1211.5" fill="none" stroke="#e4e4e4" stroke-width="2.2" stroke-linecap="round"/>
<path d="M1099.9 1223.6 C1106.5 1222.2 1125.7 1213.3 1139.7 1214.8 C1153.7 1216.3 1169.8 1231.0 1183.8 1232.5 C1197.8 1233.9 1212.5 1227.3 1223.6 1223.6 C1234.6 1219.9 1245.7 1212.6 1250.1 1210.4" fill="none" stroke="#777" stroke-width="3.8000000000000003" stroke-linecap="round"/>
<path d="M1099.9 1223.6 C1106.5 1222.2 1125.7 1213.3 1139.7 1214.8 C1153.7 1216.3 1169.8 1231.0 1183.8 1232.5 C1197.8 1233.9 1212.5 1227.3 1223.6 1223.6 C1234.6 1219.9 1245.7 1212.6 1250.1 1210.4" fill="none" stroke="#e4e4e4" stroke-width="2.2" stroke-linecap="round"/>
<path d="M1101.7 1222.5 C1108.3 1221.1 1127.5 1212.2 1141.5 1213.7 C1155.5 1215.2 1171.6 1229.9 1185.6 1231.4 C1199.6 1232.9 1214.3 1226.2 1225.4 1222.5 C1236.4 1218.9 1247.5 1211.5 1251.9 1209.3" fill="none" stroke="#777" stroke-width="3.8000000000000003" stroke-linecap="round"/>
<path d="M1101.7 1222.5 C1108.3 1221.1 1127.5 1212.2 1141.5 1213.7 C1155.5 1215.2 1171.6 1229.9 1185.6 1231.4 C1199.6 1232.9 1214.3 1226.2 1225.4 1222.5 C1236.4 1218.9 1247.5 1211.5 1251.9 1209.3" fill="none" stroke="#e4e4e4" stroke-width="2.2" stroke-linecap="round"/>
<path d="M1184.6 1270.0 C1189.1 1274.4 1200.8 1292.8 1211.2 1296.5 C1221.5 1300.1 1240.6 1292.8 1246.5 1292.0" fill="none" stroke="#777" stroke-width="3.8000000000000003" stroke-linecap="round"/>
<path d="M1184.6 1270.0 C1189.1 1274.4 1200.8 1292.8 1211.2 1296.5 C1221.5 1300.1 1240.6 1292.8 1246.5 1292.0" fill="none" stroke="#e4e4e4" stroke-width="2.2" stroke-linecap="round"/>
<path d="M1186.4 1268.9 C1190.9 1273.3 1202.6 1291.7 1213.0 1295.4 C1223.3 1299.1 1242.4 1291.7 1248.3 1291.0" fill="none" stroke="#777" stroke-width="3.8000000000000003" stroke-linecap="round"/>
<path d="M1186.4 1268.9 C1190.9 1273.3 1202.6 1291.7 1213.0 1295.4 C1223.3 1299.1 1242.4 1291.7 1248.3 1291.0" fill="none" stroke="#e4e4e4" stroke-width="2.2" stroke-linecap="round"/>
<path d="M1188.2 1267.8 C1192.7 1272.2 1204.4 1290.6 1214.8 1294.3 C1225.1 1298.0 1244.2 1290.6 1250.1 1289.9" fill="none" stroke="#777" stroke-width="3.8000000000000003" stroke-linecap="round"/>
<path d="M1188.2 1267.8 C1192.7 1272.2 1204.4 1290.6 1214.8 1294.3 C1225.1 1298.0 1244.2 1290.6 1250.1 1289.9" fill="none" stroke="#e4e4e4" stroke-width="2.2" stroke-linecap="round"/>
<path d="M1190.0 1266.7 C1194.5 1271.1 1206.2 1289.5 1216.6 1293.2 C1226.9 1296.9 1246.0 1289.5 1251.9 1288.8" fill="none" stroke="#777" stroke-width="3.8000000000000003" stroke-linecap="round"/>
<path d="M1190.0 1266.7 C1194.5 1271.1 1206.2 1289.5 1216.6 1293.2 C1226.9 1296.9 1246.0 1289.5 1251.9 1288.8" fill="none" stroke="#e4e4e4" stroke-width="2.2" stroke-linecap="round"/>
<path d="M1317.2 1278.8 C1320.1 1272.9 1326.7 1250.8 1334.8 1243.5 C1342.9 1236.1 1359.9 1233.9 1365.7 1234.6 C1371.6 1235.4 1373.8 1242.0 1370.2 1247.9 C1366.5 1253.8 1351.0 1258.9 1343.7 1270.0 C1336.3 1281.0 1327.5 1299.4 1326.0 1314.1 C1324.5 1328.9 1333.4 1350.9 1334.8 1358.3" fill="none" stroke="#777" stroke-width="3.8000000000000003" stroke-linecap="round"/>
<path d="M1317.2 1278.8 C1320.1 1272.9 1326.7 1250.8 1334.8 1243.5 C1342.9 1236.1 1359.9 1233.9 1365.7 1234.6 C1371.6 1235.4 1373.8 1242.0 1370.2 1247.9 C1366.5 1253.8 1351.0 1258.9 1343.7 1270.0 C1336.3 1281.0 1327.5 1299.4 1326.0 1314.1 C1324.5 1328.9 1333.4 1350.9 1334.8 1358.3" fill="none" stroke="#e4e4e4" stroke-width="2.2" stroke-linecap="round"/>
<path d="M1319.0 1277.7 C1321.9 1271.8 1328.5 1249.7 1336.6 1242.4 C1344.7 1235.0 1361.7 1232.8 1367.5 1233.5 C1373.4 1234.3 1375.6 1240.9 1372.0 1246.8 C1368.3 1252.7 1352.8 1257.8 1345.5 1268.9 C1338.1 1279.9 1329.3 1298.3 1327.8 1313.0 C1326.3 1327.8 1335.2 1349.9 1336.6 1357.2" fill="none" stroke="#777" stroke-width="3.8000000000000003" stroke-linecap="round"/>
<path d="M1319.0 1277.7 C1321.9 1271.8 1328.5 1249.7 1336.6 1242.4 C1344.7 1235.0 1361.7 1232.8 1367.5 1233.5 C1373.4 1234.3 1375.6 1240.9 1372.0 1246.8 C1368.3 1252.7 1352.8 1257.8 1345.5 1268.9 C1338.1 1279.9 1329.3 1298.3 1327.8 1313.0 C1326.3 1327.8 1335.2 1349.9 1336.6 1357.2" fill="none" stroke="#e4e4e4" stroke-width="2.2" stroke-linecap="round"/>
<path d="M1320.8 1276.6 C1323.7 1270.7 1330.3 1248.7 1338.4 1241.3 C1346.5 1233.9 1363.5 1231.7 1369.3 1232.5 C1375.2 1233.2 1377.4 1239.8 1373.8 1245.7 C1370.1 1251.6 1354.6 1256.8 1347.3 1267.8 C1339.9 1278.8 1331.1 1297.2 1329.6 1312.0 C1328.1 1326.7 1337.0 1348.8 1338.4 1356.1" fill="none" stroke="#777" stroke-width="3.8000000000000003" stroke-linecap="round"/>
<path d="M1320.8 1276.6 C1323.7 1270.7 1330.3 1248.7 1338.4 1241.3 C1346.5 1233.9 1363.5 1231.7 1369.3 1232.5 C1375.2 1233.2 1377.4 1239.8 1373.8 1245.7 C1370.1 1251.6 1354.6 1256.8 1347.3 1267.8 C1339.9 1278.8 1331.1 1297.2 1329.6 1312.0 C1328.1 1326.7 1337.0 1348.8 1338.4 1356.1" fill="none" stroke="#e4e4e4" stroke-width="2.2" stroke-linecap="round"/>
<path d="M1322.6 1275.6 C1325.5 1269.7 1332.1 1247.6 1340.2 1240.2 C1348.3 1232.9 1365.3 1230.6 1371.1 1231.4 C1377.0 1232.1 1379.2 1238.7 1375.6 1244.6 C1371.9 1250.5 1356.4 1255.7 1349.1 1266.7 C1341.7 1277.8 1332.9 1296.2 1331.4 1310.9 C1329.9 1325.6 1338.8 1347.7 1340.2 1355.1" fill="none" stroke="#777" stroke-width="3.8000000000000003" stroke-linecap="round"/>
<path d="M1322.6 1275.6 C1325.5 1269.7 1332.1 1247.6 1340.2 1240.2 C1348.3 1232.9 1365.3 1230.6 1371.1 1231.4 C1377.0 1232.1 1379.2 1238.7 1375.6 1244.6 C1371.9 1250.5 1356.4 1255.7 1349.1 1266.7 C1341.7 1277.8 1332.9 1296.2 1331.4 1310.9 C1329.9 1325.6 1338.8 1347.7 1340.2 1355.1" fill="none" stroke="#e4e4e4" stroke-width="2.2" stroke-linecap="round"/>
<path d="M1326.0 1314.1 C1331.9 1312.7 1350.3 1305.3 1361.3 1305.3 C1372.4 1305.3 1384.9 1309.0 1392.2 1314.1 C1399.6 1319.3 1398.9 1330.3 1405.5 1336.2 C1412.1 1342.1 1425.4 1342.8 1432.0 1349.5 C1438.6 1356.1 1443.0 1371.5 1445.3 1376.0" fill="none" stroke="#777" stroke-width="3.8000000000000003" stroke-linecap="round"/>
<path d="M1326.0 1314.1 C1331.9 1312.7 1350.3 1305.3 1361.3 1305.3 C1372.4 1305.3 1384.9 1309.0 1392.2 1314.1 C1399.6 1319.3 1398.9 1330.3 1405.5 1336.2 C1412.1 1342.1 1425.4 1342.8 1432.0 1349.5 C1438.6 1356.1 1443.0 1371.5 1445.3 1376.0" fill="none" stroke="#e4e4e4" stroke-width="2.2" stroke-linecap="round"/>
<path d="M1327.8 1313.0 C1333.7 1311.6 1352.1 1304.2 1363.1 1304.2 C1374.2 1304.2 1386.7 1307.9 1394.0 1313.0 C1401.4 1318.2 1400.7 1329.2 1407.3 1335.1 C1413.9 1341.0 1427.2 1341.8 1433.8 1348.4 C1440.4 1355.0 1444.8 1370.5 1447.1 1374.9" fill="none" stroke="#777" stroke-width="3.8000000000000003" stroke-linecap="round"/>
<path d="M1327.8 1313.0 C1333.7 1311.6 1352.1 1304.2 1363.1 1304.2 C1374.2 1304.2 1386.7 1307.9 1394.0 1313.0 C1401.4 1318.2 1400.7 1329.2 1407.3 1335.1 C1413.9 1341.0 1427.2 1341.8 1433.8 1348.4 C1440.4 1355.0 1444.8 1370.5 1447.1 1374.9" fill="none" stroke="#e4e4e4" stroke-width="2.2" stroke-linecap="round"/>
<path d="M1329.6 1312.0 C1335.5 1310.5 1353.9 1303.1 1364.9 1303.1 C1376.0 1303.1 1388.5 1306.8 1395.8 1312.0 C1403.2 1317.1 1402.5 1328.2 1409.1 1334.1 C1415.7 1339.9 1429.0 1340.7 1435.6 1347.3 C1442.2 1353.9 1446.6 1369.4 1448.9 1373.8" fill="none" stroke="#777" stroke-width="3.8000000000000003" stroke-linecap="round"/>
<path d="M1329.6 1312.0 C1335.5 1310.5 1353.9 1303.1 1364.9 1303.1 C1376.0 1303.1 1388.5 1306.8 1395.8 1312.0 C1403.2 1317.1 1402.5 1328.2 1409.1 1334.1 C1415.7 1339.9 1429.0 1340.7 1435.6 1347.3 C1442.2 1353.9 1446.6 1369.4 1448.9 1373.8" fill="none" stroke="#e4e4e4" stroke-width="2.2" stroke-linecap="round"/>
<path d="M1331.4 1310.9 C1337.3 1309.4 1355.7 1302.1 1366.7 1302.1 C1377.8 1302.1 1390.3 1305.7 1397.6 1310.9 C1405.0 1316.0 1404.3 1327.1 1410.9 1333.0 C1417.5 1338.9 1430.8 1339.6 1437.4 1346.2 C1444.0 1352.8 1448.4 1368.3 1450.7 1372.7" fill="none" stroke="#777" stroke-width="3.8000000000000003" stroke-linecap="round"/>
<path d="M1331.4 1310.9 C1337.3 1309.4 1355.7 1302.1 1366.7 1302.1 C1377.8 1302.1 1390.3 1305.7 1397.6 1310.9 C1405.0 1316.0 1404.3 1327.1 1410.9 1333.0 C1417.5 1338.9 1430.8 1339.6 1437.4 1346.2 C1444.0 1352.8 1448.4 1368.3 1450.7 1372.7" fill="none" stroke="#e4e4e4" stroke-width="2.2" stroke-linecap="round"/>
<path d="M1546.8 1349.5 C1552.7 1350.9 1575.6 1353.9 1582.2 1358.3 C1588.8 1362.7 1589.5 1370.8 1586.6 1376.0 C1583.6 1381.1 1568.2 1387.0 1564.5 1389.2" fill="none" stroke="#777" stroke-width="3.8000000000000003" stroke-linecap="round"/>
<path d="M1546.8 1349.5 C1552.7 1350.9 1575.6 1353.9 1582.2 1358.3 C1588.8 1362.7 1589.5 1370.8 1586.6 1376.0 C1583.6 1381.1 1568.2 1387.0 1564.5 1389.2" fill="none" stroke="#e4e4e4" stroke-width="2.2" stroke-linecap="round"/>
<path d="M1548.6 1348.4 C1554.5 1349.9 1577.4 1352.8 1584.0 1357.2 C1590.6 1361.6 1591.3 1369.7 1588.4 1374.9 C1585.4 1380.0 1570.0 1385.9 1566.3 1388.1" fill="none" stroke="#777" stroke-width="3.8000000000000003" stroke-linecap="round"/>
<path d="M1548.6 1348.4 C1554.5 1349.9 1577.4 1352.8 1584.0 1357.2 C1590.6 1361.6 1591.3 1369.7 1588.4 1374.9 C1585.4 1380.0 1570.0 1385.9 1566.3 1388.1" fill="none" stroke="#e4e4e4" stroke-width="2.2" stroke-linecap="round"/>
<path d="M1550.4 1347.3 C1556.3 1348.8 1579.2 1351.7 1585.8 1356.1 C1592.4 1360.6 1593.1 1368.7 1590.2 1373.8 C1587.2 1379.0 1571.8 1384.8 1568.1 1387.1" fill="none" stroke="#777" stroke-width="3.8000000000000003" stroke-linecap="round"/>
<path d="M1550.4 1347.3 C1556.3 1348.8 1579.2 1351.7 1585.8 1356.1 C1592.4 1360.6 1593.1 1368.7 1590.2 1373.8 C1587.2 1379.0 1571.8 1384.8 1568.1 1387.1" fill="none" stroke="#e4e4e4" stroke-width="2.2" stroke-linecap="round"/>
<path d="M1552.2 1346.2 C1558.1 1347.7 1581.0 1350.6 1587.6 1355.1 C1594.2 1359.5 1594.9 1367.6 1592.0 1372.7 C1589.0 1377.9 1573.6 1383.8 1569.9 1386.0" fill="none" stroke="#777" stroke-width="3.8000000000000003" stroke-linecap="round"/>
<path d="M1552.2 1346.2 C1558.1 1347.7 1581.0 1350.6 1587.6 1355.1 C1594.2 1359.5 1594.9 1367.6 1592.0 1372.7 C1589.0 1377.9 1573.6 1383.8 1569.9 1386.0" fill="none" stroke="#e4e4e4" stroke-width="2.2" stroke-linecap="round"/>
<path d="M1555.7 1429.0 C1560.8 1429.0 1580.7 1423.1 1586.6 1429.0 C1592.5 1434.9 1596.2 1454.0 1591.0 1464.3 C1585.9 1474.6 1557.9 1480.5 1555.7 1490.8 C1553.5 1501.1 1566.0 1518.8 1577.8 1526.1 C1589.5 1533.5 1619.7 1530.6 1626.3 1535.0 C1633.0 1539.4 1625.6 1545.3 1617.5 1552.6 C1609.4 1560.0 1584.4 1574.7 1577.8 1579.1" fill="none" stroke="#777" stroke-width="3.8000000000000003" stroke-linecap="round"/>
<path d="M1555.7 1429.0 C1560.8 1429.0 1580.7 1423.1 1586.6 1429.0 C1592.5 1434.9 1596.2 1454.0 1591.0 1464.3 C1585.9 1474.6 1557.9 1480.5 1555.7 1490.8 C1553.5 1501.1 1566.0 1518.8 1577.8 1526.1 C1589.5 1533.5 1619.7 1530.6 1626.3 1535.0 C1633.0 1539.4 1625.6 1545.3 1617.5 1552.6 C1609.4 1560.0 1584.4 1574.7 1577.8 1579.1" fill="none" stroke="#e4e4e4" stroke-width="2.2" stroke-linecap="round"/>
<path d="M1557.5 1427.9 C1562.6 1427.9 1582.5 1422.0 1588.4 1427.9 C1594.3 1433.8 1598.0 1452.9 1592.8 1463.2 C1587.7 1473.5 1559.7 1479.4 1557.5 1489.7 C1555.3 1500.0 1567.8 1517.7 1579.6 1525.1 C1591.3 1532.4 1621.5 1529.5 1628.1 1533.9 C1634.8 1538.3 1627.4 1544.2 1619.3 1551.6 C1611.2 1558.9 1586.2 1573.6 1579.6 1578.1" fill="none" stroke="#777" stroke-width="3.8000000000000003" stroke-linecap="round"/>
<path d="M1557.5 1427.9 C1562.6 1427.9 1582.5 1422.0 1588.4 1427.9 C1594.3 1433.8 1598.0 1452.9 1592.8 1463.2 C1587.7 1473.5 1559.7 1479.4 1557.5 1489.7 C1555.3 1500.0 1567.8 1517.7 1579.6 1525.1 C1591.3 1532.4 1621.5 1529.5 1628.1 1533.9 C1634.8 1538.3 1627.4 1544.2 1619.3 1551.6 C1611.2 1558.9 1586.2 1573.6 1579.6 1578.1" fill="none" stroke="#e4e4e4" stroke-width="2.2" stroke-linecap="round"/>
<path d="M1559.3 1426.8 C1564.4 1426.8 1584.3 1420.9 1590.2 1426.8 C1596.1 1432.7 1599.8 1451.8 1594.6 1462.1 C1589.5 1472.5 1561.5 1478.3 1559.3 1488.6 C1557.1 1499.0 1569.6 1516.6 1581.4 1524.0 C1593.1 1531.3 1623.3 1528.4 1629.9 1532.8 C1636.6 1537.2 1629.2 1543.1 1621.1 1550.5 C1613.0 1557.8 1588.0 1572.6 1581.4 1577.0" fill="none" stroke="#777" stroke-width="3.8000000000000003" stroke-linecap="round"/>
<path d="M1559.3 1426.8 C1564.4 1426.8 1584.3 1420.9 1590.2 1426.8 C1596.1 1432.7 1599.8 1451.8 1594.6 1462.1 C1589.5 1472.5 1561.5 1478.3 1559.3 1488.6 C1557.1 1499.0 1569.6 1516.6 1581.4 1524.0 C1593.1 1531.3 1623.3 1528.4 1629.9 1532.8 C1636.6 1537.2 1629.2 1543.1 1621.1 1550.5 C1613.0 1557.8 1588.0 1572.6 1581.4 1577.0" fill="none" stroke="#e4e4e4" stroke-width="2.2" stroke-linecap="round"/>
<path d="M1561.1 1425.7 C1566.2 1425.7 1586.1 1419.8 1592.0 1425.7 C1597.9 1431.6 1601.6 1450.8 1596.4 1461.1 C1591.3 1471.4 1563.3 1477.3 1561.1 1487.6 C1558.9 1497.9 1571.4 1515.5 1583.2 1522.9 C1594.9 1530.3 1625.1 1527.3 1631.7 1531.7 C1638.4 1536.2 1631.0 1542.0 1622.9 1549.4 C1614.8 1556.8 1589.8 1571.5 1583.2 1575.9" fill="none" stroke="#777" stroke-width="3.8000000000000003" stroke-linecap="round"/>
<path d="M1561.1 1425.7 C1566.2 1425.7 1586.1 1419.8 1592.0 1425.7 C1597.9 1431.6 1601.6 1450.8 1596.4 1461.1 C1591.3 1471.4 1563.3 1477.3 1561.1 1487.6 C1558.9 1497.9 1571.4 1515.5 1583.2 1522.9 C1594.9 1530.3 1625.1 1527.3 1631.7 1531.7 C1638.4 1536.2 1631.0 1542.0 1622.9 1549.4 C1614.8 1556.8 1589.8 1571.5 1583.2 1575.9" fill="none" stroke="#e4e4e4" stroke-width="2.2" stroke-linecap="round"/>
<path d="M1149.3 1623.3 C1155.2 1630.7 1172.1 1657.9 1184.6 1667.5 C1197.2 1677.1 1209.7 1680.7 1224.4 1680.7 C1239.1 1680.7 1261.9 1677.1 1273.0 1667.5 C1284.0 1657.9 1281.8 1635.1 1290.7 1623.3 C1299.5 1611.5 1315.0 1596.8 1326.0 1596.8 C1337.0 1596.8 1348.1 1611.5 1356.9 1623.3 C1365.7 1635.1 1368.0 1657.9 1379.0 1667.5 C1390.0 1677.1 1412.1 1684.4 1423.2 1680.7 C1434.2 1677.1 1441.6 1651.3 1445.3 1645.4" fill="none" stroke="#777" stroke-width="3.8000000000000003" stroke-linecap="round"/>
<path d="M1149.3 1623.3 C1155.2 1630.7 1172.1 1657.9 1184.6 1667.5 C1197.2 1677.1 1209.7 1680.7 1224.4 1680.7 C1239.1 1680.7 1261.9 1677.1 1273.0 1667.5 C1284.0 1657.9 1281.8 1635.1 1290.7 1623.3 C1299.5 1611.5 1315.0 1596.8 1326.0 1596.8 C1337.0 1596.8 1348.1 1611.5 1356.9 1623.3 C1365.7 1635.1 1368.0 1657.9 1379.0 1667.5 C1390.0 1677.1 1412.1 1684.4 1423.2 1680.7 C1434.2 1677.1 1441.6 1651.3 1445.3 1645.4" fill="none" stroke="#e4e4e4" stroke-width="2.2" stroke-linecap="round"/>
<path d="M1151.1 1622.2 C1157.0 1629.6 1173.9 1656.8 1186.4 1666.4 C1199.0 1676.0 1211.5 1679.7 1226.2 1679.7 C1240.9 1679.7 1263.7 1676.0 1274.8 1666.4 C1285.8 1656.8 1283.6 1634.0 1292.5 1622.2 C1301.3 1610.5 1316.8 1595.7 1327.8 1595.7 C1338.8 1595.7 1349.9 1610.5 1358.7 1622.2 C1367.5 1634.0 1369.8 1656.8 1380.8 1666.4 C1391.8 1676.0 1413.9 1683.3 1425.0 1679.7 C1436.0 1676.0 1443.4 1650.2 1447.1 1644.3" fill="none" stroke="#777" stroke-width="3.8000000000000003" stroke-linecap="round"/>
<path d="M1151.1 1622.2 C1157.0 1629.6 1173.9 1656.8 1186.4 1666.4 C1199.0 1676.0 1211.5 1679.7 1226.2 1679.7 C1240.9 1679.7 1263.7 1676.0 1274.8 1666.4 C1285.8 1656.8 1283.6 1634.0 1292.5 1622.2 C1301.3 1610.5 1316.8 1595.7 1327.8 1595.7 C1338.8 1595.7 1349.9 1610.5 1358.7 1622.2 C1367.5 1634.0 1369.8 1656.8 1380.8 1666.4 C1391.8 1676.0 1413.9 1683.3 1425.0 1679.7 C1436.0 1676.0 1443.4 1650.2 1447.1 1644.3" fill="none" stroke="#e4e4e4" stroke-width="2.2" stroke-linecap="round"/>
<path d="M1152.9 1621.2 C1158.8 1628.5 1175.7 1655.8 1188.2 1665.3 C1200.8 1674.9 1213.3 1678.6 1228.0 1678.6 C1242.7 1678.6 1265.5 1674.9 1276.6 1665.3 C1287.6 1655.8 1285.4 1632.9 1294.3 1621.2 C1303.1 1609.4 1318.6 1594.7 1329.6 1594.7 C1340.6 1594.7 1351.7 1609.4 1360.5 1621.2 C1369.3 1632.9 1371.6 1655.8 1382.6 1665.3 C1393.6 1674.9 1415.7 1682.3 1426.8 1678.6 C1437.8 1674.9 1445.2 1649.1 1448.9 1643.2" fill="none" stroke="#777" stroke-width="3.8000000000000003" stroke-linecap="round"/>
<path d="M1152.9 1621.2 C1158.8 1628.5 1175.7 1655.8 1188.2 1665.3 C1200.8 1674.9 1213.3 1678.6 1228.0 1678.6 C1242.7 1678.6 1265.5 1674.9 1276.6 1665.3 C1287.6 1655.8 1285.4 1632.9 1294.3 1621.2 C1303.1 1609.4 1318.6 1594.7 1329.6 1594.7 C1340.6 1594.7 1351.7 1609.4 1360.5 1621.2 C1369.3 1632.9 1371.6 1655.8 1382.6 1665.3 C1393.6 1674.9 1415.7 1682.3 1426.8 1678.6 C1437.8 1674.9 1445.2 1649.1 1448.9 1643.2" fill="none" stroke="#e4e4e4" stroke-width="2.2" stroke-linecap="round"/>
<path d="M1154.7 1620.1 C1160.6 1627.4 1177.5 1654.7 1190.0 1664.2 C1202.6 1673.8 1215.1 1677.5 1229.8 1677.5 C1244.5 1677.5 1267.3 1673.8 1278.4 1664.2 C1289.4 1654.7 1287.2 1631.9 1296.1 1620.1 C1304.9 1608.3 1320.4 1593.6 1331.4 1593.6 C1342.4 1593.6 1353.5 1608.3 1362.3 1620.1 C1371.1 1631.9 1373.4 1654.7 1384.4 1664.2 C1395.4 1673.8 1417.5 1681.2 1428.6 1677.5 C1439.6 1673.8 1447.0 1648.1 1450.7 1642.2" fill="none" stroke="#777" stroke-width="3.8000000000000003" stroke-linecap="round"/>
<path d="M1154.7 1620.1 C1160.6 1627.4 1177.5 1654.7 1190.0 1664.2 C1202.6 1673.8 1215.1 1677.5 1229.8 1677.5 C1244.5 1677.5 1267.3 1673.8 1278.4 1664.2 C1289.4 1654.7 1287.2 1631.9 1296.1 1620.1 C1304.9 1608.3 1320.4 1593.6 1331.4 1593.6 C1342.4 1593.6 1353.5 1608.3 1362.3 1620.1 C1371.1 1631.9 1373.4 1654.7 1384.4 1664.2 C1395.4 1673.8 1417.5 1681.2 1428.6 1677.5 C1439.6 1673.8 1447.0 1648.1 1450.7 1642.2" fill="none" stroke="#e4e4e4" stroke-width="2.2" stroke-linecap="round"/>
<path d="M1143.8 1712.3 C1146.1 1717.4 1153.4 1734.0 1157.1 1743.2 C1160.8 1752.4 1164.5 1763.4 1165.9 1767.5" fill="none" stroke="#777" stroke-width="3.8000000000000003" stroke-linecap="round"/>
<path d="M1143.8 1712.3 C1146.1 1717.4 1153.4 1734.0 1157.1 1743.2 C1160.8 1752.4 1164.5 1763.4 1165.9 1767.5" fill="none" stroke="#e4e4e4" stroke-width="2.2" stroke-linecap="round"/>
<path d="M1146.3 1710.8 C1148.6 1715.9 1155.9 1732.5 1159.6 1741.7 C1163.3 1750.9 1167.0 1761.9 1168.4 1766.0" fill="none" stroke="#777" stroke-width="3.8000000000000003" stroke-linecap="round"/>
<path d="M1146.3 1710.8 C1148.6 1715.9 1155.9 1732.5 1159.6 1741.7 C1163.3 1750.9 1167.0 1761.9 1168.4 1766.0" fill="none" stroke="#e4e4e4" stroke-width="2.2" stroke-linecap="round"/>
<path d="M1148.8 1709.3 C1151.1 1714.4 1158.4 1731.0 1162.1 1740.2 C1165.8 1749.4 1169.5 1760.4 1170.9 1764.5" fill="none" stroke="#777" stroke-width="3.8000000000000003" stroke-linecap="round"/>
<path d="M1148.8 1709.3 C1151.1 1714.4 1158.4 1731.0 1162.1 1740.2 C1165.8 1749.4 1169.5 1760.4 1170.9 1764.5" fill="none" stroke="#e4e4e4" stroke-width="2.2" stroke-linecap="round"/>
<path d="M1151.3 1707.8 C1153.6 1712.9 1160.9 1729.5 1164.6 1738.7 C1168.3 1747.9 1172.0 1758.9 1173.4 1763.0" fill="none" stroke="#777" stroke-width="3.8000000000000003" stroke-linecap="round"/>
<path d="M1151.3 1707.8 C1153.6 1712.9 1160.9 1729.5 1164.6 1738.7 C1168.3 1747.9 1172.0 1758.9 1173.4 1763.0" fill="none" stroke="#e4e4e4" stroke-width="2.2" stroke-linecap="round"/>
<path d="M1069.8 1689.6 C1068.3 1699.9 1055.1 1740.4 1061.0 1751.4 C1066.9 1762.5 1091.9 1761.0 1105.1 1755.8 C1118.4 1750.7 1134.6 1726.4 1140.5 1720.5" fill="none" stroke="#777" stroke-width="3.8000000000000003" stroke-linecap="round"/>
<path d="M1069.8 1689.6 C1068.3 1699.9 1055.1 1740.4 1061.0 1751.4 C1066.9 1762.5 1091.9 1761.0 1105.1 1755.8 C1118.4 1750.7 1134.6 1726.4 1140.5 1720.5" fill="none" stroke="#e4e4e4" stroke-width="2.2" stroke-linecap="round"/>
<path d="M1071.6 1688.5 C1070.1 1698.8 1056.9 1739.3 1062.8 1750.3 C1068.7 1761.4 1093.7 1759.9 1106.9 1754.7 C1120.2 1749.6 1136.4 1725.3 1142.3 1719.4" fill="none" stroke="#777" stroke-width="3.8000000000000003" stroke-linecap="round"/>
<path d="M1071.6 1688.5 C1070.1 1698.8 1056.9 1739.3 1062.8 1750.3 C1068.7 1761.4 1093.7 1759.9 1106.9 1754.7 C1120.2 1749.6 1136.4 1725.3 1142.3 1719.4" fill="none" stroke="#e4e4e4" stroke-width="2.2" stroke-linecap="round"/>
<path d="M1073.4 1687.4 C1071.9 1697.7 1058.7 1738.2 1064.6 1749.2 C1070.5 1760.3 1095.5 1758.8 1108.7 1753.7 C1122.0 1748.5 1138.2 1724.2 1144.1 1718.3" fill="none" stroke="#777" stroke-width="3.8000000000000003" stroke-linecap="round"/>
<path d="M1073.4 1687.4 C1071.9 1697.7 1058.7 1738.2 1064.6 1749.2 C1070.5 1760.3 1095.5 1758.8 1108.7 1753.7 C1122.0 1748.5 1138.2 1724.2 1144.1 1718.3" fill="none" stroke="#e4e4e4" stroke-width="2.2" stroke-linecap="round"/>
<path d="M1075.2 1686.3 C1073.7 1696.6 1060.5 1737.1 1066.4 1748.2 C1072.3 1759.2 1097.3 1757.7 1110.5 1752.6 C1123.8 1747.4 1140.0 1723.1 1145.9 1717.2" fill="none" stroke="#777" stroke-width="3.8000000000000003" stroke-linecap="round"/>
<path d="M1075.2 1686.3 C1073.7 1696.6 1060.5 1737.1 1066.4 1748.2 C1072.3 1759.2 1097.3 1757.7 1110.5 1752.6 C1123.8 1747.4 1140.0 1723.1 1145.9 1717.2" fill="none" stroke="#e4e4e4" stroke-width="2.2" stroke-linecap="round"/>
<path d="M1220.0 1468.7 C1224.4 1476.1 1240.6 1494.5 1246.5 1512.9 C1252.4 1531.3 1256.8 1560.7 1255.3 1579.1 C1253.8 1597.6 1245.0 1612.3 1237.7 1623.3 C1230.3 1634.4 1215.6 1641.7 1211.2 1645.4" fill="none" stroke="#777" stroke-width="3.8000000000000003" stroke-linecap="round"/>
<path d="M1220.0 1468.7 C1224.4 1476.1 1240.6 1494.5 1246.5 1512.9 C1252.4 1531.3 1256.8 1560.7 1255.3 1579.1 C1253.8 1597.6 1245.0 1612.3 1237.7 1623.3 C1230.3 1634.4 1215.6 1641.7 1211.2 1645.4" fill="none" stroke="#e4e4e4" stroke-width="2.2" stroke-linecap="round"/>
<path d="M1221.8 1467.6 C1226.2 1475.0 1242.4 1493.4 1248.3 1511.8 C1254.2 1530.2 1258.6 1559.7 1257.1 1578.1 C1255.6 1596.5 1246.8 1611.2 1239.5 1622.2 C1232.1 1633.3 1217.4 1640.6 1213.0 1644.3" fill="none" stroke="#777" stroke-width="3.8000000000000003" stroke-linecap="round"/>
<path d="M1221.8 1467.6 C1226.2 1475.0 1242.4 1493.4 1248.3 1511.8 C1254.2 1530.2 1258.6 1559.7 1257.1 1578.1 C1255.6 1596.5 1246.8 1611.2 1239.5 1622.2 C1232.1 1633.3 1217.4 1640.6 1213.0 1644.3" fill="none" stroke="#e4e4e4" stroke-width="2.2" stroke-linecap="round"/>
<path d="M1223.6 1466.6 C1228.0 1473.9 1244.2 1492.3 1250.1 1510.7 C1256.0 1529.1 1260.4 1558.6 1258.9 1577.0 C1257.4 1595.4 1248.6 1610.1 1241.3 1621.2 C1233.9 1632.2 1219.2 1639.6 1214.8 1643.2" fill="none" stroke="#777" stroke-width="3.8000000000000003" stroke-linecap="round"/>
<path d="M1223.6 1466.6 C1228.0 1473.9 1244.2 1492.3 1250.1 1510.7 C1256.0 1529.1 1260.4 1558.6 1258.9 1577.0 C1257.4 1595.4 1248.6 1610.1 1241.3 1621.2 C1233.9 1632.2 1219.2 1639.6 1214.8 1643.2" fill="none" stroke="#e4e4e4" stroke-width="2.2" stroke-linecap="round"/>
<path d="M1225.4 1465.5 C1229.8 1472.8 1246.0 1491.2 1251.9 1509.7 C1257.8 1528.1 1262.2 1557.5 1260.7 1575.9 C1259.2 1594.3 1250.4 1609.0 1243.1 1620.1 C1235.7 1631.1 1221.0 1638.5 1216.6 1642.2" fill="none" stroke="#777" stroke-width="3.8000000000000003" stroke-linecap="round"/>
<path d="M1225.4 1465.5 C1229.8 1472.8 1246.0 1491.2 1251.9 1509.7 C1257.8 1528.1 1262.2 1557.5 1260.7 1575.9 C1259.2 1594.3 1250.4 1609.0 1243.1 1620.1 C1235.7 1631.1 1221.0 1638.5 1216.6 1642.2" fill="none" stroke="#e4e4e4" stroke-width="2.2" stroke-linecap="round"/>
<path d="M1008.0 1490.8 C1010.9 1498.2 1019.0 1520.3 1025.6 1535.0 C1032.3 1549.7 1040.4 1564.4 1047.7 1579.1 C1055.1 1593.9 1066.1 1616.0 1069.8 1623.3" fill="none" stroke="#777" stroke-width="3.8000000000000003" stroke-linecap="round"/>
<path d="M1008.0 1490.8 C1010.9 1498.2 1019.0 1520.3 1025.6 1535.0 C1032.3 1549.7 1040.4 1564.4 1047.7 1579.1 C1055.1 1593.9 1066.1 1616.0 1069.8 1623.3" fill="none" stroke="#e4e4e4" stroke-width="2.2" stroke-linecap="round"/>
<path d="M1009.8 1489.7 C1012.7 1497.1 1020.8 1519.2 1027.4 1533.9 C1034.1 1548.6 1042.2 1563.3 1049.5 1578.1 C1056.9 1592.8 1067.9 1614.9 1071.6 1622.2" fill="none" stroke="#777" stroke-width="3.8000000000000003" stroke-linecap="round"/>
<path d="M1009.8 1489.7 C1012.7 1497.1 1020.8 1519.2 1027.4 1533.9 C1034.1 1548.6 1042.2 1563.3 1049.5 1578.1 C1056.9 1592.8 1067.9 1614.9 1071.6 1622.2" fill="none" stroke="#e4e4e4" stroke-width="2.2" stroke-linecap="round"/>
<path d="M1011.6 1488.6 C1014.5 1496.0 1022.6 1518.1 1029.2 1532.8 C1035.9 1547.5 1044.0 1562.3 1051.3 1577.0 C1058.7 1591.7 1069.7 1613.8 1073.4 1621.2" fill="none" stroke="#777" stroke-width="3.8000000000000003" stroke-linecap="round"/>
<path d="M1011.6 1488.6 C1014.5 1496.0 1022.6 1518.1 1029.2 1532.8 C1035.9 1547.5 1044.0 1562.3 1051.3 1577.0 C1058.7 1591.7 1069.7 1613.8 1073.4 1621.2" fill="none" stroke="#e4e4e4" stroke-width="2.2" stroke-linecap="round"/>
<path d="M1013.4 1487.6 C1016.3 1494.9 1024.4 1517.0 1031.0 1531.7 C1037.7 1546.5 1045.8 1561.2 1053.1 1575.9 C1060.5 1590.6 1071.5 1612.7 1075.2 1620.1" fill="none" stroke="#777" stroke-width="3.8000000000000003" stroke-linecap="round"/>
<path d="M1013.4 1487.6 C1016.3 1494.9 1024.4 1517.0 1031.0 1531.7 C1037.7 1546.5 1045.8 1561.2 1053.1 1575.9 C1060.5 1590.6 1071.5 1612.7 1075.2 1620.1" fill="none" stroke="#e4e4e4" stroke-width="2.2" stroke-linecap="round"/>
<path d="M1326.0 1557.1 C1333.4 1554.9 1357.6 1550.4 1370.2 1543.8 C1382.7 1537.2 1392.2 1526.1 1401.1 1517.3 C1409.9 1508.5 1419.5 1495.2 1423.2 1490.8" fill="none" stroke="#777" stroke-width="3.8000000000000003" stroke-linecap="round"/>
<path d="M1326.0 1557.1 C1333.4 1554.9 1357.6 1550.4 1370.2 1543.8 C1382.7 1537.2 1392.2 1526.1 1401.1 1517.3 C1409.9 1508.5 1419.5 1495.2 1423.2 1490.8" fill="none" stroke="#e4e4e4" stroke-width="2.2" stroke-linecap="round"/>
<path d="M1327.8 1556.0 C1335.2 1553.8 1359.4 1549.4 1372.0 1542.7 C1384.5 1536.1 1394.0 1525.1 1402.9 1516.2 C1411.7 1507.4 1421.3 1494.1 1425.0 1489.7" fill="none" stroke="#777" stroke-width="3.8000000000000003" stroke-linecap="round"/>
<path d="M1327.8 1556.0 C1335.2 1553.8 1359.4 1549.4 1372.0 1542.7 C1384.5 1536.1 1394.0 1525.1 1402.9 1516.2 C1411.7 1507.4 1421.3 1494.1 1425.0 1489.7" fill="none" stroke="#e4e4e4" stroke-width="2.2" stroke-linecap="round"/>
<path d="M1329.6 1554.9 C1337.0 1552.7 1361.2 1548.3 1373.8 1541.7 C1386.3 1535.0 1395.8 1524.0 1404.7 1515.1 C1413.5 1506.3 1423.1 1493.1 1426.8 1488.6" fill="none" stroke="#777" stroke-width="3.8000000000000003" stroke-linecap="round"/>
<path d="M1329.6 1554.9 C1337.0 1552.7 1361.2 1548.3 1373.8 1541.7 C1386.3 1535.0 1395.8 1524.0 1404.7 1515.1 C1413.5 1506.3 1423.1 1493.1 1426.8 1488.6" fill="none" stroke="#e4e4e4" stroke-width="2.2" stroke-linecap="round"/>
<path d="M1331.4 1553.8 C1338.8 1551.6 1363.0 1547.2 1375.6 1540.6 C1388.1 1533.9 1397.6 1522.9 1406.5 1514.1 C1415.3 1505.2 1424.9 1492.0 1428.6 1487.6" fill="none" stroke="#777" stroke-width="3.8000000000000003" stroke-linecap="round"/>
<path d="M1331.4 1553.8 C1338.8 1551.6 1363.0 1547.2 1375.6 1540.6 C1388.1 1533.9 1397.6 1522.9 1406.5 1514.1 C1415.3 1505.2 1424.9 1492.0 1428.6 1487.6" fill="none" stroke="#e4e4e4" stroke-width="2.2" stroke-linecap="round"/>
<path d="M1167.0 1557.1 C1169.9 1564.4 1177.3 1587.2 1184.6 1601.2 C1192.0 1615.2 1200.8 1631.4 1211.2 1641.0 C1221.5 1650.6 1234.7 1657.2 1246.5 1658.7 C1258.3 1660.1 1273.0 1657.2 1281.8 1649.8 C1290.7 1642.5 1293.6 1623.3 1299.5 1614.5 C1305.4 1605.6 1314.2 1599.8 1317.2 1596.8" fill="none" stroke="#777" stroke-width="3.8000000000000003" stroke-linecap="round"/>
<path d="M1167.0 1557.1 C1169.9 1564.4 1177.3 1587.2 1184.6 1601.2 C1192.0 1615.2 1200.8 1631.4 1211.2 1641.0 C1221.5 1650.6 1234.7 1657.2 1246.5 1658.7 C1258.3 1660.1 1273.0 1657.2 1281.8 1649.8 C1290.7 1642.5 1293.6 1623.3 1299.5 1614.5 C1305.4 1605.6 1314.2 1599.8 1317.2 1596.8" fill="none" stroke="#e4e4e4" stroke-width="2.2" stroke-linecap="round"/>
<path d="M1168.8 1556.0 C1171.7 1563.3 1179.1 1586.2 1186.4 1600.2 C1193.8 1614.1 1202.6 1630.3 1213.0 1639.9 C1223.3 1649.5 1236.5 1656.1 1248.3 1657.6 C1260.1 1659.0 1274.8 1656.1 1283.6 1648.7 C1292.5 1641.4 1295.4 1622.2 1301.3 1613.4 C1307.2 1604.6 1316.0 1598.7 1319.0 1595.7" fill="none" stroke="#777" stroke-width="3.8000000000000003" stroke-linecap="round"/>
<path d="M1168.8 1556.0 C1171.7 1563.3 1179.1 1586.2 1186.4 1600.2 C1193.8 1614.1 1202.6 1630.3 1213.0 1639.9 C1223.3 1649.5 1236.5 1656.1 1248.3 1657.6 C1260.1 1659.0 1274.8 1656.1 1283.6 1648.7 C1292.5 1641.4 1295.4 1622.2 1301.3 1613.4 C1307.2 1604.6 1316.0 1598.7 1319.0 1595.7" fill="none" stroke="#e4e4e4" stroke-width="2.2" stroke-linecap="round"/>
<path d="M1170.6 1554.9 C1173.5 1562.3 1180.9 1585.1 1188.2 1599.1 C1195.6 1613.1 1204.4 1629.3 1214.8 1638.8 C1225.1 1648.4 1238.3 1655.0 1250.1 1656.5 C1261.9 1658.0 1276.6 1655.0 1285.4 1647.7 C1294.3 1640.3 1297.2 1621.2 1303.1 1612.3 C1309.0 1603.5 1317.8 1597.6 1320.8 1594.7" fill="none" stroke="#777" stroke-width="3.8000000000000003" stroke-linecap="round"/>
<path d="M1170.6 1554.9 C1173.5 1562.3 1180.9 1585.1 1188.2 1599.1 C1195.6 1613.1 1204.4 1629.3 1214.8 1638.8 C1225.1 1648.4 1238.3 1655.0 1250.1 1656.5 C1261.9 1658.0 1276.6 1655.0 1285.4 1647.7 C1294.3 1640.3 1297.2 1621.2 1303.1 1612.3 C1309.0 1603.5 1317.8 1597.6 1320.8 1594.7" fill="none" stroke="#e4e4e4" stroke-width="2.2" stroke-linecap="round"/>
<path d="M1172.4 1553.8 C1175.3 1561.2 1182.7 1584.0 1190.0 1598.0 C1197.4 1612.0 1206.2 1628.2 1216.6 1637.7 C1226.9 1647.3 1240.1 1653.9 1251.9 1655.4 C1263.7 1656.9 1278.4 1653.9 1287.2 1646.6 C1296.1 1639.2 1299.0 1620.1 1304.9 1611.2 C1310.8 1602.4 1319.6 1596.5 1322.6 1593.6" fill="none" stroke="#777" stroke-width="3.8000000000000003" stroke-linecap="round"/>
<path d="M1172.4 1553.8 C1175.3 1561.2 1182.7 1584.0 1190.0 1598.0 C1197.4 1612.0 1206.2 1628.2 1216.6 1637.7 C1226.9 1647.3 1240.1 1653.9 1251.9 1655.4 C1263.7 1656.9 1278.4 1653.9 1287.2 1646.6 C1296.1 1639.2 1299.0 1620.1 1304.9 1611.2 C1310.8 1602.4 1319.6 1596.5 1322.6 1593.6" fill="none" stroke="#e4e4e4" stroke-width="2.2" stroke-linecap="round"/>
<path d="M1184.6 1543.8 C1190.5 1546.8 1209.7 1551.2 1220.0 1561.5 C1230.3 1571.8 1239.1 1591.7 1246.5 1605.6 C1253.8 1619.6 1256.8 1635.1 1264.2 1645.4 C1271.5 1655.7 1280.4 1665.3 1290.7 1667.5 C1301.0 1669.7 1320.1 1660.1 1326.0 1658.7" fill="none" stroke="#777" stroke-width="3.8000000000000003" stroke-linecap="round"/>
<path d="M1184.6 1543.8 C1190.5 1546.8 1209.7 1551.2 1220.0 1561.5 C1230.3 1571.8 1239.1 1591.7 1246.5 1605.6 C1253.8 1619.6 1256.8 1635.1 1264.2 1645.4 C1271.5 1655.7 1280.4 1665.3 1290.7 1667.5 C1301.0 1669.7 1320.1 1660.1 1326.0 1658.7" fill="none" stroke="#e4e4e4" stroke-width="2.2" stroke-linecap="round"/>
<path d="M1186.4 1542.7 C1192.3 1545.7 1211.5 1550.1 1221.8 1560.4 C1232.1 1570.7 1240.9 1590.6 1248.3 1604.6 C1255.6 1618.6 1258.6 1634.0 1266.0 1644.3 C1273.3 1654.6 1282.2 1664.2 1292.5 1666.4 C1302.8 1668.6 1321.9 1659.0 1327.8 1657.6" fill="none" stroke="#777" stroke-width="3.8000000000000003" stroke-linecap="round"/>
<path d="M1186.4 1542.7 C1192.3 1545.7 1211.5 1550.1 1221.8 1560.4 C1232.1 1570.7 1240.9 1590.6 1248.3 1604.6 C1255.6 1618.6 1258.6 1634.0 1266.0 1644.3 C1273.3 1654.6 1282.2 1664.2 1292.5 1666.4 C1302.8 1668.6 1321.9 1659.0 1327.8 1657.6" fill="none" stroke="#e4e4e4" stroke-width="2.2" stroke-linecap="round"/>
<path d="M1188.2 1541.7 C1194.1 1544.6 1213.3 1549.0 1223.6 1559.3 C1233.9 1569.6 1242.7 1589.5 1250.1 1603.5 C1257.4 1617.5 1260.4 1632.9 1267.8 1643.2 C1275.1 1653.5 1284.0 1663.1 1294.3 1665.3 C1304.6 1667.5 1323.7 1658.0 1329.6 1656.5" fill="none" stroke="#777" stroke-width="3.8000000000000003" stroke-linecap="round"/>
<path d="M1188.2 1541.7 C1194.1 1544.6 1213.3 1549.0 1223.6 1559.3 C1233.9 1569.6 1242.7 1589.5 1250.1 1603.5 C1257.4 1617.5 1260.4 1632.9 1267.8 1643.2 C1275.1 1653.5 1284.0 1663.1 1294.3 1665.3 C1304.6 1667.5 1323.7 1658.0 1329.6 1656.5" fill="none" stroke="#e4e4e4" stroke-width="2.2" stroke-linecap="round"/>
<path d="M1190.0 1540.6 C1195.9 1543.5 1215.1 1547.9 1225.4 1558.2 C1235.7 1568.5 1244.5 1588.4 1251.9 1602.4 C1259.2 1616.4 1262.2 1631.9 1269.6 1642.2 C1276.9 1652.5 1285.8 1662.0 1296.1 1664.2 C1306.4 1666.5 1325.5 1656.9 1331.4 1655.4" fill="none" stroke="#777" stroke-width="3.8000000000000003" stroke-linecap="round"/>
<path d="M1190.0 1540.6 C1195.9 1543.5 1215.1 1547.9 1225.4 1558.2 C1235.7 1568.5 1244.5 1588.4 1251.9 1602.4 C1259.2 1616.4 1262.2 1631.9 1269.6 1642.2 C1276.9 1652.5 1285.8 1662.0 1296.1 1664.2 C1306.4 1666.5 1325.5 1656.9 1331.4 1655.4" fill="none" stroke="#e4e4e4" stroke-width="2.2" stroke-linecap="round"/>
<path d="M1317.2 1596.8 C1320.1 1601.2 1327.5 1616.0 1334.8 1623.3 C1342.2 1630.7 1352.5 1641.0 1361.3 1641.0 C1370.2 1641.0 1380.5 1630.7 1387.8 1623.3 C1395.2 1616.0 1402.6 1601.2 1405.5 1596.8" fill="none" stroke="#777" stroke-width="3.8000000000000003" stroke-linecap="round"/>
<path d="M1317.2 1596.8 C1320.1 1601.2 1327.5 1616.0 1334.8 1623.3 C1342.2 1630.7 1352.5 1641.0 1361.3 1641.0 C1370.2 1641.0 1380.5 1630.7 1387.8 1623.3 C1395.2 1616.0 1402.6 1601.2 1405.5 1596.8" fill="none" stroke="#e4e4e4" stroke-width="2.2" stroke-linecap="round"/>
<path d="M1319.0 1595.7 C1321.9 1600.2 1329.3 1614.9 1336.6 1622.2 C1344.0 1629.6 1354.3 1639.9 1363.1 1639.9 C1372.0 1639.9 1382.3 1629.6 1389.6 1622.2 C1397.0 1614.9 1404.4 1600.2 1407.3 1595.7" fill="none" stroke="#777" stroke-width="3.8000000000000003" stroke-linecap="round"/>
<path d="M1319.0 1595.7 C1321.9 1600.2 1329.3 1614.9 1336.6 1622.2 C1344.0 1629.6 1354.3 1639.9 1363.1 1639.9 C1372.0 1639.9 1382.3 1629.6 1389.6 1622.2 C1397.0 1614.9 1404.4 1600.2 1407.3 1595.7" fill="none" stroke="#e4e4e4" stroke-width="2.2" stroke-linecap="round"/>
<path d="M1320.8 1594.7 C1323.7 1599.1 1331.1 1613.8 1338.4 1621.2 C1345.8 1628.5 1356.1 1638.8 1364.9 1638.8 C1373.8 1638.8 1384.1 1628.5 1391.4 1621.2 C1398.8 1613.8 1406.2 1599.1 1409.1 1594.7" fill="none" stroke="#777" stroke-width="3.8000000000000003" stroke-linecap="round"/>
<path d="M1320.8 1594.7 C1323.7 1599.1 1331.1 1613.8 1338.4 1621.2 C1345.8 1628.5 1356.1 1638.8 1364.9 1638.8 C1373.8 1638.8 1384.1 1628.5 1391.4 1621.2 C1398.8 1613.8 1406.2 1599.1 1409.1 1594.7" fill="none" stroke="#e4e4e4" stroke-width="2.2" stroke-linecap="round"/>
<path d="M1322.6 1593.6 C1325.5 1598.0 1332.9 1612.7 1340.2 1620.1 C1347.6 1627.4 1357.9 1637.7 1366.7 1637.7 C1375.6 1637.7 1385.9 1627.4 1393.2 1620.1 C1400.6 1612.7 1408.0 1598.0 1410.9 1593.6" fill="none" stroke="#777" stroke-width="3.8000000000000003" stroke-linecap="round"/>
<path d="M1322.6 1593.6 C1325.5 1598.0 1332.9 1612.7 1340.2 1620.1 C1347.6 1627.4 1357.9 1637.7 1366.7 1637.7 C1375.6 1637.7 1385.9 1627.4 1393.2 1620.1 C1400.6 1612.7 1408.0 1598.0 1410.9 1593.6" fill="none" stroke="#e4e4e4" stroke-width="2.2" stroke-linecap="round"/>
<path d="M1334.8 1658.7 C1340.7 1660.9 1358.4 1671.9 1370.2 1671.9 C1381.9 1671.9 1395.2 1666.7 1405.5 1658.7 C1415.8 1650.6 1423.2 1632.2 1432.0 1623.3 C1440.8 1614.5 1450.4 1613.0 1458.5 1605.6 C1466.6 1598.3 1476.9 1583.6 1480.6 1579.1" fill="none" stroke="#777" stroke-width="3.8000000000000003" stroke-linecap="round"/>
<path d="M1334.8 1658.7 C1340.7 1660.9 1358.4 1671.9 1370.2 1671.9 C1381.9 1671.9 1395.2 1666.7 1405.5 1658.7 C1415.8 1650.6 1423.2 1632.2 1432.0 1623.3 C1440.8 1614.5 1450.4 1613.0 1458.5 1605.6 C1466.6 1598.3 1476.9 1583.6 1480.6 1579.1" fill="none" stroke="#e4e4e4" stroke-width="2.2" stroke-linecap="round"/>
<path d="M1336.6 1657.6 C1342.5 1659.8 1360.2 1670.8 1372.0 1670.8 C1383.7 1670.8 1397.0 1665.7 1407.3 1657.6 C1417.6 1649.5 1425.0 1631.1 1433.8 1622.2 C1442.6 1613.4 1452.2 1611.9 1460.3 1604.6 C1468.4 1597.2 1478.7 1582.5 1482.4 1578.1" fill="none" stroke="#777" stroke-width="3.8000000000000003" stroke-linecap="round"/>
<path d="M1336.6 1657.6 C1342.5 1659.8 1360.2 1670.8 1372.0 1670.8 C1383.7 1670.8 1397.0 1665.7 1407.3 1657.6 C1417.6 1649.5 1425.0 1631.1 1433.8 1622.2 C1442.6 1613.4 1452.2 1611.9 1460.3 1604.6 C1468.4 1597.2 1478.7 1582.5 1482.4 1578.1" fill="none" stroke="#e4e4e4" stroke-width="2.2" stroke-linecap="round"/>
<path d="M1338.4 1656.5 C1344.3 1658.7 1362.0 1669.7 1373.8 1669.7 C1385.5 1669.7 1398.8 1664.6 1409.1 1656.5 C1419.4 1648.4 1426.8 1630.0 1435.6 1621.2 C1444.4 1612.3 1454.0 1610.8 1462.1 1603.5 C1470.2 1596.1 1480.5 1581.4 1484.2 1577.0" fill="none" stroke="#777" stroke-width="3.8000000000000003" stroke-linecap="round"/>
<path d="M1338.4 1656.5 C1344.3 1658.7 1362.0 1669.7 1373.8 1669.7 C1385.5 1669.7 1398.8 1664.6 1409.1 1656.5 C1419.4 1648.4 1426.8 1630.0 1435.6 1621.2 C1444.4 1612.3 1454.0 1610.8 1462.1 1603.5 C1470.2 1596.1 1480.5 1581.4 1484.2 1577.0" fill="none" stroke="#e4e4e4" stroke-width="2.2" stroke-linecap="round"/>
<path d="M1340.2 1655.4 C1346.1 1657.6 1363.8 1668.7 1375.6 1668.7 C1387.3 1668.7 1400.6 1663.5 1410.9 1655.4 C1421.2 1647.3 1428.6 1628.9 1437.4 1620.1 C1446.2 1611.2 1455.8 1609.8 1463.9 1602.4 C1472.0 1595.0 1482.3 1580.3 1486.0 1575.9" fill="none" stroke="#777" stroke-width="3.8000000000000003" stroke-linecap="round"/>
<path d="M1340.2 1655.4 C1346.1 1657.6 1363.8 1668.7 1375.6 1668.7 C1387.3 1668.7 1400.6 1663.5 1410.9 1655.4 C1421.2 1647.3 1428.6 1628.9 1437.4 1620.1 C1446.2 1611.2 1455.8 1609.8 1463.9 1602.4 C1472.0 1595.0 1482.3 1580.3 1486.0 1575.9" fill="none" stroke="#e4e4e4" stroke-width="2.2" stroke-linecap="round"/>
<path d="M1127.2 1579.1 C1130.9 1585.0 1146.4 1601.2 1149.3 1614.5 C1152.3 1627.7 1148.6 1646.1 1144.9 1658.7 C1141.2 1671.2 1130.2 1684.4 1127.2 1689.6" fill="none" stroke="#777" stroke-width="3.8000000000000003" stroke-linecap="round"/>
<path d="M1127.2 1579.1 C1130.9 1585.0 1146.4 1601.2 1149.3 1614.5 C1152.3 1627.7 1148.6 1646.1 1144.9 1658.7 C1141.2 1671.2 1130.2 1684.4 1127.2 1689.6" fill="none" stroke="#e4e4e4" stroke-width="2.2" stroke-linecap="round"/>
<path d="M1129.0 1578.1 C1132.7 1584.0 1148.2 1600.2 1151.1 1613.4 C1154.1 1626.7 1150.4 1645.1 1146.7 1657.6 C1143.0 1670.1 1132.0 1683.3 1129.0 1688.5" fill="none" stroke="#777" stroke-width="3.8000000000000003" stroke-linecap="round"/>
<path d="M1129.0 1578.1 C1132.7 1584.0 1148.2 1600.2 1151.1 1613.4 C1154.1 1626.7 1150.4 1645.1 1146.7 1657.6 C1143.0 1670.1 1132.0 1683.3 1129.0 1688.5" fill="none" stroke="#e4e4e4" stroke-width="2.2" stroke-linecap="round"/>
<path d="M1130.8 1577.0 C1134.5 1582.9 1150.0 1599.1 1152.9 1612.3 C1155.9 1625.6 1152.2 1644.0 1148.5 1656.5 C1144.8 1669.0 1133.8 1682.3 1130.8 1687.4" fill="none" stroke="#777" stroke-width="3.8000000000000003" stroke-linecap="round"/>
<path d="M1130.8 1577.0 C1134.5 1582.9 1150.0 1599.1 1152.9 1612.3 C1155.9 1625.6 1152.2 1644.0 1148.5 1656.5 C1144.8 1669.0 1133.8 1682.3 1130.8 1687.4" fill="none" stroke="#e4e4e4" stroke-width="2.2" stroke-linecap="round"/>
<path d="M1132.6 1575.9 C1136.3 1581.8 1151.8 1598.0 1154.7 1611.2 C1157.7 1624.5 1154.0 1642.9 1150.3 1655.4 C1146.6 1667.9 1135.6 1681.2 1132.6 1686.3" fill="none" stroke="#777" stroke-width="3.8000000000000003" stroke-linecap="round"/>
<path d="M1132.6 1575.9 C1136.3 1581.8 1151.8 1598.0 1154.7 1611.2 C1157.7 1624.5 1154.0 1642.9 1150.3 1655.4 C1146.6 1667.9 1135.6 1681.2 1132.6 1686.3" fill="none" stroke="#e4e4e4" stroke-width="2.2" stroke-linecap="round"/>
<path d="M1480.6 1579.1 C1485.7 1576.2 1500.5 1566.6 1511.5 1561.5 C1522.5 1556.3 1541.0 1550.4 1546.8 1548.2" fill="none" stroke="#777" stroke-width="3.8000000000000003" stroke-linecap="round"/>
<path d="M1480.6 1579.1 C1485.7 1576.2 1500.5 1566.6 1511.5 1561.5 C1522.5 1556.3 1541.0 1550.4 1546.8 1548.2" fill="none" stroke="#e4e4e4" stroke-width="2.2" stroke-linecap="round"/>
<path d="M1482.4 1578.1 C1487.5 1575.1 1502.3 1565.6 1513.3 1560.4 C1524.3 1555.2 1542.8 1549.4 1548.6 1547.1" fill="none" stroke="#777" stroke-width="3.8000000000000003" stroke-linecap="round"/>
<path d="M1482.4 1578.1 C1487.5 1575.1 1502.3 1565.6 1513.3 1560.4 C1524.3 1555.2 1542.8 1549.4 1548.6 1547.1" fill="none" stroke="#e4e4e4" stroke-width="2.2" stroke-linecap="round"/>
<path d="M1484.2 1577.0 C1489.3 1574.0 1504.1 1564.5 1515.1 1559.3 C1526.1 1554.2 1544.6 1548.3 1550.4 1546.1" fill="none" stroke="#777" stroke-width="3.8000000000000003" stroke-linecap="round"/>
<path d="M1484.2 1577.0 C1489.3 1574.0 1504.1 1564.5 1515.1 1559.3 C1526.1 1554.2 1544.6 1548.3 1550.4 1546.1" fill="none" stroke="#e4e4e4" stroke-width="2.2" stroke-linecap="round"/>
<path d="M1486.0 1575.9 C1491.1 1573.0 1505.9 1563.4 1516.9 1558.2 C1527.9 1553.1 1546.4 1547.2 1552.2 1545.0" fill="none" stroke="#777" stroke-width="3.8000000000000003" stroke-linecap="round"/>
<path d="M1486.0 1575.9 C1491.1 1573.0 1505.9 1563.4 1516.9 1558.2 C1527.9 1553.1 1546.4 1547.2 1552.2 1545.0" fill="none" stroke="#e4e4e4" stroke-width="2.2" stroke-linecap="round"/>
<path d="M1264.5 1578.9 L1291.3 1599.0" stroke="#c4c4c4" stroke-width="30.2" stroke-linecap="butt"/>
<path d="M1256 1594 L1257 1592 L1259 1589 L1263 1585 L1268 1581 L1273 1578 L1278 1575 L1283 1574 L1287 1574 L1290 1576" fill="none" stroke="#5a5a5a" stroke-width="17.0" stroke-linejoin="round" stroke-linecap="butt"/>
<path d="M1256 1594 L1257 1592 L1259 1589 L1263 1585 L1268 1581 L1273 1578 L1278 1575 L1283 1574 L1287 1574 L1290 1576" fill="none" stroke="#9a9a9a" stroke-width="15.0" stroke-linejoin="round" stroke-linecap="butt"/>
<path d="M1279 1612 L1280 1610 L1283 1607 L1287 1603 L1291 1599" fill="none" stroke="#5a5a5a" stroke-width="17.0" stroke-linejoin="round" stroke-linecap="butt"/>
<path d="M1279 1612 L1280 1610 L1283 1607 L1287 1603 L1291 1599" fill="none" stroke="#9a9a9a" stroke-width="15.0" stroke-linejoin="round" stroke-linecap="butt"/>
<path d="M1264 1579 L1262 1585 L1259 1589 L1257 1593 L1256 1594 L1256 1594" fill="none" stroke="#5a5a5a" stroke-width="17.0" stroke-linejoin="round" stroke-linecap="butt"/>
<path d="M1264 1579 L1262 1585 L1259 1589 L1257 1593 L1256 1594 L1256 1594" fill="none" stroke="#d0d0d0" stroke-width="15.0" stroke-linejoin="round" stroke-linecap="butt"/>
<path d="M1290 1576 L1291 1580 L1291 1585 L1290 1591 L1288 1597 L1285 1602 L1283 1607 L1281 1610 L1279 1612 L1279 1612" fill="none" stroke="#5a5a5a" stroke-width="17.0" stroke-linejoin="round" stroke-linecap="butt"/>
<path d="M1290 1576 L1291 1580 L1291 1585 L1290 1591 L1288 1597 L1285 1602 L1283 1607 L1281 1610 L1279 1612 L1279 1612" fill="none" stroke="#d0d0d0" stroke-width="15.0" stroke-linejoin="round" stroke-linecap="butt"/>
<path d="M1252 1597 L1253 1596 L1255 1593 L1259 1589 L1264 1585 L1269 1581 L1274 1578 L1279 1577 L1283 1577 L1286 1579" fill="none" stroke="#5a5a5a" stroke-width="17.0" stroke-linejoin="round" stroke-linecap="butt"/>
<path d="M1252 1597 L1253 1596 L1255 1593 L1259 1589 L1264 1585 L1269 1581 L1274 1578 L1279 1577 L1283 1577 L1286 1579" fill="none" stroke="#a4a4a4" stroke-width="15.0" stroke-linejoin="round" stroke-linecap="butt"/>
<path d="M1275 1615 L1276 1613 L1279 1610 L1283 1607 L1287 1602" fill="none" stroke="#5a5a5a" stroke-width="17.0" stroke-linejoin="round" stroke-linecap="butt"/>
<path d="M1275 1615 L1276 1613 L1279 1610 L1283 1607 L1287 1602" fill="none" stroke="#a4a4a4" stroke-width="15.0" stroke-linejoin="round" stroke-linecap="butt"/>
<path d="M1261 1582 L1258 1588 L1255 1593 L1253 1596 L1252 1598 L1252 1597" fill="none" stroke="#5a5a5a" stroke-width="17.0" stroke-linejoin="round" stroke-linecap="butt"/>
<path d="M1261 1582 L1258 1588 L1255 1593 L1253 1596 L1252 1598 L1252 1597" fill="none" stroke="#dadada" stroke-width="15.0" stroke-linejoin="round" stroke-linecap="butt"/>
<path d="M1286 1579 L1287 1583 L1287 1588 L1286 1594 L1284 1600 L1282 1606 L1279 1610 L1277 1614 L1275 1615 L1275 1615" fill="none" stroke="#5a5a5a" stroke-width="17.0" stroke-linejoin="round" stroke-linecap="butt"/>
<path d="M1286 1579 L1287 1583 L1287 1588 L1286 1594 L1284 1600 L1282 1606 L1279 1610 L1277 1614 L1275 1615 L1275 1615" fill="none" stroke="#dadada" stroke-width="15.0" stroke-linejoin="round" stroke-linecap="butt"/>
<path d="M1253 1596 L1255 1594 L1257 1591 L1261 1587 L1266 1583 L1271 1579 L1276 1577 L1281 1575 L1285 1576 L1288 1578" fill="none" stroke="#5a5a5a" stroke-width="17.0" stroke-linejoin="round" stroke-linecap="butt"/>
<path d="M1253 1596 L1255 1594 L1257 1591 L1261 1587 L1266 1583 L1271 1579 L1276 1577 L1281 1575 L1285 1576 L1288 1578" fill="none" stroke="#acacac" stroke-width="15.0" stroke-linejoin="round" stroke-linecap="butt"/>
<path d="M1277 1614 L1278 1612 L1281 1609 L1284 1605 L1289 1601" fill="none" stroke="#5a5a5a" stroke-width="17.0" stroke-linejoin="round" stroke-linecap="butt"/>
<path d="M1277 1614 L1278 1612 L1281 1609 L1284 1605 L1289 1601" fill="none" stroke="#acacac" stroke-width="15.0" stroke-linejoin="round" stroke-linecap="butt"/>
<path d="M1262 1581 L1260 1586 L1257 1591 L1255 1594 L1253 1596 L1253 1596" fill="none" stroke="#5a5a5a" stroke-width="17.0" stroke-linejoin="round" stroke-linecap="butt"/>
<path d="M1262 1581 L1260 1586 L1257 1591 L1255 1594 L1253 1596 L1253 1596" fill="none" stroke="#e4e4e4" stroke-width="15.0" stroke-linejoin="round" stroke-linecap="butt"/>
<path d="M1262 1581 L1260 1586 L1257 1591 L1255 1594 L1253 1596 L1253 1596" fill="none" stroke="#f6f6f6" stroke-width="4.5" stroke-linejoin="round" opacity="0.6"/>
<path d="M1288 1578 L1289 1582 L1289 1587 L1288 1592 L1286 1598 L1283 1604 L1281 1609 L1278 1612 L1277 1614 L1277 1614" fill="none" stroke="#5a5a5a" stroke-width="17.0" stroke-linejoin="round" stroke-linecap="butt"/>
<path d="M1288 1578 L1289 1582 L1289 1587 L1288 1592 L1286 1598 L1283 1604 L1281 1609 L1278 1612 L1277 1614 L1277 1614" fill="none" stroke="#e4e4e4" stroke-width="15.0" stroke-linejoin="round" stroke-linecap="butt"/>
<path d="M1288 1578 L1289 1582 L1289 1587 L1288 1592 L1286 1598 L1283 1604 L1281 1609 L1278 1612 L1277 1614 L1277 1614" fill="none" stroke="#f6f6f6" stroke-width="4.5" stroke-linejoin="round" opacity="0.6"/>
<path d="M1365.6 1592.7 L1393.4 1620.5" stroke="#c4c4c4" stroke-width="30.2" stroke-linecap="butt"/>
<path d="M1355 1607 L1357 1606 L1360 1603 L1364 1600 L1370 1597 L1376 1594 L1381 1592 L1387 1592 L1391 1593 L1393 1596" fill="none" stroke="#5a5a5a" stroke-width="17.0" stroke-linejoin="round" stroke-linecap="butt"/>
<path d="M1355 1607 L1357 1606 L1360 1603 L1364 1600 L1370 1597 L1376 1594 L1381 1592 L1387 1592 L1391 1593 L1393 1596" fill="none" stroke="#9a9a9a" stroke-width="15.0" stroke-linejoin="round" stroke-linecap="butt"/>
<path d="M1379 1631 L1380 1629 L1384 1627 L1388 1624 L1393 1621" fill="none" stroke="#5a5a5a" stroke-width="17.0" stroke-linejoin="round" stroke-linecap="butt"/>
<path d="M1379 1631 L1380 1629 L1384 1627 L1388 1624 L1393 1621" fill="none" stroke="#9a9a9a" stroke-width="15.0" stroke-linejoin="round" stroke-linecap="butt"/>
<path d="M1366 1593 L1362 1598 L1359 1603 L1357 1606 L1355 1607 L1355 1607" fill="none" stroke="#5a5a5a" stroke-width="17.0" stroke-linejoin="round" stroke-linecap="butt"/>
<path d="M1366 1593 L1362 1598 L1359 1603 L1357 1606 L1355 1607 L1355 1607" fill="none" stroke="#d0d0d0" stroke-width="15.0" stroke-linejoin="round" stroke-linecap="butt"/>
<path d="M1393 1596 L1394 1600 L1394 1605 L1392 1610 L1389 1616 L1386 1622 L1383 1626 L1380 1629 L1379 1631 L1379 1631" fill="none" stroke="#5a5a5a" stroke-width="17.0" stroke-linejoin="round" stroke-linecap="butt"/>
<path d="M1393 1596 L1394 1600 L1394 1605 L1392 1610 L1389 1616 L1386 1622 L1383 1626 L1380 1629 L1379 1631 L1379 1631" fill="none" stroke="#d0d0d0" stroke-width="15.0" stroke-linejoin="round" stroke-linecap="butt"/>
<path d="M1352 1611 L1353 1609 L1356 1607 L1361 1604 L1366 1600 L1372 1598 L1378 1596 L1383 1595 L1387 1596 L1389 1599" fill="none" stroke="#5a5a5a" stroke-width="17.0" stroke-linejoin="round" stroke-linecap="butt"/>
<path d="M1352 1611 L1353 1609 L1356 1607 L1361 1604 L1366 1600 L1372 1598 L1378 1596 L1383 1595 L1387 1596 L1389 1599" fill="none" stroke="#a4a4a4" stroke-width="15.0" stroke-linejoin="round" stroke-linecap="butt"/>
<path d="M1375 1634 L1377 1633 L1380 1630 L1384 1627 L1390 1624" fill="none" stroke="#5a5a5a" stroke-width="17.0" stroke-linejoin="round" stroke-linecap="butt"/>
<path d="M1375 1634 L1377 1633 L1380 1630 L1384 1627 L1390 1624" fill="none" stroke="#a4a4a4" stroke-width="15.0" stroke-linejoin="round" stroke-linecap="butt"/>
<path d="M1362 1596 L1359 1602 L1355 1606 L1353 1609 L1352 1611 L1352 1611" fill="none" stroke="#5a5a5a" stroke-width="17.0" stroke-linejoin="round" stroke-linecap="butt"/>
<path d="M1362 1596 L1359 1602 L1355 1606 L1353 1609 L1352 1611 L1352 1611" fill="none" stroke="#dadada" stroke-width="15.0" stroke-linejoin="round" stroke-linecap="butt"/>
<path d="M1389 1599 L1390 1603 L1390 1608 L1388 1614 L1385 1620 L1382 1625 L1379 1630 L1376 1633 L1375 1634 L1375 1634" fill="none" stroke="#5a5a5a" stroke-width="17.0" stroke-linejoin="round" stroke-linecap="butt"/>
<path d="M1389 1599 L1390 1603 L1390 1608 L1388 1614 L1385 1620 L1382 1625 L1379 1630 L1376 1633 L1375 1634 L1375 1634" fill="none" stroke="#dadada" stroke-width="15.0" stroke-linejoin="round" stroke-linecap="butt"/>
<path d="M1353 1609 L1355 1608 L1358 1605 L1362 1602 L1368 1599 L1373 1596 L1379 1594 L1384 1594 L1388 1595 L1391 1597" fill="none" stroke="#5a5a5a" stroke-width="17.0" stroke-linejoin="round" stroke-linecap="butt"/>
<path d="M1353 1609 L1355 1608 L1358 1605 L1362 1602 L1368 1599 L1373 1596 L1379 1594 L1384 1594 L1388 1595 L1391 1597" fill="none" stroke="#acacac" stroke-width="15.0" stroke-linejoin="round" stroke-linecap="butt"/>
<path d="M1377 1633 L1378 1631 L1381 1629 L1386 1626 L1391 1622" fill="none" stroke="#5a5a5a" stroke-width="17.0" stroke-linejoin="round" stroke-linecap="butt"/>
<path d="M1377 1633 L1378 1631 L1381 1629 L1386 1626 L1391 1622" fill="none" stroke="#acacac" stroke-width="15.0" stroke-linejoin="round" stroke-linecap="butt"/>
<path d="M1363 1595 L1360 1600 L1357 1604 L1355 1607 L1353 1609 L1353 1609" fill="none" stroke="#5a5a5a" stroke-width="17.0" stroke-linejoin="round" stroke-linecap="butt"/>
<path d="M1363 1595 L1360 1600 L1357 1604 L1355 1607 L1353 1609 L1353 1609" fill="none" stroke="#e4e4e4" stroke-width="15.0" stroke-linejoin="round" stroke-linecap="butt"/>
<path d="M1363 1595 L1360 1600 L1357 1604 L1355 1607 L1353 1609 L1353 1609" fill="none" stroke="#f6f6f6" stroke-width="4.5" stroke-linejoin="round" opacity="0.6"/>
<path d="M1391 1597 L1392 1601 L1392 1607 L1390 1612 L1387 1618 L1384 1623 L1381 1628 L1378 1631 L1377 1633 L1377 1633" fill="none" stroke="#5a5a5a" stroke-width="17.0" stroke-linejoin="round" stroke-linecap="butt"/>
<path d="M1391 1597 L1392 1601 L1392 1607 L1390 1612 L1387 1618 L1384 1623 L1381 1628 L1378 1631 L1377 1633 L1377 1633" fill="none" stroke="#e4e4e4" stroke-width="15.0" stroke-linejoin="round" stroke-linecap="butt"/>
<path d="M1391 1597 L1392 1601 L1392 1607 L1390 1612 L1387 1618 L1384 1623 L1381 1628 L1378 1631 L1377 1633 L1377 1633" fill="none" stroke="#f6f6f6" stroke-width="4.5" stroke-linejoin="round" opacity="0.6"/>
<path d="M1075.3 1336.3 L1109.5 1360.2" stroke="#c4c4c4" stroke-width="34.5" stroke-linecap="butt"/>
<path d="M1066 1354 L1068 1352 L1070 1349 L1075 1344 L1080 1340 L1086 1335 L1092 1332 L1098 1330 L1102 1331 L1106 1333" fill="none" stroke="#5a5a5a" stroke-width="17.0" stroke-linejoin="round" stroke-linecap="butt"/>
<path d="M1066 1354 L1068 1352 L1070 1349 L1075 1344 L1080 1340 L1086 1335 L1092 1332 L1098 1330 L1102 1331 L1106 1333" fill="none" stroke="#9a9a9a" stroke-width="15.0" stroke-linejoin="round" stroke-linecap="butt"/>
<path d="M1096 1375 L1097 1373 L1100 1369 L1104 1365 L1109 1360" fill="none" stroke="#5a5a5a" stroke-width="17.0" stroke-linejoin="round" stroke-linecap="butt"/>
<path d="M1096 1375 L1097 1373 L1100 1369 L1104 1365 L1109 1360" fill="none" stroke="#9a9a9a" stroke-width="15.0" stroke-linejoin="round" stroke-linecap="butt"/>
<path d="M1075 1336 L1073 1343 L1070 1348 L1068 1352 L1066 1354 L1066 1354" fill="none" stroke="#5a5a5a" stroke-width="17.0" stroke-linejoin="round" stroke-linecap="butt"/>
<path d="M1075 1336 L1073 1343 L1070 1348 L1068 1352 L1066 1354 L1066 1354" fill="none" stroke="#d0d0d0" stroke-width="15.0" stroke-linejoin="round" stroke-linecap="butt"/>
<path d="M1106 1333 L1107 1337 L1108 1343 L1107 1350 L1105 1357 L1102 1364 L1099 1369 L1097 1373 L1096 1375 L1096 1375" fill="none" stroke="#5a5a5a" stroke-width="17.0" stroke-linejoin="round" stroke-linecap="butt"/>
<path d="M1106 1333 L1107 1337 L1108 1343 L1107 1350 L1105 1357 L1102 1364 L1099 1369 L1097 1373 L1096 1375 L1096 1375" fill="none" stroke="#d0d0d0" stroke-width="15.0" stroke-linejoin="round" stroke-linecap="butt"/>
<path d="M1062 1358 L1064 1356 L1067 1352 L1071 1348 L1076 1343 L1082 1339 L1088 1335 L1094 1334 L1098 1334 L1102 1336" fill="none" stroke="#5a5a5a" stroke-width="17.0" stroke-linejoin="round" stroke-linecap="butt"/>
<path d="M1062 1358 L1064 1356 L1067 1352 L1071 1348 L1076 1343 L1082 1339 L1088 1335 L1094 1334 L1098 1334 L1102 1336" fill="none" stroke="#a4a4a4" stroke-width="15.0" stroke-linejoin="round" stroke-linecap="butt"/>
<path d="M1092 1378 L1093 1376 L1096 1373 L1100 1368 L1106 1364" fill="none" stroke="#5a5a5a" stroke-width="17.0" stroke-linejoin="round" stroke-linecap="butt"/>
<path d="M1092 1378 L1093 1376 L1096 1373 L1100 1368 L1106 1364" fill="none" stroke="#a4a4a4" stroke-width="15.0" stroke-linejoin="round" stroke-linecap="butt"/>
<path d="M1071 1340 L1069 1346 L1066 1352 L1064 1356 L1062 1358 L1062 1358" fill="none" stroke="#5a5a5a" stroke-width="17.0" stroke-linejoin="round" stroke-linecap="butt"/>
<path d="M1071 1340 L1069 1346 L1066 1352 L1064 1356 L1062 1358 L1062 1358" fill="none" stroke="#dadada" stroke-width="15.0" stroke-linejoin="round" stroke-linecap="butt"/>
<path d="M1102 1336 L1104 1341 L1104 1346 L1103 1353 L1101 1360 L1098 1367 L1096 1372 L1093 1376 L1092 1378 L1092 1378" fill="none" stroke="#5a5a5a" stroke-width="17.0" stroke-linejoin="round" stroke-linecap="butt"/>
<path d="M1102 1336 L1104 1341 L1104 1346 L1103 1353 L1101 1360 L1098 1367 L1096 1372 L1093 1376 L1092 1378 L1092 1378" fill="none" stroke="#dadada" stroke-width="15.0" stroke-linejoin="round" stroke-linecap="butt"/>
<path d="M1064 1356 L1065 1354 L1068 1351 L1073 1346 L1078 1341 L1084 1337 L1090 1334 L1095 1332 L1100 1332 L1103 1335" fill="none" stroke="#5a5a5a" stroke-width="17.0" stroke-linejoin="round" stroke-linecap="butt"/>
<path d="M1064 1356 L1065 1354 L1068 1351 L1073 1346 L1078 1341 L1084 1337 L1090 1334 L1095 1332 L1100 1332 L1103 1335" fill="none" stroke="#acacac" stroke-width="15.0" stroke-linejoin="round" stroke-linecap="butt"/>
<path d="M1093 1377 L1095 1375 L1098 1371 L1102 1367 L1107 1362" fill="none" stroke="#5a5a5a" stroke-width="17.0" stroke-linejoin="round" stroke-linecap="butt"/>
<path d="M1093 1377 L1095 1375 L1098 1371 L1102 1367 L1107 1362" fill="none" stroke="#acacac" stroke-width="15.0" stroke-linejoin="round" stroke-linecap="butt"/>
<path d="M1073 1338 L1070 1345 L1068 1350 L1065 1354 L1064 1356 L1064 1356" fill="none" stroke="#5a5a5a" stroke-width="17.0" stroke-linejoin="round" stroke-linecap="butt"/>
<path d="M1073 1338 L1070 1345 L1068 1350 L1065 1354 L1064 1356 L1064 1356" fill="none" stroke="#e4e4e4" stroke-width="15.0" stroke-linejoin="round" stroke-linecap="butt"/>
<path d="M1073 1338 L1070 1345 L1068 1350 L1065 1354 L1064 1356 L1064 1356" fill="none" stroke="#f6f6f6" stroke-width="4.5" stroke-linejoin="round" opacity="0.6"/>
<path d="M1103 1335 L1105 1339 L1106 1345 L1105 1352 L1103 1359 L1100 1365 L1097 1371 L1095 1375 L1093 1377 L1093 1377" fill="none" stroke="#5a5a5a" stroke-width="17.0" stroke-linejoin="round" stroke-linecap="butt"/>
<path d="M1103 1335 L1105 1339 L1106 1345 L1105 1352 L1103 1359 L1100 1365 L1097 1371 L1095 1375 L1093 1377 L1093 1377" fill="none" stroke="#e4e4e4" stroke-width="15.0" stroke-linejoin="round" stroke-linecap="butt"/>
<path d="M1103 1335 L1105 1339 L1106 1345 L1105 1352 L1103 1359 L1100 1365 L1097 1371 L1095 1375 L1093 1377 L1093 1377" fill="none" stroke="#f6f6f6" stroke-width="4.5" stroke-linejoin="round" opacity="0.6"/>
<path d="M1132.2 1230.9 L1185.1 1280.1" stroke="#c4c4c4" stroke-width="34.5" stroke-linecap="butt"/>
<path d="M1123 1249 L1125 1248 L1129 1245 L1135 1241 L1141 1237 L1148 1234 L1155 1232 L1161 1232 L1166 1234 L1168 1238" fill="none" stroke="#5a5a5a" stroke-width="17.0" stroke-linejoin="round" stroke-linecap="butt"/>
<path d="M1123 1249 L1125 1248 L1129 1245 L1135 1241 L1141 1237 L1148 1234 L1155 1232 L1161 1232 L1166 1234 L1168 1238" fill="none" stroke="#9a9a9a" stroke-width="15.0" stroke-linejoin="round" stroke-linecap="butt"/>
<path d="M1156 1279 L1159 1277 L1164 1274 L1170 1270 L1177 1267 L1184 1264 L1190 1263 L1196 1264 L1200 1266" fill="none" stroke="#5a5a5a" stroke-width="17.0" stroke-linejoin="round" stroke-linecap="butt"/>
<path d="M1156 1279 L1159 1277 L1164 1274 L1170 1270 L1177 1267 L1184 1264 L1190 1263 L1196 1264 L1200 1266" fill="none" stroke="#9a9a9a" stroke-width="15.0" stroke-linejoin="round" stroke-linecap="butt"/>
<path d="M1132 1231 L1129 1238 L1126 1243 L1123 1247 L1122 1249 L1123 1249" fill="none" stroke="#5a5a5a" stroke-width="17.0" stroke-linejoin="round" stroke-linecap="butt"/>
<path d="M1132 1231 L1129 1238 L1126 1243 L1123 1247 L1122 1249 L1123 1249" fill="none" stroke="#d0d0d0" stroke-width="15.0" stroke-linejoin="round" stroke-linecap="butt"/>
<path d="M1168 1238 L1170 1243 L1169 1250 L1167 1257 L1164 1264 L1161 1271 L1158 1276 L1156 1279 L1155 1280 L1156 1279" fill="none" stroke="#5a5a5a" stroke-width="17.0" stroke-linejoin="round" stroke-linecap="butt"/>
<path d="M1168 1238 L1170 1243 L1169 1250 L1167 1257 L1164 1264 L1161 1271 L1158 1276 L1156 1279 L1155 1280 L1156 1279" fill="none" stroke="#d0d0d0" stroke-width="15.0" stroke-linejoin="round" stroke-linecap="butt"/>
<path d="M1200 1266 L1202 1271 L1202 1277" fill="none" stroke="#5a5a5a" stroke-width="17.0" stroke-linejoin="round" stroke-linecap="butt"/>
<path d="M1200 1266 L1202 1271 L1202 1277" fill="none" stroke="#d0d0d0" stroke-width="15.0" stroke-linejoin="round" stroke-linecap="butt"/>
<path d="M1119 1253 L1121 1251 L1125 1248 L1131 1244 L1137 1241 L1144 1238 L1151 1236 L1157 1236 L1162 1238 L1165 1241" fill="none" stroke="#5a5a5a" stroke-width="17.0" stroke-linejoin="round" stroke-linecap="butt"/>
<path d="M1119 1253 L1121 1251 L1125 1248 L1131 1244 L1137 1241 L1144 1238 L1151 1236 L1157 1236 L1162 1238 L1165 1241" fill="none" stroke="#a4a4a4" stroke-width="15.0" stroke-linejoin="round" stroke-linecap="butt"/>
<path d="M1152 1283 L1156 1280 L1160 1277 L1166 1273 L1173 1270 L1180 1267 L1187 1266 L1192 1267 L1196 1270" fill="none" stroke="#5a5a5a" stroke-width="17.0" stroke-linejoin="round" stroke-linecap="butt"/>
<path d="M1152 1283 L1156 1280 L1160 1277 L1166 1273 L1173 1270 L1180 1267 L1187 1266 L1192 1267 L1196 1270" fill="none" stroke="#a4a4a4" stroke-width="15.0" stroke-linejoin="round" stroke-linecap="butt"/>
<path d="M1128 1234 L1125 1241 L1122 1247 L1120 1250 L1118 1252 L1119 1253" fill="none" stroke="#5a5a5a" stroke-width="17.0" stroke-linejoin="round" stroke-linecap="butt"/>
<path d="M1128 1234 L1125 1241 L1122 1247 L1120 1250 L1118 1252 L1119 1253" fill="none" stroke="#dadada" stroke-width="15.0" stroke-linejoin="round" stroke-linecap="butt"/>
<path d="M1165 1241 L1166 1247 L1165 1253 L1163 1261 L1160 1268 L1157 1274 L1154 1279 L1152 1282 L1151 1283 L1152 1283" fill="none" stroke="#5a5a5a" stroke-width="17.0" stroke-linejoin="round" stroke-linecap="butt"/>
<path d="M1165 1241 L1166 1247 L1165 1253 L1163 1261 L1160 1268 L1157 1274 L1154 1279 L1152 1282 L1151 1283 L1152 1283" fill="none" stroke="#dadada" stroke-width="15.0" stroke-linejoin="round" stroke-linecap="butt"/>
<path d="M1196 1270 L1198 1274 L1199 1280" fill="none" stroke="#5a5a5a" stroke-width="17.0" stroke-linejoin="round" stroke-linecap="butt"/>
<path d="M1196 1270 L1198 1274 L1199 1280" fill="none" stroke="#dadada" stroke-width="15.0" stroke-linejoin="round" stroke-linecap="butt"/>
<path d="M1120 1251 L1123 1249 L1127 1246 L1132 1243 L1139 1239 L1146 1236 L1153 1234 L1159 1234 L1163 1236 L1166 1240" fill="none" stroke="#5a5a5a" stroke-width="17.0" stroke-linejoin="round" stroke-linecap="butt"/>
<path d="M1120 1251 L1123 1249 L1127 1246 L1132 1243 L1139 1239 L1146 1236 L1153 1234 L1159 1234 L1163 1236 L1166 1240" fill="none" stroke="#acacac" stroke-width="15.0" stroke-linejoin="round" stroke-linecap="butt"/>
<path d="M1154 1281 L1157 1279 L1162 1276 L1168 1272 L1175 1268 L1182 1266 L1188 1265 L1194 1265 L1198 1268" fill="none" stroke="#5a5a5a" stroke-width="17.0" stroke-linejoin="round" stroke-linecap="butt"/>
<path d="M1154 1281 L1157 1279 L1162 1276 L1168 1272 L1175 1268 L1182 1266 L1188 1265 L1194 1265 L1198 1268" fill="none" stroke="#acacac" stroke-width="15.0" stroke-linejoin="round" stroke-linecap="butt"/>
<path d="M1130 1233 L1127 1239 L1124 1245 L1121 1249 L1120 1251 L1120 1251" fill="none" stroke="#5a5a5a" stroke-width="17.0" stroke-linejoin="round" stroke-linecap="butt"/>
<path d="M1130 1233 L1127 1239 L1124 1245 L1121 1249 L1120 1251 L1120 1251" fill="none" stroke="#e4e4e4" stroke-width="15.0" stroke-linejoin="round" stroke-linecap="butt"/>
<path d="M1130 1233 L1127 1239 L1124 1245 L1121 1249 L1120 1251 L1120 1251" fill="none" stroke="#f6f6f6" stroke-width="4.5" stroke-linejoin="round" opacity="0.6"/>
<path d="M1166 1240 L1167 1245 L1167 1252 L1165 1259 L1162 1266 L1158 1272 L1155 1277 L1153 1281 L1153 1282 L1154 1281" fill="none" stroke="#5a5a5a" stroke-width="17.0" stroke-linejoin="round" stroke-linecap="butt"/>
<path d="M1166 1240 L1167 1245 L1167 1252 L1165 1259 L1162 1266 L1158 1272 L1155 1277 L1153 1281 L1153 1282 L1154 1281" fill="none" stroke="#e4e4e4" stroke-width="15.0" stroke-linejoin="round" stroke-linecap="butt"/>
<path d="M1166 1240 L1167 1245 L1167 1252 L1165 1259 L1162 1266 L1158 1272 L1155 1277 L1153 1281 L1153 1282 L1154 1281" fill="none" stroke="#f6f6f6" stroke-width="4.5" stroke-linejoin="round" opacity="0.6"/>
<path d="M1198 1268 L1200 1272 L1200 1278" fill="none" stroke="#5a5a5a" stroke-width="17.0" stroke-linejoin="round" stroke-linecap="butt"/>
<path d="M1198 1268 L1200 1272 L1200 1278" fill="none" stroke="#e4e4e4" stroke-width="15.0" stroke-linejoin="round" stroke-linecap="butt"/>
<path d="M1198 1268 L1200 1272 L1200 1278" fill="none" stroke="#f6f6f6" stroke-width="4.5" stroke-linejoin="round" opacity="0.6"/>
<path d="M1125.5 1332.1 L1165.3 1479.3" stroke="#c4c4c4" stroke-width="47.5" stroke-linecap="butt"/>
<path d="M1099 1340 L1102 1339 L1109 1337 L1117 1336 L1127 1335 L1137 1335 L1146 1337 L1153 1340 L1157 1344 L1158 1349" fill="none" stroke="#5a5a5a" stroke-width="17.0" stroke-linejoin="round" stroke-linecap="butt"/>
<path d="M1099 1340 L1102 1339 L1109 1337 L1117 1336 L1127 1335 L1137 1335 L1146 1337 L1153 1340 L1157 1344 L1158 1349" fill="none" stroke="#9a9a9a" stroke-width="15.0" stroke-linejoin="round" stroke-linecap="butt"/>
<path d="M1110 1379 L1113 1377 L1120 1376 L1129 1374 L1138 1373 L1148 1374 L1157 1375 L1164 1378 L1168 1383 L1169 1388" fill="none" stroke="#5a5a5a" stroke-width="17.0" stroke-linejoin="round" stroke-linecap="butt"/>
<path d="M1110 1379 L1113 1377 L1120 1376 L1129 1374 L1138 1373 L1148 1374 L1157 1375 L1164 1378 L1168 1383 L1169 1388" fill="none" stroke="#9a9a9a" stroke-width="15.0" stroke-linejoin="round" stroke-linecap="butt"/>
<path d="M1121 1417 L1124 1416 L1131 1414 L1140 1413 L1150 1412 L1160 1412 L1169 1414 L1175 1417 L1179 1422 L1179 1427" fill="none" stroke="#5a5a5a" stroke-width="17.0" stroke-linejoin="round" stroke-linecap="butt"/>
<path d="M1121 1417 L1124 1416 L1131 1414 L1140 1413 L1150 1412 L1160 1412 L1169 1414 L1175 1417 L1179 1422 L1179 1427" fill="none" stroke="#9a9a9a" stroke-width="15.0" stroke-linejoin="round" stroke-linecap="butt"/>
<path d="M1131 1455 L1136 1454 L1143 1452 L1152 1451 L1162 1450 L1171 1451 L1180 1453 L1186 1456 L1189 1461 L1189 1466" fill="none" stroke="#5a5a5a" stroke-width="17.0" stroke-linejoin="round" stroke-linecap="butt"/>
<path d="M1131 1455 L1136 1454 L1143 1452 L1152 1451 L1162 1450 L1171 1451 L1180 1453 L1186 1456 L1189 1461 L1189 1466" fill="none" stroke="#9a9a9a" stroke-width="15.0" stroke-linejoin="round" stroke-linecap="butt"/>
<path d="M1140 1495" fill="none" stroke="#5a5a5a" stroke-width="17.0" stroke-linejoin="round" stroke-linecap="butt"/>
<path d="M1140 1495" fill="none" stroke="#9a9a9a" stroke-width="15.0" stroke-linejoin="round" stroke-linecap="butt"/>
<path d="M1125 1332 L1117 1336 L1109 1339 L1103 1341 L1099 1341 L1099 1340" fill="none" stroke="#5a5a5a" stroke-width="17.0" stroke-linejoin="round" stroke-linecap="butt"/>
<path d="M1125 1332 L1117 1336 L1109 1339 L1103 1341 L1099 1341 L1099 1340" fill="none" stroke="#d0d0d0" stroke-width="15.0" stroke-linejoin="round" stroke-linecap="butt"/>
<path d="M1158 1349 L1156 1354 L1151 1360 L1143 1366 L1135 1371 L1126 1375 L1118 1378 L1113 1379 L1110 1380 L1110 1379" fill="none" stroke="#5a5a5a" stroke-width="17.0" stroke-linejoin="round" stroke-linecap="butt"/>
<path d="M1158 1349 L1156 1354 L1151 1360 L1143 1366 L1135 1371 L1126 1375 L1118 1378 L1113 1379 L1110 1380 L1110 1379" fill="none" stroke="#d0d0d0" stroke-width="15.0" stroke-linejoin="round" stroke-linecap="butt"/>
<path d="M1169 1388 L1166 1393 L1161 1399 L1153 1405 L1144 1410 L1135 1414 L1128 1417 L1122 1418 L1120 1418 L1121 1417" fill="none" stroke="#5a5a5a" stroke-width="17.0" stroke-linejoin="round" stroke-linecap="butt"/>
<path d="M1169 1388 L1166 1393 L1161 1399 L1153 1405 L1144 1410 L1135 1414 L1128 1417 L1122 1418 L1120 1418 L1121 1417" fill="none" stroke="#d0d0d0" stroke-width="15.0" stroke-linejoin="round" stroke-linecap="butt"/>
<path d="M1179 1427 L1176 1433 L1170 1439 L1162 1444 L1154 1449 L1145 1453 L1137 1455 L1132 1456 L1130 1456 L1131 1455" fill="none" stroke="#5a5a5a" stroke-width="17.0" stroke-linejoin="round" stroke-linecap="butt"/>
<path d="M1179 1427 L1176 1433 L1170 1439 L1162 1444 L1154 1449 L1145 1453 L1137 1455 L1132 1456 L1130 1456 L1131 1455" fill="none" stroke="#d0d0d0" stroke-width="15.0" stroke-linejoin="round" stroke-linecap="butt"/>
<path d="M1189 1466 L1186 1472 L1180 1478 L1172 1483 L1163 1488 L1154 1492 L1147 1494 L1142 1495 L1140 1495" fill="none" stroke="#5a5a5a" stroke-width="17.0" stroke-linejoin="round" stroke-linecap="butt"/>
<path d="M1189 1466 L1186 1472 L1180 1478 L1172 1483 L1163 1488 L1154 1492 L1147 1494 L1142 1495 L1140 1495" fill="none" stroke="#d0d0d0" stroke-width="15.0" stroke-linejoin="round" stroke-linecap="butt"/>
<path d="M1095 1344 L1099 1342 L1105 1341 L1113 1339 L1123 1338 L1133 1339 L1142 1340 L1149 1343 L1153 1347 L1154 1352" fill="none" stroke="#5a5a5a" stroke-width="17.0" stroke-linejoin="round" stroke-linecap="butt"/>
<path d="M1095 1344 L1099 1342 L1105 1341 L1113 1339 L1123 1338 L1133 1339 L1142 1340 L1149 1343 L1153 1347 L1154 1352" fill="none" stroke="#a4a4a4" stroke-width="15.0" stroke-linejoin="round" stroke-linecap="butt"/>
<path d="M1106 1382 L1110 1381 L1116 1379 L1125 1378 L1135 1377 L1145 1377 L1153 1379 L1160 1382 L1164 1386 L1165 1391" fill="none" stroke="#5a5a5a" stroke-width="17.0" stroke-linejoin="round" stroke-linecap="butt"/>
<path d="M1106 1382 L1110 1381 L1116 1379 L1125 1378 L1135 1377 L1145 1377 L1153 1379 L1160 1382 L1164 1386 L1165 1391" fill="none" stroke="#a4a4a4" stroke-width="15.0" stroke-linejoin="round" stroke-linecap="butt"/>
<path d="M1117 1420 L1121 1419 L1127 1417 L1136 1416 L1146 1415 L1156 1416 L1165 1418 L1171 1421 L1175 1425 L1175 1430" fill="none" stroke="#5a5a5a" stroke-width="17.0" stroke-linejoin="round" stroke-linecap="butt"/>
<path d="M1117 1420 L1121 1419 L1127 1417 L1136 1416 L1146 1415 L1156 1416 L1165 1418 L1171 1421 L1175 1425 L1175 1430" fill="none" stroke="#a4a4a4" stroke-width="15.0" stroke-linejoin="round" stroke-linecap="butt"/>
<path d="M1127 1459 L1132 1457 L1139 1456 L1148 1454 L1158 1454 L1168 1454 L1176 1456 L1182 1460 L1185 1464 L1185 1469" fill="none" stroke="#5a5a5a" stroke-width="17.0" stroke-linejoin="round" stroke-linecap="butt"/>
<path d="M1127 1459 L1132 1457 L1139 1456 L1148 1454 L1158 1454 L1168 1454 L1176 1456 L1182 1460 L1185 1464 L1185 1469" fill="none" stroke="#a4a4a4" stroke-width="15.0" stroke-linejoin="round" stroke-linecap="butt"/>
<path d="M1137 1498" fill="none" stroke="#5a5a5a" stroke-width="17.0" stroke-linejoin="round" stroke-linecap="butt"/>
<path d="M1137 1498" fill="none" stroke="#a4a4a4" stroke-width="15.0" stroke-linejoin="round" stroke-linecap="butt"/>
<path d="M1122 1335 L1113 1340 L1105 1343 L1099 1344 L1096 1344 L1095 1344" fill="none" stroke="#5a5a5a" stroke-width="17.0" stroke-linejoin="round" stroke-linecap="butt"/>
<path d="M1122 1335 L1113 1340 L1105 1343 L1099 1344 L1096 1344 L1095 1344" fill="none" stroke="#dadada" stroke-width="15.0" stroke-linejoin="round" stroke-linecap="butt"/>
<path d="M1154 1352 L1152 1358 L1147 1364 L1140 1369 L1131 1374 L1122 1378 L1114 1381 L1109 1383 L1106 1383 L1106 1382" fill="none" stroke="#5a5a5a" stroke-width="17.0" stroke-linejoin="round" stroke-linecap="butt"/>
<path d="M1154 1352 L1152 1358 L1147 1364 L1140 1369 L1131 1374 L1122 1378 L1114 1381 L1109 1383 L1106 1383 L1106 1382" fill="none" stroke="#dadada" stroke-width="15.0" stroke-linejoin="round" stroke-linecap="butt"/>
<path d="M1165 1391 L1162 1397 L1157 1403 L1149 1408 L1140 1413 L1132 1417 L1124 1420 L1119 1421 L1116 1421 L1117 1420" fill="none" stroke="#5a5a5a" stroke-width="17.0" stroke-linejoin="round" stroke-linecap="butt"/>
<path d="M1165 1391 L1162 1397 L1157 1403 L1149 1408 L1140 1413 L1132 1417 L1124 1420 L1119 1421 L1116 1421 L1117 1420" fill="none" stroke="#dadada" stroke-width="15.0" stroke-linejoin="round" stroke-linecap="butt"/>
<path d="M1175 1430 L1172 1436 L1166 1442 L1159 1448 L1150 1452 L1141 1456 L1134 1459 L1129 1460 L1126 1460 L1127 1459" fill="none" stroke="#5a5a5a" stroke-width="17.0" stroke-linejoin="round" stroke-linecap="butt"/>
<path d="M1175 1430 L1172 1436 L1166 1442 L1159 1448 L1150 1452 L1141 1456 L1134 1459 L1129 1460 L1126 1460 L1127 1459" fill="none" stroke="#dadada" stroke-width="15.0" stroke-linejoin="round" stroke-linecap="butt"/>
<path d="M1185 1469 L1182 1475 L1176 1481 L1168 1487 L1159 1491 L1150 1495 L1143 1497 L1139 1498 L1137 1498" fill="none" stroke="#5a5a5a" stroke-width="17.0" stroke-linejoin="round" stroke-linecap="butt"/>
<path d="M1185 1469 L1182 1475 L1176 1481 L1168 1487 L1159 1491 L1150 1495 L1143 1497 L1139 1498 L1137 1498" fill="none" stroke="#dadada" stroke-width="15.0" stroke-linejoin="round" stroke-linecap="butt"/>
<path d="M1097 1342 L1100 1341 L1106 1339 L1115 1338 L1125 1337 L1135 1337 L1144 1339 L1151 1341 L1155 1345 L1156 1350" fill="none" stroke="#5a5a5a" stroke-width="17.0" stroke-linejoin="round" stroke-linecap="butt"/>
<path d="M1097 1342 L1100 1341 L1106 1339 L1115 1338 L1125 1337 L1135 1337 L1144 1339 L1151 1341 L1155 1345 L1156 1350" fill="none" stroke="#acacac" stroke-width="15.0" stroke-linejoin="round" stroke-linecap="butt"/>
<path d="M1108 1380 L1111 1379 L1118 1377 L1126 1376 L1136 1375 L1146 1376 L1155 1377 L1162 1380 L1166 1384 L1166 1389" fill="none" stroke="#5a5a5a" stroke-width="17.0" stroke-linejoin="round" stroke-linecap="butt"/>
<path d="M1108 1380 L1111 1379 L1118 1377 L1126 1376 L1136 1375 L1146 1376 L1155 1377 L1162 1380 L1166 1384 L1166 1389" fill="none" stroke="#acacac" stroke-width="15.0" stroke-linejoin="round" stroke-linecap="butt"/>
<path d="M1118 1419 L1122 1417 L1129 1416 L1138 1414 L1148 1414 L1158 1414 L1166 1416 L1173 1419 L1176 1423 L1177 1429" fill="none" stroke="#5a5a5a" stroke-width="17.0" stroke-linejoin="round" stroke-linecap="butt"/>
<path d="M1118 1419 L1122 1417 L1129 1416 L1138 1414 L1148 1414 L1158 1414 L1166 1416 L1173 1419 L1176 1423 L1177 1429" fill="none" stroke="#acacac" stroke-width="15.0" stroke-linejoin="round" stroke-linecap="butt"/>
<path d="M1129 1457 L1133 1456 L1140 1454 L1149 1453 L1159 1452 L1169 1453 L1178 1455 L1184 1458 L1187 1462 L1187 1468" fill="none" stroke="#5a5a5a" stroke-width="17.0" stroke-linejoin="round" stroke-linecap="butt"/>
<path d="M1129 1457 L1133 1456 L1140 1454 L1149 1453 L1159 1452 L1169 1453 L1178 1455 L1184 1458 L1187 1462 L1187 1468" fill="none" stroke="#acacac" stroke-width="15.0" stroke-linejoin="round" stroke-linecap="butt"/>
<path d="M1138 1496" fill="none" stroke="#5a5a5a" stroke-width="17.0" stroke-linejoin="round" stroke-linecap="butt"/>
<path d="M1138 1496" fill="none" stroke="#acacac" stroke-width="15.0" stroke-linejoin="round" stroke-linecap="butt"/>
<path d="M1123 1334 L1114 1338 L1106 1341 L1100 1343 L1097 1343 L1097 1342" fill="none" stroke="#5a5a5a" stroke-width="17.0" stroke-linejoin="round" stroke-linecap="butt"/>
<path d="M1123 1334 L1114 1338 L1106 1341 L1100 1343 L1097 1343 L1097 1342" fill="none" stroke="#e4e4e4" stroke-width="15.0" stroke-linejoin="round" stroke-linecap="butt"/>
<path d="M1123 1334 L1114 1338 L1106 1341 L1100 1343 L1097 1343 L1097 1342" fill="none" stroke="#f6f6f6" stroke-width="4.5" stroke-linejoin="round" opacity="0.6"/>
<path d="M1156 1350 L1154 1356 L1149 1362 L1141 1368 L1133 1373 L1124 1377 L1116 1380 L1110 1381 L1107 1381 L1108 1380" fill="none" stroke="#5a5a5a" stroke-width="17.0" stroke-linejoin="round" stroke-linecap="butt"/>
<path d="M1156 1350 L1154 1356 L1149 1362 L1141 1368 L1133 1373 L1124 1377 L1116 1380 L1110 1381 L1107 1381 L1108 1380" fill="none" stroke="#e4e4e4" stroke-width="15.0" stroke-linejoin="round" stroke-linecap="butt"/>
<path d="M1156 1350 L1154 1356 L1149 1362 L1141 1368 L1133 1373 L1124 1377 L1116 1380 L1110 1381 L1107 1381 L1108 1380" fill="none" stroke="#f6f6f6" stroke-width="4.5" stroke-linejoin="round" opacity="0.6"/>
<path d="M1166 1389 L1164 1395 L1158 1401 L1151 1407 L1142 1412 L1133 1416 L1126 1418 L1120 1420 L1118 1420 L1118 1419" fill="none" stroke="#5a5a5a" stroke-width="17.0" stroke-linejoin="round" stroke-linecap="butt"/>
<path d="M1166 1389 L1164 1395 L1158 1401 L1151 1407 L1142 1412 L1133 1416 L1126 1418 L1120 1420 L1118 1420 L1118 1419" fill="none" stroke="#e4e4e4" stroke-width="15.0" stroke-linejoin="round" stroke-linecap="butt"/>
<path d="M1166 1389 L1164 1395 L1158 1401 L1151 1407 L1142 1412 L1133 1416 L1126 1418 L1120 1420 L1118 1420 L1118 1419" fill="none" stroke="#f6f6f6" stroke-width="4.5" stroke-linejoin="round" opacity="0.6"/>
<path d="M1177 1429 L1174 1434 L1168 1440 L1160 1446 L1151 1451 L1143 1455 L1135 1457 L1130 1458 L1128 1458 L1129 1457" fill="none" stroke="#5a5a5a" stroke-width="17.0" stroke-linejoin="round" stroke-linecap="butt"/>
<path d="M1177 1429 L1174 1434 L1168 1440 L1160 1446 L1151 1451 L1143 1455 L1135 1457 L1130 1458 L1128 1458 L1129 1457" fill="none" stroke="#e4e4e4" stroke-width="15.0" stroke-linejoin="round" stroke-linecap="butt"/>
<path d="M1177 1429 L1174 1434 L1168 1440 L1160 1446 L1151 1451 L1143 1455 L1135 1457 L1130 1458 L1128 1458 L1129 1457" fill="none" stroke="#f6f6f6" stroke-width="4.5" stroke-linejoin="round" opacity="0.6"/>
<path d="M1187 1468 L1184 1474 L1177 1480 L1169 1485 L1161 1490 L1152 1493 L1145 1496 L1140 1497 L1138 1496" fill="none" stroke="#5a5a5a" stroke-width="17.0" stroke-linejoin="round" stroke-linecap="butt"/>
<path d="M1187 1468 L1184 1474 L1177 1480 L1169 1485 L1161 1490 L1152 1493 L1145 1496 L1140 1497 L1138 1496" fill="none" stroke="#e4e4e4" stroke-width="15.0" stroke-linejoin="round" stroke-linecap="butt"/>
<path d="M1187 1468 L1184 1474 L1177 1480 L1169 1485 L1161 1490 L1152 1493 L1145 1496 L1140 1497 L1138 1496" fill="none" stroke="#f6f6f6" stroke-width="4.5" stroke-linejoin="round" opacity="0.6"/>
<path d="M1176.4 1318.8 L1224.8 1488.2" stroke="#c4c4c4" stroke-width="47.5" stroke-linecap="butt"/>
<path d="M1151 1329 L1154 1328 L1160 1326 L1169 1325 L1179 1324 L1189 1325 L1198 1326 L1205 1329 L1209 1334 L1211 1339" fill="none" stroke="#5a5a5a" stroke-width="17.0" stroke-linejoin="round" stroke-linecap="butt"/>
<path d="M1151 1329 L1154 1328 L1160 1326 L1169 1325 L1179 1324 L1189 1325 L1198 1326 L1205 1329 L1209 1334 L1211 1339" fill="none" stroke="#9a9a9a" stroke-width="15.0" stroke-linejoin="round" stroke-linecap="butt"/>
<path d="M1163 1373 L1167 1371 L1174 1370 L1182 1369 L1192 1368 L1202 1369 L1211 1370 L1218 1374 L1222 1378 L1223 1383" fill="none" stroke="#5a5a5a" stroke-width="17.0" stroke-linejoin="round" stroke-linecap="butt"/>
<path d="M1163 1373 L1167 1371 L1174 1370 L1182 1369 L1192 1368 L1202 1369 L1211 1370 L1218 1374 L1222 1378 L1223 1383" fill="none" stroke="#9a9a9a" stroke-width="15.0" stroke-linejoin="round" stroke-linecap="butt"/>
<path d="M1176 1416 L1180 1415 L1187 1413 L1196 1412 L1206 1412 L1216 1412 L1225 1414 L1231 1418 L1235 1422 L1235 1428" fill="none" stroke="#5a5a5a" stroke-width="17.0" stroke-linejoin="round" stroke-linecap="butt"/>
<path d="M1176 1416 L1180 1415 L1187 1413 L1196 1412 L1206 1412 L1216 1412 L1225 1414 L1231 1418 L1235 1422 L1235 1428" fill="none" stroke="#9a9a9a" stroke-width="15.0" stroke-linejoin="round" stroke-linecap="butt"/>
<path d="M1189 1460 L1193 1458 L1200 1457 L1210 1456 L1220 1455 L1229 1456 L1238 1458 L1244 1462 L1248 1466 L1248 1472" fill="none" stroke="#5a5a5a" stroke-width="17.0" stroke-linejoin="round" stroke-linecap="butt"/>
<path d="M1189 1460 L1193 1458 L1200 1457 L1210 1456 L1220 1455 L1229 1456 L1238 1458 L1244 1462 L1248 1466 L1248 1472" fill="none" stroke="#9a9a9a" stroke-width="15.0" stroke-linejoin="round" stroke-linecap="butt"/>
<path d="M1200 1504" fill="none" stroke="#5a5a5a" stroke-width="17.0" stroke-linejoin="round" stroke-linecap="butt"/>
<path d="M1200 1504" fill="none" stroke="#9a9a9a" stroke-width="15.0" stroke-linejoin="round" stroke-linecap="butt"/>
<path d="M1176 1319 L1168 1323 L1160 1327 L1154 1329 L1151 1329 L1151 1329" fill="none" stroke="#5a5a5a" stroke-width="17.0" stroke-linejoin="round" stroke-linecap="butt"/>
<path d="M1176 1319 L1168 1323 L1160 1327 L1154 1329 L1151 1329 L1151 1329" fill="none" stroke="#d0d0d0" stroke-width="15.0" stroke-linejoin="round" stroke-linecap="butt"/>
<path d="M1211 1339 L1209 1345 L1204 1351 L1196 1358 L1188 1363 L1179 1367 L1172 1371 L1166 1372 L1163 1373 L1163 1373" fill="none" stroke="#5a5a5a" stroke-width="17.0" stroke-linejoin="round" stroke-linecap="butt"/>
<path d="M1211 1339 L1209 1345 L1204 1351 L1196 1358 L1188 1363 L1179 1367 L1172 1371 L1166 1372 L1163 1373 L1163 1373" fill="none" stroke="#d0d0d0" stroke-width="15.0" stroke-linejoin="round" stroke-linecap="butt"/>
<path d="M1223 1383 L1221 1389 L1215 1396 L1208 1402 L1199 1407 L1191 1412 L1183 1415 L1178 1416 L1175 1417 L1176 1416" fill="none" stroke="#5a5a5a" stroke-width="17.0" stroke-linejoin="round" stroke-linecap="butt"/>
<path d="M1223 1383 L1221 1389 L1215 1396 L1208 1402 L1199 1407 L1191 1412 L1183 1415 L1178 1416 L1175 1417 L1176 1416" fill="none" stroke="#d0d0d0" stroke-width="15.0" stroke-linejoin="round" stroke-linecap="butt"/>
<path d="M1235 1428 L1233 1434 L1227 1440 L1219 1446 L1211 1451 L1202 1456 L1195 1459 L1190 1460 L1188 1460 L1189 1460" fill="none" stroke="#5a5a5a" stroke-width="17.0" stroke-linejoin="round" stroke-linecap="butt"/>
<path d="M1235 1428 L1233 1434 L1227 1440 L1219 1446 L1211 1451 L1202 1456 L1195 1459 L1190 1460 L1188 1460 L1189 1460" fill="none" stroke="#d0d0d0" stroke-width="15.0" stroke-linejoin="round" stroke-linecap="butt"/>
<path d="M1248 1472 L1245 1478 L1239 1485 L1231 1491 L1222 1496 L1214 1500 L1207 1502 L1202 1504 L1200 1504" fill="none" stroke="#5a5a5a" stroke-width="17.0" stroke-linejoin="round" stroke-linecap="butt"/>
<path d="M1248 1472 L1245 1478 L1239 1485 L1231 1491 L1222 1496 L1214 1500 L1207 1502 L1202 1504 L1200 1504" fill="none" stroke="#d0d0d0" stroke-width="15.0" stroke-linejoin="round" stroke-linecap="butt"/>
<path d="M1147 1332 L1150 1331 L1156 1330 L1165 1329 L1175 1328 L1185 1328 L1194 1330 L1201 1333 L1206 1337 L1207 1342" fill="none" stroke="#5a5a5a" stroke-width="17.0" stroke-linejoin="round" stroke-linecap="butt"/>
<path d="M1147 1332 L1150 1331 L1156 1330 L1165 1329 L1175 1328 L1185 1328 L1194 1330 L1201 1333 L1206 1337 L1207 1342" fill="none" stroke="#a4a4a4" stroke-width="15.0" stroke-linejoin="round" stroke-linecap="butt"/>
<path d="M1160 1376 L1163 1375 L1170 1373 L1179 1372 L1188 1371 L1199 1372 L1207 1374 L1214 1377 L1218 1381 L1219 1387" fill="none" stroke="#5a5a5a" stroke-width="17.0" stroke-linejoin="round" stroke-linecap="butt"/>
<path d="M1160 1376 L1163 1375 L1170 1373 L1179 1372 L1188 1371 L1199 1372 L1207 1374 L1214 1377 L1218 1381 L1219 1387" fill="none" stroke="#a4a4a4" stroke-width="15.0" stroke-linejoin="round" stroke-linecap="butt"/>
<path d="M1172 1419 L1176 1418 L1183 1417 L1192 1416 L1202 1415 L1212 1416 L1221 1418 L1227 1421 L1231 1426 L1232 1431" fill="none" stroke="#5a5a5a" stroke-width="17.0" stroke-linejoin="round" stroke-linecap="butt"/>
<path d="M1172 1419 L1176 1418 L1183 1417 L1192 1416 L1202 1415 L1212 1416 L1221 1418 L1227 1421 L1231 1426 L1232 1431" fill="none" stroke="#a4a4a4" stroke-width="15.0" stroke-linejoin="round" stroke-linecap="butt"/>
<path d="M1185 1463 L1190 1462 L1197 1460 L1206 1459 L1216 1459 L1226 1460 L1234 1462 L1241 1465 L1244 1470 L1244 1475" fill="none" stroke="#5a5a5a" stroke-width="17.0" stroke-linejoin="round" stroke-linecap="butt"/>
<path d="M1185 1463 L1190 1462 L1197 1460 L1206 1459 L1216 1459 L1226 1460 L1234 1462 L1241 1465 L1244 1470 L1244 1475" fill="none" stroke="#a4a4a4" stroke-width="15.0" stroke-linejoin="round" stroke-linecap="butt"/>
<path d="M1196 1507" fill="none" stroke="#5a5a5a" stroke-width="17.0" stroke-linejoin="round" stroke-linecap="butt"/>
<path d="M1196 1507" fill="none" stroke="#a4a4a4" stroke-width="15.0" stroke-linejoin="round" stroke-linecap="butt"/>
<path d="M1173 1322 L1164 1327 L1156 1330 L1150 1332 L1147 1333 L1147 1332" fill="none" stroke="#5a5a5a" stroke-width="17.0" stroke-linejoin="round" stroke-linecap="butt"/>
<path d="M1173 1322 L1164 1327 L1156 1330 L1150 1332 L1147 1333 L1147 1332" fill="none" stroke="#dadada" stroke-width="15.0" stroke-linejoin="round" stroke-linecap="butt"/>
<path d="M1207 1342 L1205 1348 L1200 1355 L1193 1361 L1184 1366 L1175 1371 L1168 1374 L1162 1376 L1159 1376 L1160 1376" fill="none" stroke="#5a5a5a" stroke-width="17.0" stroke-linejoin="round" stroke-linecap="butt"/>
<path d="M1207 1342 L1205 1348 L1200 1355 L1193 1361 L1184 1366 L1175 1371 L1168 1374 L1162 1376 L1159 1376 L1160 1376" fill="none" stroke="#dadada" stroke-width="15.0" stroke-linejoin="round" stroke-linecap="butt"/>
<path d="M1219 1387 L1217 1393 L1211 1399 L1204 1405 L1195 1411 L1187 1415 L1179 1418 L1174 1420 L1172 1420 L1172 1419" fill="none" stroke="#5a5a5a" stroke-width="17.0" stroke-linejoin="round" stroke-linecap="butt"/>
<path d="M1219 1387 L1217 1393 L1211 1399 L1204 1405 L1195 1411 L1187 1415 L1179 1418 L1174 1420 L1172 1420 L1172 1419" fill="none" stroke="#dadada" stroke-width="15.0" stroke-linejoin="round" stroke-linecap="butt"/>
<path d="M1232 1431 L1229 1437 L1223 1444 L1216 1450 L1207 1455 L1198 1459 L1191 1462 L1186 1463 L1184 1464 L1185 1463" fill="none" stroke="#5a5a5a" stroke-width="17.0" stroke-linejoin="round" stroke-linecap="butt"/>
<path d="M1232 1431 L1229 1437 L1223 1444 L1216 1450 L1207 1455 L1198 1459 L1191 1462 L1186 1463 L1184 1464 L1185 1463" fill="none" stroke="#dadada" stroke-width="15.0" stroke-linejoin="round" stroke-linecap="butt"/>
<path d="M1244 1475 L1241 1482 L1235 1488 L1227 1494 L1218 1499 L1210 1503 L1203 1506 L1198 1507 L1196 1507" fill="none" stroke="#5a5a5a" stroke-width="17.0" stroke-linejoin="round" stroke-linecap="butt"/>
<path d="M1244 1475 L1241 1482 L1235 1488 L1227 1494 L1218 1499 L1210 1503 L1203 1506 L1198 1507 L1196 1507" fill="none" stroke="#dadada" stroke-width="15.0" stroke-linejoin="round" stroke-linecap="butt"/>
<path d="M1149 1331 L1152 1330 L1158 1328 L1167 1327 L1176 1326 L1186 1327 L1196 1328 L1203 1331 L1207 1335 L1208 1341" fill="none" stroke="#5a5a5a" stroke-width="17.0" stroke-linejoin="round" stroke-linecap="butt"/>
<path d="M1149 1331 L1152 1330 L1158 1328 L1167 1327 L1176 1326 L1186 1327 L1196 1328 L1203 1331 L1207 1335 L1208 1341" fill="none" stroke="#acacac" stroke-width="15.0" stroke-linejoin="round" stroke-linecap="butt"/>
<path d="M1161 1374 L1165 1373 L1171 1372 L1180 1370 L1190 1370 L1200 1370 L1209 1372 L1216 1375 L1220 1380 L1221 1385" fill="none" stroke="#5a5a5a" stroke-width="17.0" stroke-linejoin="round" stroke-linecap="butt"/>
<path d="M1161 1374 L1165 1373 L1171 1372 L1180 1370 L1190 1370 L1200 1370 L1209 1372 L1216 1375 L1220 1380 L1221 1385" fill="none" stroke="#acacac" stroke-width="15.0" stroke-linejoin="round" stroke-linecap="butt"/>
<path d="M1174 1418 L1178 1417 L1185 1415 L1194 1414 L1204 1414 L1214 1414 L1222 1416 L1229 1419 L1233 1424 L1233 1429" fill="none" stroke="#5a5a5a" stroke-width="17.0" stroke-linejoin="round" stroke-linecap="butt"/>
<path d="M1174 1418 L1178 1417 L1185 1415 L1194 1414 L1204 1414 L1214 1414 L1222 1416 L1229 1419 L1233 1424 L1233 1429" fill="none" stroke="#acacac" stroke-width="15.0" stroke-linejoin="round" stroke-linecap="butt"/>
<path d="M1187 1461 L1191 1460 L1198 1459 L1207 1458 L1217 1457 L1227 1458 L1236 1460 L1242 1464 L1245 1468 L1245 1474" fill="none" stroke="#5a5a5a" stroke-width="17.0" stroke-linejoin="round" stroke-linecap="butt"/>
<path d="M1187 1461 L1191 1460 L1198 1459 L1207 1458 L1217 1457 L1227 1458 L1236 1460 L1242 1464 L1245 1468 L1245 1474" fill="none" stroke="#acacac" stroke-width="15.0" stroke-linejoin="round" stroke-linecap="butt"/>
<path d="M1198 1506" fill="none" stroke="#5a5a5a" stroke-width="17.0" stroke-linejoin="round" stroke-linecap="butt"/>
<path d="M1198 1506" fill="none" stroke="#acacac" stroke-width="15.0" stroke-linejoin="round" stroke-linecap="butt"/>
<path d="M1174 1321 L1166 1325 L1158 1329 L1152 1330 L1149 1331 L1149 1331" fill="none" stroke="#5a5a5a" stroke-width="17.0" stroke-linejoin="round" stroke-linecap="butt"/>
<path d="M1174 1321 L1166 1325 L1158 1329 L1152 1330 L1149 1331 L1149 1331" fill="none" stroke="#e4e4e4" stroke-width="15.0" stroke-linejoin="round" stroke-linecap="butt"/>
<path d="M1174 1321 L1166 1325 L1158 1329 L1152 1330 L1149 1331 L1149 1331" fill="none" stroke="#f6f6f6" stroke-width="4.5" stroke-linejoin="round" opacity="0.6"/>
<path d="M1208 1341 L1206 1347 L1201 1353 L1194 1359 L1186 1365 L1177 1369 L1169 1372 L1164 1374 L1161 1375 L1161 1374" fill="none" stroke="#5a5a5a" stroke-width="17.0" stroke-linejoin="round" stroke-linecap="butt"/>
<path d="M1208 1341 L1206 1347 L1201 1353 L1194 1359 L1186 1365 L1177 1369 L1169 1372 L1164 1374 L1161 1375 L1161 1374" fill="none" stroke="#e4e4e4" stroke-width="15.0" stroke-linejoin="round" stroke-linecap="butt"/>
<path d="M1208 1341 L1206 1347 L1201 1353 L1194 1359 L1186 1365 L1177 1369 L1169 1372 L1164 1374 L1161 1375 L1161 1374" fill="none" stroke="#f6f6f6" stroke-width="4.5" stroke-linejoin="round" opacity="0.6"/>
<path d="M1221 1385 L1218 1391 L1213 1398 L1206 1404 L1197 1409 L1188 1413 L1181 1416 L1176 1418 L1173 1418 L1174 1418" fill="none" stroke="#5a5a5a" stroke-width="17.0" stroke-linejoin="round" stroke-linecap="butt"/>
<path d="M1221 1385 L1218 1391 L1213 1398 L1206 1404 L1197 1409 L1188 1413 L1181 1416 L1176 1418 L1173 1418 L1174 1418" fill="none" stroke="#e4e4e4" stroke-width="15.0" stroke-linejoin="round" stroke-linecap="butt"/>
<path d="M1221 1385 L1218 1391 L1213 1398 L1206 1404 L1197 1409 L1188 1413 L1181 1416 L1176 1418 L1173 1418 L1174 1418" fill="none" stroke="#f6f6f6" stroke-width="4.5" stroke-linejoin="round" opacity="0.6"/>
<path d="M1233 1429 L1230 1436 L1225 1442 L1217 1448 L1209 1453 L1200 1457 L1193 1460 L1188 1462 L1186 1462 L1187 1461" fill="none" stroke="#5a5a5a" stroke-width="17.0" stroke-linejoin="round" stroke-linecap="butt"/>
<path d="M1233 1429 L1230 1436 L1225 1442 L1217 1448 L1209 1453 L1200 1457 L1193 1460 L1188 1462 L1186 1462 L1187 1461" fill="none" stroke="#e4e4e4" stroke-width="15.0" stroke-linejoin="round" stroke-linecap="butt"/>
<path d="M1233 1429 L1230 1436 L1225 1442 L1217 1448 L1209 1453 L1200 1457 L1193 1460 L1188 1462 L1186 1462 L1187 1461" fill="none" stroke="#f6f6f6" stroke-width="4.5" stroke-linejoin="round" opacity="0.6"/>
<path d="M1245 1474 L1242 1480 L1236 1486 L1229 1492 L1220 1497 L1212 1501 L1204 1504 L1200 1506 L1198 1506" fill="none" stroke="#5a5a5a" stroke-width="17.0" stroke-linejoin="round" stroke-linecap="butt"/>
<path d="M1245 1474 L1242 1480 L1236 1486 L1229 1492 L1220 1497 L1212 1501 L1204 1504 L1200 1506 L1198 1506" fill="none" stroke="#e4e4e4" stroke-width="15.0" stroke-linejoin="round" stroke-linecap="butt"/>
<path d="M1245 1474 L1242 1480 L1236 1486 L1229 1492 L1220 1497 L1212 1501 L1204 1504 L1200 1506 L1198 1506" fill="none" stroke="#f6f6f6" stroke-width="4.5" stroke-linejoin="round" opacity="0.6"/>
<path d="M1243.1 1225.6 L1317.0 1338.4" stroke="#c4c4c4" stroke-width="51.8" stroke-linecap="butt"/>
<path d="M1218 1242 L1221 1240 L1227 1236 L1235 1231 L1245 1227 L1255 1224 L1265 1222 L1273 1223 L1279 1225 L1282 1230" fill="none" stroke="#5a5a5a" stroke-width="17.0" stroke-linejoin="round" stroke-linecap="butt"/>
<path d="M1218 1242 L1221 1240 L1227 1236 L1235 1231 L1245 1227 L1255 1224 L1265 1222 L1273 1223 L1279 1225 L1282 1230" fill="none" stroke="#9a9a9a" stroke-width="15.0" stroke-linejoin="round" stroke-linecap="butt"/>
<path d="M1241 1276 L1244 1274 L1250 1269 L1259 1265 L1269 1261 L1279 1258 L1289 1256 L1297 1257 L1302 1260 L1304 1265" fill="none" stroke="#5a5a5a" stroke-width="17.0" stroke-linejoin="round" stroke-linecap="butt"/>
<path d="M1241 1276 L1244 1274 L1250 1269 L1259 1265 L1269 1261 L1279 1258 L1289 1256 L1297 1257 L1302 1260 L1304 1265" fill="none" stroke="#9a9a9a" stroke-width="15.0" stroke-linejoin="round" stroke-linecap="butt"/>
<path d="M1264 1310 L1267 1307 L1274 1303 L1282 1299 L1293 1294 L1303 1292 L1312 1290 L1320 1291 L1325 1295 L1327 1300" fill="none" stroke="#5a5a5a" stroke-width="17.0" stroke-linejoin="round" stroke-linecap="butt"/>
<path d="M1264 1310 L1267 1307 L1274 1303 L1282 1299 L1293 1294 L1303 1292 L1312 1290 L1320 1291 L1325 1295 L1327 1300" fill="none" stroke="#9a9a9a" stroke-width="15.0" stroke-linejoin="round" stroke-linecap="butt"/>
<path d="M1286 1344 L1290 1341 L1297 1337 L1306 1332 L1316 1328 L1327 1325 L1336 1325 L1343 1326 L1348 1329" fill="none" stroke="#5a5a5a" stroke-width="17.0" stroke-linejoin="round" stroke-linecap="butt"/>
<path d="M1286 1344 L1290 1341 L1297 1337 L1306 1332 L1316 1328 L1327 1325 L1336 1325 L1343 1326 L1348 1329" fill="none" stroke="#9a9a9a" stroke-width="15.0" stroke-linejoin="round" stroke-linecap="butt"/>
<path d="M1243 1226 L1235 1233 L1228 1238 L1222 1242 L1219 1243 L1218 1242" fill="none" stroke="#5a5a5a" stroke-width="17.0" stroke-linejoin="round" stroke-linecap="butt"/>
<path d="M1243 1226 L1235 1233 L1228 1238 L1222 1242 L1219 1243 L1218 1242" fill="none" stroke="#d0d0d0" stroke-width="15.0" stroke-linejoin="round" stroke-linecap="butt"/>
<path d="M1282 1230 L1281 1237 L1278 1244 L1272 1253 L1264 1261 L1257 1268 L1249 1273 L1244 1276 L1241 1277 L1241 1276" fill="none" stroke="#5a5a5a" stroke-width="17.0" stroke-linejoin="round" stroke-linecap="butt"/>
<path d="M1282 1230 L1281 1237 L1278 1244 L1272 1253 L1264 1261 L1257 1268 L1249 1273 L1244 1276 L1241 1277 L1241 1276" fill="none" stroke="#d0d0d0" stroke-width="15.0" stroke-linejoin="round" stroke-linecap="butt"/>
<path d="M1304 1265 L1303 1272 L1299 1280 L1293 1288 L1286 1296 L1278 1303 L1271 1308 L1266 1311 L1263 1312 L1264 1310" fill="none" stroke="#5a5a5a" stroke-width="17.0" stroke-linejoin="round" stroke-linecap="butt"/>
<path d="M1304 1265 L1303 1272 L1299 1280 L1293 1288 L1286 1296 L1278 1303 L1271 1308 L1266 1311 L1263 1312 L1264 1310" fill="none" stroke="#d0d0d0" stroke-width="15.0" stroke-linejoin="round" stroke-linecap="butt"/>
<path d="M1327 1300 L1325 1307 L1321 1315 L1315 1323 L1307 1331 L1299 1338 L1293 1343 L1288 1345 L1285 1346 L1286 1344" fill="none" stroke="#5a5a5a" stroke-width="17.0" stroke-linejoin="round" stroke-linecap="butt"/>
<path d="M1327 1300 L1325 1307 L1321 1315 L1315 1323 L1307 1331 L1299 1338 L1293 1343 L1288 1345 L1285 1346 L1286 1344" fill="none" stroke="#d0d0d0" stroke-width="15.0" stroke-linejoin="round" stroke-linecap="butt"/>
<path d="M1215 1246 L1217 1243 L1223 1239 L1231 1235 L1241 1231 L1252 1227 L1261 1226 L1269 1226 L1275 1229 L1278 1233" fill="none" stroke="#5a5a5a" stroke-width="17.0" stroke-linejoin="round" stroke-linecap="butt"/>
<path d="M1215 1246 L1217 1243 L1223 1239 L1231 1235 L1241 1231 L1252 1227 L1261 1226 L1269 1226 L1275 1229 L1278 1233" fill="none" stroke="#a4a4a4" stroke-width="15.0" stroke-linejoin="round" stroke-linecap="butt"/>
<path d="M1237 1280 L1240 1277 L1247 1273 L1255 1268 L1265 1264 L1275 1261 L1285 1260 L1293 1260 L1298 1263 L1300 1268" fill="none" stroke="#5a5a5a" stroke-width="17.0" stroke-linejoin="round" stroke-linecap="butt"/>
<path d="M1237 1280 L1240 1277 L1247 1273 L1255 1268 L1265 1264 L1275 1261 L1285 1260 L1293 1260 L1298 1263 L1300 1268" fill="none" stroke="#a4a4a4" stroke-width="15.0" stroke-linejoin="round" stroke-linecap="butt"/>
<path d="M1260 1314 L1263 1311 L1270 1306 L1279 1302 L1289 1298 L1299 1295 L1308 1294 L1316 1295 L1321 1298 L1323 1303" fill="none" stroke="#5a5a5a" stroke-width="17.0" stroke-linejoin="round" stroke-linecap="butt"/>
<path d="M1260 1314 L1263 1311 L1270 1306 L1279 1302 L1289 1298 L1299 1295 L1308 1294 L1316 1295 L1321 1298 L1323 1303" fill="none" stroke="#a4a4a4" stroke-width="15.0" stroke-linejoin="round" stroke-linecap="butt"/>
<path d="M1282 1347 L1287 1344 L1293 1340 L1302 1335 L1312 1332 L1323 1329 L1332 1328 L1339 1329 L1344 1333" fill="none" stroke="#5a5a5a" stroke-width="17.0" stroke-linejoin="round" stroke-linecap="butt"/>
<path d="M1282 1347 L1287 1344 L1293 1340 L1302 1335 L1312 1332 L1323 1329 L1332 1328 L1339 1329 L1344 1333" fill="none" stroke="#a4a4a4" stroke-width="15.0" stroke-linejoin="round" stroke-linecap="butt"/>
<path d="M1239 1229 L1232 1236 L1224 1242 L1218 1245 L1215 1247 L1215 1246" fill="none" stroke="#5a5a5a" stroke-width="17.0" stroke-linejoin="round" stroke-linecap="butt"/>
<path d="M1239 1229 L1232 1236 L1224 1242 L1218 1245 L1215 1247 L1215 1246" fill="none" stroke="#dadada" stroke-width="15.0" stroke-linejoin="round" stroke-linecap="butt"/>
<path d="M1278 1233 L1277 1240 L1274 1248 L1268 1256 L1261 1264 L1253 1271 L1246 1277 L1240 1280 L1237 1281 L1237 1280" fill="none" stroke="#5a5a5a" stroke-width="17.0" stroke-linejoin="round" stroke-linecap="butt"/>
<path d="M1278 1233 L1277 1240 L1274 1248 L1268 1256 L1261 1264 L1253 1271 L1246 1277 L1240 1280 L1237 1281 L1237 1280" fill="none" stroke="#dadada" stroke-width="15.0" stroke-linejoin="round" stroke-linecap="butt"/>
<path d="M1300 1268 L1299 1275 L1296 1283 L1290 1291 L1282 1299 L1274 1306 L1267 1311 L1262 1314 L1259 1315 L1260 1314" fill="none" stroke="#5a5a5a" stroke-width="17.0" stroke-linejoin="round" stroke-linecap="butt"/>
<path d="M1300 1268 L1299 1275 L1296 1283 L1290 1291 L1282 1299 L1274 1306 L1267 1311 L1262 1314 L1259 1315 L1260 1314" fill="none" stroke="#dadada" stroke-width="15.0" stroke-linejoin="round" stroke-linecap="butt"/>
<path d="M1323 1303 L1321 1310 L1317 1318 L1311 1327 L1303 1335 L1296 1341 L1289 1346 L1284 1349 L1282 1349 L1282 1347" fill="none" stroke="#5a5a5a" stroke-width="17.0" stroke-linejoin="round" stroke-linecap="butt"/>
<path d="M1323 1303 L1321 1310 L1317 1318 L1311 1327 L1303 1335 L1296 1341 L1289 1346 L1284 1349 L1282 1349 L1282 1347" fill="none" stroke="#dadada" stroke-width="15.0" stroke-linejoin="round" stroke-linecap="butt"/>
<path d="M1216 1244 L1219 1242 L1225 1238 L1233 1233 L1243 1229 L1253 1226 L1263 1224 L1271 1224 L1277 1227 L1279 1232" fill="none" stroke="#5a5a5a" stroke-width="17.0" stroke-linejoin="round" stroke-linecap="butt"/>
<path d="M1216 1244 L1219 1242 L1225 1238 L1233 1233 L1243 1229 L1253 1226 L1263 1224 L1271 1224 L1277 1227 L1279 1232" fill="none" stroke="#acacac" stroke-width="15.0" stroke-linejoin="round" stroke-linecap="butt"/>
<path d="M1239 1278 L1242 1275 L1248 1271 L1257 1267 L1267 1263 L1277 1259 L1286 1258 L1294 1259 L1300 1262 L1302 1267" fill="none" stroke="#5a5a5a" stroke-width="17.0" stroke-linejoin="round" stroke-linecap="butt"/>
<path d="M1239 1278 L1242 1275 L1248 1271 L1257 1267 L1267 1263 L1277 1259 L1286 1258 L1294 1259 L1300 1262 L1302 1267" fill="none" stroke="#acacac" stroke-width="15.0" stroke-linejoin="round" stroke-linecap="butt"/>
<path d="M1261 1312 L1265 1309 L1272 1305 L1280 1300 L1290 1296 L1301 1293 L1310 1292 L1318 1293 L1323 1296 L1324 1302" fill="none" stroke="#5a5a5a" stroke-width="17.0" stroke-linejoin="round" stroke-linecap="butt"/>
<path d="M1261 1312 L1265 1309 L1272 1305 L1280 1300 L1290 1296 L1301 1293 L1310 1292 L1318 1293 L1323 1296 L1324 1302" fill="none" stroke="#acacac" stroke-width="15.0" stroke-linejoin="round" stroke-linecap="butt"/>
<path d="M1284 1346 L1288 1343 L1295 1338 L1304 1334 L1314 1330 L1324 1327 L1334 1326 L1341 1328 L1345 1331" fill="none" stroke="#5a5a5a" stroke-width="17.0" stroke-linejoin="round" stroke-linecap="butt"/>
<path d="M1284 1346 L1288 1343 L1295 1338 L1304 1334 L1314 1330 L1324 1327 L1334 1326 L1341 1328 L1345 1331" fill="none" stroke="#acacac" stroke-width="15.0" stroke-linejoin="round" stroke-linecap="butt"/>
<path d="M1241 1227 L1233 1235 L1226 1240 L1220 1244 L1217 1245 L1216 1244" fill="none" stroke="#5a5a5a" stroke-width="17.0" stroke-linejoin="round" stroke-linecap="butt"/>
<path d="M1241 1227 L1233 1235 L1226 1240 L1220 1244 L1217 1245 L1216 1244" fill="none" stroke="#e4e4e4" stroke-width="15.0" stroke-linejoin="round" stroke-linecap="butt"/>
<path d="M1241 1227 L1233 1235 L1226 1240 L1220 1244 L1217 1245 L1216 1244" fill="none" stroke="#f6f6f6" stroke-width="4.5" stroke-linejoin="round" opacity="0.6"/>
<path d="M1279 1232 L1279 1238 L1276 1246 L1270 1255 L1262 1263 L1254 1270 L1247 1275 L1242 1278 L1239 1279 L1239 1278" fill="none" stroke="#5a5a5a" stroke-width="17.0" stroke-linejoin="round" stroke-linecap="butt"/>
<path d="M1279 1232 L1279 1238 L1276 1246 L1270 1255 L1262 1263 L1254 1270 L1247 1275 L1242 1278 L1239 1279 L1239 1278" fill="none" stroke="#e4e4e4" stroke-width="15.0" stroke-linejoin="round" stroke-linecap="butt"/>
<path d="M1279 1232 L1279 1238 L1276 1246 L1270 1255 L1262 1263 L1254 1270 L1247 1275 L1242 1278 L1239 1279 L1239 1278" fill="none" stroke="#f6f6f6" stroke-width="4.5" stroke-linejoin="round" opacity="0.6"/>
<path d="M1302 1267 L1301 1274 L1297 1281 L1291 1290 L1284 1298 L1276 1305 L1269 1310 L1264 1313 L1261 1313 L1261 1312" fill="none" stroke="#5a5a5a" stroke-width="17.0" stroke-linejoin="round" stroke-linecap="butt"/>
<path d="M1302 1267 L1301 1274 L1297 1281 L1291 1290 L1284 1298 L1276 1305 L1269 1310 L1264 1313 L1261 1313 L1261 1312" fill="none" stroke="#e4e4e4" stroke-width="15.0" stroke-linejoin="round" stroke-linecap="butt"/>
<path d="M1302 1267 L1301 1274 L1297 1281 L1291 1290 L1284 1298 L1276 1305 L1269 1310 L1264 1313 L1261 1313 L1261 1312" fill="none" stroke="#f6f6f6" stroke-width="4.5" stroke-linejoin="round" opacity="0.6"/>
<path d="M1324 1302 L1323 1309 L1319 1317 L1313 1325 L1305 1333 L1297 1340 L1290 1344 L1285 1347 L1283 1348 L1284 1346" fill="none" stroke="#5a5a5a" stroke-width="17.0" stroke-linejoin="round" stroke-linecap="butt"/>
<path d="M1324 1302 L1323 1309 L1319 1317 L1313 1325 L1305 1333 L1297 1340 L1290 1344 L1285 1347 L1283 1348 L1284 1346" fill="none" stroke="#e4e4e4" stroke-width="15.0" stroke-linejoin="round" stroke-linecap="butt"/>
<path d="M1324 1302 L1323 1309 L1319 1317 L1313 1325 L1305 1333 L1297 1340 L1290 1344 L1285 1347 L1283 1348 L1284 1346" fill="none" stroke="#f6f6f6" stroke-width="4.5" stroke-linejoin="round" opacity="0.6"/>
<path d="M1280.0 1406.4 L1320.0 1546.3" stroke="#c4c4c4" stroke-width="43.2" stroke-linecap="butt"/>
<path d="M1257 1416 L1260 1415 L1266 1414 L1273 1413 L1282 1412 L1291 1413 L1300 1414 L1306 1417 L1310 1421 L1311 1426" fill="none" stroke="#5a5a5a" stroke-width="17.0" stroke-linejoin="round" stroke-linecap="butt"/>
<path d="M1257 1416 L1260 1415 L1266 1414 L1273 1413 L1282 1412 L1291 1413 L1300 1414 L1306 1417 L1310 1421 L1311 1426" fill="none" stroke="#9a9a9a" stroke-width="15.0" stroke-linejoin="round" stroke-linecap="butt"/>
<path d="M1269 1457 L1272 1456 L1278 1455 L1286 1454 L1295 1454 L1304 1454 L1313 1456 L1319 1459 L1322 1463 L1323 1468" fill="none" stroke="#5a5a5a" stroke-width="17.0" stroke-linejoin="round" stroke-linecap="butt"/>
<path d="M1269 1457 L1272 1456 L1278 1455 L1286 1454 L1295 1454 L1304 1454 L1313 1456 L1319 1459 L1322 1463 L1323 1468" fill="none" stroke="#9a9a9a" stroke-width="15.0" stroke-linejoin="round" stroke-linecap="butt"/>
<path d="M1281 1498 L1285 1497 L1291 1496 L1299 1495 L1308 1495 L1317 1495 L1325 1497 L1331 1501 L1334 1505 L1335 1510" fill="none" stroke="#5a5a5a" stroke-width="17.0" stroke-linejoin="round" stroke-linecap="butt"/>
<path d="M1281 1498 L1285 1497 L1291 1496 L1299 1495 L1308 1495 L1317 1495 L1325 1497 L1331 1501 L1334 1505 L1335 1510" fill="none" stroke="#9a9a9a" stroke-width="15.0" stroke-linejoin="round" stroke-linecap="butt"/>
<path d="M1293 1539 L1297 1538 L1304 1537 L1312 1536 L1321 1536 L1330 1537 L1338 1539 L1344 1542 L1346 1547" fill="none" stroke="#5a5a5a" stroke-width="17.0" stroke-linejoin="round" stroke-linecap="butt"/>
<path d="M1293 1539 L1297 1538 L1304 1537 L1312 1536 L1321 1536 L1330 1537 L1338 1539 L1344 1542 L1346 1547" fill="none" stroke="#9a9a9a" stroke-width="15.0" stroke-linejoin="round" stroke-linecap="butt"/>
<path d="M1280 1406 L1272 1411 L1265 1414 L1260 1416 L1257 1416 L1257 1416" fill="none" stroke="#5a5a5a" stroke-width="17.0" stroke-linejoin="round" stroke-linecap="butt"/>
<path d="M1280 1406 L1272 1411 L1265 1414 L1260 1416 L1257 1416 L1257 1416" fill="none" stroke="#d0d0d0" stroke-width="15.0" stroke-linejoin="round" stroke-linecap="butt"/>
<path d="M1311 1426 L1310 1432 L1305 1438 L1298 1443 L1291 1448 L1283 1452 L1276 1455 L1271 1457 L1268 1458 L1269 1457" fill="none" stroke="#5a5a5a" stroke-width="17.0" stroke-linejoin="round" stroke-linecap="butt"/>
<path d="M1311 1426 L1310 1432 L1305 1438 L1298 1443 L1291 1448 L1283 1452 L1276 1455 L1271 1457 L1268 1458 L1269 1457" fill="none" stroke="#d0d0d0" stroke-width="15.0" stroke-linejoin="round" stroke-linecap="butt"/>
<path d="M1323 1468 L1321 1474 L1316 1480 L1309 1485 L1301 1490 L1294 1494 L1287 1497 L1282 1498 L1280 1499 L1281 1498" fill="none" stroke="#5a5a5a" stroke-width="17.0" stroke-linejoin="round" stroke-linecap="butt"/>
<path d="M1323 1468 L1321 1474 L1316 1480 L1309 1485 L1301 1490 L1294 1494 L1287 1497 L1282 1498 L1280 1499 L1281 1498" fill="none" stroke="#d0d0d0" stroke-width="15.0" stroke-linejoin="round" stroke-linecap="butt"/>
<path d="M1335 1510 L1332 1516 L1327 1522 L1320 1527 L1312 1532 L1304 1536 L1298 1538 L1294 1540 L1292 1540 L1293 1539" fill="none" stroke="#5a5a5a" stroke-width="17.0" stroke-linejoin="round" stroke-linecap="butt"/>
<path d="M1335 1510 L1332 1516 L1327 1522 L1320 1527 L1312 1532 L1304 1536 L1298 1538 L1294 1540 L1292 1540 L1293 1539" fill="none" stroke="#d0d0d0" stroke-width="15.0" stroke-linejoin="round" stroke-linecap="butt"/>
<path d="M1253 1419 L1256 1419 L1262 1417 L1270 1416 L1279 1416 L1288 1416 L1296 1418 L1303 1421 L1307 1425 L1308 1429" fill="none" stroke="#5a5a5a" stroke-width="17.0" stroke-linejoin="round" stroke-linecap="butt"/>
<path d="M1253 1419 L1256 1419 L1262 1417 L1270 1416 L1279 1416 L1288 1416 L1296 1418 L1303 1421 L1307 1425 L1308 1429" fill="none" stroke="#a4a4a4" stroke-width="15.0" stroke-linejoin="round" stroke-linecap="butt"/>
<path d="M1265 1461 L1268 1460 L1274 1458 L1282 1457 L1292 1457 L1301 1458 L1309 1459 L1315 1462 L1319 1466 L1319 1471" fill="none" stroke="#5a5a5a" stroke-width="17.0" stroke-linejoin="round" stroke-linecap="butt"/>
<path d="M1265 1461 L1268 1460 L1274 1458 L1282 1457 L1292 1457 L1301 1458 L1309 1459 L1315 1462 L1319 1466 L1319 1471" fill="none" stroke="#a4a4a4" stroke-width="15.0" stroke-linejoin="round" stroke-linecap="butt"/>
<path d="M1277 1502 L1281 1501 L1287 1499 L1295 1498 L1305 1498 L1314 1499 L1322 1501 L1327 1504 L1331 1508 L1331 1513" fill="none" stroke="#5a5a5a" stroke-width="17.0" stroke-linejoin="round" stroke-linecap="butt"/>
<path d="M1277 1502 L1281 1501 L1287 1499 L1295 1498 L1305 1498 L1314 1499 L1322 1501 L1327 1504 L1331 1508 L1331 1513" fill="none" stroke="#a4a4a4" stroke-width="15.0" stroke-linejoin="round" stroke-linecap="butt"/>
<path d="M1289 1543 L1293 1542 L1300 1540 L1308 1540 L1318 1539 L1327 1540 L1334 1542 L1340 1546 L1343 1550" fill="none" stroke="#5a5a5a" stroke-width="17.0" stroke-linejoin="round" stroke-linecap="butt"/>
<path d="M1289 1543 L1293 1542 L1300 1540 L1308 1540 L1318 1539 L1327 1540 L1334 1542 L1340 1546 L1343 1550" fill="none" stroke="#a4a4a4" stroke-width="15.0" stroke-linejoin="round" stroke-linecap="butt"/>
<path d="M1276 1410 L1268 1414 L1261 1417 L1256 1419 L1253 1420 L1253 1419" fill="none" stroke="#5a5a5a" stroke-width="17.0" stroke-linejoin="round" stroke-linecap="butt"/>
<path d="M1276 1410 L1268 1414 L1261 1417 L1256 1419 L1253 1420 L1253 1419" fill="none" stroke="#dadada" stroke-width="15.0" stroke-linejoin="round" stroke-linecap="butt"/>
<path d="M1308 1429 L1306 1435 L1301 1441 L1295 1447 L1287 1452 L1279 1456 L1272 1459 L1267 1460 L1265 1461 L1265 1461" fill="none" stroke="#5a5a5a" stroke-width="17.0" stroke-linejoin="round" stroke-linecap="butt"/>
<path d="M1308 1429 L1306 1435 L1301 1441 L1295 1447 L1287 1452 L1279 1456 L1272 1459 L1267 1460 L1265 1461 L1265 1461" fill="none" stroke="#dadada" stroke-width="15.0" stroke-linejoin="round" stroke-linecap="butt"/>
<path d="M1319 1471 L1317 1477 L1312 1483 L1305 1489 L1298 1493 L1290 1497 L1283 1500 L1278 1502 L1276 1502 L1277 1502" fill="none" stroke="#5a5a5a" stroke-width="17.0" stroke-linejoin="round" stroke-linecap="butt"/>
<path d="M1319 1471 L1317 1477 L1312 1483 L1305 1489 L1298 1493 L1290 1497 L1283 1500 L1278 1502 L1276 1502 L1277 1502" fill="none" stroke="#dadada" stroke-width="15.0" stroke-linejoin="round" stroke-linecap="butt"/>
<path d="M1331 1513 L1328 1519 L1323 1525 L1316 1530 L1308 1535 L1301 1539 L1294 1542 L1290 1543 L1288 1543 L1289 1543" fill="none" stroke="#5a5a5a" stroke-width="17.0" stroke-linejoin="round" stroke-linecap="butt"/>
<path d="M1331 1513 L1328 1519 L1323 1525 L1316 1530 L1308 1535 L1301 1539 L1294 1542 L1290 1543 L1288 1543 L1289 1543" fill="none" stroke="#dadada" stroke-width="15.0" stroke-linejoin="round" stroke-linecap="butt"/>
<path d="M1255 1418 L1258 1417 L1263 1416 L1271 1415 L1280 1414 L1289 1415 L1298 1416 L1304 1419 L1308 1423 L1309 1428" fill="none" stroke="#5a5a5a" stroke-width="17.0" stroke-linejoin="round" stroke-linecap="butt"/>
<path d="M1255 1418 L1258 1417 L1263 1416 L1271 1415 L1280 1414 L1289 1415 L1298 1416 L1304 1419 L1308 1423 L1309 1428" fill="none" stroke="#acacac" stroke-width="15.0" stroke-linejoin="round" stroke-linecap="butt"/>
<path d="M1267 1459 L1270 1458 L1276 1457 L1284 1456 L1293 1455 L1302 1456 L1310 1458 L1317 1461 L1320 1465 L1321 1470" fill="none" stroke="#5a5a5a" stroke-width="17.0" stroke-linejoin="round" stroke-linecap="butt"/>
<path d="M1267 1459 L1270 1458 L1276 1457 L1284 1456 L1293 1455 L1302 1456 L1310 1458 L1317 1461 L1320 1465 L1321 1470" fill="none" stroke="#acacac" stroke-width="15.0" stroke-linejoin="round" stroke-linecap="butt"/>
<path d="M1279 1500 L1282 1499 L1289 1498 L1297 1497 L1306 1497 L1315 1497 L1323 1499 L1329 1502 L1332 1507 L1333 1512" fill="none" stroke="#5a5a5a" stroke-width="17.0" stroke-linejoin="round" stroke-linecap="butt"/>
<path d="M1279 1500 L1282 1499 L1289 1498 L1297 1497 L1306 1497 L1315 1497 L1323 1499 L1329 1502 L1332 1507 L1333 1512" fill="none" stroke="#acacac" stroke-width="15.0" stroke-linejoin="round" stroke-linecap="butt"/>
<path d="M1291 1541 L1295 1540 L1302 1539 L1310 1538 L1319 1538 L1328 1539 L1336 1541 L1341 1544 L1344 1548" fill="none" stroke="#5a5a5a" stroke-width="17.0" stroke-linejoin="round" stroke-linecap="butt"/>
<path d="M1291 1541 L1295 1540 L1302 1539 L1310 1538 L1319 1538 L1328 1539 L1336 1541 L1341 1544 L1344 1548" fill="none" stroke="#acacac" stroke-width="15.0" stroke-linejoin="round" stroke-linecap="butt"/>
<path d="M1278 1408 L1270 1412 L1263 1416 L1257 1417 L1255 1418 L1255 1418" fill="none" stroke="#5a5a5a" stroke-width="17.0" stroke-linejoin="round" stroke-linecap="butt"/>
<path d="M1278 1408 L1270 1412 L1263 1416 L1257 1417 L1255 1418 L1255 1418" fill="none" stroke="#e4e4e4" stroke-width="15.0" stroke-linejoin="round" stroke-linecap="butt"/>
<path d="M1278 1408 L1270 1412 L1263 1416 L1257 1417 L1255 1418 L1255 1418" fill="none" stroke="#f6f6f6" stroke-width="4.5" stroke-linejoin="round" opacity="0.6"/>
<path d="M1309 1428 L1307 1433 L1303 1439 L1296 1445 L1289 1450 L1281 1454 L1274 1457 L1269 1459 L1266 1459 L1267 1459" fill="none" stroke="#5a5a5a" stroke-width="17.0" stroke-linejoin="round" stroke-linecap="butt"/>
<path d="M1309 1428 L1307 1433 L1303 1439 L1296 1445 L1289 1450 L1281 1454 L1274 1457 L1269 1459 L1266 1459 L1267 1459" fill="none" stroke="#e4e4e4" stroke-width="15.0" stroke-linejoin="round" stroke-linecap="butt"/>
<path d="M1309 1428 L1307 1433 L1303 1439 L1296 1445 L1289 1450 L1281 1454 L1274 1457 L1269 1459 L1266 1459 L1267 1459" fill="none" stroke="#f6f6f6" stroke-width="4.5" stroke-linejoin="round" opacity="0.6"/>
<path d="M1321 1470 L1319 1475 L1314 1481 L1307 1487 L1299 1492 L1291 1496 L1285 1499 L1280 1500 L1278 1501 L1279 1500" fill="none" stroke="#5a5a5a" stroke-width="17.0" stroke-linejoin="round" stroke-linecap="butt"/>
<path d="M1321 1470 L1319 1475 L1314 1481 L1307 1487 L1299 1492 L1291 1496 L1285 1499 L1280 1500 L1278 1501 L1279 1500" fill="none" stroke="#e4e4e4" stroke-width="15.0" stroke-linejoin="round" stroke-linecap="butt"/>
<path d="M1321 1470 L1319 1475 L1314 1481 L1307 1487 L1299 1492 L1291 1496 L1285 1499 L1280 1500 L1278 1501 L1279 1500" fill="none" stroke="#f6f6f6" stroke-width="4.5" stroke-linejoin="round" opacity="0.6"/>
<path d="M1333 1512 L1330 1517 L1325 1523 L1318 1529 L1310 1534 L1302 1538 L1296 1540 L1291 1542 L1290 1542 L1291 1541" fill="none" stroke="#5a5a5a" stroke-width="17.0" stroke-linejoin="round" stroke-linecap="butt"/>
<path d="M1333 1512 L1330 1517 L1325 1523 L1318 1529 L1310 1534 L1302 1538 L1296 1540 L1291 1542 L1290 1542 L1291 1541" fill="none" stroke="#e4e4e4" stroke-width="15.0" stroke-linejoin="round" stroke-linecap="butt"/>
<path d="M1333 1512 L1330 1517 L1325 1523 L1318 1529 L1310 1534 L1302 1538 L1296 1540 L1291 1542 L1290 1542 L1291 1541" fill="none" stroke="#f6f6f6" stroke-width="4.5" stroke-linejoin="round" opacity="0.6"/>
<path d="M1071.2 1471.8 L1144.5 1560.4" stroke="#c4c4c4" stroke-width="47.5" stroke-linecap="butt"/>
<path d="M1051 1491 L1054 1488 L1059 1484 L1066 1480 L1074 1475 L1084 1471 L1092 1469 L1100 1468 L1106 1470 L1109 1475" fill="none" stroke="#5a5a5a" stroke-width="17.0" stroke-linejoin="round" stroke-linecap="butt"/>
<path d="M1051 1491 L1054 1488 L1059 1484 L1066 1480 L1074 1475 L1084 1471 L1092 1469 L1100 1468 L1106 1470 L1109 1475" fill="none" stroke="#9a9a9a" stroke-width="15.0" stroke-linejoin="round" stroke-linecap="butt"/>
<path d="M1078 1523 L1081 1520 L1086 1516 L1093 1512 L1102 1507 L1111 1503 L1120 1501 L1128 1501 L1133 1503 L1136 1507" fill="none" stroke="#5a5a5a" stroke-width="17.0" stroke-linejoin="round" stroke-linecap="butt"/>
<path d="M1078 1523 L1081 1520 L1086 1516 L1093 1512 L1102 1507 L1111 1503 L1120 1501 L1128 1501 L1133 1503 L1136 1507" fill="none" stroke="#9a9a9a" stroke-width="15.0" stroke-linejoin="round" stroke-linecap="butt"/>
<path d="M1105 1555 L1108 1553 L1113 1549 L1121 1544 L1129 1539 L1139 1536 L1147 1534 L1155 1534 L1160 1536 L1163 1540" fill="none" stroke="#5a5a5a" stroke-width="17.0" stroke-linejoin="round" stroke-linecap="butt"/>
<path d="M1105 1555 L1108 1553 L1113 1549 L1121 1544 L1129 1539 L1139 1536 L1147 1534 L1155 1534 L1160 1536 L1163 1540" fill="none" stroke="#9a9a9a" stroke-width="15.0" stroke-linejoin="round" stroke-linecap="butt"/>
<path d="M1071 1472 L1065 1479 L1059 1485 L1054 1489 L1052 1491 L1051 1491" fill="none" stroke="#5a5a5a" stroke-width="17.0" stroke-linejoin="round" stroke-linecap="butt"/>
<path d="M1071 1472 L1065 1479 L1059 1485 L1054 1489 L1052 1491 L1051 1491" fill="none" stroke="#d0d0d0" stroke-width="15.0" stroke-linejoin="round" stroke-linecap="butt"/>
<path d="M1109 1475 L1110 1481 L1107 1488 L1103 1497 L1098 1505 L1091 1512 L1085 1518 L1081 1522 L1078 1524 L1078 1523" fill="none" stroke="#5a5a5a" stroke-width="17.0" stroke-linejoin="round" stroke-linecap="butt"/>
<path d="M1109 1475 L1110 1481 L1107 1488 L1103 1497 L1098 1505 L1091 1512 L1085 1518 L1081 1522 L1078 1524 L1078 1523" fill="none" stroke="#d0d0d0" stroke-width="15.0" stroke-linejoin="round" stroke-linecap="butt"/>
<path d="M1136 1507 L1136 1514 L1134 1521 L1130 1530 L1124 1538 L1118 1545 L1112 1551 L1107 1555 L1105 1556 L1105 1555" fill="none" stroke="#5a5a5a" stroke-width="17.0" stroke-linejoin="round" stroke-linecap="butt"/>
<path d="M1136 1507 L1136 1514 L1134 1521 L1130 1530 L1124 1538 L1118 1545 L1112 1551 L1107 1555 L1105 1556 L1105 1555" fill="none" stroke="#d0d0d0" stroke-width="15.0" stroke-linejoin="round" stroke-linecap="butt"/>
<path d="M1163 1540 L1163 1547 L1161 1555 L1156 1563 L1150 1571 L1144 1578 L1138 1584" fill="none" stroke="#5a5a5a" stroke-width="17.0" stroke-linejoin="round" stroke-linecap="butt"/>
<path d="M1163 1540 L1163 1547 L1161 1555 L1156 1563 L1150 1571 L1144 1578 L1138 1584" fill="none" stroke="#d0d0d0" stroke-width="15.0" stroke-linejoin="round" stroke-linecap="butt"/>
<path d="M1047 1494 L1050 1492 L1055 1488 L1062 1483 L1071 1478 L1080 1474 L1089 1472 L1096 1472 L1102 1474 L1105 1478" fill="none" stroke="#5a5a5a" stroke-width="17.0" stroke-linejoin="round" stroke-linecap="butt"/>
<path d="M1047 1494 L1050 1492 L1055 1488 L1062 1483 L1071 1478 L1080 1474 L1089 1472 L1096 1472 L1102 1474 L1105 1478" fill="none" stroke="#a4a4a4" stroke-width="15.0" stroke-linejoin="round" stroke-linecap="butt"/>
<path d="M1074 1526 L1077 1524 L1082 1520 L1089 1515 L1098 1510 L1107 1507 L1116 1505 L1124 1504 L1129 1506 L1132 1511" fill="none" stroke="#5a5a5a" stroke-width="17.0" stroke-linejoin="round" stroke-linecap="butt"/>
<path d="M1074 1526 L1077 1524 L1082 1520 L1089 1515 L1098 1510 L1107 1507 L1116 1505 L1124 1504 L1129 1506 L1132 1511" fill="none" stroke="#a4a4a4" stroke-width="15.0" stroke-linejoin="round" stroke-linecap="butt"/>
<path d="M1101 1559 L1104 1556 L1109 1552 L1117 1547 L1126 1543 L1135 1539 L1144 1537 L1151 1537 L1156 1539 L1159 1544" fill="none" stroke="#5a5a5a" stroke-width="17.0" stroke-linejoin="round" stroke-linecap="butt"/>
<path d="M1101 1559 L1104 1556 L1109 1552 L1117 1547 L1126 1543 L1135 1539 L1144 1537 L1151 1537 L1156 1539 L1159 1544" fill="none" stroke="#a4a4a4" stroke-width="15.0" stroke-linejoin="round" stroke-linecap="butt"/>
<path d="M1067 1475 L1061 1483 L1055 1489 L1051 1493 L1048 1495 L1047 1494" fill="none" stroke="#5a5a5a" stroke-width="17.0" stroke-linejoin="round" stroke-linecap="butt"/>
<path d="M1067 1475 L1061 1483 L1055 1489 L1051 1493 L1048 1495 L1047 1494" fill="none" stroke="#dadada" stroke-width="15.0" stroke-linejoin="round" stroke-linecap="butt"/>
<path d="M1105 1478 L1106 1484 L1104 1492 L1099 1500 L1094 1508 L1088 1516 L1082 1522 L1077 1526 L1074 1527 L1074 1526" fill="none" stroke="#5a5a5a" stroke-width="17.0" stroke-linejoin="round" stroke-linecap="butt"/>
<path d="M1105 1478 L1106 1484 L1104 1492 L1099 1500 L1094 1508 L1088 1516 L1082 1522 L1077 1526 L1074 1527 L1074 1526" fill="none" stroke="#dadada" stroke-width="15.0" stroke-linejoin="round" stroke-linecap="butt"/>
<path d="M1132 1511 L1133 1517 L1130 1525 L1126 1533 L1120 1541 L1114 1549 L1108 1555 L1104 1558 L1101 1560 L1101 1559" fill="none" stroke="#5a5a5a" stroke-width="17.0" stroke-linejoin="round" stroke-linecap="butt"/>
<path d="M1132 1511 L1133 1517 L1130 1525 L1126 1533 L1120 1541 L1114 1549 L1108 1555 L1104 1558 L1101 1560 L1101 1559" fill="none" stroke="#dadada" stroke-width="15.0" stroke-linejoin="round" stroke-linecap="butt"/>
<path d="M1159 1544 L1159 1550 L1157 1558 L1152 1566 L1147 1575 L1140 1582 L1135 1587" fill="none" stroke="#5a5a5a" stroke-width="17.0" stroke-linejoin="round" stroke-linecap="butt"/>
<path d="M1159 1544 L1159 1550 L1157 1558 L1152 1566 L1147 1575 L1140 1582 L1135 1587" fill="none" stroke="#dadada" stroke-width="15.0" stroke-linejoin="round" stroke-linecap="butt"/>
<path d="M1049 1492 L1051 1490 L1056 1486 L1064 1481 L1072 1477 L1081 1473 L1090 1471 L1098 1470 L1104 1472 L1107 1476" fill="none" stroke="#5a5a5a" stroke-width="17.0" stroke-linejoin="round" stroke-linecap="butt"/>
<path d="M1049 1492 L1051 1490 L1056 1486 L1064 1481 L1072 1477 L1081 1473 L1090 1471 L1098 1470 L1104 1472 L1107 1476" fill="none" stroke="#acacac" stroke-width="15.0" stroke-linejoin="round" stroke-linecap="butt"/>
<path d="M1076 1525 L1079 1522 L1084 1518 L1091 1514 L1100 1509 L1109 1505 L1118 1503 L1125 1503 L1131 1505 L1134 1509" fill="none" stroke="#5a5a5a" stroke-width="17.0" stroke-linejoin="round" stroke-linecap="butt"/>
<path d="M1076 1525 L1079 1522 L1084 1518 L1091 1514 L1100 1509 L1109 1505 L1118 1503 L1125 1503 L1131 1505 L1134 1509" fill="none" stroke="#acacac" stroke-width="15.0" stroke-linejoin="round" stroke-linecap="butt"/>
<path d="M1103 1557 L1106 1554 L1111 1550 L1119 1546 L1127 1541 L1137 1537 L1145 1535 L1153 1535 L1158 1538 L1161 1542" fill="none" stroke="#5a5a5a" stroke-width="17.0" stroke-linejoin="round" stroke-linecap="butt"/>
<path d="M1103 1557 L1106 1554 L1111 1550 L1119 1546 L1127 1541 L1137 1537 L1145 1535 L1153 1535 L1158 1538 L1161 1542" fill="none" stroke="#acacac" stroke-width="15.0" stroke-linejoin="round" stroke-linecap="butt"/>
<path d="M1069 1474 L1063 1481 L1057 1487 L1052 1491 L1049 1493 L1049 1492" fill="none" stroke="#5a5a5a" stroke-width="17.0" stroke-linejoin="round" stroke-linecap="butt"/>
<path d="M1069 1474 L1063 1481 L1057 1487 L1052 1491 L1049 1493 L1049 1492" fill="none" stroke="#e4e4e4" stroke-width="15.0" stroke-linejoin="round" stroke-linecap="butt"/>
<path d="M1069 1474 L1063 1481 L1057 1487 L1052 1491 L1049 1493 L1049 1492" fill="none" stroke="#f6f6f6" stroke-width="4.5" stroke-linejoin="round" opacity="0.6"/>
<path d="M1107 1476 L1107 1482 L1105 1490 L1101 1498 L1095 1507 L1089 1514 L1083 1520 L1079 1524 L1076 1526 L1076 1525" fill="none" stroke="#5a5a5a" stroke-width="17.0" stroke-linejoin="round" stroke-linecap="butt"/>
<path d="M1107 1476 L1107 1482 L1105 1490 L1101 1498 L1095 1507 L1089 1514 L1083 1520 L1079 1524 L1076 1526 L1076 1525" fill="none" stroke="#e4e4e4" stroke-width="15.0" stroke-linejoin="round" stroke-linecap="butt"/>
<path d="M1107 1476 L1107 1482 L1105 1490 L1101 1498 L1095 1507 L1089 1514 L1083 1520 L1079 1524 L1076 1526 L1076 1525" fill="none" stroke="#f6f6f6" stroke-width="4.5" stroke-linejoin="round" opacity="0.6"/>
<path d="M1134 1509 L1134 1516 L1132 1523 L1127 1532 L1122 1540 L1116 1547 L1110 1553 L1105 1557 L1103 1558 L1103 1557" fill="none" stroke="#5a5a5a" stroke-width="17.0" stroke-linejoin="round" stroke-linecap="butt"/>
<path d="M1134 1509 L1134 1516 L1132 1523 L1127 1532 L1122 1540 L1116 1547 L1110 1553 L1105 1557 L1103 1558 L1103 1557" fill="none" stroke="#e4e4e4" stroke-width="15.0" stroke-linejoin="round" stroke-linecap="butt"/>
<path d="M1134 1509 L1134 1516 L1132 1523 L1127 1532 L1122 1540 L1116 1547 L1110 1553 L1105 1557 L1103 1558 L1103 1557" fill="none" stroke="#f6f6f6" stroke-width="4.5" stroke-linejoin="round" opacity="0.6"/>
<path d="M1161 1542 L1161 1549 L1158 1556 L1154 1565 L1148 1573 L1142 1580 L1136 1586" fill="none" stroke="#5a5a5a" stroke-width="17.0" stroke-linejoin="round" stroke-linecap="butt"/>
<path d="M1161 1542 L1161 1549 L1158 1556 L1154 1565 L1148 1573 L1142 1580 L1136 1586" fill="none" stroke="#e4e4e4" stroke-width="15.0" stroke-linejoin="round" stroke-linecap="butt"/>
<path d="M1161 1542 L1161 1549 L1158 1556 L1154 1565 L1148 1573 L1142 1580 L1136 1586" fill="none" stroke="#f6f6f6" stroke-width="4.5" stroke-linejoin="round" opacity="0.6"/>
<path d="M1039.9 1562.2 L1140.4 1735.0" stroke="#c4c4c4" stroke-width="56.1" stroke-linecap="butt"/>
<path d="M1013 1580 L1016 1578 L1023 1574 L1033 1570 L1044 1566 L1055 1564 L1066 1563 L1075 1564 L1081 1568 L1084 1573" fill="none" stroke="#5a5a5a" stroke-width="17.0" stroke-linejoin="round" stroke-linecap="butt"/>
<path d="M1013 1580 L1016 1578 L1023 1574 L1033 1570 L1044 1566 L1055 1564 L1066 1563 L1075 1564 L1081 1568 L1084 1573" fill="none" stroke="#9a9a9a" stroke-width="15.0" stroke-linejoin="round" stroke-linecap="butt"/>
<path d="M1039 1624 L1043 1621 L1050 1617 L1060 1613 L1071 1609 L1082 1607 L1093 1606 L1101 1608 L1107 1612 L1109 1618" fill="none" stroke="#5a5a5a" stroke-width="17.0" stroke-linejoin="round" stroke-linecap="butt"/>
<path d="M1039 1624 L1043 1621 L1050 1617 L1060 1613 L1071 1609 L1082 1607 L1093 1606 L1101 1608 L1107 1612 L1109 1618" fill="none" stroke="#9a9a9a" stroke-width="15.0" stroke-linejoin="round" stroke-linecap="butt"/>
<path d="M1064 1667 L1069 1664 L1077 1660 L1087 1656 L1098 1652 L1109 1650 L1120 1650 L1128 1652 L1133 1656 L1134 1663" fill="none" stroke="#5a5a5a" stroke-width="17.0" stroke-linejoin="round" stroke-linecap="butt"/>
<path d="M1064 1667 L1069 1664 L1077 1660 L1087 1656 L1098 1652 L1109 1650 L1120 1650 L1128 1652 L1133 1656 L1134 1663" fill="none" stroke="#9a9a9a" stroke-width="15.0" stroke-linejoin="round" stroke-linecap="butt"/>
<path d="M1088 1711 L1090 1710 L1095 1706 L1103 1702 L1114 1698 L1125 1695 L1137 1693 L1147 1694 L1154 1696 L1159 1701" fill="none" stroke="#5a5a5a" stroke-width="17.0" stroke-linejoin="round" stroke-linecap="butt"/>
<path d="M1088 1711 L1090 1710 L1095 1706 L1103 1702 L1114 1698 L1125 1695 L1137 1693 L1147 1694 L1154 1696 L1159 1701" fill="none" stroke="#9a9a9a" stroke-width="15.0" stroke-linejoin="round" stroke-linecap="butt"/>
<path d="M1114 1755 L1116 1753 L1122 1749" fill="none" stroke="#5a5a5a" stroke-width="17.0" stroke-linejoin="round" stroke-linecap="butt"/>
<path d="M1114 1755 L1116 1753 L1122 1749" fill="none" stroke="#9a9a9a" stroke-width="15.0" stroke-linejoin="round" stroke-linecap="butt"/>
<path d="M1040 1562 L1031 1570 L1023 1576 L1017 1580 L1013 1581 L1013 1580" fill="none" stroke="#5a5a5a" stroke-width="17.0" stroke-linejoin="round" stroke-linecap="butt"/>
<path d="M1040 1562 L1031 1570 L1023 1576 L1017 1580 L1013 1581 L1013 1580" fill="none" stroke="#d0d0d0" stroke-width="15.0" stroke-linejoin="round" stroke-linecap="butt"/>
<path d="M1084 1573 L1083 1581 L1079 1589 L1072 1598 L1064 1607 L1055 1614 L1047 1620 L1041 1623 L1038 1625 L1039 1624" fill="none" stroke="#5a5a5a" stroke-width="17.0" stroke-linejoin="round" stroke-linecap="butt"/>
<path d="M1084 1573 L1083 1581 L1079 1589 L1072 1598 L1064 1607 L1055 1614 L1047 1620 L1041 1623 L1038 1625 L1039 1624" fill="none" stroke="#d0d0d0" stroke-width="15.0" stroke-linejoin="round" stroke-linecap="butt"/>
<path d="M1109 1618 L1108 1626 L1103 1634 L1096 1643 L1087 1652 L1079 1659 L1071 1664 L1066 1667 L1063 1668 L1064 1667" fill="none" stroke="#5a5a5a" stroke-width="17.0" stroke-linejoin="round" stroke-linecap="butt"/>
<path d="M1109 1618 L1108 1626 L1103 1634 L1096 1643 L1087 1652 L1079 1659 L1071 1664 L1066 1667 L1063 1668 L1064 1667" fill="none" stroke="#d0d0d0" stroke-width="15.0" stroke-linejoin="round" stroke-linecap="butt"/>
<path d="M1134 1663 L1132 1671 L1127 1679 L1120 1688 L1111 1697 L1103 1703 L1095 1708 L1090 1711 L1088 1711" fill="none" stroke="#5a5a5a" stroke-width="17.0" stroke-linejoin="round" stroke-linecap="butt"/>
<path d="M1134 1663 L1132 1671 L1127 1679 L1120 1688 L1111 1697 L1103 1703 L1095 1708 L1090 1711 L1088 1711" fill="none" stroke="#d0d0d0" stroke-width="15.0" stroke-linejoin="round" stroke-linecap="butt"/>
<path d="M1159 1701 L1159 1707 L1157 1715 L1151 1724 L1144 1733 L1135 1741 L1126 1748 L1119 1752 L1115 1755 L1114 1755" fill="none" stroke="#5a5a5a" stroke-width="17.0" stroke-linejoin="round" stroke-linecap="butt"/>
<path d="M1159 1701 L1159 1707 L1157 1715 L1151 1724 L1144 1733 L1135 1741 L1126 1748 L1119 1752 L1115 1755 L1114 1755" fill="none" stroke="#d0d0d0" stroke-width="15.0" stroke-linejoin="round" stroke-linecap="butt"/>
<path d="M1009 1584 L1013 1581 L1019 1578 L1029 1574 L1040 1570 L1051 1567 L1062 1566 L1071 1568 L1077 1571 L1080 1577" fill="none" stroke="#5a5a5a" stroke-width="17.0" stroke-linejoin="round" stroke-linecap="butt"/>
<path d="M1009 1584 L1013 1581 L1019 1578 L1029 1574 L1040 1570 L1051 1567 L1062 1566 L1071 1568 L1077 1571 L1080 1577" fill="none" stroke="#a4a4a4" stroke-width="15.0" stroke-linejoin="round" stroke-linecap="butt"/>
<path d="M1035 1627 L1039 1624 L1046 1620 L1056 1616 L1067 1613 L1079 1610 L1089 1610 L1098 1611 L1103 1615 L1105 1621" fill="none" stroke="#5a5a5a" stroke-width="17.0" stroke-linejoin="round" stroke-linecap="butt"/>
<path d="M1035 1627 L1039 1624 L1046 1620 L1056 1616 L1067 1613 L1079 1610 L1089 1610 L1098 1611 L1103 1615 L1105 1621" fill="none" stroke="#a4a4a4" stroke-width="15.0" stroke-linejoin="round" stroke-linecap="butt"/>
<path d="M1061 1670 L1065 1667 L1073 1663 L1083 1659 L1094 1656 L1106 1654 L1116 1653 L1124 1655 L1129 1660 L1130 1666" fill="none" stroke="#5a5a5a" stroke-width="17.0" stroke-linejoin="round" stroke-linecap="butt"/>
<path d="M1061 1670 L1065 1667 L1073 1663 L1083 1659 L1094 1656 L1106 1654 L1116 1653 L1124 1655 L1129 1660 L1130 1666" fill="none" stroke="#a4a4a4" stroke-width="15.0" stroke-linejoin="round" stroke-linecap="butt"/>
<path d="M1085 1715 L1086 1713 L1091 1710 L1100 1706 L1110 1702 L1121 1699 L1133 1697 L1143 1697 L1150 1699 L1155 1704" fill="none" stroke="#5a5a5a" stroke-width="17.0" stroke-linejoin="round" stroke-linecap="butt"/>
<path d="M1085 1715 L1086 1713 L1091 1710 L1100 1706 L1110 1702 L1121 1699 L1133 1697 L1143 1697 L1150 1699 L1155 1704" fill="none" stroke="#a4a4a4" stroke-width="15.0" stroke-linejoin="round" stroke-linecap="butt"/>
<path d="M1110 1758 L1112 1756 L1118 1753" fill="none" stroke="#5a5a5a" stroke-width="17.0" stroke-linejoin="round" stroke-linecap="butt"/>
<path d="M1110 1758 L1112 1756 L1118 1753" fill="none" stroke="#a4a4a4" stroke-width="15.0" stroke-linejoin="round" stroke-linecap="butt"/>
<path d="M1036 1566 L1027 1573 L1019 1579 L1013 1583 L1009 1585 L1009 1584" fill="none" stroke="#5a5a5a" stroke-width="17.0" stroke-linejoin="round" stroke-linecap="butt"/>
<path d="M1036 1566 L1027 1573 L1019 1579 L1013 1583 L1009 1585 L1009 1584" fill="none" stroke="#dadada" stroke-width="15.0" stroke-linejoin="round" stroke-linecap="butt"/>
<path d="M1080 1577 L1079 1584 L1075 1593 L1068 1602 L1060 1610 L1051 1618 L1043 1623 L1037 1627 L1034 1628 L1035 1627" fill="none" stroke="#5a5a5a" stroke-width="17.0" stroke-linejoin="round" stroke-linecap="butt"/>
<path d="M1080 1577 L1079 1584 L1075 1593 L1068 1602 L1060 1610 L1051 1618 L1043 1623 L1037 1627 L1034 1628 L1035 1627" fill="none" stroke="#dadada" stroke-width="15.0" stroke-linejoin="round" stroke-linecap="butt"/>
<path d="M1105 1621 L1104 1629 L1099 1638 L1092 1647 L1084 1655 L1075 1662 L1067 1668 L1062 1671 L1059 1671 L1061 1670" fill="none" stroke="#5a5a5a" stroke-width="17.0" stroke-linejoin="round" stroke-linecap="butt"/>
<path d="M1105 1621 L1104 1629 L1099 1638 L1092 1647 L1084 1655 L1075 1662 L1067 1668 L1062 1671 L1059 1671 L1061 1670" fill="none" stroke="#dadada" stroke-width="15.0" stroke-linejoin="round" stroke-linecap="butt"/>
<path d="M1130 1666 L1128 1674 L1123 1683 L1116 1692 L1107 1700 L1099 1707 L1091 1712 L1086 1714 L1085 1715" fill="none" stroke="#5a5a5a" stroke-width="17.0" stroke-linejoin="round" stroke-linecap="butt"/>
<path d="M1130 1666 L1128 1674 L1123 1683 L1116 1692 L1107 1700 L1099 1707 L1091 1712 L1086 1714 L1085 1715" fill="none" stroke="#dadada" stroke-width="15.0" stroke-linejoin="round" stroke-linecap="butt"/>
<path d="M1155 1704 L1156 1711 L1153 1719 L1147 1728 L1140 1737 L1131 1745 L1123 1751 L1116 1756 L1111 1758 L1110 1758" fill="none" stroke="#5a5a5a" stroke-width="17.0" stroke-linejoin="round" stroke-linecap="butt"/>
<path d="M1155 1704 L1156 1711 L1153 1719 L1147 1728 L1140 1737 L1131 1745 L1123 1751 L1116 1756 L1111 1758 L1110 1758" fill="none" stroke="#dadada" stroke-width="15.0" stroke-linejoin="round" stroke-linecap="butt"/>
<path d="M1011 1582 L1014 1580 L1021 1576 L1030 1572 L1041 1568 L1053 1566 L1064 1565 L1073 1566 L1079 1570 L1082 1575" fill="none" stroke="#5a5a5a" stroke-width="17.0" stroke-linejoin="round" stroke-linecap="butt"/>
<path d="M1011 1582 L1014 1580 L1021 1576 L1030 1572 L1041 1568 L1053 1566 L1064 1565 L1073 1566 L1079 1570 L1082 1575" fill="none" stroke="#acacac" stroke-width="15.0" stroke-linejoin="round" stroke-linecap="butt"/>
<path d="M1036 1625 L1040 1623 L1048 1619 L1057 1615 L1069 1611 L1080 1609 L1091 1608 L1099 1610 L1105 1614 L1107 1620" fill="none" stroke="#5a5a5a" stroke-width="17.0" stroke-linejoin="round" stroke-linecap="butt"/>
<path d="M1036 1625 L1040 1623 L1048 1619 L1057 1615 L1069 1611 L1080 1609 L1091 1608 L1099 1610 L1105 1614 L1107 1620" fill="none" stroke="#acacac" stroke-width="15.0" stroke-linejoin="round" stroke-linecap="butt"/>
<path d="M1062 1668 L1067 1665 L1074 1662 L1084 1658 L1096 1654 L1107 1652 L1118 1652 L1126 1654 L1131 1658 L1132 1664" fill="none" stroke="#5a5a5a" stroke-width="17.0" stroke-linejoin="round" stroke-linecap="butt"/>
<path d="M1062 1668 L1067 1665 L1074 1662 L1084 1658 L1096 1654 L1107 1652 L1118 1652 L1126 1654 L1131 1658 L1132 1664" fill="none" stroke="#acacac" stroke-width="15.0" stroke-linejoin="round" stroke-linecap="butt"/>
<path d="M1086 1713 L1088 1711 L1093 1708 L1101 1704 L1112 1700 L1123 1697 L1134 1695 L1144 1695 L1152 1698 L1156 1702" fill="none" stroke="#5a5a5a" stroke-width="17.0" stroke-linejoin="round" stroke-linecap="butt"/>
<path d="M1086 1713 L1088 1711 L1093 1708 L1101 1704 L1112 1700 L1123 1697 L1134 1695 L1144 1695 L1152 1698 L1156 1702" fill="none" stroke="#acacac" stroke-width="15.0" stroke-linejoin="round" stroke-linecap="butt"/>
<path d="M1111 1756 L1114 1754 L1119 1751" fill="none" stroke="#5a5a5a" stroke-width="17.0" stroke-linejoin="round" stroke-linecap="butt"/>
<path d="M1111 1756 L1114 1754 L1119 1751" fill="none" stroke="#acacac" stroke-width="15.0" stroke-linejoin="round" stroke-linecap="butt"/>
<path d="M1038 1564 L1029 1572 L1021 1578 L1015 1581 L1011 1583 L1011 1582" fill="none" stroke="#5a5a5a" stroke-width="17.0" stroke-linejoin="round" stroke-linecap="butt"/>
<path d="M1038 1564 L1029 1572 L1021 1578 L1015 1581 L1011 1583 L1011 1582" fill="none" stroke="#e4e4e4" stroke-width="15.0" stroke-linejoin="round" stroke-linecap="butt"/>
<path d="M1038 1564 L1029 1572 L1021 1578 L1015 1581 L1011 1583 L1011 1582" fill="none" stroke="#f6f6f6" stroke-width="4.5" stroke-linejoin="round" opacity="0.6"/>
<path d="M1082 1575 L1081 1583 L1077 1591 L1070 1600 L1061 1609 L1053 1616 L1045 1622 L1039 1625 L1036 1626 L1036 1625" fill="none" stroke="#5a5a5a" stroke-width="17.0" stroke-linejoin="round" stroke-linecap="butt"/>
<path d="M1082 1575 L1081 1583 L1077 1591 L1070 1600 L1061 1609 L1053 1616 L1045 1622 L1039 1625 L1036 1626 L1036 1625" fill="none" stroke="#e4e4e4" stroke-width="15.0" stroke-linejoin="round" stroke-linecap="butt"/>
<path d="M1082 1575 L1081 1583 L1077 1591 L1070 1600 L1061 1609 L1053 1616 L1045 1622 L1039 1625 L1036 1626 L1036 1625" fill="none" stroke="#f6f6f6" stroke-width="4.5" stroke-linejoin="round" opacity="0.6"/>
<path d="M1107 1620 L1105 1628 L1101 1636 L1094 1645 L1085 1654 L1077 1661 L1069 1666 L1064 1669 L1061 1670 L1062 1668" fill="none" stroke="#5a5a5a" stroke-width="17.0" stroke-linejoin="round" stroke-linecap="butt"/>
<path d="M1107 1620 L1105 1628 L1101 1636 L1094 1645 L1085 1654 L1077 1661 L1069 1666 L1064 1669 L1061 1670 L1062 1668" fill="none" stroke="#e4e4e4" stroke-width="15.0" stroke-linejoin="round" stroke-linecap="butt"/>
<path d="M1107 1620 L1105 1628 L1101 1636 L1094 1645 L1085 1654 L1077 1661 L1069 1666 L1064 1669 L1061 1670 L1062 1668" fill="none" stroke="#f6f6f6" stroke-width="4.5" stroke-linejoin="round" opacity="0.6"/>
<path d="M1132 1664 L1130 1672 L1125 1681 L1118 1690 L1109 1698 L1100 1705 L1093 1710 L1088 1713 L1086 1713" fill="none" stroke="#5a5a5a" stroke-width="17.0" stroke-linejoin="round" stroke-linecap="butt"/>
<path d="M1132 1664 L1130 1672 L1125 1681 L1118 1690 L1109 1698 L1100 1705 L1093 1710 L1088 1713 L1086 1713" fill="none" stroke="#e4e4e4" stroke-width="15.0" stroke-linejoin="round" stroke-linecap="butt"/>
<path d="M1132 1664 L1130 1672 L1125 1681 L1118 1690 L1109 1698 L1100 1705 L1093 1710 L1088 1713 L1086 1713" fill="none" stroke="#f6f6f6" stroke-width="4.5" stroke-linejoin="round" opacity="0.6"/>
<path d="M1156 1702 L1157 1709 L1155 1717 L1149 1726 L1141 1735 L1133 1743 L1124 1750 L1117 1754 L1113 1756 L1111 1756" fill="none" stroke="#5a5a5a" stroke-width="17.0" stroke-linejoin="round" stroke-linecap="butt"/>
<path d="M1156 1702 L1157 1709 L1155 1717 L1149 1726 L1141 1735 L1133 1743 L1124 1750 L1117 1754 L1113 1756 L1111 1756" fill="none" stroke="#e4e4e4" stroke-width="15.0" stroke-linejoin="round" stroke-linecap="butt"/>
<path d="M1156 1702 L1157 1709 L1155 1717 L1149 1726 L1141 1735 L1133 1743 L1124 1750 L1117 1754 L1113 1756 L1111 1756" fill="none" stroke="#f6f6f6" stroke-width="4.5" stroke-linejoin="round" opacity="0.6"/>
<path d="M1141.8 1534.6 L1215.2 1638.9" stroke="#c4c4c4" stroke-width="51.8" stroke-linecap="butt"/>
<path d="M1119 1554 L1121 1551 L1127 1547 L1135 1543 L1145 1539 L1156 1535 L1165 1533 L1174 1534 L1180 1536 L1183 1541" fill="none" stroke="#5a5a5a" stroke-width="17.0" stroke-linejoin="round" stroke-linecap="butt"/>
<path d="M1119 1554 L1121 1551 L1127 1547 L1135 1543 L1145 1539 L1156 1535 L1165 1533 L1174 1534 L1180 1536 L1183 1541" fill="none" stroke="#9a9a9a" stroke-width="15.0" stroke-linejoin="round" stroke-linecap="butt"/>
<path d="M1146 1592 L1149 1589 L1155 1585 L1163 1581 L1173 1576 L1183 1573 L1193 1572 L1201 1572 L1207 1575 L1210 1580" fill="none" stroke="#5a5a5a" stroke-width="17.0" stroke-linejoin="round" stroke-linecap="butt"/>
<path d="M1146 1592 L1149 1589 L1155 1585 L1163 1581 L1173 1576 L1183 1573 L1193 1572 L1201 1572 L1207 1575 L1210 1580" fill="none" stroke="#9a9a9a" stroke-width="15.0" stroke-linejoin="round" stroke-linecap="butt"/>
<path d="M1173 1630 L1176 1627 L1182 1623 L1191 1619 L1200 1614 L1211 1611 L1221 1610 L1229 1610 L1234 1613 L1237 1619" fill="none" stroke="#5a5a5a" stroke-width="17.0" stroke-linejoin="round" stroke-linecap="butt"/>
<path d="M1173 1630 L1176 1627 L1182 1623 L1191 1619 L1200 1614 L1211 1611 L1221 1610 L1229 1610 L1234 1613 L1237 1619" fill="none" stroke="#9a9a9a" stroke-width="15.0" stroke-linejoin="round" stroke-linecap="butt"/>
<path d="M1142 1535 L1134 1542 L1127 1548 L1122 1552 L1119 1554 L1119 1554" fill="none" stroke="#5a5a5a" stroke-width="17.0" stroke-linejoin="round" stroke-linecap="butt"/>
<path d="M1142 1535 L1134 1542 L1127 1548 L1122 1552 L1119 1554 L1119 1554" fill="none" stroke="#d0d0d0" stroke-width="15.0" stroke-linejoin="round" stroke-linecap="butt"/>
<path d="M1183 1541 L1183 1548 L1180 1556 L1175 1565 L1168 1573 L1161 1581 L1154 1587 L1149 1591 L1146 1592 L1146 1592" fill="none" stroke="#5a5a5a" stroke-width="17.0" stroke-linejoin="round" stroke-linecap="butt"/>
<path d="M1183 1541 L1183 1548 L1180 1556 L1175 1565 L1168 1573 L1161 1581 L1154 1587 L1149 1591 L1146 1592 L1146 1592" fill="none" stroke="#d0d0d0" stroke-width="15.0" stroke-linejoin="round" stroke-linecap="butt"/>
<path d="M1210 1580 L1210 1587 L1207 1595 L1201 1604 L1194 1612 L1187 1620 L1180 1626 L1175 1629 L1172 1631 L1173 1630" fill="none" stroke="#5a5a5a" stroke-width="17.0" stroke-linejoin="round" stroke-linecap="butt"/>
<path d="M1210 1580 L1210 1587 L1207 1595 L1201 1604 L1194 1612 L1187 1620 L1180 1626 L1175 1629 L1172 1631 L1173 1630" fill="none" stroke="#d0d0d0" stroke-width="15.0" stroke-linejoin="round" stroke-linecap="butt"/>
<path d="M1237 1619 L1236 1626 L1233 1634 L1228 1643 L1221 1651 L1213 1658 L1207 1664" fill="none" stroke="#5a5a5a" stroke-width="17.0" stroke-linejoin="round" stroke-linecap="butt"/>
<path d="M1237 1619 L1236 1626 L1233 1634 L1228 1643 L1221 1651 L1213 1658 L1207 1664" fill="none" stroke="#d0d0d0" stroke-width="15.0" stroke-linejoin="round" stroke-linecap="butt"/>
<path d="M1115 1557 L1118 1555 L1123 1551 L1132 1546 L1141 1542 L1152 1539 L1162 1537 L1170 1537 L1176 1540 L1179 1545" fill="none" stroke="#5a5a5a" stroke-width="17.0" stroke-linejoin="round" stroke-linecap="butt"/>
<path d="M1115 1557 L1118 1555 L1123 1551 L1132 1546 L1141 1542 L1152 1539 L1162 1537 L1170 1537 L1176 1540 L1179 1545" fill="none" stroke="#a4a4a4" stroke-width="15.0" stroke-linejoin="round" stroke-linecap="butt"/>
<path d="M1142 1595 L1145 1593 L1151 1589 L1159 1584 L1169 1580 L1179 1577 L1189 1575 L1197 1575 L1203 1578 L1206 1583" fill="none" stroke="#5a5a5a" stroke-width="17.0" stroke-linejoin="round" stroke-linecap="butt"/>
<path d="M1142 1595 L1145 1593 L1151 1589 L1159 1584 L1169 1580 L1179 1577 L1189 1575 L1197 1575 L1203 1578 L1206 1583" fill="none" stroke="#a4a4a4" stroke-width="15.0" stroke-linejoin="round" stroke-linecap="butt"/>
<path d="M1169 1633 L1172 1630 L1178 1626 L1187 1622 L1197 1618 L1207 1615 L1217 1613 L1225 1614 L1230 1617 L1233 1622" fill="none" stroke="#5a5a5a" stroke-width="17.0" stroke-linejoin="round" stroke-linecap="butt"/>
<path d="M1169 1633 L1172 1630 L1178 1626 L1187 1622 L1197 1618 L1207 1615 L1217 1613 L1225 1614 L1230 1617 L1233 1622" fill="none" stroke="#a4a4a4" stroke-width="15.0" stroke-linejoin="round" stroke-linecap="butt"/>
<path d="M1138 1538 L1131 1546 L1124 1552 L1118 1556 L1115 1558 L1115 1557" fill="none" stroke="#5a5a5a" stroke-width="17.0" stroke-linejoin="round" stroke-linecap="butt"/>
<path d="M1138 1538 L1131 1546 L1124 1552 L1118 1556 L1115 1558 L1115 1557" fill="none" stroke="#dadada" stroke-width="15.0" stroke-linejoin="round" stroke-linecap="butt"/>
<path d="M1179 1545 L1179 1551 L1176 1560 L1171 1568 L1164 1577 L1157 1584 L1150 1590 L1145 1594 L1142 1596 L1142 1595" fill="none" stroke="#5a5a5a" stroke-width="17.0" stroke-linejoin="round" stroke-linecap="butt"/>
<path d="M1179 1545 L1179 1551 L1176 1560 L1171 1568 L1164 1577 L1157 1584 L1150 1590 L1145 1594 L1142 1596 L1142 1595" fill="none" stroke="#dadada" stroke-width="15.0" stroke-linejoin="round" stroke-linecap="butt"/>
<path d="M1206 1583 L1206 1590 L1203 1598 L1197 1607 L1191 1616 L1183 1623 L1176 1629 L1171 1633 L1169 1634 L1169 1633" fill="none" stroke="#5a5a5a" stroke-width="17.0" stroke-linejoin="round" stroke-linecap="butt"/>
<path d="M1206 1583 L1206 1590 L1203 1598 L1197 1607 L1191 1616 L1183 1623 L1176 1629 L1171 1633 L1169 1634 L1169 1633" fill="none" stroke="#dadada" stroke-width="15.0" stroke-linejoin="round" stroke-linecap="butt"/>
<path d="M1233 1622 L1233 1629 L1229 1637 L1224 1646 L1217 1654 L1209 1662 L1203 1667" fill="none" stroke="#5a5a5a" stroke-width="17.0" stroke-linejoin="round" stroke-linecap="butt"/>
<path d="M1233 1622 L1233 1629 L1229 1637 L1224 1646 L1217 1654 L1209 1662 L1203 1667" fill="none" stroke="#dadada" stroke-width="15.0" stroke-linejoin="round" stroke-linecap="butt"/>
<path d="M1116 1555 L1119 1553 L1125 1549 L1133 1545 L1143 1540 L1153 1537 L1163 1535 L1172 1536 L1178 1538 L1181 1543" fill="none" stroke="#5a5a5a" stroke-width="17.0" stroke-linejoin="round" stroke-linecap="butt"/>
<path d="M1116 1555 L1119 1553 L1125 1549 L1133 1545 L1143 1540 L1153 1537 L1163 1535 L1172 1536 L1178 1538 L1181 1543" fill="none" stroke="#acacac" stroke-width="15.0" stroke-linejoin="round" stroke-linecap="butt"/>
<path d="M1143 1594 L1146 1591 L1152 1587 L1161 1583 L1171 1578 L1181 1575 L1191 1573 L1199 1574 L1205 1577 L1208 1582" fill="none" stroke="#5a5a5a" stroke-width="17.0" stroke-linejoin="round" stroke-linecap="butt"/>
<path d="M1143 1594 L1146 1591 L1152 1587 L1161 1583 L1171 1578 L1181 1575 L1191 1573 L1199 1574 L1205 1577 L1208 1582" fill="none" stroke="#acacac" stroke-width="15.0" stroke-linejoin="round" stroke-linecap="butt"/>
<path d="M1170 1632 L1174 1629 L1180 1625 L1188 1620 L1198 1616 L1209 1613 L1218 1611 L1226 1612 L1232 1615 L1235 1620" fill="none" stroke="#5a5a5a" stroke-width="17.0" stroke-linejoin="round" stroke-linecap="butt"/>
<path d="M1170 1632 L1174 1629 L1180 1625 L1188 1620 L1198 1616 L1209 1613 L1218 1611 L1226 1612 L1232 1615 L1235 1620" fill="none" stroke="#acacac" stroke-width="15.0" stroke-linejoin="round" stroke-linecap="butt"/>
<path d="M1140 1536 L1132 1544 L1125 1550 L1120 1554 L1117 1556 L1116 1555" fill="none" stroke="#5a5a5a" stroke-width="17.0" stroke-linejoin="round" stroke-linecap="butt"/>
<path d="M1140 1536 L1132 1544 L1125 1550 L1120 1554 L1117 1556 L1116 1555" fill="none" stroke="#e4e4e4" stroke-width="15.0" stroke-linejoin="round" stroke-linecap="butt"/>
<path d="M1140 1536 L1132 1544 L1125 1550 L1120 1554 L1117 1556 L1116 1555" fill="none" stroke="#f6f6f6" stroke-width="4.5" stroke-linejoin="round" opacity="0.6"/>
<path d="M1181 1543 L1181 1550 L1178 1558 L1173 1567 L1166 1575 L1158 1583 L1152 1589 L1146 1593 L1143 1594 L1143 1594" fill="none" stroke="#5a5a5a" stroke-width="17.0" stroke-linejoin="round" stroke-linecap="butt"/>
<path d="M1181 1543 L1181 1550 L1178 1558 L1173 1567 L1166 1575 L1158 1583 L1152 1589 L1146 1593 L1143 1594 L1143 1594" fill="none" stroke="#e4e4e4" stroke-width="15.0" stroke-linejoin="round" stroke-linecap="butt"/>
<path d="M1181 1543 L1181 1550 L1178 1558 L1173 1567 L1166 1575 L1158 1583 L1152 1589 L1146 1593 L1143 1594 L1143 1594" fill="none" stroke="#f6f6f6" stroke-width="4.5" stroke-linejoin="round" opacity="0.6"/>
<path d="M1208 1582 L1208 1589 L1204 1597 L1199 1606 L1192 1614 L1185 1622 L1178 1627 L1173 1631 L1170 1632 L1170 1632" fill="none" stroke="#5a5a5a" stroke-width="17.0" stroke-linejoin="round" stroke-linecap="butt"/>
<path d="M1208 1582 L1208 1589 L1204 1597 L1199 1606 L1192 1614 L1185 1622 L1178 1627 L1173 1631 L1170 1632 L1170 1632" fill="none" stroke="#e4e4e4" stroke-width="15.0" stroke-linejoin="round" stroke-linecap="butt"/>
<path d="M1208 1582 L1208 1589 L1204 1597 L1199 1606 L1192 1614 L1185 1622 L1178 1627 L1173 1631 L1170 1632 L1170 1632" fill="none" stroke="#f6f6f6" stroke-width="4.5" stroke-linejoin="round" opacity="0.6"/>
<path d="M1235 1620 L1234 1627 L1231 1636 L1225 1644 L1218 1653 L1211 1660 L1204 1666" fill="none" stroke="#5a5a5a" stroke-width="17.0" stroke-linejoin="round" stroke-linecap="butt"/>
<path d="M1235 1620 L1234 1627 L1231 1636 L1225 1644 L1218 1653 L1211 1660 L1204 1666" fill="none" stroke="#e4e4e4" stroke-width="15.0" stroke-linejoin="round" stroke-linecap="butt"/>
<path d="M1235 1620 L1234 1627 L1231 1636 L1225 1644 L1218 1653 L1211 1660 L1204 1666" fill="none" stroke="#f6f6f6" stroke-width="4.5" stroke-linejoin="round" opacity="0.6"/>
<path d="M1228.9 1483.2 L1273.9 1535.8" stroke="#c4c4c4" stroke-width="34.5" stroke-linecap="butt"/>
<path d="M1217 1500 L1219 1498 L1224 1496 L1230 1493 L1236 1490 L1244 1488 L1251 1487 L1257 1487 L1261 1489 L1263 1493" fill="none" stroke="#5a5a5a" stroke-width="17.0" stroke-linejoin="round" stroke-linecap="butt"/>
<path d="M1217 1500 L1219 1498 L1224 1496 L1230 1493 L1236 1490 L1244 1488 L1251 1487 L1257 1487 L1261 1489 L1263 1493" fill="none" stroke="#9a9a9a" stroke-width="15.0" stroke-linejoin="round" stroke-linecap="butt"/>
<path d="M1246 1532 L1249 1530 L1254 1528 L1261 1525 L1268 1522 L1275 1520 L1281 1520 L1287 1521 L1290 1524" fill="none" stroke="#5a5a5a" stroke-width="17.0" stroke-linejoin="round" stroke-linecap="butt"/>
<path d="M1246 1532 L1249 1530 L1254 1528 L1261 1525 L1268 1522 L1275 1520 L1281 1520 L1287 1521 L1290 1524" fill="none" stroke="#9a9a9a" stroke-width="15.0" stroke-linejoin="round" stroke-linecap="butt"/>
<path d="M1229 1483 L1225 1489 L1221 1494 L1218 1498 L1217 1500 L1217 1500" fill="none" stroke="#5a5a5a" stroke-width="17.0" stroke-linejoin="round" stroke-linecap="butt"/>
<path d="M1229 1483 L1225 1489 L1221 1494 L1218 1498 L1217 1500 L1217 1500" fill="none" stroke="#d0d0d0" stroke-width="15.0" stroke-linejoin="round" stroke-linecap="butt"/>
<path d="M1263 1493 L1264 1499 L1262 1505 L1259 1512 L1256 1519 L1251 1525 L1248 1529 L1246 1532 L1245 1533 L1246 1532" fill="none" stroke="#5a5a5a" stroke-width="17.0" stroke-linejoin="round" stroke-linecap="butt"/>
<path d="M1263 1493 L1264 1499 L1262 1505 L1259 1512 L1256 1519 L1251 1525 L1248 1529 L1246 1532 L1245 1533 L1246 1532" fill="none" stroke="#d0d0d0" stroke-width="15.0" stroke-linejoin="round" stroke-linecap="butt"/>
<path d="M1290 1524 L1292 1528 L1292 1534" fill="none" stroke="#5a5a5a" stroke-width="17.0" stroke-linejoin="round" stroke-linecap="butt"/>
<path d="M1290 1524 L1292 1528 L1292 1534" fill="none" stroke="#d0d0d0" stroke-width="15.0" stroke-linejoin="round" stroke-linecap="butt"/>
<path d="M1213 1503 L1216 1502 L1220 1499 L1226 1496 L1233 1493 L1240 1491 L1247 1490 L1253 1490 L1257 1493 L1259 1497" fill="none" stroke="#5a5a5a" stroke-width="17.0" stroke-linejoin="round" stroke-linecap="butt"/>
<path d="M1213 1503 L1216 1502 L1220 1499 L1226 1496 L1233 1493 L1240 1491 L1247 1490 L1253 1490 L1257 1493 L1259 1497" fill="none" stroke="#a4a4a4" stroke-width="15.0" stroke-linejoin="round" stroke-linecap="butt"/>
<path d="M1242 1536 L1245 1534 L1250 1531 L1257 1528 L1264 1525 L1271 1523 L1278 1523 L1283 1524 L1287 1527" fill="none" stroke="#5a5a5a" stroke-width="17.0" stroke-linejoin="round" stroke-linecap="butt"/>
<path d="M1242 1536 L1245 1534 L1250 1531 L1257 1528 L1264 1525 L1271 1523 L1278 1523 L1283 1524 L1287 1527" fill="none" stroke="#a4a4a4" stroke-width="15.0" stroke-linejoin="round" stroke-linecap="butt"/>
<path d="M1225 1487 L1221 1493 L1217 1498 L1214 1501 L1213 1503 L1213 1503" fill="none" stroke="#5a5a5a" stroke-width="17.0" stroke-linejoin="round" stroke-linecap="butt"/>
<path d="M1225 1487 L1221 1493 L1217 1498 L1214 1501 L1213 1503 L1213 1503" fill="none" stroke="#dadada" stroke-width="15.0" stroke-linejoin="round" stroke-linecap="butt"/>
<path d="M1259 1497 L1260 1502 L1258 1509 L1256 1516 L1252 1522 L1248 1528 L1244 1532 L1242 1535 L1241 1536 L1242 1536" fill="none" stroke="#5a5a5a" stroke-width="17.0" stroke-linejoin="round" stroke-linecap="butt"/>
<path d="M1259 1497 L1260 1502 L1258 1509 L1256 1516 L1252 1522 L1248 1528 L1244 1532 L1242 1535 L1241 1536 L1242 1536" fill="none" stroke="#dadada" stroke-width="15.0" stroke-linejoin="round" stroke-linecap="butt"/>
<path d="M1287 1527 L1288 1532 L1288 1538" fill="none" stroke="#5a5a5a" stroke-width="17.0" stroke-linejoin="round" stroke-linecap="butt"/>
<path d="M1287 1527 L1288 1532 L1288 1538" fill="none" stroke="#dadada" stroke-width="15.0" stroke-linejoin="round" stroke-linecap="butt"/>
<path d="M1215 1502 L1217 1500 L1222 1498 L1227 1495 L1234 1492 L1242 1489 L1248 1488 L1254 1489 L1259 1491 L1261 1495" fill="none" stroke="#5a5a5a" stroke-width="17.0" stroke-linejoin="round" stroke-linecap="butt"/>
<path d="M1215 1502 L1217 1500 L1222 1498 L1227 1495 L1234 1492 L1242 1489 L1248 1488 L1254 1489 L1259 1491 L1261 1495" fill="none" stroke="#acacac" stroke-width="15.0" stroke-linejoin="round" stroke-linecap="butt"/>
<path d="M1244 1534 L1247 1532 L1252 1529 L1258 1526 L1265 1524 L1273 1522 L1279 1521 L1285 1523 L1288 1526" fill="none" stroke="#5a5a5a" stroke-width="17.0" stroke-linejoin="round" stroke-linecap="butt"/>
<path d="M1244 1534 L1247 1532 L1252 1529 L1258 1526 L1265 1524 L1273 1522 L1279 1521 L1285 1523 L1288 1526" fill="none" stroke="#acacac" stroke-width="15.0" stroke-linejoin="round" stroke-linecap="butt"/>
<path d="M1227 1485 L1223 1491 L1219 1496 L1216 1500 L1214 1502 L1215 1502" fill="none" stroke="#5a5a5a" stroke-width="17.0" stroke-linejoin="round" stroke-linecap="butt"/>
<path d="M1227 1485 L1223 1491 L1219 1496 L1216 1500 L1214 1502 L1215 1502" fill="none" stroke="#e4e4e4" stroke-width="15.0" stroke-linejoin="round" stroke-linecap="butt"/>
<path d="M1227 1485 L1223 1491 L1219 1496 L1216 1500 L1214 1502 L1215 1502" fill="none" stroke="#f6f6f6" stroke-width="4.5" stroke-linejoin="round" opacity="0.6"/>
<path d="M1261 1495 L1262 1501 L1260 1507 L1257 1514 L1253 1521 L1249 1526 L1246 1531 L1243 1534 L1243 1535 L1244 1534" fill="none" stroke="#5a5a5a" stroke-width="17.0" stroke-linejoin="round" stroke-linecap="butt"/>
<path d="M1261 1495 L1262 1501 L1260 1507 L1257 1514 L1253 1521 L1249 1526 L1246 1531 L1243 1534 L1243 1535 L1244 1534" fill="none" stroke="#e4e4e4" stroke-width="15.0" stroke-linejoin="round" stroke-linecap="butt"/>
<path d="M1261 1495 L1262 1501 L1260 1507 L1257 1514 L1253 1521 L1249 1526 L1246 1531 L1243 1534 L1243 1535 L1244 1534" fill="none" stroke="#f6f6f6" stroke-width="4.5" stroke-linejoin="round" opacity="0.6"/>
<path d="M1288 1526 L1290 1530 L1289 1536" fill="none" stroke="#5a5a5a" stroke-width="17.0" stroke-linejoin="round" stroke-linecap="butt"/>
<path d="M1288 1526 L1290 1530 L1289 1536" fill="none" stroke="#e4e4e4" stroke-width="15.0" stroke-linejoin="round" stroke-linecap="butt"/>
<path d="M1288 1526 L1290 1530 L1289 1536" fill="none" stroke="#f6f6f6" stroke-width="4.5" stroke-linejoin="round" opacity="0.6"/>
<path d="M1383.1 1502.1 L1424.5 1569.9" stroke="#c4c4c4" stroke-width="38.9" stroke-linecap="butt"/>
<path d="M1365 1516 L1367 1514 L1372 1512 L1378 1509 L1386 1506 L1394 1504 L1401 1504 L1408 1504 L1412 1506 L1414 1510" fill="none" stroke="#5a5a5a" stroke-width="17.0" stroke-linejoin="round" stroke-linecap="butt"/>
<path d="M1365 1516 L1367 1514 L1372 1512 L1378 1509 L1386 1506 L1394 1504 L1401 1504 L1408 1504 L1412 1506 L1414 1510" fill="none" stroke="#9a9a9a" stroke-width="15.0" stroke-linejoin="round" stroke-linecap="butt"/>
<path d="M1384 1548 L1387 1546 L1391 1544 L1398 1541 L1405 1538 L1413 1536 L1421 1535 L1427 1536 L1432 1538 L1434 1542" fill="none" stroke="#5a5a5a" stroke-width="17.0" stroke-linejoin="round" stroke-linecap="butt"/>
<path d="M1384 1548 L1387 1546 L1391 1544 L1398 1541 L1405 1538 L1413 1536 L1421 1535 L1427 1536 L1432 1538 L1434 1542" fill="none" stroke="#9a9a9a" stroke-width="15.0" stroke-linejoin="round" stroke-linecap="butt"/>
<path d="M1404 1579 L1406 1578 L1411 1575 L1417 1573 L1424 1570" fill="none" stroke="#5a5a5a" stroke-width="17.0" stroke-linejoin="round" stroke-linecap="butt"/>
<path d="M1404 1579 L1406 1578 L1411 1575 L1417 1573 L1424 1570" fill="none" stroke="#9a9a9a" stroke-width="15.0" stroke-linejoin="round" stroke-linecap="butt"/>
<path d="M1383 1502 L1377 1508 L1372 1512 L1368 1515 L1365 1516 L1365 1516" fill="none" stroke="#5a5a5a" stroke-width="17.0" stroke-linejoin="round" stroke-linecap="butt"/>
<path d="M1383 1502 L1377 1508 L1372 1512 L1368 1515 L1365 1516 L1365 1516" fill="none" stroke="#d0d0d0" stroke-width="15.0" stroke-linejoin="round" stroke-linecap="butt"/>
<path d="M1414 1510 L1414 1515 L1412 1521 L1408 1528 L1402 1534 L1397 1539 L1391 1544 L1387 1547 L1385 1548 L1384 1548" fill="none" stroke="#5a5a5a" stroke-width="17.0" stroke-linejoin="round" stroke-linecap="butt"/>
<path d="M1414 1510 L1414 1515 L1412 1521 L1408 1528 L1402 1534 L1397 1539 L1391 1544 L1387 1547 L1385 1548 L1384 1548" fill="none" stroke="#d0d0d0" stroke-width="15.0" stroke-linejoin="round" stroke-linecap="butt"/>
<path d="M1434 1542 L1434 1547 L1431 1553 L1427 1559 L1422 1566 L1416 1571 L1411 1576 L1406 1578 L1404 1580 L1404 1579" fill="none" stroke="#5a5a5a" stroke-width="17.0" stroke-linejoin="round" stroke-linecap="butt"/>
<path d="M1434 1542 L1434 1547 L1431 1553 L1427 1559 L1422 1566 L1416 1571 L1411 1576 L1406 1578 L1404 1580 L1404 1579" fill="none" stroke="#d0d0d0" stroke-width="15.0" stroke-linejoin="round" stroke-linecap="butt"/>
<path d="M1361 1519 L1363 1518 L1368 1515 L1374 1512 L1382 1510 L1390 1508 L1397 1507 L1404 1508 L1408 1510 L1411 1514" fill="none" stroke="#5a5a5a" stroke-width="17.0" stroke-linejoin="round" stroke-linecap="butt"/>
<path d="M1361 1519 L1363 1518 L1368 1515 L1374 1512 L1382 1510 L1390 1508 L1397 1507 L1404 1508 L1408 1510 L1411 1514" fill="none" stroke="#a4a4a4" stroke-width="15.0" stroke-linejoin="round" stroke-linecap="butt"/>
<path d="M1381 1551 L1383 1549 L1387 1547 L1394 1544 L1401 1541 L1409 1540 L1417 1539 L1423 1539 L1428 1542 L1430 1545" fill="none" stroke="#5a5a5a" stroke-width="17.0" stroke-linejoin="round" stroke-linecap="butt"/>
<path d="M1381 1551 L1383 1549 L1387 1547 L1394 1544 L1401 1541 L1409 1540 L1417 1539 L1423 1539 L1428 1542 L1430 1545" fill="none" stroke="#a4a4a4" stroke-width="15.0" stroke-linejoin="round" stroke-linecap="butt"/>
<path d="M1400 1583 L1402 1581 L1407 1579 L1413 1576 L1421 1573" fill="none" stroke="#5a5a5a" stroke-width="17.0" stroke-linejoin="round" stroke-linecap="butt"/>
<path d="M1400 1583 L1402 1581 L1407 1579 L1413 1576 L1421 1573" fill="none" stroke="#a4a4a4" stroke-width="15.0" stroke-linejoin="round" stroke-linecap="butt"/>
<path d="M1379 1505 L1373 1511 L1368 1515 L1364 1518 L1361 1519 L1361 1519" fill="none" stroke="#5a5a5a" stroke-width="17.0" stroke-linejoin="round" stroke-linecap="butt"/>
<path d="M1379 1505 L1373 1511 L1368 1515 L1364 1518 L1361 1519 L1361 1519" fill="none" stroke="#dadada" stroke-width="15.0" stroke-linejoin="round" stroke-linecap="butt"/>
<path d="M1411 1514 L1411 1519 L1408 1525 L1404 1531 L1399 1537 L1393 1543 L1387 1547 L1383 1550 L1381 1551 L1381 1551" fill="none" stroke="#5a5a5a" stroke-width="17.0" stroke-linejoin="round" stroke-linecap="butt"/>
<path d="M1411 1514 L1411 1519 L1408 1525 L1404 1531 L1399 1537 L1393 1543 L1387 1547 L1383 1550 L1381 1551 L1381 1551" fill="none" stroke="#dadada" stroke-width="15.0" stroke-linejoin="round" stroke-linecap="butt"/>
<path d="M1430 1545 L1430 1551 L1428 1557 L1423 1563 L1418 1569 L1412 1575 L1407 1579 L1403 1582 L1400 1583 L1400 1583" fill="none" stroke="#5a5a5a" stroke-width="17.0" stroke-linejoin="round" stroke-linecap="butt"/>
<path d="M1430 1545 L1430 1551 L1428 1557 L1423 1563 L1418 1569 L1412 1575 L1407 1579 L1403 1582 L1400 1583 L1400 1583" fill="none" stroke="#dadada" stroke-width="15.0" stroke-linejoin="round" stroke-linecap="butt"/>
<path d="M1363 1518 L1365 1516 L1370 1514 L1376 1511 L1383 1508 L1391 1506 L1399 1505 L1405 1506 L1410 1508 L1412 1512" fill="none" stroke="#5a5a5a" stroke-width="17.0" stroke-linejoin="round" stroke-linecap="butt"/>
<path d="M1363 1518 L1365 1516 L1370 1514 L1376 1511 L1383 1508 L1391 1506 L1399 1505 L1405 1506 L1410 1508 L1412 1512" fill="none" stroke="#acacac" stroke-width="15.0" stroke-linejoin="round" stroke-linecap="butt"/>
<path d="M1382 1549 L1385 1548 L1389 1545 L1395 1543 L1403 1540 L1411 1538 L1418 1537 L1425 1538 L1429 1540 L1432 1544" fill="none" stroke="#5a5a5a" stroke-width="17.0" stroke-linejoin="round" stroke-linecap="butt"/>
<path d="M1382 1549 L1385 1548 L1389 1545 L1395 1543 L1403 1540 L1411 1538 L1418 1537 L1425 1538 L1429 1540 L1432 1544" fill="none" stroke="#acacac" stroke-width="15.0" stroke-linejoin="round" stroke-linecap="butt"/>
<path d="M1402 1581 L1404 1580 L1408 1577 L1415 1574 L1422 1572" fill="none" stroke="#5a5a5a" stroke-width="17.0" stroke-linejoin="round" stroke-linecap="butt"/>
<path d="M1402 1581 L1404 1580 L1408 1577 L1415 1574 L1422 1572" fill="none" stroke="#acacac" stroke-width="15.0" stroke-linejoin="round" stroke-linecap="butt"/>
<path d="M1381 1504 L1375 1509 L1370 1514 L1365 1517 L1363 1518 L1363 1518" fill="none" stroke="#5a5a5a" stroke-width="17.0" stroke-linejoin="round" stroke-linecap="butt"/>
<path d="M1381 1504 L1375 1509 L1370 1514 L1365 1517 L1363 1518 L1363 1518" fill="none" stroke="#e4e4e4" stroke-width="15.0" stroke-linejoin="round" stroke-linecap="butt"/>
<path d="M1381 1504 L1375 1509 L1370 1514 L1365 1517 L1363 1518 L1363 1518" fill="none" stroke="#f6f6f6" stroke-width="4.5" stroke-linejoin="round" opacity="0.6"/>
<path d="M1412 1512 L1412 1517 L1410 1523 L1406 1529 L1400 1536 L1394 1541 L1389 1546 L1385 1548 L1382 1550 L1382 1549" fill="none" stroke="#5a5a5a" stroke-width="17.0" stroke-linejoin="round" stroke-linecap="butt"/>
<path d="M1412 1512 L1412 1517 L1410 1523 L1406 1529 L1400 1536 L1394 1541 L1389 1546 L1385 1548 L1382 1550 L1382 1549" fill="none" stroke="#e4e4e4" stroke-width="15.0" stroke-linejoin="round" stroke-linecap="butt"/>
<path d="M1412 1512 L1412 1517 L1410 1523 L1406 1529 L1400 1536 L1394 1541 L1389 1546 L1385 1548 L1382 1550 L1382 1549" fill="none" stroke="#f6f6f6" stroke-width="4.5" stroke-linejoin="round" opacity="0.6"/>
<path d="M1432 1544 L1432 1549 L1429 1555 L1425 1561 L1420 1567 L1414 1573 L1409 1577 L1404 1580 L1402 1581 L1402 1581" fill="none" stroke="#5a5a5a" stroke-width="17.0" stroke-linejoin="round" stroke-linecap="butt"/>
<path d="M1432 1544 L1432 1549 L1429 1555 L1425 1561 L1420 1567 L1414 1573 L1409 1577 L1404 1580 L1402 1581 L1402 1581" fill="none" stroke="#e4e4e4" stroke-width="15.0" stroke-linejoin="round" stroke-linecap="butt"/>
<path d="M1432 1544 L1432 1549 L1429 1555 L1425 1561 L1420 1567 L1414 1573 L1409 1577 L1404 1580 L1402 1581 L1402 1581" fill="none" stroke="#f6f6f6" stroke-width="4.5" stroke-linejoin="round" opacity="0.6"/>
<path d="M1298.5 1572.2 L1336.8 1641.1" stroke="#c4c4c4" stroke-width="34.5" stroke-linecap="butt"/>
<path d="M1284 1587 L1287 1587 L1292 1585 L1298 1584 L1306 1583 L1314 1582 L1321 1583 L1327 1585 L1330 1588 L1332 1593" fill="none" stroke="#5a5a5a" stroke-width="17.0" stroke-linejoin="round" stroke-linecap="butt"/>
<path d="M1284 1587 L1287 1587 L1292 1585 L1298 1584 L1306 1583 L1314 1582 L1321 1583 L1327 1585 L1330 1588 L1332 1593" fill="none" stroke="#9a9a9a" stroke-width="15.0" stroke-linejoin="round" stroke-linecap="butt"/>
<path d="M1309 1630 L1312 1629 L1318 1627 L1325 1626 L1333 1625 L1340 1625 L1347 1626 L1352 1628 L1355 1632" fill="none" stroke="#5a5a5a" stroke-width="17.0" stroke-linejoin="round" stroke-linecap="butt"/>
<path d="M1309 1630 L1312 1629 L1318 1627 L1325 1626 L1333 1625 L1340 1625 L1347 1626 L1352 1628 L1355 1632" fill="none" stroke="#9a9a9a" stroke-width="15.0" stroke-linejoin="round" stroke-linecap="butt"/>
<path d="M1299 1572 L1293 1578 L1289 1582 L1285 1585 L1284 1587 L1284 1587" fill="none" stroke="#5a5a5a" stroke-width="17.0" stroke-linejoin="round" stroke-linecap="butt"/>
<path d="M1299 1572 L1293 1578 L1289 1582 L1285 1585 L1284 1587 L1284 1587" fill="none" stroke="#d0d0d0" stroke-width="15.0" stroke-linejoin="round" stroke-linecap="butt"/>
<path d="M1332 1593 L1332 1598 L1329 1605 L1325 1611 L1320 1617 L1315 1622 L1311 1626 L1308 1629 L1307 1630 L1309 1630" fill="none" stroke="#5a5a5a" stroke-width="17.0" stroke-linejoin="round" stroke-linecap="butt"/>
<path d="M1332 1593 L1332 1598 L1329 1605 L1325 1611 L1320 1617 L1315 1622 L1311 1626 L1308 1629 L1307 1630 L1309 1630" fill="none" stroke="#d0d0d0" stroke-width="15.0" stroke-linejoin="round" stroke-linecap="butt"/>
<path d="M1355 1632 L1356 1637 L1354 1643" fill="none" stroke="#5a5a5a" stroke-width="17.0" stroke-linejoin="round" stroke-linecap="butt"/>
<path d="M1355 1632 L1356 1637 L1354 1643" fill="none" stroke="#d0d0d0" stroke-width="15.0" stroke-linejoin="round" stroke-linecap="butt"/>
<path d="M1280 1591 L1283 1590 L1288 1589 L1295 1587 L1302 1586 L1310 1585 L1317 1586 L1323 1588 L1327 1591 L1328 1596" fill="none" stroke="#5a5a5a" stroke-width="17.0" stroke-linejoin="round" stroke-linecap="butt"/>
<path d="M1280 1591 L1283 1590 L1288 1589 L1295 1587 L1302 1586 L1310 1585 L1317 1586 L1323 1588 L1327 1591 L1328 1596" fill="none" stroke="#a4a4a4" stroke-width="15.0" stroke-linejoin="round" stroke-linecap="butt"/>
<path d="M1305 1633 L1309 1632 L1314 1631 L1321 1629 L1329 1628 L1336 1628 L1343 1629 L1348 1632 L1351 1636" fill="none" stroke="#5a5a5a" stroke-width="17.0" stroke-linejoin="round" stroke-linecap="butt"/>
<path d="M1305 1633 L1309 1632 L1314 1631 L1321 1629 L1329 1628 L1336 1628 L1343 1629 L1348 1632 L1351 1636" fill="none" stroke="#a4a4a4" stroke-width="15.0" stroke-linejoin="round" stroke-linecap="butt"/>
<path d="M1295 1576 L1290 1581 L1285 1586 L1282 1589 L1280 1590 L1280 1591" fill="none" stroke="#5a5a5a" stroke-width="17.0" stroke-linejoin="round" stroke-linecap="butt"/>
<path d="M1295 1576 L1290 1581 L1285 1586 L1282 1589 L1280 1590 L1280 1591" fill="none" stroke="#dadada" stroke-width="15.0" stroke-linejoin="round" stroke-linecap="butt"/>
<path d="M1328 1596 L1328 1602 L1325 1608 L1321 1614 L1316 1620 L1311 1625 L1307 1629 L1304 1632 L1303 1633 L1305 1633" fill="none" stroke="#5a5a5a" stroke-width="17.0" stroke-linejoin="round" stroke-linecap="butt"/>
<path d="M1328 1596 L1328 1602 L1325 1608 L1321 1614 L1316 1620 L1311 1625 L1307 1629 L1304 1632 L1303 1633 L1305 1633" fill="none" stroke="#dadada" stroke-width="15.0" stroke-linejoin="round" stroke-linecap="butt"/>
<path d="M1351 1636 L1352 1641 L1351 1647" fill="none" stroke="#5a5a5a" stroke-width="17.0" stroke-linejoin="round" stroke-linecap="butt"/>
<path d="M1351 1636 L1352 1641 L1351 1647" fill="none" stroke="#dadada" stroke-width="15.0" stroke-linejoin="round" stroke-linecap="butt"/>
<path d="M1282 1589 L1285 1589 L1290 1587 L1296 1586 L1304 1584 L1311 1584 L1319 1584 L1324 1586 L1328 1590 L1330 1594" fill="none" stroke="#5a5a5a" stroke-width="17.0" stroke-linejoin="round" stroke-linecap="butt"/>
<path d="M1282 1589 L1285 1589 L1290 1587 L1296 1586 L1304 1584 L1311 1584 L1319 1584 L1324 1586 L1328 1590 L1330 1594" fill="none" stroke="#acacac" stroke-width="15.0" stroke-linejoin="round" stroke-linecap="butt"/>
<path d="M1306 1631 L1310 1630 L1316 1629 L1323 1627 L1330 1626 L1338 1626 L1345 1627 L1350 1630 L1353 1634" fill="none" stroke="#5a5a5a" stroke-width="17.0" stroke-linejoin="round" stroke-linecap="butt"/>
<path d="M1306 1631 L1310 1630 L1316 1629 L1323 1627 L1330 1626 L1338 1626 L1345 1627 L1350 1630 L1353 1634" fill="none" stroke="#acacac" stroke-width="15.0" stroke-linejoin="round" stroke-linecap="butt"/>
<path d="M1296 1574 L1291 1580 L1287 1584 L1283 1587 L1282 1589 L1282 1589" fill="none" stroke="#5a5a5a" stroke-width="17.0" stroke-linejoin="round" stroke-linecap="butt"/>
<path d="M1296 1574 L1291 1580 L1287 1584 L1283 1587 L1282 1589 L1282 1589" fill="none" stroke="#e4e4e4" stroke-width="15.0" stroke-linejoin="round" stroke-linecap="butt"/>
<path d="M1296 1574 L1291 1580 L1287 1584 L1283 1587 L1282 1589 L1282 1589" fill="none" stroke="#f6f6f6" stroke-width="4.5" stroke-linejoin="round" opacity="0.6"/>
<path d="M1330 1594 L1329 1600 L1327 1606 L1323 1613 L1318 1619 L1313 1624 L1309 1628 L1306 1630 L1305 1632 L1306 1631" fill="none" stroke="#5a5a5a" stroke-width="17.0" stroke-linejoin="round" stroke-linecap="butt"/>
<path d="M1330 1594 L1329 1600 L1327 1606 L1323 1613 L1318 1619 L1313 1624 L1309 1628 L1306 1630 L1305 1632 L1306 1631" fill="none" stroke="#e4e4e4" stroke-width="15.0" stroke-linejoin="round" stroke-linecap="butt"/>
<path d="M1330 1594 L1329 1600 L1327 1606 L1323 1613 L1318 1619 L1313 1624 L1309 1628 L1306 1630 L1305 1632 L1306 1631" fill="none" stroke="#f6f6f6" stroke-width="4.5" stroke-linejoin="round" opacity="0.6"/>
<path d="M1353 1634 L1354 1639 L1352 1645" fill="none" stroke="#5a5a5a" stroke-width="17.0" stroke-linejoin="round" stroke-linecap="butt"/>
<path d="M1353 1634 L1354 1639 L1352 1645" fill="none" stroke="#e4e4e4" stroke-width="15.0" stroke-linejoin="round" stroke-linecap="butt"/>
<path d="M1353 1634 L1354 1639 L1352 1645" fill="none" stroke="#f6f6f6" stroke-width="4.5" stroke-linejoin="round" opacity="0.6"/>
<path d="M1555.0 1421.9 L1592.7 1482.2" stroke="#c4c4c4" stroke-width="34.5" stroke-linecap="butt"/>
<path d="M1541 1437 L1544 1436 L1548 1434 L1554 1432 L1562 1430 L1569 1429 L1576 1429 L1582 1430 L1586 1433 L1588 1438" fill="none" stroke="#5a5a5a" stroke-width="17.0" stroke-linejoin="round" stroke-linecap="butt"/>
<path d="M1541 1437 L1544 1436 L1548 1434 L1554 1432 L1562 1430 L1569 1429 L1576 1429 L1582 1430 L1586 1433 L1588 1438" fill="none" stroke="#9a9a9a" stroke-width="15.0" stroke-linejoin="round" stroke-linecap="butt"/>
<path d="M1565 1474 L1569 1473 L1574 1471 L1581 1469 L1588 1467 L1596 1467 L1602 1467 L1608 1469 L1611 1473" fill="none" stroke="#5a5a5a" stroke-width="17.0" stroke-linejoin="round" stroke-linecap="butt"/>
<path d="M1565 1474 L1569 1473 L1574 1471 L1581 1469 L1588 1467 L1596 1467 L1602 1467 L1608 1469 L1611 1473" fill="none" stroke="#9a9a9a" stroke-width="15.0" stroke-linejoin="round" stroke-linecap="butt"/>
<path d="M1555 1422 L1550 1427 L1546 1432 L1542 1435 L1541 1437 L1541 1437" fill="none" stroke="#5a5a5a" stroke-width="17.0" stroke-linejoin="round" stroke-linecap="butt"/>
<path d="M1555 1422 L1550 1427 L1546 1432 L1542 1435 L1541 1437 L1541 1437" fill="none" stroke="#d0d0d0" stroke-width="15.0" stroke-linejoin="round" stroke-linecap="butt"/>
<path d="M1588 1438 L1588 1443 L1585 1450 L1581 1456 L1577 1462 L1572 1467 L1568 1471 L1565 1474 L1564 1475 L1565 1474" fill="none" stroke="#5a5a5a" stroke-width="17.0" stroke-linejoin="round" stroke-linecap="butt"/>
<path d="M1588 1438 L1588 1443 L1585 1450 L1581 1456 L1577 1462 L1572 1467 L1568 1471 L1565 1474 L1564 1475 L1565 1474" fill="none" stroke="#d0d0d0" stroke-width="15.0" stroke-linejoin="round" stroke-linecap="butt"/>
<path d="M1611 1473 L1612 1478 L1610 1483" fill="none" stroke="#5a5a5a" stroke-width="17.0" stroke-linejoin="round" stroke-linecap="butt"/>
<path d="M1611 1473 L1612 1478 L1610 1483" fill="none" stroke="#d0d0d0" stroke-width="15.0" stroke-linejoin="round" stroke-linecap="butt"/>
<path d="M1537 1440 L1540 1439 L1544 1437 L1551 1435 L1558 1433 L1566 1432 L1573 1432 L1578 1434 L1582 1437 L1584 1441" fill="none" stroke="#5a5a5a" stroke-width="17.0" stroke-linejoin="round" stroke-linecap="butt"/>
<path d="M1537 1440 L1540 1439 L1544 1437 L1551 1435 L1558 1433 L1566 1432 L1573 1432 L1578 1434 L1582 1437 L1584 1441" fill="none" stroke="#a4a4a4" stroke-width="15.0" stroke-linejoin="round" stroke-linecap="butt"/>
<path d="M1561 1478 L1565 1476 L1570 1474 L1577 1472 L1585 1471 L1592 1470 L1599 1471 L1604 1473 L1607 1476" fill="none" stroke="#5a5a5a" stroke-width="17.0" stroke-linejoin="round" stroke-linecap="butt"/>
<path d="M1561 1478 L1565 1476 L1570 1474 L1577 1472 L1585 1471 L1592 1470 L1599 1471 L1604 1473 L1607 1476" fill="none" stroke="#a4a4a4" stroke-width="15.0" stroke-linejoin="round" stroke-linecap="butt"/>
<path d="M1551 1425 L1546 1431 L1542 1435 L1538 1438 L1537 1440 L1537 1440" fill="none" stroke="#5a5a5a" stroke-width="17.0" stroke-linejoin="round" stroke-linecap="butt"/>
<path d="M1551 1425 L1546 1431 L1542 1435 L1538 1438 L1537 1440 L1537 1440" fill="none" stroke="#dadada" stroke-width="15.0" stroke-linejoin="round" stroke-linecap="butt"/>
<path d="M1584 1441 L1584 1447 L1581 1453 L1578 1459 L1573 1465 L1568 1471 L1564 1474 L1561 1477 L1560 1478 L1561 1478" fill="none" stroke="#5a5a5a" stroke-width="17.0" stroke-linejoin="round" stroke-linecap="butt"/>
<path d="M1584 1441 L1584 1447 L1581 1453 L1578 1459 L1573 1465 L1568 1471 L1564 1474 L1561 1477 L1560 1478 L1561 1478" fill="none" stroke="#dadada" stroke-width="15.0" stroke-linejoin="round" stroke-linecap="butt"/>
<path d="M1607 1476 L1608 1481 L1607 1487" fill="none" stroke="#5a5a5a" stroke-width="17.0" stroke-linejoin="round" stroke-linecap="butt"/>
<path d="M1607 1476 L1608 1481 L1607 1487" fill="none" stroke="#dadada" stroke-width="15.0" stroke-linejoin="round" stroke-linecap="butt"/>
<path d="M1539 1439 L1541 1438 L1546 1436 L1552 1434 L1560 1432 L1567 1431 L1574 1431 L1580 1432 L1584 1435 L1586 1440" fill="none" stroke="#5a5a5a" stroke-width="17.0" stroke-linejoin="round" stroke-linecap="butt"/>
<path d="M1539 1439 L1541 1438 L1546 1436 L1552 1434 L1560 1432 L1567 1431 L1574 1431 L1580 1432 L1584 1435 L1586 1440" fill="none" stroke="#acacac" stroke-width="15.0" stroke-linejoin="round" stroke-linecap="butt"/>
<path d="M1563 1476 L1567 1475 L1572 1473 L1579 1471 L1586 1469 L1594 1468 L1600 1469 L1605 1471 L1608 1475" fill="none" stroke="#5a5a5a" stroke-width="17.0" stroke-linejoin="round" stroke-linecap="butt"/>
<path d="M1563 1476 L1567 1475 L1572 1473 L1579 1471 L1586 1469 L1594 1468 L1600 1469 L1605 1471 L1608 1475" fill="none" stroke="#acacac" stroke-width="15.0" stroke-linejoin="round" stroke-linecap="butt"/>
<path d="M1553 1424 L1548 1429 L1543 1434 L1540 1437 L1538 1438 L1539 1439" fill="none" stroke="#5a5a5a" stroke-width="17.0" stroke-linejoin="round" stroke-linecap="butt"/>
<path d="M1553 1424 L1548 1429 L1543 1434 L1540 1437 L1538 1438 L1539 1439" fill="none" stroke="#e4e4e4" stroke-width="15.0" stroke-linejoin="round" stroke-linecap="butt"/>
<path d="M1553 1424 L1548 1429 L1543 1434 L1540 1437 L1538 1438 L1539 1439" fill="none" stroke="#f6f6f6" stroke-width="4.5" stroke-linejoin="round" opacity="0.6"/>
<path d="M1586 1440 L1585 1445 L1583 1451 L1579 1458 L1574 1464 L1570 1469 L1565 1473 L1563 1475 L1562 1476 L1563 1476" fill="none" stroke="#5a5a5a" stroke-width="17.0" stroke-linejoin="round" stroke-linecap="butt"/>
<path d="M1586 1440 L1585 1445 L1583 1451 L1579 1458 L1574 1464 L1570 1469 L1565 1473 L1563 1475 L1562 1476 L1563 1476" fill="none" stroke="#e4e4e4" stroke-width="15.0" stroke-linejoin="round" stroke-linecap="butt"/>
<path d="M1586 1440 L1585 1445 L1583 1451 L1579 1458 L1574 1464 L1570 1469 L1565 1473 L1563 1475 L1562 1476 L1563 1476" fill="none" stroke="#f6f6f6" stroke-width="4.5" stroke-linejoin="round" opacity="0.6"/>
<path d="M1608 1475 L1609 1479 L1608 1485" fill="none" stroke="#5a5a5a" stroke-width="17.0" stroke-linejoin="round" stroke-linecap="butt"/>
<path d="M1608 1475 L1609 1479 L1608 1485" fill="none" stroke="#e4e4e4" stroke-width="15.0" stroke-linejoin="round" stroke-linecap="butt"/>
<path d="M1608 1475 L1609 1479 L1608 1485" fill="none" stroke="#f6f6f6" stroke-width="4.5" stroke-linejoin="round" opacity="0.6"/>
<path d="M1428.1 1443.2 C1435.4 1432.2 1455.3 1396.8 1472.2 1377.0 C1489.2 1357.1 1517.1 1335.0 1529.7 1324.0 C1542.2 1312.9 1544.4 1312.9 1547.3 1310.7" fill="none" stroke="#6a6a6a" stroke-width="15.2" stroke-linecap="butt"/>
<path d="M1428.1 1443.2 C1435.4 1432.2 1455.3 1396.8 1472.2 1377.0 C1489.2 1357.1 1517.1 1335.0 1529.7 1324.0 C1542.2 1312.9 1544.4 1312.9 1547.3 1310.7" fill="none" stroke="#cfcfcf" stroke-width="13" stroke-linecap="butt"/>
<path d="M1424.3 1446.6 C1431.6 1435.6 1451.5 1400.2 1468.4 1380.4 C1485.4 1360.5 1513.3 1338.4 1525.9 1327.4 C1538.4 1316.3 1540.6 1316.3 1543.5 1314.1" fill="none" stroke="#6a6a6a" stroke-width="15.2" stroke-linecap="butt"/>
<path d="M1424.3 1446.6 C1431.6 1435.6 1451.5 1400.2 1468.4 1380.4 C1485.4 1360.5 1513.3 1338.4 1525.9 1327.4 C1538.4 1316.3 1540.6 1316.3 1543.5 1314.1" fill="none" stroke="#dadada" stroke-width="13" stroke-linecap="butt"/>
<path d="M1425.9 1445.0 C1433.2 1434.0 1453.1 1398.6 1470.0 1378.8 C1487.0 1358.9 1514.9 1336.8 1527.5 1325.8 C1540.0 1314.7 1542.2 1314.7 1545.1 1312.5" fill="none" stroke="#6a6a6a" stroke-width="15.2" stroke-linecap="butt"/>
<path d="M1425.9 1445.0 C1433.2 1434.0 1453.1 1398.6 1470.0 1378.8 C1487.0 1358.9 1514.9 1336.8 1527.5 1325.8 C1540.0 1314.7 1542.2 1314.7 1545.1 1312.5" fill="none" stroke="#ececec" stroke-width="13" stroke-linecap="butt"/>
<path d="M1428.1 1465.3 C1436.9 1454.3 1462.7 1417.5 1481.1 1399.0 C1499.5 1380.6 1522.3 1363.0 1538.5 1354.9 C1554.7 1346.8 1571.6 1351.2 1578.2 1350.5" fill="none" stroke="#6a6a6a" stroke-width="15.2" stroke-linecap="butt"/>
<path d="M1428.1 1465.3 C1436.9 1454.3 1462.7 1417.5 1481.1 1399.0 C1499.5 1380.6 1522.3 1363.0 1538.5 1354.9 C1554.7 1346.8 1571.6 1351.2 1578.2 1350.5" fill="none" stroke="#cfcfcf" stroke-width="13" stroke-linecap="butt"/>
<path d="M1424.3 1468.7 C1433.1 1457.7 1458.9 1420.9 1477.3 1402.4 C1495.7 1384.0 1518.5 1366.4 1534.7 1358.3 C1550.9 1350.2 1567.8 1354.6 1574.4 1353.9" fill="none" stroke="#6a6a6a" stroke-width="15.2" stroke-linecap="butt"/>
<path d="M1424.3 1468.7 C1433.1 1457.7 1458.9 1420.9 1477.3 1402.4 C1495.7 1384.0 1518.5 1366.4 1534.7 1358.3 C1550.9 1350.2 1567.8 1354.6 1574.4 1353.9" fill="none" stroke="#dadada" stroke-width="13" stroke-linecap="butt"/>
<path d="M1425.9 1467.1 C1434.7 1456.1 1460.5 1419.3 1478.9 1400.8 C1497.3 1382.4 1520.1 1364.8 1536.3 1356.7 C1552.5 1348.6 1569.4 1353.0 1576.0 1352.3" fill="none" stroke="#6a6a6a" stroke-width="15.2" stroke-linecap="butt"/>
<path d="M1425.9 1467.1 C1434.7 1456.1 1460.5 1419.3 1478.9 1400.8 C1497.3 1382.4 1520.1 1364.8 1536.3 1356.7 C1552.5 1348.6 1569.4 1353.0 1576.0 1352.3" fill="none" stroke="#ececec" stroke-width="13" stroke-linecap="butt"/>
<path d="M1436.9 1487.4 C1446.5 1477.1 1475.2 1441.7 1494.3 1425.5 C1513.5 1409.4 1537.0 1399.8 1551.7 1390.2 C1566.5 1380.6 1577.5 1371.8 1582.7 1368.1" fill="none" stroke="#6a6a6a" stroke-width="15.2" stroke-linecap="butt"/>
<path d="M1436.9 1487.4 C1446.5 1477.1 1475.2 1441.7 1494.3 1425.5 C1513.5 1409.4 1537.0 1399.8 1551.7 1390.2 C1566.5 1380.6 1577.5 1371.8 1582.7 1368.1" fill="none" stroke="#cfcfcf" stroke-width="13" stroke-linecap="butt"/>
<path d="M1433.1 1490.8 C1442.7 1480.5 1471.4 1445.1 1490.5 1428.9 C1509.7 1412.8 1533.2 1403.2 1547.9 1393.6 C1562.7 1384.0 1573.7 1375.2 1578.9 1371.5" fill="none" stroke="#6a6a6a" stroke-width="15.2" stroke-linecap="butt"/>
<path d="M1433.1 1490.8 C1442.7 1480.5 1471.4 1445.1 1490.5 1428.9 C1509.7 1412.8 1533.2 1403.2 1547.9 1393.6 C1562.7 1384.0 1573.7 1375.2 1578.9 1371.5" fill="none" stroke="#dadada" stroke-width="13" stroke-linecap="butt"/>
<path d="M1434.7 1489.2 C1444.3 1478.9 1473.0 1443.5 1492.1 1427.3 C1511.3 1411.2 1534.8 1401.6 1549.5 1392.0 C1564.3 1382.4 1575.3 1373.6 1580.5 1369.9" fill="none" stroke="#6a6a6a" stroke-width="15.2" stroke-linecap="butt"/>
<path d="M1434.7 1489.2 C1444.3 1478.9 1473.0 1443.5 1492.1 1427.3 C1511.3 1411.2 1534.8 1401.6 1549.5 1392.0 C1564.3 1382.4 1575.3 1373.6 1580.5 1369.9" fill="none" stroke="#ececec" stroke-width="13" stroke-linecap="butt"/>
<path d="M1450.2 1522.7 C1457.5 1516.8 1479.6 1493.3 1494.3 1487.4 C1509.0 1481.5 1526.0 1480.0 1538.5 1487.4 C1551.0 1494.7 1564.3 1524.2 1569.4 1531.6" fill="none" stroke="#6a6a6a" stroke-width="15.2" stroke-linecap="butt"/>
<path d="M1450.2 1522.7 C1457.5 1516.8 1479.6 1493.3 1494.3 1487.4 C1509.0 1481.5 1526.0 1480.0 1538.5 1487.4 C1551.0 1494.7 1564.3 1524.2 1569.4 1531.6" fill="none" stroke="#cfcfcf" stroke-width="13" stroke-linecap="butt"/>
<path d="M1446.4 1526.1 C1453.7 1520.2 1475.8 1496.7 1490.5 1490.8 C1505.2 1484.9 1522.2 1483.4 1534.7 1490.8 C1547.2 1498.1 1560.5 1527.6 1565.6 1535.0" fill="none" stroke="#6a6a6a" stroke-width="15.2" stroke-linecap="butt"/>
<path d="M1446.4 1526.1 C1453.7 1520.2 1475.8 1496.7 1490.5 1490.8 C1505.2 1484.9 1522.2 1483.4 1534.7 1490.8 C1547.2 1498.1 1560.5 1527.6 1565.6 1535.0" fill="none" stroke="#dadada" stroke-width="13" stroke-linecap="butt"/>
<path d="M1448.0 1524.5 C1455.3 1518.6 1477.4 1495.1 1492.1 1489.2 C1506.8 1483.3 1523.8 1481.8 1536.3 1489.2 C1548.8 1496.5 1562.1 1526.0 1567.2 1533.4" fill="none" stroke="#6a6a6a" stroke-width="15.2" stroke-linecap="butt"/>
<path d="M1448.0 1524.5 C1455.3 1518.6 1477.4 1495.1 1492.1 1489.2 C1506.8 1483.3 1523.8 1481.8 1536.3 1489.2 C1548.8 1496.5 1562.1 1526.0 1567.2 1533.4" fill="none" stroke="#ececec" stroke-width="13" stroke-linecap="butt"/>
<path d="M1454.6 1549.2 C1463.4 1544.8 1491.4 1522.7 1507.6 1522.7 C1523.8 1522.7 1539.2 1540.4 1551.7 1549.2 C1564.3 1558.1 1577.5 1571.3 1582.7 1575.7" fill="none" stroke="#6a6a6a" stroke-width="15.2" stroke-linecap="butt"/>
<path d="M1454.6 1549.2 C1463.4 1544.8 1491.4 1522.7 1507.6 1522.7 C1523.8 1522.7 1539.2 1540.4 1551.7 1549.2 C1564.3 1558.1 1577.5 1571.3 1582.7 1575.7" fill="none" stroke="#cfcfcf" stroke-width="13" stroke-linecap="butt"/>
<path d="M1450.8 1552.6 C1459.6 1548.2 1487.6 1526.1 1503.8 1526.1 C1520.0 1526.1 1535.4 1543.8 1547.9 1552.6 C1560.5 1561.5 1573.7 1574.7 1578.9 1579.1" fill="none" stroke="#6a6a6a" stroke-width="15.2" stroke-linecap="butt"/>
<path d="M1450.8 1552.6 C1459.6 1548.2 1487.6 1526.1 1503.8 1526.1 C1520.0 1526.1 1535.4 1543.8 1547.9 1552.6 C1560.5 1561.5 1573.7 1574.7 1578.9 1579.1" fill="none" stroke="#dadada" stroke-width="13" stroke-linecap="butt"/>
<path d="M1452.4 1551.0 C1461.2 1546.6 1489.2 1524.5 1505.4 1524.5 C1521.6 1524.5 1537.0 1542.2 1549.5 1551.0 C1562.1 1559.9 1575.3 1573.1 1580.5 1577.5" fill="none" stroke="#6a6a6a" stroke-width="15.2" stroke-linecap="butt"/>
<path d="M1452.4 1551.0 C1461.2 1546.6 1489.2 1524.5 1505.4 1524.5 C1521.6 1524.5 1537.0 1542.2 1549.5 1551.0 C1562.1 1559.9 1575.3 1573.1 1580.5 1577.5" fill="none" stroke="#ececec" stroke-width="13" stroke-linecap="butt"/>
<path d="M1472.2 1575.7 C1479.6 1572.8 1501.7 1558.1 1516.4 1558.1 C1531.1 1558.1 1553.2 1572.8 1560.6 1575.7" fill="none" stroke="#6a6a6a" stroke-width="15.2" stroke-linecap="butt"/>
<path d="M1472.2 1575.7 C1479.6 1572.8 1501.7 1558.1 1516.4 1558.1 C1531.1 1558.1 1553.2 1572.8 1560.6 1575.7" fill="none" stroke="#cfcfcf" stroke-width="13" stroke-linecap="butt"/>
<path d="M1468.4 1579.1 C1475.8 1576.2 1497.9 1561.5 1512.6 1561.5 C1527.3 1561.5 1549.4 1576.2 1556.8 1579.1" fill="none" stroke="#6a6a6a" stroke-width="15.2" stroke-linecap="butt"/>
<path d="M1468.4 1579.1 C1475.8 1576.2 1497.9 1561.5 1512.6 1561.5 C1527.3 1561.5 1549.4 1576.2 1556.8 1579.1" fill="none" stroke="#dadada" stroke-width="13" stroke-linecap="butt"/>
<path d="M1470.0 1577.5 C1477.4 1574.6 1499.5 1559.9 1514.2 1559.9 C1528.9 1559.9 1551.0 1574.6 1558.4 1577.5" fill="none" stroke="#6a6a6a" stroke-width="15.2" stroke-linecap="butt"/>
<path d="M1470.0 1577.5 C1477.4 1574.6 1499.5 1559.9 1514.2 1559.9 C1528.9 1559.9 1551.0 1574.6 1558.4 1577.5" fill="none" stroke="#ececec" stroke-width="13" stroke-linecap="butt"/>
<ellipse cx="1456.8" cy="1615.1" rx="30.9" ry="24.7" fill="none" stroke="#3a3a3a" stroke-width="9"/>
<ellipse cx="1456.8" cy="1615.1" rx="30.9" ry="24.7" fill="none" stroke="#7a7a7a" stroke-width="6"/>
<ellipse cx="1434.7" cy="1604.0" rx="24.3" ry="19.4" fill="none" stroke="#3a3a3a" stroke-width="9"/>
<ellipse cx="1434.7" cy="1604.0" rx="24.3" ry="19.4" fill="none" stroke="#7a7a7a" stroke-width="6"/>
<ellipse cx="1390.5" cy="1617.3" rx="19.9" ry="15.9" fill="none" stroke="#3a3a3a" stroke-width="9"/>
<ellipse cx="1390.5" cy="1617.3" rx="19.9" ry="15.9" fill="none" stroke="#7a7a7a" stroke-width="6"/>
<path d="M1293.4 1467.1 L1311.0 1458.3 L1328.7 1467.1 L1328.7 1484.8 L1311.0 1489.2 L1293.4 1480.4 L1293.4 1467.1 L1328.7 1467.1 L1364.0 1453.9 L1381.7 1436.2 L1399.4 1445.0 L1408.2 1427.3" fill="none" stroke="#e08a1c" stroke-width="4.2" stroke-linejoin="round"/>
<path d="M1346.4 1427.3 L1364.0 1453.9 L1381.7 1471.5 L1399.4 1462.7" fill="none" stroke="#e08a1c" stroke-width="4.2" stroke-linejoin="round"/>
<path d="M1372.9 1418.5 L1390.5 1436.2 L1403.8 1409.7" fill="none" stroke="#e08a1c" stroke-width="4.2" stroke-linejoin="round"/>
<path d="M1289.8 1460.5 L1307.5 1451.6 L1325.2 1460.5 L1325.2 1478.1 L1307.5 1482.6 L1289.8 1473.7 L1289.8 1460.5 L1325.2 1460.5 L1360.5 1447.2 L1378.2 1429.6 L1395.8 1438.4 L1404.7 1420.7" fill="none" stroke="#d8d830" stroke-width="4.2" stroke-linejoin="round"/>
<path d="M1342.8 1420.7 L1360.5 1447.2 L1378.2 1464.9 L1395.8 1456.1" fill="none" stroke="#d8d830" stroke-width="4.2" stroke-linejoin="round"/>
<path d="M1369.3 1411.9 L1387.0 1429.6 L1400.2 1403.1" fill="none" stroke="#d8d830" stroke-width="4.2" stroke-linejoin="round"/>
<path d="M1296.0 1453.9 L1313.7 1445.0 L1331.3 1453.9 L1331.3 1471.5 L1313.7 1475.9 L1296.0 1467.1 L1296.0 1453.9 L1331.3 1453.9 L1366.7 1440.6 L1384.3 1422.9 L1402.0 1431.8 L1410.8 1414.1" fill="none" stroke="#70c030" stroke-width="4.2" stroke-linejoin="round"/>
<path d="M1349.0 1414.1 L1366.7 1440.6 L1384.3 1458.3 L1402.0 1449.4" fill="none" stroke="#70c030" stroke-width="4.2" stroke-linejoin="round"/>
<path d="M1375.5 1405.3 L1393.2 1422.9 L1406.4 1396.4" fill="none" stroke="#70c030" stroke-width="4.2" stroke-linejoin="round"/>
<path d="M1298.7 1462.7 L1316.3 1453.9 L1334.0 1462.7 L1334.0 1480.4 L1316.3 1484.8 L1298.7 1475.9 L1298.7 1462.7 L1334.0 1462.7 L1369.3 1449.4 L1387.0 1431.8 L1404.7 1440.6 L1413.5 1422.9" fill="none" stroke="#2040c0" stroke-width="4.2" stroke-linejoin="round"/>
<path d="M1351.7 1422.9 L1369.3 1449.4 L1387.0 1467.1 L1404.7 1458.3" fill="none" stroke="#2040c0" stroke-width="4.2" stroke-linejoin="round"/>
<path d="M1378.2 1414.1 L1395.8 1431.8 L1409.1 1405.3" fill="none" stroke="#2040c0" stroke-width="4.2" stroke-linejoin="round"/>
<path d="M1408.2 1374.3 L1412.6 1409.7 L1406.0 1445.0 L1394.9 1467.1 L1381.7 1489.2 L1364.0 1506.9 L1346.4 1528.9" fill="none" stroke="#d42020" stroke-width="5.5" stroke-linejoin="round"/>
<path d="M1390.5 1440.6 L1377.3 1462.7 L1368.4 1489.2" fill="none" stroke="#d42020" stroke-width="5" stroke-linejoin="round"/>
</svg>
</body></html>
